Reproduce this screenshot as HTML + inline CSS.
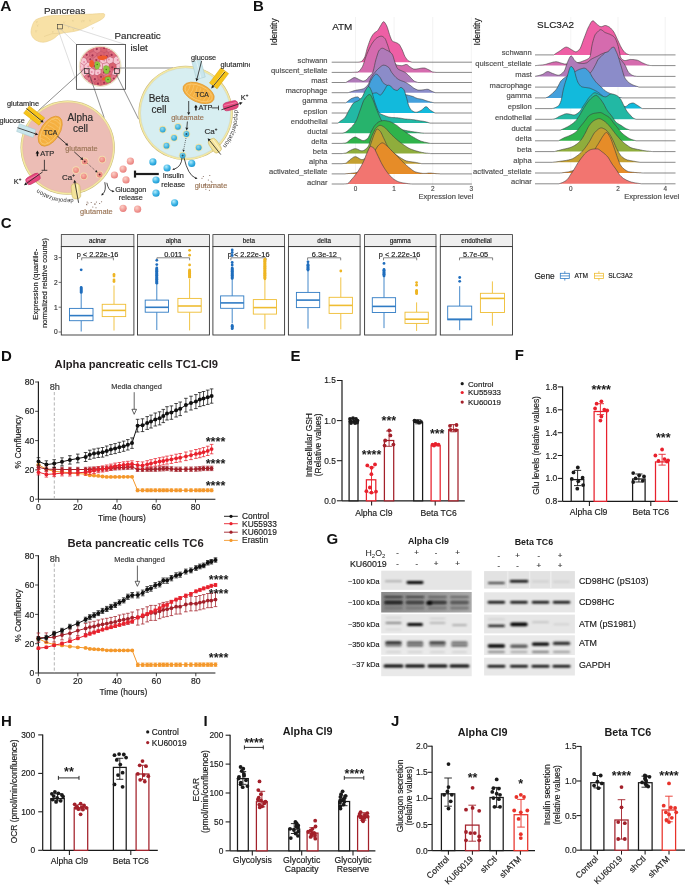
<!DOCTYPE html>
<html><head><meta charset="utf-8"><title>Figure</title>
<style>
html,body{margin:0;padding:0;background:#fff;}
body{width:685px;height:885px;overflow:hidden;}
svg{display:block;will-change:transform;font-family:"Liberation Sans", sans-serif;}
</style></head><body>
<svg width="685" height="885" viewBox="0 0 685 885" fill="#231f20">
<text x="252.9" y="10.8" font-size="15" font-weight="bold" fill="#111">B</text>
<line x1="355.5" y1="17" x2="355.5" y2="187" stroke="#ebebeb" stroke-width="0.6"/>
<line x1="394.1" y1="17" x2="394.1" y2="187" stroke="#ebebeb" stroke-width="0.6"/>
<line x1="432.7" y1="17" x2="432.7" y2="187" stroke="#ebebeb" stroke-width="0.6"/>
<line x1="471.3" y1="17" x2="471.3" y2="187" stroke="#ebebeb" stroke-width="0.6"/>
<path d="M358,62.2 L358,62.2 358.7,62.1 359.4,62 360.1,61.9 360.8,61.7 361.5,61.4 362.2,60.8 362.9,60.1 363.6,59.1 364.3,58.1 365,56.5 365.7,54.2 366.4,51.5 367.1,48.7 367.8,46.4 368.5,44.4 369.2,42.4 369.9,40.5 370.6,38.7 371.3,37.3 372,36.1 372.7,34.9 373.4,34 374.1,33.2 374.8,32.6 375.5,32.1 376.2,31.7 376.9,31.3 377.6,30.6 378.3,29.6 379,28.4 379.7,27.2 380.4,26.1 381.1,24.9 381.8,23.6 382.5,22.5 383.2,21.8 383.9,21.8 384.6,22.3 385.3,23.3 386,24.5 386.7,25.8 387.4,27.6 388.1,29.8 388.8,32.2 389.5,34.5 390.2,36.4 390.9,38.3 391.6,40 392.3,41.1 393,41.5 393.7,41.8 394.4,42 395.1,42.2 395.8,42.5 396.5,42.8 397.2,43.1 397.9,43.5 398.6,43.9 399.3,44.6 400,45.6 400.7,46.9 401.4,48.2 402.1,49.6 402.8,51.3 403.5,53.1 404.2,54.9 404.9,56.4 405.6,57.5 406.3,58.5 407,59.5 407.7,60.2 408.4,60.8 409.1,61.2 409.8,61.5 410.5,61.7 411.2,61.9 411.9,62.1 412.2,62.2 L412.2,62.2 Z" fill="#ee5fa5" stroke="none" stroke-width="1"/>
<polyline points="331.7,62.2 358,62.2 358.7,62.1 359.4,62 360.1,61.9 360.8,61.7 361.5,61.4 362.2,60.8 362.9,60.1 363.6,59.1 364.3,58.1 365,56.5 365.7,54.2 366.4,51.5 367.1,48.7 367.8,46.4 368.5,44.4 369.2,42.4 369.9,40.5 370.6,38.7 371.3,37.3 372,36.1 372.7,34.9 373.4,34 374.1,33.2 374.8,32.6 375.5,32.1 376.2,31.7 376.9,31.3 377.6,30.6 378.3,29.6 379,28.4 379.7,27.2 380.4,26.1 381.1,24.9 381.8,23.6 382.5,22.5 383.2,21.8 383.9,21.8 384.6,22.3 385.3,23.3 386,24.5 386.7,25.8 387.4,27.6 388.1,29.8 388.8,32.2 389.5,34.5 390.2,36.4 390.9,38.3 391.6,40 392.3,41.1 393,41.5 393.7,41.8 394.4,42 395.1,42.2 395.8,42.5 396.5,42.8 397.2,43.1 397.9,43.5 398.6,43.9 399.3,44.6 400,45.6 400.7,46.9 401.4,48.2 402.1,49.6 402.8,51.3 403.5,53.1 404.2,54.9 404.9,56.4 405.6,57.5 406.3,58.5 407,59.5 407.7,60.2 408.4,60.8 409.1,61.2 409.8,61.5 410.5,61.7 411.2,61.9 411.9,62.1 412.2,62.2 471.9,62.2" fill="none" stroke="#3a3a3a" stroke-width="0.6" stroke-linejoin="round"/>
<path d="M352,72.4 L352,72.4 352.7,72.3 353.4,72.3 354.1,72.3 354.8,72.2 355.5,72.2 356.2,72.1 356.9,72.1 357.6,72 358.3,71.7 359,71.2 359.7,70.5 360.4,69.7 361.1,68.7 361.8,67.7 362.5,66.6 363.2,64.9 363.9,62.9 364.6,60.7 365.3,58.5 366,56.4 366.7,54.6 367.4,52.9 368.1,51.3 368.8,49.7 369.5,48.2 370.2,46.8 370.9,45.5 371.6,44.2 372.3,43.1 373,42.1 373.7,41.2 374.4,40.3 375.1,39.5 375.8,38.7 376.5,38.1 377.2,37.7 377.9,37.3 378.6,36.9 379.3,36.6 380,36.4 380.7,36.2 381.4,36.2 382.1,36.3 382.8,36.6 383.5,37.1 384.2,37.7 384.9,38.4 385.6,39.5 386.3,41.3 387,43.3 387.7,45.2 388.4,47.3 389.1,49.5 389.8,51.7 390.5,53.7 391.2,55.9 391.9,57.9 392.6,59.8 393.3,61.2 394,62.3 394.7,63.2 395.4,64 396.1,64.6 396.8,65 397.5,65.2 398.2,65.3 398.9,65.4 399.6,65.5 400.3,65.6 401,65.6 401.7,65.7 402.4,65.6 403.1,65.4 403.8,65.1 404.5,64.9 405.2,64.6 405.9,64.5 406.6,64.5 407.3,64.7 408,65.3 408.7,65.9 409.4,66.5 410.1,67 410.8,67.4 411.5,67.9 412.2,68.3 412.9,68.7 413.6,69 414.3,69.1 415,69.1 415.7,69.1 416.4,69 417.1,68.9 417.8,68.8 418.5,68.7 419.2,68.6 419.9,68.4 420.6,68.3 421.3,68.2 422,68.1 422.7,68 423.4,68 424.1,68 424.8,68.1 425.5,68.3 426.2,68.6 426.9,68.9 427.6,69.3 428.3,69.6 429,69.9 429.7,70.3 430.4,70.7 431.1,71.2 431.8,71.6 432.5,71.9 433.2,72 433.9,72.1 434.6,72.2 435.3,72.3 436,72.3 436,72.4 L436,72.4 Z" fill="#d56bae" stroke="none" stroke-width="1"/>
<polyline points="331.7,72.4 352,72.4 352.7,72.3 353.4,72.3 354.1,72.3 354.8,72.2 355.5,72.2 356.2,72.1 356.9,72.1 357.6,72 358.3,71.7 359,71.2 359.7,70.5 360.4,69.7 361.1,68.7 361.8,67.7 362.5,66.6 363.2,64.9 363.9,62.9 364.6,60.7 365.3,58.5 366,56.4 366.7,54.6 367.4,52.9 368.1,51.3 368.8,49.7 369.5,48.2 370.2,46.8 370.9,45.5 371.6,44.2 372.3,43.1 373,42.1 373.7,41.2 374.4,40.3 375.1,39.5 375.8,38.7 376.5,38.1 377.2,37.7 377.9,37.3 378.6,36.9 379.3,36.6 380,36.4 380.7,36.2 381.4,36.2 382.1,36.3 382.8,36.6 383.5,37.1 384.2,37.7 384.9,38.4 385.6,39.5 386.3,41.3 387,43.3 387.7,45.2 388.4,47.3 389.1,49.5 389.8,51.7 390.5,53.7 391.2,55.9 391.9,57.9 392.6,59.8 393.3,61.2 394,62.3 394.7,63.2 395.4,64 396.1,64.6 396.8,65 397.5,65.2 398.2,65.3 398.9,65.4 399.6,65.5 400.3,65.6 401,65.6 401.7,65.7 402.4,65.6 403.1,65.4 403.8,65.1 404.5,64.9 405.2,64.6 405.9,64.5 406.6,64.5 407.3,64.7 408,65.3 408.7,65.9 409.4,66.5 410.1,67 410.8,67.4 411.5,67.9 412.2,68.3 412.9,68.7 413.6,69 414.3,69.1 415,69.1 415.7,69.1 416.4,69 417.1,68.9 417.8,68.8 418.5,68.7 419.2,68.6 419.9,68.4 420.6,68.3 421.3,68.2 422,68.1 422.7,68 423.4,68 424.1,68 424.8,68.1 425.5,68.3 426.2,68.6 426.9,68.9 427.6,69.3 428.3,69.6 429,69.9 429.7,70.3 430.4,70.7 431.1,71.2 431.8,71.6 432.5,71.9 433.2,72 433.9,72.1 434.6,72.2 435.3,72.3 436,72.3 436,72.4 471.9,72.4" fill="none" stroke="#3a3a3a" stroke-width="0.6" stroke-linejoin="round"/>
<path d="M345.8,82.5 L345.8,82.5 346.5,82.1 347.2,81.7 347.9,81.2 348.6,80.8 349.3,80.4 350,80 350.7,79.6 351.4,79.1 352.1,78.6 352.8,78.2 353.5,77.8 354.2,77.6 354.9,77.6 355.6,77.8 356.3,78.1 357,78.4 357.7,78.8 358.4,79.2 359.1,79.5 359.8,79.9 360.5,80.2 361.2,80.5 361.9,80.8 362.6,81 363.3,81.1 364,81 364.7,80.7 365.4,80.4 366.1,79.9 366.8,79.3 367.5,78.6 368.2,77.7 368.9,76.8 369.6,76.1 370.3,75.5 371,74.9 371.7,74.1 372.4,73.2 373.1,71.5 373.8,68.8 374.5,65.6 375.2,62.4 375.9,59.6 376.6,57.3 377.3,55 378,52.9 378.7,51.1 379.4,50 380.1,49.4 380.8,48.8 381.5,48.4 382.2,48.2 382.9,48.3 383.6,48.5 384.3,48.9 385,49.3 385.7,49.7 386.4,50.1 387.1,50.4 387.8,50.7 388.5,51.1 389.2,51.5 389.9,52 390.6,52.5 391.3,53.2 392,54 392.7,55.2 393.4,57.2 394.1,59.7 394.8,61.9 395.5,63.9 396.2,65.9 396.9,67.5 397.6,68.6 398.3,69.2 399,69.6 399.7,70 400.4,70.3 401.1,70.6 401.8,70.9 402.5,71.2 403.2,71.5 403.9,71.8 404.6,72.2 405.3,72.6 406,73.1 406.7,73.7 407.4,74.3 408.1,74.9 408.8,75.6 409.5,76.3 410.2,77.1 410.9,77.9 411.6,78.6 412.3,79.3 413,80.1 413.7,80.7 414.4,81.2 415.1,81.6 415.8,81.8 416.5,82 417.2,82.2 417.9,82.5 418,82.5 L418,82.5 Z" fill="#b07ab9" stroke="none" stroke-width="1"/>
<polyline points="331.7,82.5 345.8,82.5 346.5,82.1 347.2,81.7 347.9,81.2 348.6,80.8 349.3,80.4 350,80 350.7,79.6 351.4,79.1 352.1,78.6 352.8,78.2 353.5,77.8 354.2,77.6 354.9,77.6 355.6,77.8 356.3,78.1 357,78.4 357.7,78.8 358.4,79.2 359.1,79.5 359.8,79.9 360.5,80.2 361.2,80.5 361.9,80.8 362.6,81 363.3,81.1 364,81 364.7,80.7 365.4,80.4 366.1,79.9 366.8,79.3 367.5,78.6 368.2,77.7 368.9,76.8 369.6,76.1 370.3,75.5 371,74.9 371.7,74.1 372.4,73.2 373.1,71.5 373.8,68.8 374.5,65.6 375.2,62.4 375.9,59.6 376.6,57.3 377.3,55 378,52.9 378.7,51.1 379.4,50 380.1,49.4 380.8,48.8 381.5,48.4 382.2,48.2 382.9,48.3 383.6,48.5 384.3,48.9 385,49.3 385.7,49.7 386.4,50.1 387.1,50.4 387.8,50.7 388.5,51.1 389.2,51.5 389.9,52 390.6,52.5 391.3,53.2 392,54 392.7,55.2 393.4,57.2 394.1,59.7 394.8,61.9 395.5,63.9 396.2,65.9 396.9,67.5 397.6,68.6 398.3,69.2 399,69.6 399.7,70 400.4,70.3 401.1,70.6 401.8,70.9 402.5,71.2 403.2,71.5 403.9,71.8 404.6,72.2 405.3,72.6 406,73.1 406.7,73.7 407.4,74.3 408.1,74.9 408.8,75.6 409.5,76.3 410.2,77.1 410.9,77.9 411.6,78.6 412.3,79.3 413,80.1 413.7,80.7 414.4,81.2 415.1,81.6 415.8,81.8 416.5,82 417.2,82.2 417.9,82.5 418,82.5 471.9,82.5" fill="none" stroke="#3a3a3a" stroke-width="0.6" stroke-linejoin="round"/>
<path d="M348.2,92.7 L348.2,92.7 348.9,92.4 349.6,92.2 350.3,92 351,91.7 351.7,91.5 352.4,91.3 353.1,91 353.8,90.8 354.5,90.6 355.2,90.5 355.9,90.3 356.6,90.1 357.3,90 358,89.9 358.7,89.8 359.4,89.7 360.1,89.6 360.8,89.4 361.5,89.3 362.2,89.1 362.9,88.9 363.6,88.7 364.3,88.3 365,87.8 365.7,87.2 366.4,86.5 367.1,85.8 367.8,84.9 368.5,83.9 369.2,82.4 369.9,80.6 370.6,78.9 371.3,77.4 372,76.3 372.7,75.2 373.4,74.3 374.1,73.4 374.8,72.6 375.5,71.7 376.2,70.9 376.9,70.1 377.6,69.4 378.3,68.7 379,68.1 379.7,67.5 380.4,66.9 381.1,66.3 381.8,65.8 382.5,65.4 383.2,65.2 383.9,65.2 384.6,65.3 385.3,65.4 386,65.7 386.7,66.1 387.4,66.5 388.1,67 388.8,67.5 389.5,68.3 390.2,69.7 390.9,71.1 391.6,72.3 392.3,73.2 393,74.1 393.7,75 394.4,75.8 395.1,76.6 395.8,77.3 396.5,77.9 397.2,78.5 397.9,79 398.6,79.5 399.3,79.9 400,80.2 400.7,80.5 401.4,80.8 402.1,81 402.8,81.3 403.5,81.5 404.2,81.8 404.9,82.1 405.6,82.5 406.3,82.8 407,83.2 407.7,83.7 408.4,84.1 409.1,84.6 409.8,85 410.5,85.5 411.2,86.1 411.9,86.7 412.6,87.2 413.3,87.8 414,88.3 414.7,88.6 415.4,89 416.1,89.3 416.8,89.6 417.5,89.9 418.2,90.1 418.9,90.1 419.6,90.1 420.3,90.1 421,90 421.7,90 422.4,89.9 423.1,89.8 423.8,89.8 424.5,89.6 425.2,89.5 425.9,89.4 426.6,89.3 427.3,89.3 428,89.3 428.7,89.5 429.4,89.9 430.1,90.3 430.8,90.8 431.5,91.1 432.2,91.4 432.9,91.7 433.6,92 434.3,92.3 435,92.6 435,92.7 L435,92.7 Z" fill="#8b8cc9" stroke="none" stroke-width="1"/>
<polyline points="331.7,92.7 348.2,92.7 348.9,92.4 349.6,92.2 350.3,92 351,91.7 351.7,91.5 352.4,91.3 353.1,91 353.8,90.8 354.5,90.6 355.2,90.5 355.9,90.3 356.6,90.1 357.3,90 358,89.9 358.7,89.8 359.4,89.7 360.1,89.6 360.8,89.4 361.5,89.3 362.2,89.1 362.9,88.9 363.6,88.7 364.3,88.3 365,87.8 365.7,87.2 366.4,86.5 367.1,85.8 367.8,84.9 368.5,83.9 369.2,82.4 369.9,80.6 370.6,78.9 371.3,77.4 372,76.3 372.7,75.2 373.4,74.3 374.1,73.4 374.8,72.6 375.5,71.7 376.2,70.9 376.9,70.1 377.6,69.4 378.3,68.7 379,68.1 379.7,67.5 380.4,66.9 381.1,66.3 381.8,65.8 382.5,65.4 383.2,65.2 383.9,65.2 384.6,65.3 385.3,65.4 386,65.7 386.7,66.1 387.4,66.5 388.1,67 388.8,67.5 389.5,68.3 390.2,69.7 390.9,71.1 391.6,72.3 392.3,73.2 393,74.1 393.7,75 394.4,75.8 395.1,76.6 395.8,77.3 396.5,77.9 397.2,78.5 397.9,79 398.6,79.5 399.3,79.9 400,80.2 400.7,80.5 401.4,80.8 402.1,81 402.8,81.3 403.5,81.5 404.2,81.8 404.9,82.1 405.6,82.5 406.3,82.8 407,83.2 407.7,83.7 408.4,84.1 409.1,84.6 409.8,85 410.5,85.5 411.2,86.1 411.9,86.7 412.6,87.2 413.3,87.8 414,88.3 414.7,88.6 415.4,89 416.1,89.3 416.8,89.6 417.5,89.9 418.2,90.1 418.9,90.1 419.6,90.1 420.3,90.1 421,90 421.7,90 422.4,89.9 423.1,89.8 423.8,89.8 424.5,89.6 425.2,89.5 425.9,89.4 426.6,89.3 427.3,89.3 428,89.3 428.7,89.5 429.4,89.9 430.1,90.3 430.8,90.8 431.5,91.1 432.2,91.4 432.9,91.7 433.6,92 434.3,92.3 435,92.6 435,92.7 471.9,92.7" fill="none" stroke="#3a3a3a" stroke-width="0.6" stroke-linejoin="round"/>
<path d="M345.8,102.8 L345.8,102.8 346.5,102.3 347.2,101.8 347.9,101.2 348.6,100.6 349.3,100.1 350,99.6 350.7,99.1 351.4,98.6 352.1,98.3 352.8,98 353.5,97.8 354.2,97.5 354.9,97.3 355.6,97.1 356.3,97 357,96.9 357.7,96.9 358.4,97.3 359.1,97.9 359.8,98.6 360.5,99.1 361.2,99.2 361.9,99 362.6,98.6 363.3,98.1 364,97.4 364.7,96.7 365.4,95.3 366.1,93.3 366.8,91.1 367.5,88.9 368.2,87 368.9,85.2 369.6,83.4 370.3,81.6 371,80.2 371.7,79 372.4,77.9 373.1,76.8 373.8,75.9 374.5,75 375.2,74.4 375.9,74.1 376.6,74.2 377.3,74.5 378,75.1 378.7,75.9 379.4,76.7 380.1,77.5 380.8,78.7 381.5,80.1 382.2,81.4 382.9,82.5 383.6,83.2 384.3,83.7 385,84.2 385.7,84.6 386.4,85 387.1,85.5 387.8,86 388.5,86.5 389.2,87 389.9,87.5 390.6,87.9 391.3,88.4 392,88.8 392.7,89.2 393.4,89.6 394.1,90 394.8,90.3 395.5,90.7 396.2,91 396.9,91.3 397.6,91.6 398.3,91.9 399,92.2 399.7,92.5 400.4,92.8 401.1,93 401.8,93.3 402.5,93.6 403.2,93.8 403.9,94 404.6,94.3 405.3,94.5 406,94.7 406.7,94.9 407.4,95 408.1,95.2 408.8,95.4 409.5,95.5 410.2,95.7 410.9,95.9 411.6,96.1 412.3,96.3 413,96.5 413.7,96.8 414.4,97.2 415.1,97.5 415.8,97.9 416.5,98.1 417.2,98.4 417.9,98.5 418.6,98.7 419.3,98.8 420,98.9 420.7,99 421.4,99.2 422.1,99.3 422.8,99.5 423.5,99.7 424.2,100 424.9,100.2 425.6,100.5 426.3,100.7 427,101 427.7,101.2 428.4,101.4 429.1,101.6 429.8,101.8 430.5,102 431.2,102.1 431.9,102.3 432.6,102.5 433.3,102.6 434,102.8 434,102.8 L434,102.8 Z" fill="#44a0dc" stroke="none" stroke-width="1"/>
<polyline points="331.7,102.8 345.8,102.8 346.5,102.3 347.2,101.8 347.9,101.2 348.6,100.6 349.3,100.1 350,99.6 350.7,99.1 351.4,98.6 352.1,98.3 352.8,98 353.5,97.8 354.2,97.5 354.9,97.3 355.6,97.1 356.3,97 357,96.9 357.7,96.9 358.4,97.3 359.1,97.9 359.8,98.6 360.5,99.1 361.2,99.2 361.9,99 362.6,98.6 363.3,98.1 364,97.4 364.7,96.7 365.4,95.3 366.1,93.3 366.8,91.1 367.5,88.9 368.2,87 368.9,85.2 369.6,83.4 370.3,81.6 371,80.2 371.7,79 372.4,77.9 373.1,76.8 373.8,75.9 374.5,75 375.2,74.4 375.9,74.1 376.6,74.2 377.3,74.5 378,75.1 378.7,75.9 379.4,76.7 380.1,77.5 380.8,78.7 381.5,80.1 382.2,81.4 382.9,82.5 383.6,83.2 384.3,83.7 385,84.2 385.7,84.6 386.4,85 387.1,85.5 387.8,86 388.5,86.5 389.2,87 389.9,87.5 390.6,87.9 391.3,88.4 392,88.8 392.7,89.2 393.4,89.6 394.1,90 394.8,90.3 395.5,90.7 396.2,91 396.9,91.3 397.6,91.6 398.3,91.9 399,92.2 399.7,92.5 400.4,92.8 401.1,93 401.8,93.3 402.5,93.6 403.2,93.8 403.9,94 404.6,94.3 405.3,94.5 406,94.7 406.7,94.9 407.4,95 408.1,95.2 408.8,95.4 409.5,95.5 410.2,95.7 410.9,95.9 411.6,96.1 412.3,96.3 413,96.5 413.7,96.8 414.4,97.2 415.1,97.5 415.8,97.9 416.5,98.1 417.2,98.4 417.9,98.5 418.6,98.7 419.3,98.8 420,98.9 420.7,99 421.4,99.2 422.1,99.3 422.8,99.5 423.5,99.7 424.2,100 424.9,100.2 425.6,100.5 426.3,100.7 427,101 427.7,101.2 428.4,101.4 429.1,101.6 429.8,101.8 430.5,102 431.2,102.1 431.9,102.3 432.6,102.5 433.3,102.6 434,102.8 434,102.8 471.9,102.8" fill="none" stroke="#3a3a3a" stroke-width="0.6" stroke-linejoin="round"/>
<path d="M355,113 L355,113 355.7,112.5 356.4,112.2 357.1,111.8 357.8,111.4 358.5,111 359.2,110.5 359.9,110 360.6,109.5 361.3,108.9 362,108.3 362.7,107.6 363.4,106.8 364.1,106.1 364.8,105.2 365.5,104.2 366.2,103.1 366.9,101.8 367.6,100.6 368.3,99.5 369,98.3 369.7,97.1 370.4,95.9 371.1,94.9 371.8,94 372.5,93.5 373.2,93.3 373.9,93.1 374.6,93 375.3,92.9 376,92.9 376.7,92.9 377.4,93.3 378.1,93.8 378.8,94.4 379.5,94.8 380.2,95 380.9,94.8 381.6,94.2 382.3,93.2 383,92.1 383.7,91.1 384.4,90.1 385.1,88.8 385.8,87.5 386.5,86.3 387.2,85.5 387.9,85.2 388.6,85.2 389.3,85.4 390,85.7 390.7,86.1 391.4,86.8 392.1,87.7 392.8,88.5 393.5,89.1 394.2,89.5 394.9,89.8 395.6,90.1 396.3,90.3 397,90.3 397.7,90.2 398.4,89.6 399.1,88.7 399.8,87.9 400.5,87.5 401.2,87.5 401.9,87.8 402.6,88.3 403.3,89 404,89.8 404.7,91.5 405.4,93.8 406.1,96.3 406.8,98.6 407.5,101.4 408.2,104.1 408.9,106.1 409.6,107.5 410.3,108.7 411,109.7 411.7,110.4 412.4,110.9 413.1,111.3 413.8,111.7 414.5,112 415.2,112.2 415.9,112.2 416.6,112.2 417.3,112.1 418,111.8 418.7,111.6 419.4,111.2 420.1,110.9 420.8,110.5 421.5,110.2 422.2,109.6 422.9,108.9 423.6,108.2 424.3,107.6 425,107.1 425.7,106.8 426.4,106.8 427.1,107.1 427.8,107.7 428.5,108.5 429.2,109.2 429.9,109.9 430.6,110.4 431.3,110.8 432,111.2 432.7,111.7 433.4,112.1 434.1,112.5 434.8,112.9 434.9,113 L434.9,113 Z" fill="#12badc" stroke="none" stroke-width="1"/>
<polyline points="331.7,113 355,113 355.7,112.5 356.4,112.2 357.1,111.8 357.8,111.4 358.5,111 359.2,110.5 359.9,110 360.6,109.5 361.3,108.9 362,108.3 362.7,107.6 363.4,106.8 364.1,106.1 364.8,105.2 365.5,104.2 366.2,103.1 366.9,101.8 367.6,100.6 368.3,99.5 369,98.3 369.7,97.1 370.4,95.9 371.1,94.9 371.8,94 372.5,93.5 373.2,93.3 373.9,93.1 374.6,93 375.3,92.9 376,92.9 376.7,92.9 377.4,93.3 378.1,93.8 378.8,94.4 379.5,94.8 380.2,95 380.9,94.8 381.6,94.2 382.3,93.2 383,92.1 383.7,91.1 384.4,90.1 385.1,88.8 385.8,87.5 386.5,86.3 387.2,85.5 387.9,85.2 388.6,85.2 389.3,85.4 390,85.7 390.7,86.1 391.4,86.8 392.1,87.7 392.8,88.5 393.5,89.1 394.2,89.5 394.9,89.8 395.6,90.1 396.3,90.3 397,90.3 397.7,90.2 398.4,89.6 399.1,88.7 399.8,87.9 400.5,87.5 401.2,87.5 401.9,87.8 402.6,88.3 403.3,89 404,89.8 404.7,91.5 405.4,93.8 406.1,96.3 406.8,98.6 407.5,101.4 408.2,104.1 408.9,106.1 409.6,107.5 410.3,108.7 411,109.7 411.7,110.4 412.4,110.9 413.1,111.3 413.8,111.7 414.5,112 415.2,112.2 415.9,112.2 416.6,112.2 417.3,112.1 418,111.8 418.7,111.6 419.4,111.2 420.1,110.9 420.8,110.5 421.5,110.2 422.2,109.6 422.9,108.9 423.6,108.2 424.3,107.6 425,107.1 425.7,106.8 426.4,106.8 427.1,107.1 427.8,107.7 428.5,108.5 429.2,109.2 429.9,109.9 430.6,110.4 431.3,110.8 432,111.2 432.7,111.7 433.4,112.1 434.1,112.5 434.8,112.9 434.9,113 471.9,113" fill="none" stroke="#3a3a3a" stroke-width="0.6" stroke-linejoin="round"/>
<path d="M338,123.1 L338,123.1 338.7,122.5 339.4,121.9 340.1,121.3 340.8,120.8 341.5,120.3 342.2,119.9 342.9,119.4 343.6,118.9 344.3,118.3 345,117.6 345.7,116.5 346.4,115.3 347.1,113.9 347.8,112.5 348.5,111.1 349.2,109.9 349.9,108.7 350.6,107.5 351.3,106.3 352,105.1 352.7,104.1 353.4,103.2 354.1,102.6 354.8,102.2 355.5,101.9 356.2,101.6 356.9,101.3 357.6,101 358.3,100.6 359,100.2 359.7,99.6 360.4,99 361.1,98.3 361.8,97.4 362.5,96.5 363.2,95.1 363.9,93.6 364.6,92 365.3,90.6 366,89.4 366.7,88.3 367.4,87.3 368.1,86.6 368.8,86.4 369.5,87 370.2,88.2 370.9,89.7 371.6,91.2 372.3,93.2 373,95.7 373.7,98.3 374.4,100.9 375.1,103 375.8,104.9 376.5,106.8 377.2,108.7 377.9,110.4 378.6,111.8 379.3,112.8 380,113.4 380.7,113.9 381.4,114.3 382.1,114.6 382.8,114.9 383.5,115.2 384.2,115.4 384.9,115.7 385.6,116 386.3,116.2 387,116.5 387.7,116.7 388.4,116.9 389.1,117.1 389.8,117.2 390.5,117.3 391.2,117.4 391.9,117.5 392.6,117.5 393.3,117.6 394,117.6 394.7,117.6 395.4,117.7 396.1,117.7 396.8,117.8 397.5,117.8 398.2,117.9 398.9,118 399.6,118.1 400.3,118.2 401,118.3 401.7,118.4 402.4,118.5 403.1,118.7 403.8,118.8 404.5,118.9 405.2,119 405.9,119.1 406.6,119.1 407.3,119.2 408,119.2 408.7,119.3 409.4,119.3 410.1,119.4 410.8,119.4 411.5,119.5 412.2,119.6 412.9,119.7 413.6,119.7 414.3,119.8 415,120 415.7,120.1 416.4,120.2 417.1,120.3 417.8,120.4 418.5,120.6 419.2,120.7 419.9,120.8 420.6,120.9 421.3,121 422,121.1 422.7,121.2 423.4,121.3 424.1,121.4 424.8,121.6 425.5,121.7 426.2,121.9 426.9,122.1 427.6,122.3 428.3,122.6 429,122.8 429.7,123 430,123.1 L430,123.1 Z" fill="#22b8a4" stroke="none" stroke-width="1"/>
<polyline points="331.7,123.1 338,123.1 338.7,122.5 339.4,121.9 340.1,121.3 340.8,120.8 341.5,120.3 342.2,119.9 342.9,119.4 343.6,118.9 344.3,118.3 345,117.6 345.7,116.5 346.4,115.3 347.1,113.9 347.8,112.5 348.5,111.1 349.2,109.9 349.9,108.7 350.6,107.5 351.3,106.3 352,105.1 352.7,104.1 353.4,103.2 354.1,102.6 354.8,102.2 355.5,101.9 356.2,101.6 356.9,101.3 357.6,101 358.3,100.6 359,100.2 359.7,99.6 360.4,99 361.1,98.3 361.8,97.4 362.5,96.5 363.2,95.1 363.9,93.6 364.6,92 365.3,90.6 366,89.4 366.7,88.3 367.4,87.3 368.1,86.6 368.8,86.4 369.5,87 370.2,88.2 370.9,89.7 371.6,91.2 372.3,93.2 373,95.7 373.7,98.3 374.4,100.9 375.1,103 375.8,104.9 376.5,106.8 377.2,108.7 377.9,110.4 378.6,111.8 379.3,112.8 380,113.4 380.7,113.9 381.4,114.3 382.1,114.6 382.8,114.9 383.5,115.2 384.2,115.4 384.9,115.7 385.6,116 386.3,116.2 387,116.5 387.7,116.7 388.4,116.9 389.1,117.1 389.8,117.2 390.5,117.3 391.2,117.4 391.9,117.5 392.6,117.5 393.3,117.6 394,117.6 394.7,117.6 395.4,117.7 396.1,117.7 396.8,117.8 397.5,117.8 398.2,117.9 398.9,118 399.6,118.1 400.3,118.2 401,118.3 401.7,118.4 402.4,118.5 403.1,118.7 403.8,118.8 404.5,118.9 405.2,119 405.9,119.1 406.6,119.1 407.3,119.2 408,119.2 408.7,119.3 409.4,119.3 410.1,119.4 410.8,119.4 411.5,119.5 412.2,119.6 412.9,119.7 413.6,119.7 414.3,119.8 415,120 415.7,120.1 416.4,120.2 417.1,120.3 417.8,120.4 418.5,120.6 419.2,120.7 419.9,120.8 420.6,120.9 421.3,121 422,121.1 422.7,121.2 423.4,121.3 424.1,121.4 424.8,121.6 425.5,121.7 426.2,121.9 426.9,122.1 427.6,122.3 428.3,122.6 429,122.8 429.7,123 430,123.1 471.9,123.1" fill="none" stroke="#3a3a3a" stroke-width="0.6" stroke-linejoin="round"/>
<path d="M342,133.2 L342,133.2 342.7,133.1 343.4,132.9 344.1,132.7 344.8,132.5 345.5,132.2 346.2,131.7 346.9,131.3 347.6,130.7 348.3,130.1 349,129.5 349.7,128.9 350.4,128.2 351.1,127.5 351.8,126.7 352.5,126 353.2,125.2 353.9,124.3 354.6,123.4 355.3,122.3 356,121.1 356.7,119.7 357.4,118 358.1,116 358.8,113.9 359.5,111.9 360.2,110 360.9,108.1 361.6,106 362.3,104 363,102.1 363.7,100.5 364.4,99.3 365.1,98.4 365.8,97.5 366.5,96.6 367.2,95.9 367.9,95.2 368.6,94.8 369.3,94.5 370,94.5 370.7,95.1 371.4,96.4 372.1,97.9 372.8,99.4 373.5,101 374.2,102.9 374.9,104.9 375.6,106.9 376.3,108.7 377,110.4 377.7,112.1 378.4,113.7 379.1,115.3 379.8,116.9 380.5,118.5 381.2,120 381.9,121.2 382.6,122.1 383.3,122.9 384,123.5 384.7,124.1 385.4,124.5 386.1,124.9 386.8,125.3 387.5,125.6 388.2,125.9 388.9,126.2 389.6,126.4 390.3,126.7 391,126.9 391.7,127.2 392.4,127.4 393.1,127.6 393.8,127.8 394.5,128 395.2,128.1 395.9,128.3 396.6,128.5 397.3,128.6 398,128.8 398.7,129 399.4,129.1 400.1,129.3 400.8,129.4 401.5,129.6 402.2,129.7 402.9,129.9 403.6,130 404.3,130.2 405,130.3 405.7,130.5 406.4,130.6 407.1,130.7 407.8,130.9 408.5,131 409.2,131.1 409.9,131.2 410.6,131.4 411.3,131.5 412,131.6 412.7,131.7 413.4,131.8 414.1,131.9 414.8,132 415.5,132.1 416.2,132.2 416.9,132.3 417.6,132.4 418.3,132.5 419,132.6 419.7,132.7 420.4,132.8 421.1,132.9 421.8,132.9 422.5,133 423.2,133.1 423.9,133.1 424.6,133.2 425,133.2 L425,133.2 Z" fill="#27b36c" stroke="none" stroke-width="1"/>
<polyline points="331.7,133.2 342,133.2 342.7,133.1 343.4,132.9 344.1,132.7 344.8,132.5 345.5,132.2 346.2,131.7 346.9,131.3 347.6,130.7 348.3,130.1 349,129.5 349.7,128.9 350.4,128.2 351.1,127.5 351.8,126.7 352.5,126 353.2,125.2 353.9,124.3 354.6,123.4 355.3,122.3 356,121.1 356.7,119.7 357.4,118 358.1,116 358.8,113.9 359.5,111.9 360.2,110 360.9,108.1 361.6,106 362.3,104 363,102.1 363.7,100.5 364.4,99.3 365.1,98.4 365.8,97.5 366.5,96.6 367.2,95.9 367.9,95.2 368.6,94.8 369.3,94.5 370,94.5 370.7,95.1 371.4,96.4 372.1,97.9 372.8,99.4 373.5,101 374.2,102.9 374.9,104.9 375.6,106.9 376.3,108.7 377,110.4 377.7,112.1 378.4,113.7 379.1,115.3 379.8,116.9 380.5,118.5 381.2,120 381.9,121.2 382.6,122.1 383.3,122.9 384,123.5 384.7,124.1 385.4,124.5 386.1,124.9 386.8,125.3 387.5,125.6 388.2,125.9 388.9,126.2 389.6,126.4 390.3,126.7 391,126.9 391.7,127.2 392.4,127.4 393.1,127.6 393.8,127.8 394.5,128 395.2,128.1 395.9,128.3 396.6,128.5 397.3,128.6 398,128.8 398.7,129 399.4,129.1 400.1,129.3 400.8,129.4 401.5,129.6 402.2,129.7 402.9,129.9 403.6,130 404.3,130.2 405,130.3 405.7,130.5 406.4,130.6 407.1,130.7 407.8,130.9 408.5,131 409.2,131.1 409.9,131.2 410.6,131.4 411.3,131.5 412,131.6 412.7,131.7 413.4,131.8 414.1,131.9 414.8,132 415.5,132.1 416.2,132.2 416.9,132.3 417.6,132.4 418.3,132.5 419,132.6 419.7,132.7 420.4,132.8 421.1,132.9 421.8,132.9 422.5,133 423.2,133.1 423.9,133.1 424.6,133.2 425,133.2 471.9,133.2" fill="none" stroke="#3a3a3a" stroke-width="0.6" stroke-linejoin="round"/>
<path d="M342,143.4 L342,143.4 342.7,143.3 343.4,143.2 344.1,143.2 344.8,143.1 345.5,143 346.2,142.8 346.9,142.4 347.6,141.9 348.3,141.3 349,140.7 349.7,140.1 350.4,139.6 351.1,139.1 351.8,138.6 352.5,138.1 353.2,137.7 353.9,137.3 354.6,137.1 355.3,137 356,137.1 356.7,137.5 357.4,137.9 358.1,138.4 358.8,138.8 359.5,139.1 360.2,139.5 360.9,139.8 361.6,140.2 362.3,140.4 363,140.6 363.7,140.6 364.4,140.4 365.1,140.2 365.8,139.8 366.5,139.3 367.2,138.8 367.9,138.2 368.6,137.1 369.3,135.6 370,134 370.7,132.6 371.4,131.3 372.1,130 372.8,128.7 373.5,127.4 374.2,126.3 374.9,125.4 375.6,124.6 376.3,123.9 377,123.2 377.7,122.6 378.4,122.1 379.1,121.7 379.8,121.5 380.5,121.2 381.2,121 381.9,120.8 382.6,120.7 383.3,120.6 384,120.6 384.7,120.6 385.4,120.7 386.1,120.8 386.8,120.9 387.5,121.1 388.2,121.2 388.9,121.4 389.6,121.6 390.3,121.8 391,122.1 391.7,122.4 392.4,122.8 393.1,123.1 393.8,123.6 394.5,124 395.2,124.4 395.9,124.9 396.6,125.3 397.3,125.8 398,126.4 398.7,126.9 399.4,127.5 400.1,128.1 400.8,128.6 401.5,129.1 402.2,129.7 402.9,130.2 403.6,130.7 404.3,131.2 405,131.7 405.7,132.3 406.4,132.7 407.1,133.2 407.8,133.7 408.5,134.2 409.2,134.6 409.9,135.1 410.6,135.6 411.3,136 412,136.4 412.7,136.8 413.4,137.2 414.1,137.6 414.8,138 415.5,138.4 416.2,138.8 416.9,139.2 417.6,139.6 418.3,139.9 419,140.3 419.7,140.6 420.4,140.9 421.1,141.2 421.8,141.4 422.5,141.6 423.2,141.8 423.9,142 424.6,142.2 425.3,142.3 426,142.5 426.7,142.6 427.4,142.7 428.1,142.9 428.8,143 429.5,143.2 430.2,143.3 430.5,143.4 L430.5,143.4 Z" fill="#2fb34b" stroke="none" stroke-width="1"/>
<polyline points="331.7,143.4 342,143.4 342.7,143.3 343.4,143.2 344.1,143.2 344.8,143.1 345.5,143 346.2,142.8 346.9,142.4 347.6,141.9 348.3,141.3 349,140.7 349.7,140.1 350.4,139.6 351.1,139.1 351.8,138.6 352.5,138.1 353.2,137.7 353.9,137.3 354.6,137.1 355.3,137 356,137.1 356.7,137.5 357.4,137.9 358.1,138.4 358.8,138.8 359.5,139.1 360.2,139.5 360.9,139.8 361.6,140.2 362.3,140.4 363,140.6 363.7,140.6 364.4,140.4 365.1,140.2 365.8,139.8 366.5,139.3 367.2,138.8 367.9,138.2 368.6,137.1 369.3,135.6 370,134 370.7,132.6 371.4,131.3 372.1,130 372.8,128.7 373.5,127.4 374.2,126.3 374.9,125.4 375.6,124.6 376.3,123.9 377,123.2 377.7,122.6 378.4,122.1 379.1,121.7 379.8,121.5 380.5,121.2 381.2,121 381.9,120.8 382.6,120.7 383.3,120.6 384,120.6 384.7,120.6 385.4,120.7 386.1,120.8 386.8,120.9 387.5,121.1 388.2,121.2 388.9,121.4 389.6,121.6 390.3,121.8 391,122.1 391.7,122.4 392.4,122.8 393.1,123.1 393.8,123.6 394.5,124 395.2,124.4 395.9,124.9 396.6,125.3 397.3,125.8 398,126.4 398.7,126.9 399.4,127.5 400.1,128.1 400.8,128.6 401.5,129.1 402.2,129.7 402.9,130.2 403.6,130.7 404.3,131.2 405,131.7 405.7,132.3 406.4,132.7 407.1,133.2 407.8,133.7 408.5,134.2 409.2,134.6 409.9,135.1 410.6,135.6 411.3,136 412,136.4 412.7,136.8 413.4,137.2 414.1,137.6 414.8,138 415.5,138.4 416.2,138.8 416.9,139.2 417.6,139.6 418.3,139.9 419,140.3 419.7,140.6 420.4,140.9 421.1,141.2 421.8,141.4 422.5,141.6 423.2,141.8 423.9,142 424.6,142.2 425.3,142.3 426,142.5 426.7,142.6 427.4,142.7 428.1,142.9 428.8,143 429.5,143.2 430.2,143.3 430.5,143.4 471.9,143.4" fill="none" stroke="#3a3a3a" stroke-width="0.6" stroke-linejoin="round"/>
<path d="M342,153.6 L342,153.6 342.7,153.5 343.4,153.4 344.1,153.3 344.8,153.2 345.5,153.1 346.2,152.9 346.9,152.6 347.6,152.1 348.3,151.6 349,151.1 349.7,150.7 350.4,150.4 351.1,150 351.8,149.7 352.5,149.4 353.2,149.1 353.9,148.9 354.6,148.7 355.3,148.7 356,148.7 356.7,148.9 357.4,149.2 358.1,149.5 358.8,149.8 359.5,150.2 360.2,150.5 360.9,150.7 361.6,150.8 362.3,150.8 363,150.7 363.7,150.4 364.4,150.1 365.1,149.6 365.8,149 366.5,148.4 367.2,147.8 367.9,147 368.6,145.7 369.3,143.9 370,141.7 370.7,139.4 371.4,137.3 372.1,135.6 372.8,134 373.5,132.5 374.2,131.1 374.9,129.7 375.6,128.6 376.3,127.7 377,127.1 377.7,126.5 378.4,126 379.1,125.6 379.8,125.4 380.5,125.4 381.2,125.5 381.9,125.8 382.6,126.2 383.3,126.6 384,127 384.7,127.5 385.4,128.1 386.1,128.8 386.8,129.5 387.5,130.3 388.2,131.1 388.9,131.9 389.6,132.6 390.3,133.4 391,134.1 391.7,134.8 392.4,135.5 393.1,136.2 393.8,136.9 394.5,137.5 395.2,138.2 395.9,138.8 396.6,139.4 397.3,140 398,140.6 398.7,141.2 399.4,141.7 400.1,142.3 400.8,142.8 401.5,143.3 402.2,143.8 402.9,144.3 403.6,144.8 404.3,145.3 405,145.8 405.7,146.2 406.4,146.7 407.1,147.1 407.8,147.6 408.5,148 409.2,148.3 409.9,148.7 410.6,149 411.3,149.3 412,149.5 412.7,149.8 413.4,150 414.1,150.3 414.8,150.5 415.5,150.7 416.2,150.9 416.9,151.1 417.6,151.3 418.3,151.5 419,151.7 419.7,151.9 420.4,152 421.1,152.2 421.8,152.4 422.5,152.5 423.2,152.6 423.9,152.8 424.6,152.9 425.3,153 426,153.1 426.7,153.2 427.4,153.2 428.1,153.3 428.8,153.4 429.5,153.4 430.2,153.5 430.5,153.6 L430.5,153.6 Z" fill="#8fad3c" stroke="none" stroke-width="1"/>
<polyline points="331.7,153.6 342,153.6 342.7,153.5 343.4,153.4 344.1,153.3 344.8,153.2 345.5,153.1 346.2,152.9 346.9,152.6 347.6,152.1 348.3,151.6 349,151.1 349.7,150.7 350.4,150.4 351.1,150 351.8,149.7 352.5,149.4 353.2,149.1 353.9,148.9 354.6,148.7 355.3,148.7 356,148.7 356.7,148.9 357.4,149.2 358.1,149.5 358.8,149.8 359.5,150.2 360.2,150.5 360.9,150.7 361.6,150.8 362.3,150.8 363,150.7 363.7,150.4 364.4,150.1 365.1,149.6 365.8,149 366.5,148.4 367.2,147.8 367.9,147 368.6,145.7 369.3,143.9 370,141.7 370.7,139.4 371.4,137.3 372.1,135.6 372.8,134 373.5,132.5 374.2,131.1 374.9,129.7 375.6,128.6 376.3,127.7 377,127.1 377.7,126.5 378.4,126 379.1,125.6 379.8,125.4 380.5,125.4 381.2,125.5 381.9,125.8 382.6,126.2 383.3,126.6 384,127 384.7,127.5 385.4,128.1 386.1,128.8 386.8,129.5 387.5,130.3 388.2,131.1 388.9,131.9 389.6,132.6 390.3,133.4 391,134.1 391.7,134.8 392.4,135.5 393.1,136.2 393.8,136.9 394.5,137.5 395.2,138.2 395.9,138.8 396.6,139.4 397.3,140 398,140.6 398.7,141.2 399.4,141.7 400.1,142.3 400.8,142.8 401.5,143.3 402.2,143.8 402.9,144.3 403.6,144.8 404.3,145.3 405,145.8 405.7,146.2 406.4,146.7 407.1,147.1 407.8,147.6 408.5,148 409.2,148.3 409.9,148.7 410.6,149 411.3,149.3 412,149.5 412.7,149.8 413.4,150 414.1,150.3 414.8,150.5 415.5,150.7 416.2,150.9 416.9,151.1 417.6,151.3 418.3,151.5 419,151.7 419.7,151.9 420.4,152 421.1,152.2 421.8,152.4 422.5,152.5 423.2,152.6 423.9,152.8 424.6,152.9 425.3,153 426,153.1 426.7,153.2 427.4,153.2 428.1,153.3 428.8,153.4 429.5,153.4 430.2,153.5 430.5,153.6 471.9,153.6" fill="none" stroke="#3a3a3a" stroke-width="0.6" stroke-linejoin="round"/>
<path d="M342,163.7 L342,163.7 342.7,163.6 343.4,163.5 344.1,163.5 344.8,163.4 345.5,163.3 346.2,163.1 346.9,162.6 347.6,162 348.3,161.3 349,160.6 349.7,159.9 350.4,159.4 351.1,158.9 351.8,158.4 352.5,157.9 353.2,157.4 353.9,157 354.6,156.8 355.3,156.7 356,156.8 356.7,157 357.4,157.4 358.1,157.8 358.8,158.3 359.5,158.7 360.2,159.1 360.9,159.4 361.6,159.6 362.3,159.6 363,159.5 363.7,159.2 364.4,158.9 365.1,158.5 365.8,158.1 366.5,157.5 367.2,156.2 367.9,154.3 368.6,151.8 369.3,149.2 370,146.6 370.7,144.3 371.4,142.2 372.1,140.1 372.8,138 373.5,136 374.2,134.3 374.9,132.7 375.6,131.1 376.3,129.8 377,129 377.7,129.1 378.4,129.5 379.1,130.1 379.8,130.8 380.5,131.6 381.2,132.8 381.9,134.2 382.6,135.8 383.3,137.4 384,138.8 384.7,140.3 385.4,141.8 386.1,143.4 386.8,144.8 387.5,146.1 388.2,147.2 388.9,148.1 389.6,148.9 390.3,149.7 391,150.4 391.7,151 392.4,151.6 393.1,152.2 393.8,152.8 394.5,153.4 395.2,154 395.9,154.6 396.6,155.1 397.3,155.6 398,156.1 398.7,156.6 399.4,157.1 400.1,157.5 400.8,158 401.5,158.4 402.2,158.8 402.9,159.2 403.6,159.6 404.3,160 405,160.3 405.7,160.6 406.4,160.9 407.1,161.1 407.8,161.2 408.5,161.4 409.2,161.5 409.9,161.6 410.6,161.7 411.3,161.8 412,161.9 412.7,162 413.4,162.1 414.1,162.2 414.8,162.3 415.5,162.4 416.2,162.6 416.9,162.7 417.6,162.8 418.3,163 419,163.1 419.7,163.3 420.4,163.4 421.1,163.6 421.8,163.7 421.8,163.7 L421.8,163.7 Z" fill="#c4a030" stroke="none" stroke-width="1"/>
<polyline points="331.7,163.7 342,163.7 342.7,163.6 343.4,163.5 344.1,163.5 344.8,163.4 345.5,163.3 346.2,163.1 346.9,162.6 347.6,162 348.3,161.3 349,160.6 349.7,159.9 350.4,159.4 351.1,158.9 351.8,158.4 352.5,157.9 353.2,157.4 353.9,157 354.6,156.8 355.3,156.7 356,156.8 356.7,157 357.4,157.4 358.1,157.8 358.8,158.3 359.5,158.7 360.2,159.1 360.9,159.4 361.6,159.6 362.3,159.6 363,159.5 363.7,159.2 364.4,158.9 365.1,158.5 365.8,158.1 366.5,157.5 367.2,156.2 367.9,154.3 368.6,151.8 369.3,149.2 370,146.6 370.7,144.3 371.4,142.2 372.1,140.1 372.8,138 373.5,136 374.2,134.3 374.9,132.7 375.6,131.1 376.3,129.8 377,129 377.7,129.1 378.4,129.5 379.1,130.1 379.8,130.8 380.5,131.6 381.2,132.8 381.9,134.2 382.6,135.8 383.3,137.4 384,138.8 384.7,140.3 385.4,141.8 386.1,143.4 386.8,144.8 387.5,146.1 388.2,147.2 388.9,148.1 389.6,148.9 390.3,149.7 391,150.4 391.7,151 392.4,151.6 393.1,152.2 393.8,152.8 394.5,153.4 395.2,154 395.9,154.6 396.6,155.1 397.3,155.6 398,156.1 398.7,156.6 399.4,157.1 400.1,157.5 400.8,158 401.5,158.4 402.2,158.8 402.9,159.2 403.6,159.6 404.3,160 405,160.3 405.7,160.6 406.4,160.9 407.1,161.1 407.8,161.2 408.5,161.4 409.2,161.5 409.9,161.6 410.6,161.7 411.3,161.8 412,161.9 412.7,162 413.4,162.1 414.1,162.2 414.8,162.3 415.5,162.4 416.2,162.6 416.9,162.7 417.6,162.8 418.3,163 419,163.1 419.7,163.3 420.4,163.4 421.1,163.6 421.8,163.7 421.8,163.7 471.9,163.7" fill="none" stroke="#3a3a3a" stroke-width="0.6" stroke-linejoin="round"/>
<path d="M345,173.9 L345,173.9 345.7,173.8 346.4,173.7 347.1,173.7 347.8,173.6 348.5,173.5 349.2,173.5 349.9,173.4 350.6,173.4 351.3,173.3 352,173.2 352.7,173.2 353.4,173.1 354.1,173 354.8,172.9 355.5,172.8 356.2,172.6 356.9,172.5 357.6,172.3 358.3,172.1 359,171.9 359.7,171.7 360.4,171.5 361.1,171.2 361.8,170.9 362.5,170.6 363.2,170.2 363.9,169.8 364.6,169.3 365.3,168.7 366,168 366.7,167.3 367.4,166.6 368.1,165.7 368.8,164.7 369.5,163.4 370.2,161.9 370.9,160.3 371.6,158.7 372.3,157.2 373,155.6 373.7,153.9 374.4,152.2 375.1,150.6 375.8,149.2 376.5,148 377.2,147 377.9,146 378.6,145.2 379.3,144.6 380,144 380.7,143.5 381.4,143.1 382.1,142.9 382.8,142.9 383.5,143.2 384.2,143.6 384.9,144.2 385.6,144.8 386.3,145.4 387,146 387.7,146.6 388.4,147.3 389.1,148 389.8,148.7 390.5,149.4 391.2,150.2 391.9,150.9 392.6,151.6 393.3,152.3 394,153 394.7,153.7 395.4,154.4 396.1,155.1 396.8,155.8 397.5,156.5 398.2,157.2 398.9,158 399.6,158.7 400.3,159.4 401,160.1 401.7,160.8 402.4,161.5 403.1,162.2 403.8,162.9 404.5,163.5 405.2,164.2 405.9,164.8 406.6,165.5 407.3,166.1 408,166.7 408.7,167.3 409.4,167.8 410.1,168.3 410.8,168.9 411.5,169.4 412.2,170 412.9,170.5 413.6,170.9 414.3,171.4 415,171.7 415.7,172 416.4,172.2 417.1,172.4 417.8,172.5 418.5,172.7 419.2,172.8 419.9,173 420.6,173.1 421.3,173.2 422,173.3 422.7,173.4 423.4,173.4 424.1,173.4 424.8,173.4 425.5,173.4 426.2,173.4 426.9,173.3 427.6,173.2 428.3,173.1 429,173.1 429.7,173.1 430.4,173.1 431.1,173.1 431.8,173.2 432.5,173.3 433.2,173.3 433.9,173.4 434.6,173.5 435.3,173.6 436,173.6 436.7,173.7 437.4,173.7 438.1,173.7 438.8,173.8 439.5,173.8 440,173.9 L440,173.9 Z" fill="#e68c28" stroke="none" stroke-width="1"/>
<polyline points="331.7,173.9 345,173.9 345.7,173.8 346.4,173.7 347.1,173.7 347.8,173.6 348.5,173.5 349.2,173.5 349.9,173.4 350.6,173.4 351.3,173.3 352,173.2 352.7,173.2 353.4,173.1 354.1,173 354.8,172.9 355.5,172.8 356.2,172.6 356.9,172.5 357.6,172.3 358.3,172.1 359,171.9 359.7,171.7 360.4,171.5 361.1,171.2 361.8,170.9 362.5,170.6 363.2,170.2 363.9,169.8 364.6,169.3 365.3,168.7 366,168 366.7,167.3 367.4,166.6 368.1,165.7 368.8,164.7 369.5,163.4 370.2,161.9 370.9,160.3 371.6,158.7 372.3,157.2 373,155.6 373.7,153.9 374.4,152.2 375.1,150.6 375.8,149.2 376.5,148 377.2,147 377.9,146 378.6,145.2 379.3,144.6 380,144 380.7,143.5 381.4,143.1 382.1,142.9 382.8,142.9 383.5,143.2 384.2,143.6 384.9,144.2 385.6,144.8 386.3,145.4 387,146 387.7,146.6 388.4,147.3 389.1,148 389.8,148.7 390.5,149.4 391.2,150.2 391.9,150.9 392.6,151.6 393.3,152.3 394,153 394.7,153.7 395.4,154.4 396.1,155.1 396.8,155.8 397.5,156.5 398.2,157.2 398.9,158 399.6,158.7 400.3,159.4 401,160.1 401.7,160.8 402.4,161.5 403.1,162.2 403.8,162.9 404.5,163.5 405.2,164.2 405.9,164.8 406.6,165.5 407.3,166.1 408,166.7 408.7,167.3 409.4,167.8 410.1,168.3 410.8,168.9 411.5,169.4 412.2,170 412.9,170.5 413.6,170.9 414.3,171.4 415,171.7 415.7,172 416.4,172.2 417.1,172.4 417.8,172.5 418.5,172.7 419.2,172.8 419.9,173 420.6,173.1 421.3,173.2 422,173.3 422.7,173.4 423.4,173.4 424.1,173.4 424.8,173.4 425.5,173.4 426.2,173.4 426.9,173.3 427.6,173.2 428.3,173.1 429,173.1 429.7,173.1 430.4,173.1 431.1,173.1 431.8,173.2 432.5,173.3 433.2,173.3 433.9,173.4 434.6,173.5 435.3,173.6 436,173.6 436.7,173.7 437.4,173.7 438.1,173.7 438.8,173.8 439.5,173.8 440,173.9 471.9,173.9" fill="none" stroke="#3a3a3a" stroke-width="0.6" stroke-linejoin="round"/>
<path d="M344,184 L344,184 344.7,183.9 345.4,183.9 346.1,183.8 346.8,183.8 347.5,183.7 348.2,183.3 348.9,182.7 349.6,181.9 350.3,181 351,180.1 351.7,179.3 352.4,178.5 353.1,177.7 353.8,176.9 354.5,176 355.2,175.1 355.9,174.2 356.6,173.3 357.3,172.3 358,171.3 358.7,170.2 359.4,169.1 360.1,167.9 360.8,166.7 361.5,165.5 362.2,164.2 362.9,162.8 363.6,161.4 364.3,159.7 365,157.9 365.7,156.1 366.4,154.3 367.1,152.8 367.8,151.2 368.5,149.6 369.2,148.1 369.9,147 370.6,146.5 371.3,146.6 372,146.9 372.7,147.3 373.4,147.8 374.1,148.4 374.8,149.4 375.5,150.7 376.2,152.2 376.9,153.7 377.6,155.2 378.3,156.6 379,158 379.7,159.5 380.4,161 381.1,162.4 381.8,163.8 382.5,165 383.2,166.2 383.9,167.4 384.6,168.5 385.3,169.6 386,170.6 386.7,171.6 387.4,172.5 388.1,173.4 388.8,174.2 389.5,175 390.2,175.8 390.9,176.6 391.6,177.3 392.3,178 393,178.6 393.7,179.1 394.4,179.6 395.1,180 395.8,180.4 396.5,180.8 397.2,181.2 397.9,181.5 398.6,181.8 399.3,182 400,182.2 400.7,182.4 401.4,182.6 402.1,182.7 402.8,182.9 403.5,183 404.2,183.1 404.9,183.2 405.6,183.3 406.3,183.4 407,183.5 407.7,183.6 408.4,183.7 409.1,183.8 409.8,183.8 410.5,183.9 411.2,183.9 411.9,184 412,184 L412,184 Z" fill="#f27570" stroke="none" stroke-width="1"/>
<polyline points="331.7,184 344,184 344.7,183.9 345.4,183.9 346.1,183.8 346.8,183.8 347.5,183.7 348.2,183.3 348.9,182.7 349.6,181.9 350.3,181 351,180.1 351.7,179.3 352.4,178.5 353.1,177.7 353.8,176.9 354.5,176 355.2,175.1 355.9,174.2 356.6,173.3 357.3,172.3 358,171.3 358.7,170.2 359.4,169.1 360.1,167.9 360.8,166.7 361.5,165.5 362.2,164.2 362.9,162.8 363.6,161.4 364.3,159.7 365,157.9 365.7,156.1 366.4,154.3 367.1,152.8 367.8,151.2 368.5,149.6 369.2,148.1 369.9,147 370.6,146.5 371.3,146.6 372,146.9 372.7,147.3 373.4,147.8 374.1,148.4 374.8,149.4 375.5,150.7 376.2,152.2 376.9,153.7 377.6,155.2 378.3,156.6 379,158 379.7,159.5 380.4,161 381.1,162.4 381.8,163.8 382.5,165 383.2,166.2 383.9,167.4 384.6,168.5 385.3,169.6 386,170.6 386.7,171.6 387.4,172.5 388.1,173.4 388.8,174.2 389.5,175 390.2,175.8 390.9,176.6 391.6,177.3 392.3,178 393,178.6 393.7,179.1 394.4,179.6 395.1,180 395.8,180.4 396.5,180.8 397.2,181.2 397.9,181.5 398.6,181.8 399.3,182 400,182.2 400.7,182.4 401.4,182.6 402.1,182.7 402.8,182.9 403.5,183 404.2,183.1 404.9,183.2 405.6,183.3 406.3,183.4 407,183.5 407.7,183.6 408.4,183.7 409.1,183.8 409.8,183.8 410.5,183.9 411.2,183.9 411.9,184 412,184 471.9,184" fill="none" stroke="#3a3a3a" stroke-width="0.6" stroke-linejoin="round"/>
<text x="332.2" y="30.3" font-size="9.9" fill="#1a1a1a" stroke="#1a1a1a" stroke-width="0.16">ATM</text>
<text x="0" y="0" font-size="8.4" text-anchor="middle" fill="#1a1a1a" stroke="#1a1a1a" stroke-width="0.16" transform="translate(277.1 31.9) rotate(-90)">Identity</text>
<text x="327.6" y="62.7" font-size="7.6" text-anchor="end" fill="#4d4d4d" stroke="#4d4d4d" stroke-width="0.16">schwann</text>
<text x="327.6" y="72.9" font-size="7.6" text-anchor="end" fill="#4d4d4d" stroke="#4d4d4d" stroke-width="0.16">quiscent_stellate</text>
<text x="327.6" y="83" font-size="7.6" text-anchor="end" fill="#4d4d4d" stroke="#4d4d4d" stroke-width="0.16">mast</text>
<text x="327.6" y="93.2" font-size="7.6" text-anchor="end" fill="#4d4d4d" stroke="#4d4d4d" stroke-width="0.16">macrophage</text>
<text x="327.6" y="103.3" font-size="7.6" text-anchor="end" fill="#4d4d4d" stroke="#4d4d4d" stroke-width="0.16">gamma</text>
<text x="327.6" y="113.5" font-size="7.6" text-anchor="end" fill="#4d4d4d" stroke="#4d4d4d" stroke-width="0.16">epsilon</text>
<text x="327.6" y="123.6" font-size="7.6" text-anchor="end" fill="#4d4d4d" stroke="#4d4d4d" stroke-width="0.16">endothelial</text>
<text x="327.6" y="133.8" font-size="7.6" text-anchor="end" fill="#4d4d4d" stroke="#4d4d4d" stroke-width="0.16">ductal</text>
<text x="327.6" y="143.9" font-size="7.6" text-anchor="end" fill="#4d4d4d" stroke="#4d4d4d" stroke-width="0.16">delta</text>
<text x="327.6" y="154.1" font-size="7.6" text-anchor="end" fill="#4d4d4d" stroke="#4d4d4d" stroke-width="0.16">beta</text>
<text x="327.6" y="164.2" font-size="7.6" text-anchor="end" fill="#4d4d4d" stroke="#4d4d4d" stroke-width="0.16">alpha</text>
<text x="327.6" y="174.4" font-size="7.6" text-anchor="end" fill="#4d4d4d" stroke="#4d4d4d" stroke-width="0.16">activated_stellate</text>
<text x="327.6" y="184.5" font-size="7.6" text-anchor="end" fill="#4d4d4d" stroke="#4d4d4d" stroke-width="0.16">acinar</text>
<text x="355.5" y="190.9" font-size="6.4" text-anchor="middle" fill="#4d4d4d" stroke="#4d4d4d" stroke-width="0.16">0</text>
<text x="394.1" y="190.9" font-size="6.4" text-anchor="middle" fill="#4d4d4d" stroke="#4d4d4d" stroke-width="0.16">1</text>
<text x="432.7" y="190.9" font-size="6.4" text-anchor="middle" fill="#4d4d4d" stroke="#4d4d4d" stroke-width="0.16">2</text>
<text x="471.3" y="190.9" font-size="6.4" text-anchor="middle" fill="#4d4d4d" stroke="#4d4d4d" stroke-width="0.16">3</text>
<text x="446" y="198.6" font-size="6.3" text-anchor="middle" fill="#4d4d4d" stroke="#4d4d4d" stroke-width="0.16" textLength="55" lengthAdjust="spacingAndGlyphs">Expression level</text>
<line x1="570.8" y1="17" x2="570.8" y2="187" stroke="#ebebeb" stroke-width="0.6"/>
<line x1="618" y1="17" x2="618" y2="187" stroke="#ebebeb" stroke-width="0.6"/>
<line x1="665.2" y1="17" x2="665.2" y2="187" stroke="#ebebeb" stroke-width="0.6"/>
<path d="M553.7,54.9 L553.7,54.9 554.4,54.5 555.1,54 555.8,53.5 556.5,53.1 557.2,52.6 557.9,52.2 558.6,51.8 559.3,51.3 560,50.9 560.7,50.4 561.4,49.8 562.1,49.3 562.8,48.8 563.5,48.3 564.2,47.8 564.9,47.5 565.6,47.2 566.3,47.1 567,47.2 567.7,47.4 568.4,47.7 569.1,48.2 569.8,48.6 570.5,49.1 571.2,49.5 571.9,49.9 572.6,50.3 573.3,50.8 574,51.2 574.7,51.5 575.4,51.8 576.1,51.8 576.8,51.6 577.5,51.2 578.2,50.6 578.9,50 579.6,49.3 580.3,48.2 581,46.6 581.7,44.8 582.4,42.8 583.1,40.8 583.8,38.9 584.5,37.1 585.2,35.3 585.9,33.4 586.6,31.5 587.3,29.7 588,28.1 588.7,26.7 589.4,25.4 590.1,24 590.8,22.7 591.5,21.7 592.2,21 592.9,20.8 593.6,21 594.3,21.6 595,22.3 595.7,23.1 596.4,23.8 597.1,24.4 597.8,24.9 598.5,25.4 599.2,26 599.9,26.4 600.6,26.6 601.3,26.7 602,26.6 602.7,26.3 603.4,26 604.1,25.7 604.8,25.5 605.5,25.5 606.2,25.6 606.9,25.9 607.6,26.2 608.3,26.5 609,26.9 609.7,27.3 610.4,27.9 611.1,28.6 611.8,29.4 612.5,30.2 613.2,31.1 613.9,32.1 614.6,33.4 615.3,34.8 616,36.3 616.7,37.9 617.4,39.4 618.1,40.9 618.8,42.4 619.5,43.9 620.2,45.4 620.9,46.8 621.6,48.1 622.3,49.2 623,50.2 623.7,51.1 624.4,51.9 625.1,52.7 625.8,53.2 626.5,53.7 627.2,54 627.9,54.3 628.6,54.5 629.3,54.7 629.7,54.9 L629.7,54.9 Z" fill="#ee5fa5" stroke="none" stroke-width="1"/>
<polyline points="535,54.9 553.7,54.9 554.4,54.5 555.1,54 555.8,53.5 556.5,53.1 557.2,52.6 557.9,52.2 558.6,51.8 559.3,51.3 560,50.9 560.7,50.4 561.4,49.8 562.1,49.3 562.8,48.8 563.5,48.3 564.2,47.8 564.9,47.5 565.6,47.2 566.3,47.1 567,47.2 567.7,47.4 568.4,47.7 569.1,48.2 569.8,48.6 570.5,49.1 571.2,49.5 571.9,49.9 572.6,50.3 573.3,50.8 574,51.2 574.7,51.5 575.4,51.8 576.1,51.8 576.8,51.6 577.5,51.2 578.2,50.6 578.9,50 579.6,49.3 580.3,48.2 581,46.6 581.7,44.8 582.4,42.8 583.1,40.8 583.8,38.9 584.5,37.1 585.2,35.3 585.9,33.4 586.6,31.5 587.3,29.7 588,28.1 588.7,26.7 589.4,25.4 590.1,24 590.8,22.7 591.5,21.7 592.2,21 592.9,20.8 593.6,21 594.3,21.6 595,22.3 595.7,23.1 596.4,23.8 597.1,24.4 597.8,24.9 598.5,25.4 599.2,26 599.9,26.4 600.6,26.6 601.3,26.7 602,26.6 602.7,26.3 603.4,26 604.1,25.7 604.8,25.5 605.5,25.5 606.2,25.6 606.9,25.9 607.6,26.2 608.3,26.5 609,26.9 609.7,27.3 610.4,27.9 611.1,28.6 611.8,29.4 612.5,30.2 613.2,31.1 613.9,32.1 614.6,33.4 615.3,34.8 616,36.3 616.7,37.9 617.4,39.4 618.1,40.9 618.8,42.4 619.5,43.9 620.2,45.4 620.9,46.8 621.6,48.1 622.3,49.2 623,50.2 623.7,51.1 624.4,51.9 625.1,52.7 625.8,53.2 626.5,53.7 627.2,54 627.9,54.3 628.6,54.5 629.3,54.7 629.7,54.9 675.5,54.9" fill="none" stroke="#3a3a3a" stroke-width="0.6" stroke-linejoin="round"/>
<path d="M535,65.6 L535,65.6 535.7,65.6 536.4,65.5 537.1,65.4 537.8,65.4 538.5,65.3 539.2,65.2 539.9,65.2 540.6,65.1 541.3,65 542,65 542.7,64.9 543.4,64.8 544.1,64.7 544.8,64.5 545.5,64.4 546.2,64.2 546.9,64 547.6,63.7 548.3,63.5 549,63.3 549.7,63.1 550.4,62.9 551.1,62.7 551.8,62.5 552.5,62.3 553.2,62.1 553.9,62 554.6,61.9 555.3,61.8 556,61.7 556.7,61.8 557.4,61.9 558.1,62.1 558.8,62.3 559.5,62.6 560.2,62.8 560.9,63 561.6,63.2 562.3,63.4 563,63.6 563.7,63.8 564.4,64 565.1,64 565.8,64 566.5,64 567.2,64 567.9,64 568.6,63.9 569.3,63.9 570,63.8 570.7,63.8 571.4,63.7 572.1,63.6 572.8,63.6 573.5,63.5 574.2,63.4 574.9,63.3 575.6,63.1 576.3,63 577,62.9 577.7,62.7 578.4,62.5 579.1,62.4 579.8,62.2 580.5,62 581.2,61.7 581.9,61.5 582.6,61.2 583.3,60.9 584,60.6 584.7,60.4 585.4,60.1 586.1,59.8 586.8,59.5 587.5,59.1 588.2,58.7 588.9,58.1 589.6,57.4 590.3,55.9 591,51.8 591.7,46.9 592.4,43.4 593.1,40.8 593.8,38.3 594.5,36.2 595.2,34.6 595.9,33.5 596.6,32.9 597.3,32.3 598,31.5 598.7,30.8 599.4,30.2 600.1,29.7 600.8,29.7 601.5,29.9 602.2,30.3 602.9,30.8 603.6,31.4 604.3,32 605,32.4 605.7,32.8 606.4,33 607.1,33.3 607.8,33.5 608.5,33.8 609.2,34 609.9,34.3 610.6,34.7 611.3,35 612,35.4 612.7,35.8 613.4,36.3 614.1,36.9 614.8,37.6 615.5,38.8 616.2,40.3 616.9,42.2 617.6,44.2 618.3,46.5 619,49.9 619.7,53.6 620.4,56.8 621.1,58.3 621.8,59 622.5,59.6 623.2,60 623.9,60.3 624.6,60.5 625.3,60.5 626,60.5 626.7,60.3 627.4,60.1 628.1,59.9 628.8,59.8 629.5,59.6 630.2,59.5 630.9,59.4 631.6,59.5 632.3,59.5 633,59.5 633.7,59.6 634.4,59.7 635.1,59.8 635.8,59.9 636.5,60 637.2,60.2 637.9,60.4 638.6,60.7 639.3,61.1 640,61.5 640.7,61.9 641.4,62.3 642.1,62.7 642.8,63 643.5,63.3 644.2,63.6 644.9,64 645.6,64.2 646.3,64.5 647,64.8 647.7,65 648.4,65.1 649.1,65.3 649.8,65.4 650.5,65.5 651.2,65.5 651.9,65.6 652,65.6 L652,65.6 Z" fill="#d56bae" stroke="none" stroke-width="1"/>
<polyline points="535,65.6 535,65.6 535.7,65.6 536.4,65.5 537.1,65.4 537.8,65.4 538.5,65.3 539.2,65.2 539.9,65.2 540.6,65.1 541.3,65 542,65 542.7,64.9 543.4,64.8 544.1,64.7 544.8,64.5 545.5,64.4 546.2,64.2 546.9,64 547.6,63.7 548.3,63.5 549,63.3 549.7,63.1 550.4,62.9 551.1,62.7 551.8,62.5 552.5,62.3 553.2,62.1 553.9,62 554.6,61.9 555.3,61.8 556,61.7 556.7,61.8 557.4,61.9 558.1,62.1 558.8,62.3 559.5,62.6 560.2,62.8 560.9,63 561.6,63.2 562.3,63.4 563,63.6 563.7,63.8 564.4,64 565.1,64 565.8,64 566.5,64 567.2,64 567.9,64 568.6,63.9 569.3,63.9 570,63.8 570.7,63.8 571.4,63.7 572.1,63.6 572.8,63.6 573.5,63.5 574.2,63.4 574.9,63.3 575.6,63.1 576.3,63 577,62.9 577.7,62.7 578.4,62.5 579.1,62.4 579.8,62.2 580.5,62 581.2,61.7 581.9,61.5 582.6,61.2 583.3,60.9 584,60.6 584.7,60.4 585.4,60.1 586.1,59.8 586.8,59.5 587.5,59.1 588.2,58.7 588.9,58.1 589.6,57.4 590.3,55.9 591,51.8 591.7,46.9 592.4,43.4 593.1,40.8 593.8,38.3 594.5,36.2 595.2,34.6 595.9,33.5 596.6,32.9 597.3,32.3 598,31.5 598.7,30.8 599.4,30.2 600.1,29.7 600.8,29.7 601.5,29.9 602.2,30.3 602.9,30.8 603.6,31.4 604.3,32 605,32.4 605.7,32.8 606.4,33 607.1,33.3 607.8,33.5 608.5,33.8 609.2,34 609.9,34.3 610.6,34.7 611.3,35 612,35.4 612.7,35.8 613.4,36.3 614.1,36.9 614.8,37.6 615.5,38.8 616.2,40.3 616.9,42.2 617.6,44.2 618.3,46.5 619,49.9 619.7,53.6 620.4,56.8 621.1,58.3 621.8,59 622.5,59.6 623.2,60 623.9,60.3 624.6,60.5 625.3,60.5 626,60.5 626.7,60.3 627.4,60.1 628.1,59.9 628.8,59.8 629.5,59.6 630.2,59.5 630.9,59.4 631.6,59.5 632.3,59.5 633,59.5 633.7,59.6 634.4,59.7 635.1,59.8 635.8,59.9 636.5,60 637.2,60.2 637.9,60.4 638.6,60.7 639.3,61.1 640,61.5 640.7,61.9 641.4,62.3 642.1,62.7 642.8,63 643.5,63.3 644.2,63.6 644.9,64 645.6,64.2 646.3,64.5 647,64.8 647.7,65 648.4,65.1 649.1,65.3 649.8,65.4 650.5,65.5 651.2,65.5 651.9,65.6 652,65.6 675.5,65.6" fill="none" stroke="#3a3a3a" stroke-width="0.6" stroke-linejoin="round"/>
<path d="M535,76.4 L535,76.4 535.7,76.2 536.4,76 537.1,75.9 537.8,75.7 538.5,75.6 539.2,75.4 539.9,75.2 540.6,75 541.3,74.8 542,74.6 542.7,74.3 543.4,73.9 544.1,73.4 544.8,72.9 545.5,72.4 546.2,72 546.9,71.7 547.6,71.6 548.3,71.6 549,71.8 549.7,72.1 550.4,72.4 551.1,72.8 551.8,73.1 552.5,73.4 553.2,73.6 553.9,73.9 554.6,74.2 555.3,74.5 556,74.7 556.7,74.9 557.4,75.1 558.1,75.2 558.8,75.2 559.5,75 560.2,74.7 560.9,74.3 561.6,73.7 562.3,73.1 563,72.4 563.7,71.7 564.4,70.8 565.1,69.3 565.8,67.2 566.5,65 567.2,62.9 567.9,61.3 568.6,59.7 569.3,58.2 570,56.9 570.7,56.1 571.4,55.9 572.1,56.5 572.8,57.5 573.5,58.8 574.2,59.9 574.9,60.7 575.6,61.3 576.3,61.9 577,62.4 577.7,62.7 578.4,62.9 579.1,63.1 579.8,63.2 580.5,63.3 581.2,63.4 581.9,63.4 582.6,63.5 583.3,63.5 584,63.4 584.7,63.3 585.4,63.1 586.1,63 586.8,62.7 587.5,62.3 588.2,61.8 588.9,61.2 589.6,60.6 590.3,60 591,59.4 591.7,59 592.4,58.6 593.1,58.3 593.8,57.9 594.5,57.6 595.2,57.3 595.9,56.9 596.6,56.6 597.3,56.3 598,55.9 598.7,55.6 599.4,55.2 600.1,54.7 600.8,54.3 601.5,54 602.2,53.7 602.9,53.4 603.6,53.2 604.3,53 605,52.8 605.7,52.7 606.4,52.5 607.1,52.4 607.8,52.4 608.5,52.4 609.2,52.5 609.9,52.6 610.6,52.9 611.3,53.1 612,53.4 612.7,53.7 613.4,54.1 614.1,54.4 614.8,54.9 615.5,55.5 616.2,56.2 616.9,56.8 617.6,57.3 618.3,57.8 619,58.3 619.7,58.8 620.4,59.4 621.1,60.1 621.8,60.8 622.5,61.7 623.2,62.6 623.9,63.5 624.6,64.6 625.3,65.7 626,67.1 626.7,68.8 627.4,70.3 628.1,71.6 628.8,72.5 629.5,73.2 630.2,73.9 630.9,74.4 631.6,74.9 632.3,75.3 633,75.6 633.7,75.8 634.4,76 635.1,76.1 635.8,76.2 636.5,76.3 636.7,76.4 L636.7,76.4 Z" fill="#b07ab9" stroke="none" stroke-width="1"/>
<polyline points="535,76.4 535,76.4 535.7,76.2 536.4,76 537.1,75.9 537.8,75.7 538.5,75.6 539.2,75.4 539.9,75.2 540.6,75 541.3,74.8 542,74.6 542.7,74.3 543.4,73.9 544.1,73.4 544.8,72.9 545.5,72.4 546.2,72 546.9,71.7 547.6,71.6 548.3,71.6 549,71.8 549.7,72.1 550.4,72.4 551.1,72.8 551.8,73.1 552.5,73.4 553.2,73.6 553.9,73.9 554.6,74.2 555.3,74.5 556,74.7 556.7,74.9 557.4,75.1 558.1,75.2 558.8,75.2 559.5,75 560.2,74.7 560.9,74.3 561.6,73.7 562.3,73.1 563,72.4 563.7,71.7 564.4,70.8 565.1,69.3 565.8,67.2 566.5,65 567.2,62.9 567.9,61.3 568.6,59.7 569.3,58.2 570,56.9 570.7,56.1 571.4,55.9 572.1,56.5 572.8,57.5 573.5,58.8 574.2,59.9 574.9,60.7 575.6,61.3 576.3,61.9 577,62.4 577.7,62.7 578.4,62.9 579.1,63.1 579.8,63.2 580.5,63.3 581.2,63.4 581.9,63.4 582.6,63.5 583.3,63.5 584,63.4 584.7,63.3 585.4,63.1 586.1,63 586.8,62.7 587.5,62.3 588.2,61.8 588.9,61.2 589.6,60.6 590.3,60 591,59.4 591.7,59 592.4,58.6 593.1,58.3 593.8,57.9 594.5,57.6 595.2,57.3 595.9,56.9 596.6,56.6 597.3,56.3 598,55.9 598.7,55.6 599.4,55.2 600.1,54.7 600.8,54.3 601.5,54 602.2,53.7 602.9,53.4 603.6,53.2 604.3,53 605,52.8 605.7,52.7 606.4,52.5 607.1,52.4 607.8,52.4 608.5,52.4 609.2,52.5 609.9,52.6 610.6,52.9 611.3,53.1 612,53.4 612.7,53.7 613.4,54.1 614.1,54.4 614.8,54.9 615.5,55.5 616.2,56.2 616.9,56.8 617.6,57.3 618.3,57.8 619,58.3 619.7,58.8 620.4,59.4 621.1,60.1 621.8,60.8 622.5,61.7 623.2,62.6 623.9,63.5 624.6,64.6 625.3,65.7 626,67.1 626.7,68.8 627.4,70.3 628.1,71.6 628.8,72.5 629.5,73.2 630.2,73.9 630.9,74.4 631.6,74.9 632.3,75.3 633,75.6 633.7,75.8 634.4,76 635.1,76.1 635.8,76.2 636.5,76.3 636.7,76.4 675.5,76.4" fill="none" stroke="#3a3a3a" stroke-width="0.6" stroke-linejoin="round"/>
<path d="M560,87.1 L560,87.1 560.7,86.9 561.4,86.7 562.1,86.4 562.8,86.2 563.5,86 564.2,85.8 564.9,85.6 565.6,85.4 566.3,85.1 567,84.9 567.7,84.7 568.4,84.4 569.1,84.2 569.8,84 570.5,83.7 571.2,83.4 571.9,83.2 572.6,82.9 573.3,82.6 574,82.3 574.7,81.9 575.4,81.6 576.1,81.2 576.8,80.9 577.5,80.5 578.2,80.1 578.9,79.7 579.6,79.3 580.3,78.9 581,78.5 581.7,78 582.4,77.5 583.1,77 583.8,76.5 584.5,76.1 585.2,75.6 585.9,75.2 586.6,74.8 587.3,74.5 588,74.2 588.7,73.9 589.4,73.5 590.1,73 590.8,72.4 591.5,71.5 592.2,70.5 592.9,69.4 593.6,68.2 594.3,66.9 595,65.6 595.7,64.3 596.4,62.9 597.1,61.3 597.8,59.9 598.5,58.9 599.2,58.1 599.9,57.5 600.6,56.9 601.3,56.3 602,55.6 602.7,54.9 603.4,54.1 604.1,53.5 604.8,52.9 605.5,52.5 606.2,52.3 606.9,52.1 607.6,51.8 608.3,51.4 609,50.8 609.7,49.9 610.4,49.1 611.1,48.3 611.8,47.7 612.5,47.4 613.2,47.2 613.9,47.1 614.6,47.9 615.3,49.5 616,51.1 616.7,52.6 617.4,54.3 618.1,56.2 618.8,58.3 619.5,60.7 620.2,63.2 620.9,65.6 621.6,67.9 622.3,70.3 623,72.7 623.7,75 624.4,76.9 625.1,78.3 625.8,79.3 626.5,80.2 627.2,81 627.9,81.7 628.6,82.3 629.3,82.9 630,83.4 630.7,83.8 631.4,84.2 632.1,84.6 632.8,84.9 633.5,85.2 634.2,85.4 634.9,85.7 635.6,85.9 636.3,86.2 637,86.4 637.7,86.6 638.4,86.9 639,87.1 L639,87.1 Z" fill="#8b8cc9" stroke="none" stroke-width="1"/>
<polyline points="535,87.1 560,87.1 560.7,86.9 561.4,86.7 562.1,86.4 562.8,86.2 563.5,86 564.2,85.8 564.9,85.6 565.6,85.4 566.3,85.1 567,84.9 567.7,84.7 568.4,84.4 569.1,84.2 569.8,84 570.5,83.7 571.2,83.4 571.9,83.2 572.6,82.9 573.3,82.6 574,82.3 574.7,81.9 575.4,81.6 576.1,81.2 576.8,80.9 577.5,80.5 578.2,80.1 578.9,79.7 579.6,79.3 580.3,78.9 581,78.5 581.7,78 582.4,77.5 583.1,77 583.8,76.5 584.5,76.1 585.2,75.6 585.9,75.2 586.6,74.8 587.3,74.5 588,74.2 588.7,73.9 589.4,73.5 590.1,73 590.8,72.4 591.5,71.5 592.2,70.5 592.9,69.4 593.6,68.2 594.3,66.9 595,65.6 595.7,64.3 596.4,62.9 597.1,61.3 597.8,59.9 598.5,58.9 599.2,58.1 599.9,57.5 600.6,56.9 601.3,56.3 602,55.6 602.7,54.9 603.4,54.1 604.1,53.5 604.8,52.9 605.5,52.5 606.2,52.3 606.9,52.1 607.6,51.8 608.3,51.4 609,50.8 609.7,49.9 610.4,49.1 611.1,48.3 611.8,47.7 612.5,47.4 613.2,47.2 613.9,47.1 614.6,47.9 615.3,49.5 616,51.1 616.7,52.6 617.4,54.3 618.1,56.2 618.8,58.3 619.5,60.7 620.2,63.2 620.9,65.6 621.6,67.9 622.3,70.3 623,72.7 623.7,75 624.4,76.9 625.1,78.3 625.8,79.3 626.5,80.2 627.2,81 627.9,81.7 628.6,82.3 629.3,82.9 630,83.4 630.7,83.8 631.4,84.2 632.1,84.6 632.8,84.9 633.5,85.2 634.2,85.4 634.9,85.7 635.6,85.9 636.3,86.2 637,86.4 637.7,86.6 638.4,86.9 639,87.1 675.5,87.1" fill="none" stroke="#3a3a3a" stroke-width="0.6" stroke-linejoin="round"/>
<path d="M545.5,97.9 L545.5,97.9 546.2,97.6 546.9,97.4 547.6,97.1 548.3,96.7 549,96.2 549.7,95.6 550.4,95.1 551.1,94.5 551.8,93.9 552.5,93.3 553.2,92.6 553.9,92 554.6,91.3 555.3,90.5 556,89.7 556.7,88.7 557.4,87.6 558.1,86.2 558.8,84.8 559.5,83.4 560.2,82.1 560.9,81.1 561.6,80.3 562.3,79.6 563,79 563.7,78.4 564.4,77.9 565.1,77.4 565.8,76.9 566.5,76.4 567.2,76 567.9,75.6 568.6,75.2 569.3,74.8 570,74.4 570.7,74 571.4,73.6 572.1,73.2 572.8,72.9 573.5,72.5 574.2,72.1 574.9,71.7 575.6,71.3 576.3,70.9 577,70.5 577.7,70.1 578.4,69.8 579.1,69.5 579.8,69.2 580.5,69 581.2,68.8 581.9,68.6 582.6,68.4 583.3,68.2 584,68.2 584.7,68.2 585.4,68.4 586.1,68.8 586.8,69.4 587.5,70.1 588.2,70.8 588.9,71.6 589.6,72.4 590.3,73.5 591,74.7 591.7,76 592.4,77.2 593.1,78.2 593.8,79.2 594.5,80.2 595.2,81.2 595.9,82 596.6,82.8 597.3,83.5 598,84.2 598.7,84.8 599.4,85.4 600.1,86.1 600.8,86.7 601.5,87.3 602.2,88 602.9,88.7 603.6,89.4 604.3,90 605,90.6 605.7,91.2 606.4,91.6 607.1,92 607.8,92.4 608.5,92.7 609.2,93 609.9,93.4 610.6,93.7 611.3,94 612,94.3 612.7,94.7 613.4,95.1 614.1,95.4 614.8,95.8 615.5,96.1 616.2,96.4 616.9,96.7 617.6,97 618.3,97.2 619,97.4 619.7,97.5 620.4,97.6 621.1,97.7 621.8,97.8 622,97.9 L622,97.9 Z" fill="#44a0dc" stroke="none" stroke-width="1"/>
<polyline points="535,97.9 545.5,97.9 546.2,97.6 546.9,97.4 547.6,97.1 548.3,96.7 549,96.2 549.7,95.6 550.4,95.1 551.1,94.5 551.8,93.9 552.5,93.3 553.2,92.6 553.9,92 554.6,91.3 555.3,90.5 556,89.7 556.7,88.7 557.4,87.6 558.1,86.2 558.8,84.8 559.5,83.4 560.2,82.1 560.9,81.1 561.6,80.3 562.3,79.6 563,79 563.7,78.4 564.4,77.9 565.1,77.4 565.8,76.9 566.5,76.4 567.2,76 567.9,75.6 568.6,75.2 569.3,74.8 570,74.4 570.7,74 571.4,73.6 572.1,73.2 572.8,72.9 573.5,72.5 574.2,72.1 574.9,71.7 575.6,71.3 576.3,70.9 577,70.5 577.7,70.1 578.4,69.8 579.1,69.5 579.8,69.2 580.5,69 581.2,68.8 581.9,68.6 582.6,68.4 583.3,68.2 584,68.2 584.7,68.2 585.4,68.4 586.1,68.8 586.8,69.4 587.5,70.1 588.2,70.8 588.9,71.6 589.6,72.4 590.3,73.5 591,74.7 591.7,76 592.4,77.2 593.1,78.2 593.8,79.2 594.5,80.2 595.2,81.2 595.9,82 596.6,82.8 597.3,83.5 598,84.2 598.7,84.8 599.4,85.4 600.1,86.1 600.8,86.7 601.5,87.3 602.2,88 602.9,88.7 603.6,89.4 604.3,90 605,90.6 605.7,91.2 606.4,91.6 607.1,92 607.8,92.4 608.5,92.7 609.2,93 609.9,93.4 610.6,93.7 611.3,94 612,94.3 612.7,94.7 613.4,95.1 614.1,95.4 614.8,95.8 615.5,96.1 616.2,96.4 616.9,96.7 617.6,97 618.3,97.2 619,97.4 619.7,97.5 620.4,97.6 621.1,97.7 621.8,97.8 622,97.9 675.5,97.9" fill="none" stroke="#3a3a3a" stroke-width="0.6" stroke-linejoin="round"/>
<path d="M552,108.6 L552,108.6 552.7,108.4 553.4,108.3 554.1,108.1 554.8,107.8 555.5,107.5 556.2,107.2 556.9,106.8 557.6,106.4 558.3,105.9 559,105.2 559.7,104 560.4,102.5 561.1,100.6 561.8,97.6 562.5,93.7 563.2,90.1 563.9,87.3 564.6,84.7 565.3,82.4 566,80.2 566.7,78.1 567.4,75.9 568.1,73.4 568.8,70.9 569.5,68.7 570.2,67.1 570.9,66.4 571.6,66.6 572.3,67.1 573,68 573.7,69 574.4,70.5 575.1,73.2 575.8,76.1 576.5,78.4 577.2,80.5 577.9,82.3 578.6,83.5 579.3,84.5 580,85.4 580.7,86.1 581.4,86.6 582.1,86.9 582.8,87.1 583.5,87.2 584.2,87.4 584.9,87.4 585.6,87.5 586.3,87.6 587,87.7 587.7,87.8 588.4,87.9 589.1,88 589.8,88.2 590.5,88.4 591.2,88.7 591.9,89 592.6,89.3 593.3,89.6 594,90 594.7,90.3 595.4,90.7 596.1,91 596.8,91.4 597.5,91.9 598.2,92.3 598.9,92.8 599.6,93.3 600.3,93.8 601,94.5 601.7,95.2 602.4,95.9 603.1,96.7 603.8,97.5 604.5,98.2 605.2,98.8 605.9,99.4 606.6,99.9 607.3,100.5 608,101 608.7,101.5 609.4,102 610.1,102.5 610.8,102.9 611.5,103.3 612.2,103.7 612.9,104.1 613.6,104.4 614.3,104.8 615,105.1 615.7,105.5 616.4,105.8 617.1,106 617.8,106.3 618.5,106.4 619.2,106.6 619.9,106.6 620.6,106.6 621.3,106.6 622,106.6 622.7,106.6 623.4,106.6 624.1,106.6 624.8,106.5 625.5,106.5 626.2,106.4 626.9,105.9 627.6,105.2 628.3,104.6 629,104.1 629.7,103.8 630.4,103.5 631.1,103.3 631.8,103.1 632.5,103 633.2,103 633.9,103.2 634.6,103.5 635.3,104 636,104.4 636.7,104.9 637.4,105.3 638.1,105.8 638.8,106.2 639.5,106.7 640.2,107.2 640.9,107.7 641.6,108.2 642.2,108.6 L642.2,108.6 Z" fill="#12badc" stroke="none" stroke-width="1"/>
<polyline points="535,108.6 552,108.6 552.7,108.4 553.4,108.3 554.1,108.1 554.8,107.8 555.5,107.5 556.2,107.2 556.9,106.8 557.6,106.4 558.3,105.9 559,105.2 559.7,104 560.4,102.5 561.1,100.6 561.8,97.6 562.5,93.7 563.2,90.1 563.9,87.3 564.6,84.7 565.3,82.4 566,80.2 566.7,78.1 567.4,75.9 568.1,73.4 568.8,70.9 569.5,68.7 570.2,67.1 570.9,66.4 571.6,66.6 572.3,67.1 573,68 573.7,69 574.4,70.5 575.1,73.2 575.8,76.1 576.5,78.4 577.2,80.5 577.9,82.3 578.6,83.5 579.3,84.5 580,85.4 580.7,86.1 581.4,86.6 582.1,86.9 582.8,87.1 583.5,87.2 584.2,87.4 584.9,87.4 585.6,87.5 586.3,87.6 587,87.7 587.7,87.8 588.4,87.9 589.1,88 589.8,88.2 590.5,88.4 591.2,88.7 591.9,89 592.6,89.3 593.3,89.6 594,90 594.7,90.3 595.4,90.7 596.1,91 596.8,91.4 597.5,91.9 598.2,92.3 598.9,92.8 599.6,93.3 600.3,93.8 601,94.5 601.7,95.2 602.4,95.9 603.1,96.7 603.8,97.5 604.5,98.2 605.2,98.8 605.9,99.4 606.6,99.9 607.3,100.5 608,101 608.7,101.5 609.4,102 610.1,102.5 610.8,102.9 611.5,103.3 612.2,103.7 612.9,104.1 613.6,104.4 614.3,104.8 615,105.1 615.7,105.5 616.4,105.8 617.1,106 617.8,106.3 618.5,106.4 619.2,106.6 619.9,106.6 620.6,106.6 621.3,106.6 622,106.6 622.7,106.6 623.4,106.6 624.1,106.6 624.8,106.5 625.5,106.5 626.2,106.4 626.9,105.9 627.6,105.2 628.3,104.6 629,104.1 629.7,103.8 630.4,103.5 631.1,103.3 631.8,103.1 632.5,103 633.2,103 633.9,103.2 634.6,103.5 635.3,104 636,104.4 636.7,104.9 637.4,105.3 638.1,105.8 638.8,106.2 639.5,106.7 640.2,107.2 640.9,107.7 641.6,108.2 642.2,108.6 675.5,108.6" fill="none" stroke="#3a3a3a" stroke-width="0.6" stroke-linejoin="round"/>
<path d="M552,119.3 L552,119.3 552.7,119.2 553.4,119.1 554.1,119 554.8,118.8 555.5,118.5 556.2,118.2 556.9,117.8 557.6,117.4 558.3,116.9 559,116.6 559.7,116.2 560.4,115.9 561.1,115.6 561.8,115.3 562.5,115 563.2,114.7 563.9,114.4 564.6,114.1 565.3,113.9 566,113.8 566.7,113.7 567.4,113.8 568.1,113.8 568.8,114 569.5,114.1 570.2,114.3 570.9,114.5 571.6,114.6 572.3,114.8 573,114.9 573.7,114.9 574.4,114.9 575.1,114.7 575.8,114.4 576.5,114 577.2,113.6 577.9,113.1 578.6,112.6 579.3,111.9 580,111.1 580.7,110.2 581.4,109.1 582.1,108 582.8,106.9 583.5,105.8 584.2,104.7 584.9,103.7 585.6,102.7 586.3,101.6 587,100.5 587.7,99.4 588.4,98.4 589.1,97.5 589.8,96.7 590.5,95.9 591.2,95.2 591.9,94.5 592.6,93.9 593.3,93.3 594,92.9 594.7,92.8 595.4,92.8 596.1,93 596.8,93.3 597.5,93.6 598.2,94 598.9,94.3 599.6,94.6 600.3,94.9 601,95.3 601.7,95.7 602.4,96 603.1,96.3 603.8,96.6 604.5,96.7 605.2,96.8 605.9,96.8 606.6,96.5 607.3,96.1 608,95.6 608.7,95.1 609.4,94.6 610.1,94.2 610.8,94 611.5,93.9 612.2,94 612.9,94.1 613.6,94.3 614.3,94.5 615,94.7 615.7,95 616.4,95.3 617.1,95.7 617.8,96.2 618.5,96.8 619.2,97.5 619.9,98.2 620.6,99.1 621.3,100.4 622,101.8 622.7,103.2 623.4,104.7 624.1,106 624.8,107.4 625.5,108.8 626.2,110.1 626.9,111.2 627.6,112.1 628.3,112.9 629,113.7 629.7,114.4 630.4,115.2 631.1,116 631.8,116.8 632.5,117.5 633.2,118 633.9,118.4 634.6,118.7 635.3,119 636,119.3 L636,119.3 Z" fill="#22b8a4" stroke="none" stroke-width="1"/>
<polyline points="535,119.3 552,119.3 552.7,119.2 553.4,119.1 554.1,119 554.8,118.8 555.5,118.5 556.2,118.2 556.9,117.8 557.6,117.4 558.3,116.9 559,116.6 559.7,116.2 560.4,115.9 561.1,115.6 561.8,115.3 562.5,115 563.2,114.7 563.9,114.4 564.6,114.1 565.3,113.9 566,113.8 566.7,113.7 567.4,113.8 568.1,113.8 568.8,114 569.5,114.1 570.2,114.3 570.9,114.5 571.6,114.6 572.3,114.8 573,114.9 573.7,114.9 574.4,114.9 575.1,114.7 575.8,114.4 576.5,114 577.2,113.6 577.9,113.1 578.6,112.6 579.3,111.9 580,111.1 580.7,110.2 581.4,109.1 582.1,108 582.8,106.9 583.5,105.8 584.2,104.7 584.9,103.7 585.6,102.7 586.3,101.6 587,100.5 587.7,99.4 588.4,98.4 589.1,97.5 589.8,96.7 590.5,95.9 591.2,95.2 591.9,94.5 592.6,93.9 593.3,93.3 594,92.9 594.7,92.8 595.4,92.8 596.1,93 596.8,93.3 597.5,93.6 598.2,94 598.9,94.3 599.6,94.6 600.3,94.9 601,95.3 601.7,95.7 602.4,96 603.1,96.3 603.8,96.6 604.5,96.7 605.2,96.8 605.9,96.8 606.6,96.5 607.3,96.1 608,95.6 608.7,95.1 609.4,94.6 610.1,94.2 610.8,94 611.5,93.9 612.2,94 612.9,94.1 613.6,94.3 614.3,94.5 615,94.7 615.7,95 616.4,95.3 617.1,95.7 617.8,96.2 618.5,96.8 619.2,97.5 619.9,98.2 620.6,99.1 621.3,100.4 622,101.8 622.7,103.2 623.4,104.7 624.1,106 624.8,107.4 625.5,108.8 626.2,110.1 626.9,111.2 627.6,112.1 628.3,112.9 629,113.7 629.7,114.4 630.4,115.2 631.1,116 631.8,116.8 632.5,117.5 633.2,118 633.9,118.4 634.6,118.7 635.3,119 636,119.3 675.5,119.3" fill="none" stroke="#3a3a3a" stroke-width="0.6" stroke-linejoin="round"/>
<path d="M560.4,130.1 L560.4,130.1 561.1,129.8 561.8,129.5 562.5,129.2 563.2,128.9 563.9,128.6 564.6,128.3 565.3,127.9 566,127.6 566.7,127.2 567.4,126.9 568.1,126.5 568.8,126.1 569.5,125.7 570.2,125.2 570.9,124.8 571.6,124.3 572.3,123.8 573,123.3 573.7,122.7 574.4,122.1 575.1,121.5 575.8,120.7 576.5,119.9 577.2,118.9 577.9,117.9 578.6,116.9 579.3,115.8 580,114.7 580.7,113.4 581.4,112.2 582.1,110.9 582.8,109.7 583.5,108.6 584.2,107.4 584.9,106.3 585.6,105.1 586.3,104.1 587,103.1 587.7,102.2 588.4,101.3 589.1,100.4 589.8,99.6 590.5,98.9 591.2,98.3 591.9,97.7 592.6,97.1 593.3,96.6 594,96.1 594.7,95.7 595.4,95.4 596.1,95.3 596.8,95.4 597.5,95.9 598.2,96.6 598.9,97.4 599.6,98.2 600.3,99 601,99.9 601.7,100.9 602.4,101.9 603.1,103 603.8,104.1 604.5,105.4 605.2,106.8 605.9,108.2 606.6,109.4 607.3,110.5 608,111.5 608.7,112.4 609.4,113.2 610.1,114 610.8,114.9 611.5,115.8 612.2,116.8 612.9,117.8 613.6,118.9 614.3,120 615,121 615.7,121.8 616.4,122.4 617.1,123 617.8,123.5 618.5,123.9 619.2,124.3 619.9,124.7 620.6,125.1 621.3,125.5 622,126 622.7,126.5 623.4,127 624.1,127.4 624.8,127.9 625.5,128.3 626.2,128.7 626.9,129 627.6,129.2 628.3,129.5 629,129.7 629.7,130 630,130.1 L630,130.1 Z" fill="#27b36c" stroke="none" stroke-width="1"/>
<polyline points="535,130.1 560.4,130.1 561.1,129.8 561.8,129.5 562.5,129.2 563.2,128.9 563.9,128.6 564.6,128.3 565.3,127.9 566,127.6 566.7,127.2 567.4,126.9 568.1,126.5 568.8,126.1 569.5,125.7 570.2,125.2 570.9,124.8 571.6,124.3 572.3,123.8 573,123.3 573.7,122.7 574.4,122.1 575.1,121.5 575.8,120.7 576.5,119.9 577.2,118.9 577.9,117.9 578.6,116.9 579.3,115.8 580,114.7 580.7,113.4 581.4,112.2 582.1,110.9 582.8,109.7 583.5,108.6 584.2,107.4 584.9,106.3 585.6,105.1 586.3,104.1 587,103.1 587.7,102.2 588.4,101.3 589.1,100.4 589.8,99.6 590.5,98.9 591.2,98.3 591.9,97.7 592.6,97.1 593.3,96.6 594,96.1 594.7,95.7 595.4,95.4 596.1,95.3 596.8,95.4 597.5,95.9 598.2,96.6 598.9,97.4 599.6,98.2 600.3,99 601,99.9 601.7,100.9 602.4,101.9 603.1,103 603.8,104.1 604.5,105.4 605.2,106.8 605.9,108.2 606.6,109.4 607.3,110.5 608,111.5 608.7,112.4 609.4,113.2 610.1,114 610.8,114.9 611.5,115.8 612.2,116.8 612.9,117.8 613.6,118.9 614.3,120 615,121 615.7,121.8 616.4,122.4 617.1,123 617.8,123.5 618.5,123.9 619.2,124.3 619.9,124.7 620.6,125.1 621.3,125.5 622,126 622.7,126.5 623.4,127 624.1,127.4 624.8,127.9 625.5,128.3 626.2,128.7 626.9,129 627.6,129.2 628.3,129.5 629,129.7 629.7,130 630,130.1 675.5,130.1" fill="none" stroke="#3a3a3a" stroke-width="0.6" stroke-linejoin="round"/>
<path d="M558.4,140.8 L558.4,140.8 559.1,140.4 559.8,140.1 560.5,139.7 561.2,139.3 561.9,138.9 562.6,138.5 563.3,138.2 564,137.8 564.7,137.5 565.4,137.2 566.1,137 566.8,136.7 567.5,136.4 568.2,136.2 568.9,135.9 569.6,135.6 570.3,135.3 571,135 571.7,134.6 572.4,134.2 573.1,133.8 573.8,133.4 574.5,132.9 575.2,132.4 575.9,131.9 576.6,131.3 577.3,130.5 578,129.7 578.7,128.8 579.4,127.9 580.1,126.9 580.8,126 581.5,125.2 582.2,124.3 582.9,123.5 583.6,122.6 584.3,121.7 585,120.8 585.7,119.9 586.4,118.9 587.1,117.9 587.8,116.9 588.5,116.1 589.2,115.6 589.9,115.1 590.6,114.7 591.3,114.3 592,114 592.7,113.7 593.4,113.5 594.1,113.3 594.8,113.2 595.5,113.1 596.2,113 596.9,112.9 597.6,112.8 598.3,112.7 599,112.7 599.7,112.6 600.4,112.6 601.1,112.7 601.8,113 602.5,113.3 603.2,113.7 603.9,114.2 604.6,114.6 605.3,115 606,115.4 606.7,115.8 607.4,116.2 608.1,116.6 608.8,117.2 609.5,117.7 610.2,118.4 610.9,119.3 611.6,120.2 612.3,121.2 613,122.2 613.7,123.1 614.4,123.9 615.1,124.8 615.8,125.6 616.5,126.5 617.2,127.3 617.9,128.2 618.6,129.1 619.3,130 620,130.9 620.7,131.7 621.4,132.5 622.1,133.2 622.8,133.8 623.5,134.4 624.2,134.9 624.9,135.5 625.6,136 626.3,136.5 627,137 627.7,137.5 628.4,137.9 629.1,138.4 629.8,138.7 630.5,139 631.2,139.3 631.9,139.6 632.6,139.8 633.3,140 634,140.2 634.7,140.4 635.4,140.6 636,140.8 L636,140.8 Z" fill="#2fb34b" stroke="none" stroke-width="1"/>
<polyline points="535,140.8 558.4,140.8 559.1,140.4 559.8,140.1 560.5,139.7 561.2,139.3 561.9,138.9 562.6,138.5 563.3,138.2 564,137.8 564.7,137.5 565.4,137.2 566.1,137 566.8,136.7 567.5,136.4 568.2,136.2 568.9,135.9 569.6,135.6 570.3,135.3 571,135 571.7,134.6 572.4,134.2 573.1,133.8 573.8,133.4 574.5,132.9 575.2,132.4 575.9,131.9 576.6,131.3 577.3,130.5 578,129.7 578.7,128.8 579.4,127.9 580.1,126.9 580.8,126 581.5,125.2 582.2,124.3 582.9,123.5 583.6,122.6 584.3,121.7 585,120.8 585.7,119.9 586.4,118.9 587.1,117.9 587.8,116.9 588.5,116.1 589.2,115.6 589.9,115.1 590.6,114.7 591.3,114.3 592,114 592.7,113.7 593.4,113.5 594.1,113.3 594.8,113.2 595.5,113.1 596.2,113 596.9,112.9 597.6,112.8 598.3,112.7 599,112.7 599.7,112.6 600.4,112.6 601.1,112.7 601.8,113 602.5,113.3 603.2,113.7 603.9,114.2 604.6,114.6 605.3,115 606,115.4 606.7,115.8 607.4,116.2 608.1,116.6 608.8,117.2 609.5,117.7 610.2,118.4 610.9,119.3 611.6,120.2 612.3,121.2 613,122.2 613.7,123.1 614.4,123.9 615.1,124.8 615.8,125.6 616.5,126.5 617.2,127.3 617.9,128.2 618.6,129.1 619.3,130 620,130.9 620.7,131.7 621.4,132.5 622.1,133.2 622.8,133.8 623.5,134.4 624.2,134.9 624.9,135.5 625.6,136 626.3,136.5 627,137 627.7,137.5 628.4,137.9 629.1,138.4 629.8,138.7 630.5,139 631.2,139.3 631.9,139.6 632.6,139.8 633.3,140 634,140.2 634.7,140.4 635.4,140.6 636,140.8 675.5,140.8" fill="none" stroke="#3a3a3a" stroke-width="0.6" stroke-linejoin="round"/>
<path d="M554.3,151.6 L554.3,151.6 555,151.4 555.7,151.2 556.4,151 557.1,150.8 557.8,150.6 558.5,150.5 559.2,150.3 559.9,150.1 560.6,149.9 561.3,149.7 562,149.6 562.7,149.4 563.4,149.2 564.1,149.1 564.8,148.9 565.5,148.8 566.2,148.6 566.9,148.4 567.6,148.3 568.3,148.1 569,147.9 569.7,147.7 570.4,147.5 571.1,147.2 571.8,146.9 572.5,146.6 573.2,146.2 573.9,145.9 574.6,145.5 575.3,145 576,144.6 576.7,144.1 577.4,143.5 578.1,143 578.8,142.3 579.5,141.7 580.2,140.9 580.9,140.2 581.6,139.3 582.3,138.2 583,137.1 583.7,135.9 584.4,134.6 585.1,133.4 585.8,132 586.5,130.6 587.2,129.1 587.9,127.7 588.6,126.5 589.3,125.4 590,124.5 590.7,123.6 591.4,122.8 592.1,122 592.8,121.4 593.5,120.9 594.2,120.5 594.9,120.1 595.6,119.7 596.3,119.4 597,119.1 597.7,118.9 598.4,118.7 599.1,118.7 599.8,118.7 600.5,118.9 601.2,119.2 601.9,119.6 602.6,120 603.3,120.4 604,120.9 604.7,121.4 605.4,121.9 606.1,122.5 606.8,123.2 607.5,123.9 608.2,124.6 608.9,125.4 609.6,126.2 610.3,127.1 611,127.9 611.7,128.8 612.4,129.7 613.1,130.7 613.8,131.6 614.5,132.5 615.2,133.5 615.9,134.3 616.6,135.2 617.3,136 618,136.8 618.7,137.6 619.4,138.4 620.1,139.2 620.8,139.9 621.5,140.5 622.2,141.2 622.9,141.9 623.6,142.5 624.3,143.1 625,143.7 625.7,144.2 626.4,144.7 627.1,145.2 627.8,145.7 628.5,146.2 629.2,146.7 629.9,147.1 630.6,147.5 631.3,147.8 632,148.1 632.7,148.3 633.4,148.5 634.1,148.6 634.8,148.8 635.5,148.9 636.2,149.1 636.9,149.2 637.6,149.4 638.3,149.5 639,149.6 639.7,149.8 640.4,149.9 641.1,150.1 641.8,150.2 642.5,150.4 643.2,150.5 643.9,150.6 644.6,150.7 645.3,150.8 646,150.9 646.7,151 647.4,151.1 648.1,151.1 648.8,151.2 649.5,151.3 650.2,151.3 650.9,151.4 651.6,151.5 652.3,151.5 652.4,151.6 L652.4,151.6 Z" fill="#8fad3c" stroke="none" stroke-width="1"/>
<polyline points="535,151.6 554.3,151.6 555,151.4 555.7,151.2 556.4,151 557.1,150.8 557.8,150.6 558.5,150.5 559.2,150.3 559.9,150.1 560.6,149.9 561.3,149.7 562,149.6 562.7,149.4 563.4,149.2 564.1,149.1 564.8,148.9 565.5,148.8 566.2,148.6 566.9,148.4 567.6,148.3 568.3,148.1 569,147.9 569.7,147.7 570.4,147.5 571.1,147.2 571.8,146.9 572.5,146.6 573.2,146.2 573.9,145.9 574.6,145.5 575.3,145 576,144.6 576.7,144.1 577.4,143.5 578.1,143 578.8,142.3 579.5,141.7 580.2,140.9 580.9,140.2 581.6,139.3 582.3,138.2 583,137.1 583.7,135.9 584.4,134.6 585.1,133.4 585.8,132 586.5,130.6 587.2,129.1 587.9,127.7 588.6,126.5 589.3,125.4 590,124.5 590.7,123.6 591.4,122.8 592.1,122 592.8,121.4 593.5,120.9 594.2,120.5 594.9,120.1 595.6,119.7 596.3,119.4 597,119.1 597.7,118.9 598.4,118.7 599.1,118.7 599.8,118.7 600.5,118.9 601.2,119.2 601.9,119.6 602.6,120 603.3,120.4 604,120.9 604.7,121.4 605.4,121.9 606.1,122.5 606.8,123.2 607.5,123.9 608.2,124.6 608.9,125.4 609.6,126.2 610.3,127.1 611,127.9 611.7,128.8 612.4,129.7 613.1,130.7 613.8,131.6 614.5,132.5 615.2,133.5 615.9,134.3 616.6,135.2 617.3,136 618,136.8 618.7,137.6 619.4,138.4 620.1,139.2 620.8,139.9 621.5,140.5 622.2,141.2 622.9,141.9 623.6,142.5 624.3,143.1 625,143.7 625.7,144.2 626.4,144.7 627.1,145.2 627.8,145.7 628.5,146.2 629.2,146.7 629.9,147.1 630.6,147.5 631.3,147.8 632,148.1 632.7,148.3 633.4,148.5 634.1,148.6 634.8,148.8 635.5,148.9 636.2,149.1 636.9,149.2 637.6,149.4 638.3,149.5 639,149.6 639.7,149.8 640.4,149.9 641.1,150.1 641.8,150.2 642.5,150.4 643.2,150.5 643.9,150.6 644.6,150.7 645.3,150.8 646,150.9 646.7,151 647.4,151.1 648.1,151.1 648.8,151.2 649.5,151.3 650.2,151.3 650.9,151.4 651.6,151.5 652.3,151.5 652.4,151.6 675.5,151.6" fill="none" stroke="#3a3a3a" stroke-width="0.6" stroke-linejoin="round"/>
<path d="M552.3,162.3 L552.3,162.3 553,162.2 553.7,162.1 554.4,162 555.1,161.9 555.8,161.9 556.5,161.8 557.2,161.7 557.9,161.6 558.6,161.5 559.3,161.4 560,161.3 560.7,161.2 561.4,161.1 562.1,161 562.8,160.9 563.5,160.8 564.2,160.7 564.9,160.6 565.6,160.5 566.3,160.4 567,160.2 567.7,160.1 568.4,160 569.1,159.8 569.8,159.6 570.5,159.5 571.2,159.2 571.9,159 572.6,158.7 573.3,158.3 574,157.9 574.7,157.5 575.4,157 576.1,156.5 576.8,156 577.5,155.5 578.2,155 578.9,154.4 579.6,153.9 580.3,153.2 581,152.6 581.7,151.9 582.4,151.1 583.1,150.3 583.8,149.5 584.5,148.7 585.2,147.8 585.9,146.8 586.6,145.8 587.3,144.8 588,143.7 588.7,142.7 589.4,141.6 590.1,140.4 590.8,139.1 591.5,137.8 592.2,136.5 592.9,135.2 593.6,134.1 594.3,133 595,132.2 595.7,131.5 596.4,130.8 597.1,130.2 597.8,129.6 598.5,129 599.2,128.6 599.9,128.2 600.6,128 601.3,127.9 602,128 602.7,128.2 603.4,128.5 604.1,128.8 604.8,129.2 605.5,129.6 606.2,130.2 606.9,130.8 607.6,131.6 608.3,132.4 609,133.3 609.7,134.3 610.4,135.4 611.1,136.6 611.8,138 612.5,139.3 613.2,140.7 613.9,142.2 614.6,143.9 615.3,145.6 616,147.2 616.7,148.7 617.4,150 618.1,151.3 618.8,152.5 619.5,153.7 620.2,154.7 620.9,155.7 621.6,156.4 622.3,157 623,157.6 623.7,158.1 624.4,158.6 625.1,159 625.8,159.3 626.5,159.6 627.2,159.9 627.9,160.1 628.6,160.2 629.3,160.4 630,160.5 630.7,160.7 631.4,160.8 632.1,160.9 632.8,161.1 633.5,161.2 634.2,161.3 634.9,161.4 635.6,161.6 636.3,161.7 637,161.8 637.7,161.9 638.4,162 639.1,162.1 639.8,162.3 640,162.3 L640,162.3 Z" fill="#c4a030" stroke="none" stroke-width="1"/>
<polyline points="535,162.3 552.3,162.3 553,162.2 553.7,162.1 554.4,162 555.1,161.9 555.8,161.9 556.5,161.8 557.2,161.7 557.9,161.6 558.6,161.5 559.3,161.4 560,161.3 560.7,161.2 561.4,161.1 562.1,161 562.8,160.9 563.5,160.8 564.2,160.7 564.9,160.6 565.6,160.5 566.3,160.4 567,160.2 567.7,160.1 568.4,160 569.1,159.8 569.8,159.6 570.5,159.5 571.2,159.2 571.9,159 572.6,158.7 573.3,158.3 574,157.9 574.7,157.5 575.4,157 576.1,156.5 576.8,156 577.5,155.5 578.2,155 578.9,154.4 579.6,153.9 580.3,153.2 581,152.6 581.7,151.9 582.4,151.1 583.1,150.3 583.8,149.5 584.5,148.7 585.2,147.8 585.9,146.8 586.6,145.8 587.3,144.8 588,143.7 588.7,142.7 589.4,141.6 590.1,140.4 590.8,139.1 591.5,137.8 592.2,136.5 592.9,135.2 593.6,134.1 594.3,133 595,132.2 595.7,131.5 596.4,130.8 597.1,130.2 597.8,129.6 598.5,129 599.2,128.6 599.9,128.2 600.6,128 601.3,127.9 602,128 602.7,128.2 603.4,128.5 604.1,128.8 604.8,129.2 605.5,129.6 606.2,130.2 606.9,130.8 607.6,131.6 608.3,132.4 609,133.3 609.7,134.3 610.4,135.4 611.1,136.6 611.8,138 612.5,139.3 613.2,140.7 613.9,142.2 614.6,143.9 615.3,145.6 616,147.2 616.7,148.7 617.4,150 618.1,151.3 618.8,152.5 619.5,153.7 620.2,154.7 620.9,155.7 621.6,156.4 622.3,157 623,157.6 623.7,158.1 624.4,158.6 625.1,159 625.8,159.3 626.5,159.6 627.2,159.9 627.9,160.1 628.6,160.2 629.3,160.4 630,160.5 630.7,160.7 631.4,160.8 632.1,160.9 632.8,161.1 633.5,161.2 634.2,161.3 634.9,161.4 635.6,161.6 636.3,161.7 637,161.8 637.7,161.9 638.4,162 639.1,162.1 639.8,162.3 640,162.3 675.5,162.3" fill="none" stroke="#3a3a3a" stroke-width="0.6" stroke-linejoin="round"/>
<path d="M560,173 L560,173 560.7,172.9 561.4,172.9 562.1,172.8 562.8,172.7 563.5,172.6 564.2,172.5 564.9,172.4 565.6,172.3 566.3,172.2 567,172.1 567.7,172 568.4,171.9 569.1,171.7 569.8,171.5 570.5,171.3 571.2,171.1 571.9,170.9 572.6,170.7 573.3,170.5 574,170.3 574.7,170.1 575.4,169.8 576.1,169.6 576.8,169.4 577.5,169.1 578.2,168.9 578.9,168.6 579.6,168.3 580.3,168 581,167.7 581.7,167.3 582.4,166.9 583.1,166.5 583.8,166 584.5,165.5 585.2,164.9 585.9,164.1 586.6,163.3 587.3,162.3 588,161.2 588.7,160.1 589.4,159 590.1,157.9 590.8,156.7 591.5,155.5 592.2,154.2 592.9,152.9 593.6,151.5 594.3,150.3 595,149 595.7,147.9 596.4,146.7 597.1,145.6 597.8,144.5 598.5,143.4 599.2,142.3 599.9,141.1 600.6,139.9 601.3,138.7 602,137.5 602.7,136.4 603.4,135.5 604.1,134.5 604.8,133.5 605.5,132.8 606.2,132.4 606.9,132.5 607.6,133.1 608.3,134.1 609,135.3 609.7,136.5 610.4,137.8 611.1,139.4 611.8,141.2 612.5,143.2 613.2,145.1 613.9,147.1 614.6,149.1 615.3,151.2 616,153.3 616.7,155.4 617.4,157.4 618.1,159.3 618.8,161.2 619.5,163 620.2,164.5 620.9,165.6 621.6,166.6 622.3,167.4 623,168.1 623.7,168.7 624.4,169.3 625.1,169.8 625.8,170.3 626.5,170.7 627.2,171.1 627.9,171.4 628.6,171.7 629.3,171.8 630,171.9 630.7,172 631.4,172.1 632.1,172.2 632.8,172.3 633.5,172.3 634.2,172.4 634.9,172.5 635.6,172.5 636.3,172.6 637,172.6 637.7,172.7 638.4,172.7 639.1,172.8 639.8,172.8 640.5,172.8 641.2,172.9 641.9,172.9 642.6,173 643.3,173 643.7,173 L643.7,173 Z" fill="#e68c28" stroke="none" stroke-width="1"/>
<polyline points="535,173 560,173 560.7,172.9 561.4,172.9 562.1,172.8 562.8,172.7 563.5,172.6 564.2,172.5 564.9,172.4 565.6,172.3 566.3,172.2 567,172.1 567.7,172 568.4,171.9 569.1,171.7 569.8,171.5 570.5,171.3 571.2,171.1 571.9,170.9 572.6,170.7 573.3,170.5 574,170.3 574.7,170.1 575.4,169.8 576.1,169.6 576.8,169.4 577.5,169.1 578.2,168.9 578.9,168.6 579.6,168.3 580.3,168 581,167.7 581.7,167.3 582.4,166.9 583.1,166.5 583.8,166 584.5,165.5 585.2,164.9 585.9,164.1 586.6,163.3 587.3,162.3 588,161.2 588.7,160.1 589.4,159 590.1,157.9 590.8,156.7 591.5,155.5 592.2,154.2 592.9,152.9 593.6,151.5 594.3,150.3 595,149 595.7,147.9 596.4,146.7 597.1,145.6 597.8,144.5 598.5,143.4 599.2,142.3 599.9,141.1 600.6,139.9 601.3,138.7 602,137.5 602.7,136.4 603.4,135.5 604.1,134.5 604.8,133.5 605.5,132.8 606.2,132.4 606.9,132.5 607.6,133.1 608.3,134.1 609,135.3 609.7,136.5 610.4,137.8 611.1,139.4 611.8,141.2 612.5,143.2 613.2,145.1 613.9,147.1 614.6,149.1 615.3,151.2 616,153.3 616.7,155.4 617.4,157.4 618.1,159.3 618.8,161.2 619.5,163 620.2,164.5 620.9,165.6 621.6,166.6 622.3,167.4 623,168.1 623.7,168.7 624.4,169.3 625.1,169.8 625.8,170.3 626.5,170.7 627.2,171.1 627.9,171.4 628.6,171.7 629.3,171.8 630,171.9 630.7,172 631.4,172.1 632.1,172.2 632.8,172.3 633.5,172.3 634.2,172.4 634.9,172.5 635.6,172.5 636.3,172.6 637,172.6 637.7,172.7 638.4,172.7 639.1,172.8 639.8,172.8 640.5,172.8 641.2,172.9 641.9,172.9 642.6,173 643.3,173 643.7,173 675.5,173" fill="none" stroke="#3a3a3a" stroke-width="0.6" stroke-linejoin="round"/>
<path d="M559,183.8 L559,183.8 559.7,183.5 560.4,183.3 561.1,183 561.8,182.8 562.5,182.5 563.2,182.2 563.9,181.8 564.6,181.4 565.3,181 566,180.5 566.7,179.9 567.4,179.3 568.1,178.5 568.8,177.5 569.5,176.4 570.2,175.2 570.9,174.2 571.6,173.1 572.3,172.1 573,171 573.7,169.9 574.4,168.8 575.1,167.6 575.8,166.4 576.5,165.2 577.2,164 577.9,162.9 578.6,161.9 579.3,160.9 580,159.9 580.7,158.9 581.4,158 582.1,157.1 582.8,156.3 583.5,155.4 584.2,154.5 584.9,153.7 585.6,153 586.3,152.3 587,151.8 587.7,151.3 588.4,150.8 589.1,150.4 589.8,150 590.5,149.7 591.2,149.5 591.9,149.3 592.6,149.2 593.3,149.1 594,149 594.7,149 595.4,148.9 596.1,148.9 596.8,148.9 597.5,148.9 598.2,149.1 598.9,149.4 599.6,149.9 600.3,150.4 601,151 601.7,151.6 602.4,152.1 603.1,152.6 603.8,153.1 604.5,153.7 605.2,154.3 605.9,155 606.6,155.7 607.3,156.4 608,157.2 608.7,158.2 609.4,159.4 610.1,160.6 610.8,161.8 611.5,163 612.2,164.1 612.9,165.1 613.6,166 614.3,167 615,167.9 615.7,168.9 616.4,169.9 617.1,171 617.8,172.1 618.5,173.2 619.2,174.3 619.9,175.2 620.6,175.9 621.3,176.6 622,177.2 622.7,177.8 623.4,178.4 624.1,178.8 624.8,179.2 625.5,179.6 626.2,180 626.9,180.3 627.6,180.6 628.3,180.9 629,181.2 629.7,181.5 630.4,181.7 631.1,182 631.8,182.2 632.5,182.3 633.2,182.5 633.9,182.6 634.6,182.8 635.3,182.9 636,183 636.7,183.1 637.4,183.2 638.1,183.3 638.8,183.4 639.5,183.5 640.2,183.6 640.9,183.7 641.6,183.8 L641.6,183.8 Z" fill="#f27570" stroke="none" stroke-width="1"/>
<polyline points="535,183.8 559,183.8 559.7,183.5 560.4,183.3 561.1,183 561.8,182.8 562.5,182.5 563.2,182.2 563.9,181.8 564.6,181.4 565.3,181 566,180.5 566.7,179.9 567.4,179.3 568.1,178.5 568.8,177.5 569.5,176.4 570.2,175.2 570.9,174.2 571.6,173.1 572.3,172.1 573,171 573.7,169.9 574.4,168.8 575.1,167.6 575.8,166.4 576.5,165.2 577.2,164 577.9,162.9 578.6,161.9 579.3,160.9 580,159.9 580.7,158.9 581.4,158 582.1,157.1 582.8,156.3 583.5,155.4 584.2,154.5 584.9,153.7 585.6,153 586.3,152.3 587,151.8 587.7,151.3 588.4,150.8 589.1,150.4 589.8,150 590.5,149.7 591.2,149.5 591.9,149.3 592.6,149.2 593.3,149.1 594,149 594.7,149 595.4,148.9 596.1,148.9 596.8,148.9 597.5,148.9 598.2,149.1 598.9,149.4 599.6,149.9 600.3,150.4 601,151 601.7,151.6 602.4,152.1 603.1,152.6 603.8,153.1 604.5,153.7 605.2,154.3 605.9,155 606.6,155.7 607.3,156.4 608,157.2 608.7,158.2 609.4,159.4 610.1,160.6 610.8,161.8 611.5,163 612.2,164.1 612.9,165.1 613.6,166 614.3,167 615,167.9 615.7,168.9 616.4,169.9 617.1,171 617.8,172.1 618.5,173.2 619.2,174.3 619.9,175.2 620.6,175.9 621.3,176.6 622,177.2 622.7,177.8 623.4,178.4 624.1,178.8 624.8,179.2 625.5,179.6 626.2,180 626.9,180.3 627.6,180.6 628.3,180.9 629,181.2 629.7,181.5 630.4,181.7 631.1,182 631.8,182.2 632.5,182.3 633.2,182.5 633.9,182.6 634.6,182.8 635.3,182.9 636,183 636.7,183.1 637.4,183.2 638.1,183.3 638.8,183.4 639.5,183.5 640.2,183.6 640.9,183.7 641.6,183.8 675.5,183.8" fill="none" stroke="#3a3a3a" stroke-width="0.6" stroke-linejoin="round"/>
<text x="537.1" y="27.6" font-size="9.9" fill="#1a1a1a" stroke="#1a1a1a" stroke-width="0.16" textLength="36.9" lengthAdjust="spacingAndGlyphs">SLC3A2</text>
<text x="0" y="0" font-size="8.4" text-anchor="middle" fill="#1a1a1a" stroke="#1a1a1a" stroke-width="0.16" transform="translate(480.2 31.9) rotate(-90)">Identity</text>
<text x="531.8" y="55.4" font-size="7.6" text-anchor="end" fill="#4d4d4d" stroke="#4d4d4d" stroke-width="0.16">schwann</text>
<text x="531.8" y="66.1" font-size="7.6" text-anchor="end" fill="#4d4d4d" stroke="#4d4d4d" stroke-width="0.16">quiscent_stellate</text>
<text x="531.8" y="76.9" font-size="7.6" text-anchor="end" fill="#4d4d4d" stroke="#4d4d4d" stroke-width="0.16">mast</text>
<text x="531.8" y="87.6" font-size="7.6" text-anchor="end" fill="#4d4d4d" stroke="#4d4d4d" stroke-width="0.16">macrophage</text>
<text x="531.8" y="98.4" font-size="7.6" text-anchor="end" fill="#4d4d4d" stroke="#4d4d4d" stroke-width="0.16">gamma</text>
<text x="531.8" y="109.1" font-size="7.6" text-anchor="end" fill="#4d4d4d" stroke="#4d4d4d" stroke-width="0.16">epsilon</text>
<text x="531.8" y="119.8" font-size="7.6" text-anchor="end" fill="#4d4d4d" stroke="#4d4d4d" stroke-width="0.16">endothelial</text>
<text x="531.8" y="130.6" font-size="7.6" text-anchor="end" fill="#4d4d4d" stroke="#4d4d4d" stroke-width="0.16">ductal</text>
<text x="531.8" y="141.3" font-size="7.6" text-anchor="end" fill="#4d4d4d" stroke="#4d4d4d" stroke-width="0.16">delta</text>
<text x="531.8" y="152.1" font-size="7.6" text-anchor="end" fill="#4d4d4d" stroke="#4d4d4d" stroke-width="0.16">beta</text>
<text x="531.8" y="162.8" font-size="7.6" text-anchor="end" fill="#4d4d4d" stroke="#4d4d4d" stroke-width="0.16">alpha</text>
<text x="531.8" y="173.5" font-size="7.6" text-anchor="end" fill="#4d4d4d" stroke="#4d4d4d" stroke-width="0.16">activated_stellate</text>
<text x="531.8" y="184.3" font-size="7.6" text-anchor="end" fill="#4d4d4d" stroke="#4d4d4d" stroke-width="0.16">acinar</text>
<text x="570.8" y="190.9" font-size="6.4" text-anchor="middle" fill="#4d4d4d" stroke="#4d4d4d" stroke-width="0.16">0</text>
<text x="618" y="190.9" font-size="6.4" text-anchor="middle" fill="#4d4d4d" stroke="#4d4d4d" stroke-width="0.16">2</text>
<text x="665.2" y="190.9" font-size="6.4" text-anchor="middle" fill="#4d4d4d" stroke="#4d4d4d" stroke-width="0.16">4</text>
<text x="651.8" y="198.6" font-size="6.3" text-anchor="middle" fill="#4d4d4d" stroke="#4d4d4d" stroke-width="0.16" textLength="55" lengthAdjust="spacingAndGlyphs">Expression level</text>
<defs><radialGradient id="gpink" cx="0.4" cy="0.35" r="0.7"><stop offset="0" stop-color="#f8b4a8"/><stop offset="1" stop-color="#ea7a74"/></radialGradient><radialGradient id="gblue" cx="0.4" cy="0.35" r="0.7"><stop offset="0" stop-color="#8fdcf2"/><stop offset="1" stop-color="#1a9bd0"/></radialGradient><radialGradient id="gpinkb" cx="0.38" cy="0.32" r="0.75"><stop offset="0" stop-color="#fbd0c8"/><stop offset="0.6" stop-color="#f19a94"/><stop offset="1" stop-color="#e57878"/></radialGradient><radialGradient id="gblueb" cx="0.38" cy="0.32" r="0.75"><stop offset="0" stop-color="#b4ecfb"/><stop offset="0.55" stop-color="#3fb6e6"/><stop offset="1" stop-color="#1590cc"/></radialGradient><clipPath id="clipA"><rect x="0" y="0" width="250" height="218"/></clipPath></defs>
<g clip-path="url(#clipA)">
<text x="0.2" y="10.8" font-size="15.5" font-weight="bold" fill="#111">A</text>
<path d="M31.4,28.9 C31.9,26.6 33,22.8 34.6,20.9 C36.2,19 38.4,18.6 41.1,17.7 C43.8,16.8 46.7,16.1 50.7,15.7 C54.7,15.3 60,15.5 65.1,15.3 C70.2,15.1 76.7,14.7 81.2,14.5 C85.8,14.3 89.2,14.2 92.4,14.1 C95.6,13.9 98.5,13.6 100.5,13.6 C102.5,13.6 104,13.4 104.5,14.1 C105,14.8 104.6,16.6 103.7,17.7 C102.8,18.8 100.8,19.8 98.9,20.9 C97,22 94.6,23 92.4,24.1 C90.2,25.2 88.4,26.2 86,27.3 C83.6,28.4 80.7,29.7 78,30.5 C75.3,31.3 72.4,31.7 70,32.1 C67.6,32.5 65.4,32.5 63.5,32.9 C61.6,33.3 60.3,33.6 58.7,34.5 C57.1,35.4 55.8,37.4 53.9,38.5 C52,39.6 49.6,40.8 47.5,41.4 C45.4,42 43.2,42.5 41.1,42.1 C39,41.8 36.2,40.6 34.6,39.3 C33,38 31.9,36.2 31.4,34.5 C30.9,32.8 30.9,31.2 31.4,28.9 Z" fill="#f8e1a6" stroke="#e9cf8c" stroke-width="0.6"/>
<path d="M73.4,29.4 l1,-1 m-1,1 l-1,-0.7 m1,0.7 l0,1.2" fill="none" stroke="#dcc58a" stroke-width="0.4"/>
<path d="M37.7,25.5 l1,-1 m-1,1 l-1,-0.7 m1,0.7 l0,1.2" fill="none" stroke="#dcc58a" stroke-width="0.4"/>
<path d="M92.6,28.1 l1,-1 m-1,1 l-1,-0.7 m1,0.7 l0,1.2" fill="none" stroke="#dcc58a" stroke-width="0.4"/>
<path d="M90.1,20.6 l1,-1 m-1,1 l-1,-0.7 m1,0.7 l0,1.2" fill="none" stroke="#dcc58a" stroke-width="0.4"/>
<path d="M64.1,22.5 l1,-1 m-1,1 l-1,-0.7 m1,0.7 l0,1.2" fill="none" stroke="#dcc58a" stroke-width="0.4"/>
<path d="M68.6,27 l1,-1 m-1,1 l-1,-0.7 m1,0.7 l0,1.2" fill="none" stroke="#dcc58a" stroke-width="0.4"/>
<path d="M36.8,22 l1,-1 m-1,1 l-1,-0.7 m1,0.7 l0,1.2" fill="none" stroke="#dcc58a" stroke-width="0.4"/>
<path d="M52.8,31.8 l1,-1 m-1,1 l-1,-0.7 m1,0.7 l0,1.2" fill="none" stroke="#dcc58a" stroke-width="0.4"/>
<path d="M81.9,21.2 l1,-1 m-1,1 l-1,-0.7 m1,0.7 l0,1.2" fill="none" stroke="#dcc58a" stroke-width="0.4"/>
<path d="M83.8,20.9 l1,-1 m-1,1 l-1,-0.7 m1,0.7 l0,1.2" fill="none" stroke="#dcc58a" stroke-width="0.4"/>
<path d="M73,20.8 l1,-1 m-1,1 l-1,-0.7 m1,0.7 l0,1.2" fill="none" stroke="#dcc58a" stroke-width="0.4"/>
<path d="M36.1,31.2 l1,-1 m-1,1 l-1,-0.7 m1,0.7 l0,1.2" fill="none" stroke="#dcc58a" stroke-width="0.4"/>
<path d="M44,36.5 Q52,32.5 60,33.2" fill="none" stroke="#e2c98a" stroke-width="0.5"/>
<text x="44" y="14.1" font-size="9.8" fill="#2b2b2b" stroke="#2b2b2b" stroke-width="0.16">Pancreas</text>
<line x1="62.7" y1="24.4" x2="125.3" y2="44.5" stroke="#b5b5b5" stroke-width="0.45"/>
<line x1="60.5" y1="28.9" x2="76.5" y2="44.5" stroke="#b5b5b5" stroke-width="0.45"/>
<line x1="57.8" y1="28.9" x2="76.5" y2="82" stroke="#b5b5b5" stroke-width="0.45"/>
<rect x="57.3" y="24.3" width="5.3" height="4.6" fill="none" stroke="#333" stroke-width="0.6"/>
<rect x="76.6" y="44.5" width="48.9" height="44.8" fill="#fff" stroke="#3a3a3a" stroke-width="0.8"/>
<text x="137.6" y="39.1" font-size="9.8" text-anchor="middle" fill="#2b2b2b" stroke="#2b2b2b" stroke-width="0.16">Pancreatic</text>
<text x="139.1" y="51.1" font-size="9.8" text-anchor="middle" fill="#2b2b2b" stroke="#2b2b2b" stroke-width="0.16">islet</text>
<ellipse cx="100.2" cy="66.3" rx="21" ry="20.2" fill="#efe5c7" stroke="#dcd2b0" stroke-width="0.4"/>
<ellipse cx="100.2" cy="66.3" rx="19.8" ry="19.1" fill="#dd6a7c"/>
<clipPath id="islclip"><ellipse cx="100.2" cy="66.3" rx="19.8" ry="19.1"/></clipPath>
<g clip-path="url(#islclip)">
<path d="M103.4,41.1 L104.3,45.3 L100.7,48.1 L97.2,44.8 L97.9,41.5 L100.5,40.2 Z" fill="#e27a89" stroke="#b9506a" stroke-width="0.35"/>
<circle cx="101.5" cy="44.4" r="1.1" fill="#a13251"/>
<path d="M93.4,46.7 L93.6,51.3 L89.8,53 L86.6,51 L86.5,46.9 L90.7,45.3 Z" fill="#d9626f" stroke="#b9506a" stroke-width="0.35"/>
<circle cx="89.6" cy="49" r="1.1" fill="#a13251"/>
<path d="M93.4,46.7 L97.2,44.8 L100.7,48.1 L100.9,51.3 L97.1,53.6 L93.6,51.3 Z" fill="#e27a89" stroke="#b9506a" stroke-width="0.35"/>
<circle cx="96.8" cy="49.1" r="1.1" fill="#a13251"/>
<path d="M100.7,48.1 L100.9,51.3 L104.2,52.8 L107.1,51.8 L107.1,46.4 L104.3,45.3 Z" fill="#d9626f" stroke="#b9506a" stroke-width="0.35"/>
<circle cx="104.1" cy="48.1" r="1.1" fill="#a13251"/>
<path d="M110.2,44.7 L107.1,46.4 L107.1,51.8 L108.6,52.3 L113,50.6 L113.1,47.3 Z" fill="#e27a89" stroke="#b9506a" stroke-width="0.35"/>
<circle cx="109.6" cy="49" r="1.1" fill="#a13251"/>
<path d="M77.4,51.9 L78,56.7 L81.5,58.4 L83.4,57.5 L83.6,53 L80.2,51.2 Z" fill="#d9626f" stroke="#b9506a" stroke-width="0.35"/>
<circle cx="80.2" cy="54.9" r="1.1" fill="#a13251"/>
<path d="M86.6,51 L83.6,53 L83.4,57.5 L86.4,58.7 L89.6,56.3 L89.8,53 Z" fill="#e27a89" stroke="#b9506a" stroke-width="0.35"/>
<circle cx="86.7" cy="54.8" r="1.1" fill="#a13251"/>
<path d="M93.6,51.3 L97.1,53.6 L96.9,55.8 L93.1,58.4 L89.6,56.3 L89.8,53 Z" fill="#de6e7e" stroke="#b9506a" stroke-width="0.35"/>
<circle cx="92.5" cy="55.4" r="1.1" fill="#a13251"/>
<path d="M97.1,53.6 L100.9,51.3 L104.2,52.8 L104.2,57.1 L100,59.8 L96.9,55.8 Z" fill="#d9626f" stroke="#b9506a" stroke-width="0.35"/>
<circle cx="101" cy="55.8" r="1.1" fill="#a13251"/>
<path d="M110,56.8 L108.6,52.3 L107.1,51.8 L104.2,52.8 L104.2,57.1 L106.5,58.8 Z" fill="#d9626f" stroke="#b9506a" stroke-width="0.35"/>
<circle cx="106.8" cy="56.2" r="1.1" fill="#a13251"/>
<path d="M110,56.8 L108.6,52.3 L113,50.6 L116.4,53.4 L116,56.1 L113.5,58.5 Z" fill="#de6e7e" stroke="#b9506a" stroke-width="0.35"/>
<circle cx="111.6" cy="54.9" r="1.1" fill="#a13251"/>
<path d="M123,57 L123.2,53.2 L118.9,51.9 L116.4,53.4 L116,56.1 L119.3,58.2 Z" fill="#de6e7e" stroke="#b9506a" stroke-width="0.35"/>
<circle cx="120.6" cy="55.4" r="1.1" fill="#a13251"/>
<path d="M78,56.7 L81.5,58.4 L80.2,62.6 L76.5,63.9 L74.3,62.9 L74.3,58.6 Z" fill="#d9626f" stroke="#b9506a" stroke-width="0.35"/>
<circle cx="78" cy="59.4" r="1.1" fill="#a13251"/>
<path d="M87.6,62.3 L84.1,65.6 L80.2,62.6 L81.5,58.4 L83.4,57.5 L86.4,58.7 Z" fill="#f6c6d2" stroke="#b9506a" stroke-width="0.35"/>
<circle cx="84.1" cy="62" r="1" fill="#e58ba4"/>
<path d="M89.6,56.3 L86.4,58.7 L87.6,62.3 L91.6,63.6 L92.9,62.7 L93.1,58.4 Z" fill="#e27a89" stroke="#b9506a" stroke-width="0.35"/>
<circle cx="90.3" cy="59.3" r="1.1" fill="#a13251"/>
<path d="M93.1,58.4 L92.9,62.7 L97.2,63.3 L99.9,61.7 L100,59.8 L96.9,55.8 Z" fill="#e27a89" stroke="#b9506a" stroke-width="0.35"/>
<circle cx="96.3" cy="60" r="1.1" fill="#a13251"/>
<path d="M107,62.7 L102.5,63.8 L99.9,61.7 L100,59.8 L104.2,57.1 L106.5,58.8 Z" fill="#f6c6d2" stroke="#b9506a" stroke-width="0.35"/>
<circle cx="104.1" cy="60.6" r="1" fill="#e58ba4"/>
<path d="M110,56.8 L106.5,58.8 L107,62.7 L109.3,64.1 L113.1,62.5 L113.5,58.5 Z" fill="#f6c6d2" stroke="#b9506a" stroke-width="0.35"/>
<circle cx="108.9" cy="59.6" r="1" fill="#e58ba4"/>
<path d="M120.1,62.7 L119.3,58.2 L116,56.1 L113.5,58.5 L113.1,62.5 L116.1,64.7 Z" fill="#f6c6d2" stroke="#b9506a" stroke-width="0.35"/>
<circle cx="117.7" cy="60" r="1" fill="#e58ba4"/>
<path d="M122.1,63.2 L124.8,62 L124.9,58.9 L123,57 L119.3,58.2 L120.1,62.7 Z" fill="#de6e7e" stroke="#b9506a" stroke-width="0.35"/>
<circle cx="122" cy="59.6" r="1.1" fill="#a13251"/>
<path d="M84.1,67.9 L84.1,65.6 L80.2,62.6 L76.5,63.9 L77.2,67.8 L81.2,70.5 Z" fill="#f6c6d2" stroke="#b9506a" stroke-width="0.35"/>
<circle cx="80.2" cy="66.8" r="1" fill="#e58ba4"/>
<path d="M91.6,63.6 L91.5,67.9 L88.4,69.9 L84.1,67.9 L84.1,65.6 L87.6,62.3 Z" fill="#f6c6d2" stroke="#b9506a" stroke-width="0.35"/>
<circle cx="88.3" cy="66.6" r="1" fill="#e58ba4"/>
<path d="M92.9,62.7 L97.2,63.3 L97.4,68.9 L95.1,70 L91.5,67.9 L91.6,63.6 Z" fill="#de6e7e" stroke="#b9506a" stroke-width="0.35"/>
<circle cx="94.6" cy="66.2" r="1.1" fill="#a13251"/>
<path d="M99.9,61.7 L97.2,63.3 L97.4,68.9 L101.1,69.8 L102.5,68.8 L102.5,63.8 Z" fill="#f6c6d2" stroke="#b9506a" stroke-width="0.35"/>
<circle cx="100" cy="65.8" r="1" fill="#e58ba4"/>
<path d="M109.3,64.1 L108.8,67.6 L106.4,69.7 L102.5,68.8 L102.5,63.8 L107,62.7 Z" fill="#f6c6d2" stroke="#b9506a" stroke-width="0.35"/>
<circle cx="105.8" cy="66.3" r="1" fill="#e58ba4"/>
<path d="M116.5,68.6 L113.1,70.5 L108.8,67.6 L109.3,64.1 L113.1,62.5 L116.1,64.7 Z" fill="#d9626f" stroke="#b9506a" stroke-width="0.35"/>
<circle cx="112.3" cy="67.3" r="1.1" fill="#a13251"/>
<path d="M122.8,69.1 L122.1,63.2 L120.1,62.7 L116.1,64.7 L116.5,68.6 L119.6,70.8 Z" fill="#f6c6d2" stroke="#b9506a" stroke-width="0.35"/>
<circle cx="120.6" cy="66.5" r="1" fill="#e58ba4"/>
<path d="M78,75.1 L80.8,73.9 L81.2,70.5 L77.2,67.8 L73.5,70.8 L74.5,74.2 Z" fill="#e27a89" stroke="#b9506a" stroke-width="0.35"/>
<circle cx="76.8" cy="71.3" r="1.1" fill="#a13251"/>
<path d="M84.2,76.4 L80.8,73.9 L81.2,70.5 L84.1,67.9 L88.4,69.9 L88.6,73.2 Z" fill="#f6c6d2" stroke="#b9506a" stroke-width="0.35"/>
<circle cx="85.3" cy="72.2" r="1" fill="#e58ba4"/>
<path d="M88.6,73.2 L88.4,69.9 L91.5,67.9 L95.1,70 L94.6,74.7 L92.3,75.7 Z" fill="#f6c6d2" stroke="#b9506a" stroke-width="0.35"/>
<circle cx="91.7" cy="72.1" r="1" fill="#e58ba4"/>
<path d="M101.1,69.8 L97.4,68.9 L95.1,70 L94.6,74.7 L97.1,75.8 L101,73.5 Z" fill="#f6c6d2" stroke="#b9506a" stroke-width="0.35"/>
<circle cx="98" cy="72.8" r="1" fill="#e58ba4"/>
<path d="M104.1,76.1 L101,73.5 L101.1,69.8 L102.5,68.8 L106.4,69.7 L107.4,73.5 Z" fill="#e27a89" stroke="#b9506a" stroke-width="0.35"/>
<circle cx="103.9" cy="72.4" r="1.1" fill="#a13251"/>
<path d="M111.3,75 L107.4,73.5 L106.4,69.7 L108.8,67.6 L113.1,70.5 L111.8,74.7 Z" fill="#de6e7e" stroke="#b9506a" stroke-width="0.35"/>
<circle cx="109.5" cy="71.5" r="1.1" fill="#a13251"/>
<path d="M111.8,74.7 L113.1,70.5 L116.5,68.6 L119.6,70.8 L119.5,73.1 L115.8,75.7 Z" fill="#f6c6d2" stroke="#b9506a" stroke-width="0.35"/>
<circle cx="115.5" cy="72.9" r="1" fill="#e58ba4"/>
<path d="M78,75.1 L80.8,73.9 L84.2,76.4 L84.6,78.4 L82,81.5 L77.6,79.6 Z" fill="#f6c6d2" stroke="#b9506a" stroke-width="0.35"/>
<circle cx="80.8" cy="78.5" r="1" fill="#e58ba4"/>
<path d="M84.6,78.4 L84.2,76.4 L88.6,73.2 L92.3,75.7 L91,80 L88.8,80.8 Z" fill="#e27a89" stroke="#b9506a" stroke-width="0.35"/>
<circle cx="88.6" cy="76.4" r="1.1" fill="#a13251"/>
<path d="M92.3,75.7 L94.6,74.7 L97.1,75.8 L98.5,79.8 L94.5,82.3 L91,80 Z" fill="#de6e7e" stroke="#b9506a" stroke-width="0.35"/>
<circle cx="94.9" cy="79.2" r="1.1" fill="#a13251"/>
<path d="M104.1,76.1 L101,73.5 L97.1,75.8 L98.5,79.8 L100.8,80.7 L104,78.8 Z" fill="#d9626f" stroke="#b9506a" stroke-width="0.35"/>
<circle cx="101" cy="76.8" r="1.1" fill="#a13251"/>
<path d="M111.3,75 L107.4,73.5 L104.1,76.1 L104,78.8 L107.4,80.6 L110.5,79.2 Z" fill="#e27a89" stroke="#b9506a" stroke-width="0.35"/>
<circle cx="108" cy="77.1" r="1.1" fill="#a13251"/>
<path d="M111.3,75 L110.5,79.2 L113.9,81.9 L117,80.4 L115.8,75.7 L111.8,74.7 Z" fill="#e27a89" stroke="#b9506a" stroke-width="0.35"/>
<circle cx="113.8" cy="78.5" r="1.1" fill="#a13251"/>
<path d="M115.8,75.7 L119.5,73.1 L122.3,76.7 L122,79.2 L119.5,80.8 L117,80.4 Z" fill="#d9626f" stroke="#b9506a" stroke-width="0.35"/>
<circle cx="118.6" cy="76.6" r="1.1" fill="#a13251"/>
<path d="M81.9,85.1 L82,81.5 L84.6,78.4 L88.8,80.8 L87.6,85.9 L84.4,86.4 Z" fill="#f6c6d2" stroke="#b9506a" stroke-width="0.35"/>
<circle cx="84.8" cy="82.4" r="1" fill="#e58ba4"/>
<path d="M87.6,85.9 L90.2,88.2 L94.7,84.8 L94.5,82.3 L91,80 L88.8,80.8 Z" fill="#de6e7e" stroke="#b9506a" stroke-width="0.35"/>
<circle cx="91" cy="84.3" r="1.1" fill="#a13251"/>
<path d="M94.5,82.3 L98.5,79.8 L100.8,80.7 L101.4,85.2 L97.6,86.8 L94.7,84.8 Z" fill="#d9626f" stroke="#b9506a" stroke-width="0.35"/>
<circle cx="98" cy="83.7" r="1.1" fill="#a13251"/>
<path d="M104,78.8 L100.8,80.7 L101.4,85.2 L103.8,86.7 L107.2,85 L107.4,80.6 Z" fill="#d9626f" stroke="#b9506a" stroke-width="0.35"/>
<circle cx="104.1" cy="82.8" r="1.1" fill="#a13251"/>
<path d="M110.5,79.2 L107.4,80.6 L107.2,85 L110,86.5 L113.4,85.3 L113.9,81.9 Z" fill="#de6e7e" stroke="#b9506a" stroke-width="0.35"/>
<circle cx="110.5" cy="82.7" r="1.1" fill="#a13251"/>
<path d="M90.2,88.2 L94.7,84.8 L97.6,86.8 L97.1,91.4 L93.4,92.5 L90.8,90.9 Z" fill="#e27a89" stroke="#b9506a" stroke-width="0.35"/>
<circle cx="94.2" cy="88" r="1.1" fill="#a13251"/>
<path d="M97.6,86.8 L97.1,91.4 L99.8,92.8 L103.9,91.4 L103.8,86.7 L101.4,85.2 Z" fill="#d9626f" stroke="#b9506a" stroke-width="0.35"/>
<circle cx="100.1" cy="89.2" r="1.1" fill="#a13251"/>
<path d="M110,86.5 L109.7,90.9 L105.2,92.3 L103.9,91.4 L103.8,86.7 L107.2,85 Z" fill="#d9626f" stroke="#b9506a" stroke-width="0.35"/>
<circle cx="107" cy="88.3" r="1.1" fill="#a13251"/>
</g>
<path d="M90.8,60.2 q2.5,-0.8 3.2,2.5 q0.5,4 -2.2,4.6 q-2.8,0.2 -2.6,-3 q0.2,-3 1.6,-4.1 z" fill="#f05a2c" stroke="none" stroke-width="1"/>
<path d="M97.6,56.5 q5,-1.8 9.5,-0.2 q0.8,1.8 -1.2,3 q-4,1.8 -7.6,-0.3 q-1.4,-1.2 -0.7,-2.5 z" fill="#f05a2c" stroke="none" stroke-width="1"/>
<path d="M101.8,78.8 q4,-3.6 8.6,-3.8 q0.8,1.5 -0.8,2.8 q-3.6,3 -7,2.6 z" fill="#f05a2c" stroke="none" stroke-width="1"/>
<path d="M95.4,61.8 q3.4,-1.2 4.6,1.5 q0.6,3.4 -1.5,5.6 q-2.6,1.4 -3.6,-1.2 q-0.7,-3.4 0.5,-5.9 z" fill="#8dc63f" stroke="#6aa12a" stroke-width="0.3"/>
<path d="M103.8,66.2 q3.8,-1.6 5.6,1.2 q0.8,3.6 -1.2,6 q-2.8,1.3 -4.2,-1.2 q-1.3,-3.2 -0.2,-6 z" fill="#8dc63f" stroke="#6aa12a" stroke-width="0.3"/>
<path d="M105.6,77.4 q3.6,-1.6 5.2,0.8 q0.6,3 -1.6,4.3 q-2.8,0.8 -3.8,-1.6 q-0.6,-2 0.2,-3.5 z" fill="#8dc63f" stroke="#6aa12a" stroke-width="0.3"/>
<circle cx="97.2" cy="64.5" r="0.8" fill="#4d7a1e"/>
<circle cx="106.3" cy="69.5" r="0.8" fill="#4d7a1e"/>
<circle cx="108" cy="79.5" r="0.8" fill="#4d7a1e"/>
<rect x="84.4" y="68.4" width="4.7" height="5" fill="none" stroke="#2a2a2a" stroke-width="0.7"/>
<rect x="114.6" y="68.4" width="4.7" height="5" fill="none" stroke="#2a2a2a" stroke-width="0.7"/>
<line x1="84.5" y1="68.8" x2="38.5" y2="110.5" stroke="#333" stroke-width="0.55"/>
<line x1="89" y1="73.4" x2="104.2" y2="117.6" stroke="#333" stroke-width="0.55"/>
<line x1="119.3" y1="68" x2="173" y2="68" stroke="#8c8c8c" stroke-width="1.1"/>
<line x1="115.8" y1="73.4" x2="138.6" y2="119.2" stroke="#333" stroke-width="0.55"/>
<circle cx="67.7" cy="147.6" r="47.2" fill="#c9b77e"/>
<circle cx="67.7" cy="147.6" r="46.7" fill="#f4eaa2"/>
<circle cx="67.7" cy="147.6" r="45.1" fill="#ecbdb5" stroke="#d8b58a" stroke-width="0.3"/>
<g transform="translate(34.2 115.6) rotate(38)">
<rect x="-9.8" y="-4.6" width="19.5" height="9.2" fill="#f7c419" stroke="#d9a40a" stroke-width="0.5"/>
<line x1="-9.8" y1="0" x2="9.8" y2="0" stroke="#ffffff" stroke-width="0.8" opacity="0.55"/>
</g>
<g transform="translate(26.3 130.6) rotate(20)">
<rect x="-8.8" y="-4.1" width="17.5" height="8.2" fill="#c9e6ec" stroke="#a9c9d0" stroke-width="0.5"/>
<line x1="-8.8" y1="0" x2="8.8" y2="0" stroke="#ffffff" stroke-width="0.8" opacity="0.55"/>
</g>
<g transform="translate(50.2 131.2) rotate(-57)">
<ellipse cx="0" cy="0" rx="16.8" ry="9.4" fill="#f5b041" stroke="#d9912a" stroke-width="0.6"/>
<ellipse cx="0" cy="0" rx="14.8" ry="7.4" fill="none" stroke="#f9cd7a" stroke-width="0.7"/>
<path d="M-11.2,-5.2 q1.5,5.2 0,10.3" fill="none" stroke="#f9c56a" stroke-width="0.7"/>
<path d="M-7.5,-5.2 q1.5,5.2 0,10.3" fill="none" stroke="#f9c56a" stroke-width="0.7"/>
<path d="M-3.7,-5.2 q1.5,5.2 0,10.3" fill="none" stroke="#f9c56a" stroke-width="0.7"/>
<path d="M0,-5.2 q1.5,5.2 0,10.3" fill="none" stroke="#f9c56a" stroke-width="0.7"/>
<path d="M3.7,-5.2 q1.5,5.2 0,10.3" fill="none" stroke="#f9c56a" stroke-width="0.7"/>
<path d="M7.5,-5.2 q1.5,5.2 0,10.3" fill="none" stroke="#f9c56a" stroke-width="0.7"/>
<path d="M11.2,-5.2 q1.5,5.2 0,10.3" fill="none" stroke="#f9c56a" stroke-width="0.7"/>
</g>
<text x="7" y="105.7" font-size="7.4" fill="#2b2b2b" stroke="#2b2b2b" stroke-width="0.16">glutamine</text>
<text x="-0.4" y="122.8" font-size="7.3" fill="#2b2b2b" stroke="#2b2b2b" stroke-width="0.16">glucose</text>
<line x1="26.3" y1="108.4" x2="41.3" y2="120.7" stroke="#1e1e1e" stroke-width="0.8"/>
<path d="M43.6,122.6 L40.3,121.9 L42.2,119.5 Z" fill="#1e1e1e" stroke="none" stroke-width="1"/>
<line x1="17.5" y1="127.7" x2="35.4" y2="133.8" stroke="#1e1e1e" stroke-width="0.8"/>
<path d="M38.2,134.8 L34.9,135.2 L35.8,132.4 Z" fill="#1e1e1e" stroke="none" stroke-width="1"/>
<text x="43.7" y="134.8" font-size="6.8" fill="#2b2b2b" stroke="#2b2b2b" stroke-width="0.16">TCA</text>
<line x1="57.3" y1="136" x2="66.1" y2="143.8" stroke="#1e1e1e" stroke-width="0.8"/>
<path d="M68.3,145.8 L65.1,144.9 L67.1,142.7 Z" fill="#1e1e1e" stroke="none" stroke-width="1"/>
<text x="65.2" y="151" font-size="7.4" fill="#9a7556" stroke="#9a7556" stroke-width="0.16">glutamate</text>
<text x="80.4" y="120.7" font-size="10.0" text-anchor="middle" fill="#2b2b2b" stroke="#2b2b2b" stroke-width="0.16">Alpha</text>
<text x="80.4" y="131.5" font-size="10.0" text-anchor="middle" fill="#2b2b2b" stroke="#2b2b2b" stroke-width="0.16">cell</text>
<path d="M37.4,150.6 L39.2,153.4 L38.1,153.4 L38.1,156.3 L36.7,156.3 L36.7,153.4 L35.6,153.4 Z" fill="#111" stroke="none" stroke-width="1"/>
<text x="40.3" y="156.3" font-size="7.4" fill="#2b2b2b" stroke="#2b2b2b" stroke-width="0.16">ATP</text>
<line x1="44.4" y1="159.8" x2="44.4" y2="170.3" stroke="#1e1e1e" stroke-width="0.8"/>
<line x1="41.6" y1="170.3" x2="47.3" y2="170.3" stroke="#1e1e1e" stroke-width="0.8"/>
<g transform="translate(33 178.9) rotate(-28)">
<rect x="-7.5" y="-3.8" width="15" height="7.6" rx="3.4" fill="#e5457d" stroke="#b8285a" stroke-width="0.5"/>
<line x1="-6.3" y1="-1.5" x2="6.3" y2="-1.5" stroke="#f58cb0" stroke-width="1.0" opacity="0.8"/>
</g>
<line x1="42.7" y1="171.9" x2="26.4" y2="183.5" stroke="#1e1e1e" stroke-width="0.8"/>
<path d="M24,185.2 L25.6,182.2 L27.3,184.7 Z" fill="#1e1e1e" stroke="none" stroke-width="1"/>
<text x="13.8" y="184.2" font-size="7.4" fill="#2b2b2b" stroke="#2b2b2b" stroke-width="0.16">K<tspan font-size="4.5" dy="-3">+</tspan></text>
<g transform="translate(76 191.2) rotate(84)">
<rect x="-7.8" y="-4.4" width="15.5" height="8.8" rx="4" fill="#f3e39a" stroke="#c7b35a" stroke-width="0.5"/>
<line x1="-6.5" y1="-1.8" x2="6.5" y2="-1.8" stroke="#fff6cf" stroke-width="1.0" opacity="0.8"/>
</g>
<line x1="78.6" y1="202.8" x2="74.9" y2="182.8" stroke="#1e1e1e" stroke-width="0.8"/>
<path d="M74.4,179.8 L76.4,182.5 L73.5,183 Z" fill="#1e1e1e" stroke="none" stroke-width="1"/>
<text x="61.9" y="179.8" font-size="8.0" fill="#2b2b2b" stroke="#2b2b2b" stroke-width="0.16">Ca<tspan font-size="4.5" dy="-3">+</tspan></text>
<path id="depA" d="M73.5,198.8 A51,51 0 0 1 31,182.8" fill="none"/>
<text font-size="6.0" fill="#333"><textPath href="#depA">depolarization</textPath></text>
<circle cx="84.7" cy="161.4" r="3.8" fill="#f3dcae"/>
<circle cx="84.7" cy="161.4" r="2.9" fill="url(#gpink)"/>
<circle cx="84.7" cy="161.4" r="1" fill="#6b2a2a"/>
<circle cx="102.2" cy="159.6" r="3.8" fill="#f3dcae"/>
<circle cx="102.2" cy="159.6" r="2.9" fill="url(#gpink)"/>
<circle cx="76" cy="170.1" r="3.8" fill="#f3dcae"/>
<circle cx="76" cy="170.1" r="2.9" fill="url(#gpink)"/>
<circle cx="83.8" cy="176.3" r="3.8" fill="#f3dcae"/>
<circle cx="83.8" cy="176.3" r="2.9" fill="url(#gpink)"/>
<circle cx="99.6" cy="174.5" r="3.8" fill="#f3dcae"/>
<circle cx="99.6" cy="174.5" r="2.9" fill="url(#gpink)"/>
<circle cx="99.6" cy="174.5" r="1" fill="#6b2a2a"/>
<line x1="74.2" y1="151.8" x2="81.2" y2="158.2" stroke="#1e1e1e" stroke-width="0.8"/>
<path d="M83.4,160.2 L80.2,159.3 L82.2,157.1 Z" fill="#1e1e1e" stroke="none" stroke-width="1"/>
<line x1="87.3" y1="163.3" x2="95.8" y2="171" stroke="#1e1e1e" stroke-width="0.6" stroke-dasharray="1,1"/>
<path d="M97.6,172.6 L95,171.9 L96.6,170.1 Z" fill="#1e1e1e" stroke="none" stroke-width="1"/>
<circle cx="185.6" cy="113" r="47.2" fill="#c9b77e"/>
<circle cx="185.6" cy="113" r="46.7" fill="#f4eaa2"/>
<circle cx="185.6" cy="113" r="45.1" fill="#d7eef1" stroke="#c8c09a" stroke-width="0.3"/>
<g transform="translate(198.6 69.5) rotate(75)">
<rect x="-9" y="-4.5" width="18" height="9" fill="#c9e6ec" stroke="#a9c9d0" stroke-width="0.5"/>
<line x1="-9" y1="0" x2="9" y2="0" stroke="#ffffff" stroke-width="0.8" opacity="0.55"/>
</g>
<g transform="translate(219 78.3) rotate(-53)">
<rect x="-9.5" y="-4.8" width="19" height="9.6" fill="#f7c419" stroke="#d9a40a" stroke-width="0.5"/>
<line x1="-9.5" y1="0" x2="9.5" y2="0" stroke="#ffffff" stroke-width="0.8" opacity="0.55"/>
</g>
<g transform="translate(198.6 92.9) rotate(24)">
<ellipse cx="0" cy="0" rx="16.6" ry="9.2" fill="#f5b041" stroke="#d9912a" stroke-width="0.6"/>
<ellipse cx="0" cy="0" rx="14.6" ry="7.2" fill="none" stroke="#f9cd7a" stroke-width="0.7"/>
<path d="M-11.1,-5.1 q1.5,5.1 0,10.1" fill="none" stroke="#f9c56a" stroke-width="0.7"/>
<path d="M-7.4,-5.1 q1.5,5.1 0,10.1" fill="none" stroke="#f9c56a" stroke-width="0.7"/>
<path d="M-3.7,-5.1 q1.5,5.1 0,10.1" fill="none" stroke="#f9c56a" stroke-width="0.7"/>
<path d="M0,-5.1 q1.5,5.1 0,10.1" fill="none" stroke="#f9c56a" stroke-width="0.7"/>
<path d="M3.7,-5.1 q1.5,5.1 0,10.1" fill="none" stroke="#f9c56a" stroke-width="0.7"/>
<path d="M7.4,-5.1 q1.5,5.1 0,10.1" fill="none" stroke="#f9c56a" stroke-width="0.7"/>
<path d="M11.1,-5.1 q1.5,5.1 0,10.1" fill="none" stroke="#f9c56a" stroke-width="0.7"/>
</g>
<text x="191" y="60" font-size="7.3" fill="#2b2b2b" stroke="#2b2b2b" stroke-width="0.16">glucose</text>
<text x="220.5" y="67.2" font-size="7.4" fill="#2b2b2b" stroke="#2b2b2b" stroke-width="0.16">glutamine</text>
<line x1="201.6" y1="60.9" x2="197.1" y2="78.5" stroke="#1e1e1e" stroke-width="0.8"/>
<path d="M196.3,81.4 L195.6,78.1 L198.5,78.9 Z" fill="#1e1e1e" stroke="none" stroke-width="1"/>
<line x1="224.9" y1="71.9" x2="213.2" y2="86.1" stroke="#1e1e1e" stroke-width="0.8"/>
<path d="M211.3,88.4 L212.1,85.1 L214.4,87 Z" fill="#1e1e1e" stroke="none" stroke-width="1"/>
<text x="202.1" y="97" font-size="6.8" text-anchor="middle" fill="#2b2b2b" stroke="#2b2b2b" stroke-width="0.16">TCA</text>
<text x="159" y="102" font-size="10.0" text-anchor="middle" fill="#2b2b2b" stroke="#2b2b2b" stroke-width="0.16">Beta</text>
<text x="159" y="113.3" font-size="10.0" text-anchor="middle" fill="#2b2b2b" stroke="#2b2b2b" stroke-width="0.16">cell</text>
<line x1="188.7" y1="101" x2="188.7" y2="112.2" stroke="#1e1e1e" stroke-width="0.8"/>
<path d="M188.7,115.2 L187.2,112.2 L190.2,112.2 Z" fill="#1e1e1e" stroke="none" stroke-width="1"/>
<text x="171.2" y="120.3" font-size="7.45" fill="#9a7556" stroke="#9a7556" stroke-width="0.16">glutamate</text>
<path d="M195.9,104.7 L197.7,107.5 L196.6,107.5 L196.6,110.4 L195.2,110.4 L195.2,107.5 L194.1,107.5 Z" fill="#111" stroke="none" stroke-width="1"/>
<text x="198.6" y="110.4" font-size="7.4" fill="#2b2b2b" stroke="#2b2b2b" stroke-width="0.16">ATP</text>
<line x1="211.8" y1="107.9" x2="218.5" y2="107.9" stroke="#1e1e1e" stroke-width="0.8"/>
<line x1="218.5" y1="105.6" x2="218.5" y2="110.2" stroke="#1e1e1e" stroke-width="0.8"/>
<g transform="translate(230.7 105.7) rotate(-14)">
<rect x="-7.5" y="-4.2" width="15" height="8.4" rx="3.8" fill="#e5457d" stroke="#b8285a" stroke-width="0.5"/>
<line x1="-6.3" y1="-1.7" x2="6.3" y2="-1.7" stroke="#f58cb0" stroke-width="1.0" opacity="0.8"/>
</g>
<line x1="221.4" y1="109.8" x2="239.8" y2="103.6" stroke="#1e1e1e" stroke-width="0.8"/>
<path d="M242.6,102.6 L240.2,105 L239.3,102.1 Z" fill="#1e1e1e" stroke="none" stroke-width="1"/>
<text x="240.7" y="99.9" font-size="7.4" fill="#2b2b2b" stroke="#2b2b2b" stroke-width="0.16">K<tspan font-size="4.5" dy="-3">+</tspan></text>
<g transform="translate(214.9 145.7) rotate(55)">
<rect x="-7.8" y="-4.4" width="15.5" height="8.8" rx="4" fill="#f3e39a" stroke="#c7b35a" stroke-width="0.5"/>
<line x1="-6.5" y1="-1.8" x2="6.5" y2="-1.8" stroke="#fff6cf" stroke-width="1.0" opacity="0.8"/>
</g>
<line x1="220.8" y1="154.6" x2="209.6" y2="140.5" stroke="#1e1e1e" stroke-width="0.8"/>
<path d="M207.7,138.2 L210.7,139.6 L208.4,141.5 Z" fill="#1e1e1e" stroke="none" stroke-width="1"/>
<text x="204.4" y="134.4" font-size="8.0" fill="#2b2b2b" stroke="#2b2b2b" stroke-width="0.16">Ca<tspan font-size="4.5" dy="-3">+</tspan></text>
<path id="depB" d="M234.2,110 A48.5,48.5 0 0 1 222.5,146" fill="none"/>
<text font-size="6.2" fill="#333"><textPath href="#depB">depolarization</textPath></text>
<circle cx="162.7" cy="129.6" r="3.8" fill="#efe2a6"/>
<circle cx="162.7" cy="129.6" r="2.9" fill="url(#gblue)"/>
<circle cx="177.9" cy="126.8" r="3.8" fill="#efe2a6"/>
<circle cx="177.9" cy="126.8" r="2.9" fill="url(#gblue)"/>
<circle cx="174.1" cy="137.8" r="3.8" fill="#efe2a6"/>
<circle cx="174.1" cy="137.8" r="2.9" fill="url(#gblue)"/>
<circle cx="186.4" cy="134" r="3.8" fill="#efe2a6"/>
<circle cx="186.4" cy="134" r="2.9" fill="url(#gblue)"/>
<circle cx="186.4" cy="134" r="1" fill="#1d4f6a"/>
<circle cx="166.5" cy="145.7" r="3.8" fill="#efe2a6"/>
<circle cx="166.5" cy="145.7" r="2.9" fill="url(#gblue)"/>
<circle cx="198.7" cy="147.6" r="3.8" fill="#efe2a6"/>
<circle cx="198.7" cy="147.6" r="2.9" fill="url(#gblue)"/>
<circle cx="182.6" cy="155.6" r="3.8" fill="#efe2a6"/>
<circle cx="182.6" cy="155.6" r="2.9" fill="url(#gblue)"/>
<circle cx="182.6" cy="155.6" r="1" fill="#1d4f6a"/>
<line x1="187.4" y1="121.5" x2="186.9" y2="127.6" stroke="#1e1e1e" stroke-width="0.8"/>
<path d="M186.6,130.6 L185.4,127.5 L188.4,127.7 Z" fill="#1e1e1e" stroke="none" stroke-width="1"/>
<line x1="186" y1="138" x2="183.7" y2="149.6" stroke="#1e1e1e" stroke-width="0.6" stroke-dasharray="1,1"/>
<path d="M183.2,152 L182.5,149.4 L184.8,149.9 Z" fill="#1e1e1e" stroke="none" stroke-width="1"/>
<circle cx="130.4" cy="161.2" r="3.6" fill="url(#gpinkb)"/>
<circle cx="123.1" cy="169.1" r="3.6" fill="url(#gpinkb)"/>
<circle cx="114.4" cy="175" r="3.6" fill="url(#gpinkb)"/>
<circle cx="126" cy="179.9" r="3.6" fill="url(#gpinkb)"/>
<circle cx="123.1" cy="208.3" r="3.6" fill="url(#gpinkb)"/>
<circle cx="137.6" cy="209.2" r="3.6" fill="url(#gpinkb)"/>
<circle cx="152.9" cy="161.9" r="3.6" fill="url(#gblueb)"/>
<circle cx="167.1" cy="168" r="3.6" fill="url(#gblueb)"/>
<circle cx="191.7" cy="163.4" r="3.6" fill="url(#gblueb)"/>
<circle cx="156" cy="180" r="3.6" fill="url(#gblueb)"/>
<circle cx="156" cy="193.2" r="3.6" fill="url(#gblueb)"/>
<circle cx="174.6" cy="202.8" r="3.6" fill="url(#gblueb)"/>
<line x1="135.2" y1="174" x2="158.8" y2="174" stroke="#1e1e1e" stroke-width="2.2"/>
<line x1="135" y1="170.6" x2="135" y2="177.6" stroke="#1e1e1e" stroke-width="2.2"/>
<text x="130.8" y="191.5" font-size="7.3" text-anchor="middle" fill="#2b2b2b" stroke="#2b2b2b" stroke-width="0.16">Glucagon</text>
<text x="130.8" y="200.2" font-size="7.3" text-anchor="middle" fill="#2b2b2b" stroke="#2b2b2b" stroke-width="0.16">release</text>
<text x="173.2" y="177.7" font-size="7.3" text-anchor="middle" fill="#2b2b2b" stroke="#2b2b2b" stroke-width="0.16">Insulin</text>
<text x="173.2" y="187.1" font-size="7.3" text-anchor="middle" fill="#2b2b2b" stroke="#2b2b2b" stroke-width="0.16">release</text>
<text x="211" y="187.7" font-size="7.45" text-anchor="middle" fill="#9a7556" stroke="#9a7556" stroke-width="0.16">glutamate</text>
<text x="96.4" y="213.6" font-size="7.45" text-anchor="middle" fill="#9a7556" stroke="#9a7556" stroke-width="0.16">glutamate</text>
<path d="M104.8,182.2 Q106.5,190.5 102.9,193.9" fill="none" stroke="#1e1e1e" stroke-width="0.8"/>
<path d="M101.2,195.6 L102.1,193.1 L103.8,194.8 Z" fill="#1e1e1e" stroke="none" stroke-width="1"/>
<path d="M106.8,182.8 Q108.5,190.5 112.2,191.1" fill="none" stroke="#1e1e1e" stroke-width="0.8"/>
<path d="M114.6,191.5 L112,192.3 L112.4,189.9 Z" fill="#1e1e1e" stroke="none" stroke-width="1"/>
<path d="M182,157.8 Q181.5,166.5 174.5,169" fill="none" stroke="#1e1e1e" stroke-width="0.8"/>
<path d="M172.2,169.8 L174.1,167.9 L174.9,170.1 Z" fill="#1e1e1e" stroke="none" stroke-width="1"/>
<path d="M184,157.8 Q188,175 195.3,177.9" fill="none" stroke="#1e1e1e" stroke-width="0.8"/>
<path d="M197.5,178.8 L194.8,179 L195.7,176.8 Z" fill="#1e1e1e" stroke="none" stroke-width="1"/>
<circle cx="91.2" cy="202.5" r="0.5" fill="#6e5040"/>
<circle cx="96.4" cy="202" r="0.5" fill="#6e5040"/>
<circle cx="94.6" cy="203.9" r="0.5" fill="#6e5040"/>
<circle cx="86.9" cy="204.8" r="0.5" fill="#6e5040"/>
<circle cx="86.6" cy="204.3" r="0.5" fill="#6e5040"/>
<circle cx="87.1" cy="202.1" r="0.5" fill="#6e5040"/>
<circle cx="92.8" cy="206.9" r="0.5" fill="#6e5040"/>
<circle cx="88" cy="203" r="0.5" fill="#6e5040"/>
<circle cx="96" cy="207.7" r="0.5" fill="#6e5040"/>
<circle cx="95.2" cy="204.1" r="0.5" fill="#6e5040"/>
<circle cx="101.6" cy="201.8" r="0.5" fill="#6e5040"/>
<circle cx="99.7" cy="203.4" r="0.5" fill="#6e5040"/>
<circle cx="203.3" cy="176.6" r="0.5" fill="#6e5040"/>
<circle cx="205.9" cy="189.2" r="0.5" fill="#6e5040"/>
<circle cx="203.9" cy="185" r="0.5" fill="#6e5040"/>
<circle cx="211.2" cy="181.2" r="0.5" fill="#6e5040"/>
<circle cx="209.8" cy="175.6" r="0.5" fill="#6e5040"/>
<circle cx="202" cy="178.2" r="0.5" fill="#6e5040"/>
<circle cx="211.9" cy="182.2" r="0.5" fill="#6e5040"/>
<circle cx="206" cy="185" r="0.5" fill="#6e5040"/>
<circle cx="208.3" cy="179.9" r="0.5" fill="#6e5040"/>
<circle cx="213.7" cy="187.1" r="0.5" fill="#6e5040"/>
<circle cx="204.9" cy="184.8" r="0.5" fill="#6e5040"/>
<circle cx="209.4" cy="190.3" r="0.5" fill="#6e5040"/>
</g>
<text x="0.8" y="228" font-size="15" font-weight="bold" fill="#111">C</text>
<text x="0" y="0" font-size="7.55" text-anchor="middle" fill="#222" stroke="#222" stroke-width="0.16" transform="translate(38.3 284.2) rotate(-90)">Expression (quantile-</text>
<text x="0" y="0" font-size="7.55" text-anchor="middle" fill="#222" stroke="#222" stroke-width="0.16" transform="translate(47.3 283) rotate(-90)">normalized relative counts)</text>
<text x="57.6" y="334.3" font-size="6.6" text-anchor="end" fill="#333" stroke="#333" stroke-width="0.16">0</text>
<line x1="58.6" y1="332" x2="61.3" y2="332" stroke="#333" stroke-width="0.7"/>
<text x="57.6" y="309.5" font-size="6.6" text-anchor="end" fill="#333" stroke="#333" stroke-width="0.16">1</text>
<line x1="58.6" y1="307.2" x2="61.3" y2="307.2" stroke="#333" stroke-width="0.7"/>
<text x="57.6" y="284.7" font-size="6.6" text-anchor="end" fill="#333" stroke="#333" stroke-width="0.16">2</text>
<line x1="58.6" y1="282.4" x2="61.3" y2="282.4" stroke="#333" stroke-width="0.7"/>
<text x="57.6" y="259.9" font-size="6.6" text-anchor="end" fill="#333" stroke="#333" stroke-width="0.16">3</text>
<line x1="58.6" y1="257.6" x2="61.3" y2="257.6" stroke="#333" stroke-width="0.7"/>
<rect x="61.3" y="234.6" width="72.6" height="12" fill="#efefef" stroke="#333" stroke-width="0.8"/>
<text x="97.6" y="242.8" font-size="6.3" text-anchor="middle" fill="#1a1a1a" stroke="#1a1a1a" stroke-width="0.16">acinar</text>
<rect x="61.3" y="246.6" width="72.6" height="88.4" fill="#fff" stroke="#333" stroke-width="0.9"/>
<polyline points="81.7,260.3 81.7,257.8 113.4,257.8 113.4,260.3" fill="none" stroke="#333" stroke-width="0.6"/>
<text x="97.5" y="257" font-size="7.4" text-anchor="middle" fill="#1a1a1a" stroke="#1a1a1a" stroke-width="0.16">p &lt; 2.22e-16</text>
<line x1="81.2" y1="294" x2="81.2" y2="308.4" stroke="#2f7bc4" stroke-width="0.9"/>
<line x1="81.2" y1="320.7" x2="81.2" y2="331.5" stroke="#2f7bc4" stroke-width="0.9"/>
<rect x="69.5" y="308.4" width="23.5" height="12.3" fill="#fff" stroke="#2f7bc4" stroke-width="0.9"/>
<line x1="69.5" y1="315.6" x2="93" y2="315.6" stroke="#2f7bc4" stroke-width="1.6"/>
<circle cx="81.2" cy="269.8" r="1.4" fill="#1f6dbd"/>
<circle cx="81.2" cy="287.5" r="1.4" fill="#1f6dbd"/>
<circle cx="81.2" cy="288.5" r="1.4" fill="#1f6dbd"/>
<circle cx="81.2" cy="289.5" r="1.4" fill="#1f6dbd"/>
<circle cx="81.2" cy="290.5" r="1.4" fill="#1f6dbd"/>
<circle cx="81.2" cy="291.5" r="1.4" fill="#1f6dbd"/>
<circle cx="81.2" cy="292.5" r="1.4" fill="#1f6dbd"/>
<line x1="114" y1="285.5" x2="114" y2="304.3" stroke="#efbd32" stroke-width="0.9"/>
<line x1="114" y1="316.6" x2="114" y2="330.5" stroke="#efbd32" stroke-width="0.9"/>
<rect x="102.2" y="304.3" width="23.5" height="12.3" fill="#fff" stroke="#efbd32" stroke-width="0.9"/>
<line x1="102.2" y1="310.4" x2="125.7" y2="310.4" stroke="#efbd32" stroke-width="1.6"/>
<circle cx="114" cy="274.5" r="1.4" fill="#eeb523"/>
<circle cx="114" cy="276" r="1.4" fill="#eeb523"/>
<circle cx="114" cy="280" r="1.4" fill="#eeb523"/>
<circle cx="114" cy="281.5" r="1.4" fill="#eeb523"/>
<rect x="137.5" y="234.6" width="71.9" height="12" fill="#efefef" stroke="#333" stroke-width="0.8"/>
<text x="173.4" y="242.8" font-size="6.3" text-anchor="middle" fill="#1a1a1a" stroke="#1a1a1a" stroke-width="0.16">alpha</text>
<rect x="137.5" y="246.6" width="71.9" height="88.4" fill="#fff" stroke="#333" stroke-width="0.9"/>
<polyline points="156.9,260.3 156.9,257.8 189.6,257.8 189.6,260.3" fill="none" stroke="#333" stroke-width="0.6"/>
<text x="173.2" y="257" font-size="7.4" text-anchor="middle" fill="#1a1a1a" stroke="#1a1a1a" stroke-width="0.16">0.011</text>
<line x1="156.8" y1="283.7" x2="156.8" y2="300.1" stroke="#2f7bc4" stroke-width="0.9"/>
<line x1="156.8" y1="312.2" x2="156.8" y2="330" stroke="#2f7bc4" stroke-width="0.9"/>
<rect x="145.2" y="300.1" width="23.3" height="12.1" fill="#fff" stroke="#2f7bc4" stroke-width="0.9"/>
<line x1="145.2" y1="307.3" x2="168.5" y2="307.3" stroke="#2f7bc4" stroke-width="1.6"/>
<circle cx="156.8" cy="260.3" r="1.4" fill="#1f6dbd"/>
<circle cx="156.8" cy="264.6" r="1.4" fill="#1f6dbd"/>
<circle cx="156.8" cy="268" r="1.4" fill="#1f6dbd"/>
<circle cx="156.8" cy="268.8" r="1.4" fill="#1f6dbd"/>
<circle cx="156.8" cy="269.6" r="1.4" fill="#1f6dbd"/>
<circle cx="156.8" cy="270.4" r="1.4" fill="#1f6dbd"/>
<circle cx="156.8" cy="271.2" r="1.4" fill="#1f6dbd"/>
<circle cx="156.8" cy="272" r="1.4" fill="#1f6dbd"/>
<circle cx="156.8" cy="272.8" r="1.4" fill="#1f6dbd"/>
<circle cx="156.8" cy="273.6" r="1.4" fill="#1f6dbd"/>
<circle cx="156.8" cy="274.4" r="1.4" fill="#1f6dbd"/>
<circle cx="156.8" cy="275.2" r="1.4" fill="#1f6dbd"/>
<circle cx="156.8" cy="276" r="1.4" fill="#1f6dbd"/>
<circle cx="156.8" cy="276.8" r="1.4" fill="#1f6dbd"/>
<circle cx="156.8" cy="277.6" r="1.4" fill="#1f6dbd"/>
<circle cx="156.8" cy="278.4" r="1.4" fill="#1f6dbd"/>
<circle cx="156.8" cy="279.2" r="1.4" fill="#1f6dbd"/>
<circle cx="156.8" cy="280" r="1.4" fill="#1f6dbd"/>
<circle cx="156.8" cy="280.8" r="1.4" fill="#1f6dbd"/>
<circle cx="156.8" cy="281.6" r="1.4" fill="#1f6dbd"/>
<circle cx="156.8" cy="282.4" r="1.4" fill="#1f6dbd"/>
<circle cx="156.8" cy="283.2" r="1.4" fill="#1f6dbd"/>
<line x1="189.6" y1="279" x2="189.6" y2="298.4" stroke="#efbd32" stroke-width="0.9"/>
<line x1="189.6" y1="312.2" x2="189.6" y2="330.4" stroke="#efbd32" stroke-width="0.9"/>
<rect x="177.9" y="298.4" width="23.3" height="13.8" fill="#fff" stroke="#efbd32" stroke-width="0.9"/>
<line x1="177.9" y1="306" x2="201.2" y2="306" stroke="#efbd32" stroke-width="1.6"/>
<circle cx="189.6" cy="250.3" r="1.4" fill="#eeb523"/>
<circle cx="189.6" cy="255.2" r="1.4" fill="#eeb523"/>
<circle cx="189.6" cy="264.9" r="1.4" fill="#eeb523"/>
<circle cx="189.6" cy="270" r="1.4" fill="#eeb523"/>
<circle cx="189.6" cy="270.8" r="1.4" fill="#eeb523"/>
<circle cx="189.6" cy="271.6" r="1.4" fill="#eeb523"/>
<circle cx="189.6" cy="272.4" r="1.4" fill="#eeb523"/>
<circle cx="189.6" cy="273.2" r="1.4" fill="#eeb523"/>
<circle cx="189.6" cy="274" r="1.4" fill="#eeb523"/>
<circle cx="189.6" cy="274.8" r="1.4" fill="#eeb523"/>
<circle cx="189.6" cy="275.6" r="1.4" fill="#eeb523"/>
<circle cx="189.6" cy="276.4" r="1.4" fill="#eeb523"/>
<circle cx="189.6" cy="277.2" r="1.4" fill="#eeb523"/>
<rect x="212.9" y="234.6" width="71.7" height="12" fill="#efefef" stroke="#333" stroke-width="0.8"/>
<text x="248.8" y="242.8" font-size="6.3" text-anchor="middle" fill="#1a1a1a" stroke="#1a1a1a" stroke-width="0.16">beta</text>
<rect x="212.9" y="246.6" width="71.7" height="88.4" fill="#fff" stroke="#333" stroke-width="0.9"/>
<polyline points="230.9,260.3 230.9,257.8 266,257.8 266,260.3" fill="none" stroke="#333" stroke-width="0.6"/>
<text x="248.7" y="257" font-size="7.4" text-anchor="middle" fill="#1a1a1a" stroke="#1a1a1a" stroke-width="0.16">p &lt; 2.22e-16</text>
<line x1="232.2" y1="279" x2="232.2" y2="295.9" stroke="#2f7bc4" stroke-width="0.9"/>
<line x1="232.2" y1="308.3" x2="232.2" y2="323.4" stroke="#2f7bc4" stroke-width="0.9"/>
<rect x="220.6" y="295.9" width="23.2" height="12.4" fill="#fff" stroke="#2f7bc4" stroke-width="0.9"/>
<line x1="220.6" y1="302.9" x2="243.8" y2="302.9" stroke="#2f7bc4" stroke-width="1.6"/>
<circle cx="232.2" cy="249.9" r="1.4" fill="#1f6dbd"/>
<circle cx="232.2" cy="252.5" r="1.4" fill="#1f6dbd"/>
<circle cx="232.2" cy="255.5" r="1.4" fill="#1f6dbd"/>
<circle cx="232.2" cy="262.5" r="1.4" fill="#1f6dbd"/>
<circle cx="232.2" cy="265" r="1.4" fill="#1f6dbd"/>
<circle cx="232.2" cy="268" r="1.4" fill="#1f6dbd"/>
<circle cx="232.2" cy="268.8" r="1.4" fill="#1f6dbd"/>
<circle cx="232.2" cy="269.6" r="1.4" fill="#1f6dbd"/>
<circle cx="232.2" cy="270.4" r="1.4" fill="#1f6dbd"/>
<circle cx="232.2" cy="271.2" r="1.4" fill="#1f6dbd"/>
<circle cx="232.2" cy="272" r="1.4" fill="#1f6dbd"/>
<circle cx="232.2" cy="272.8" r="1.4" fill="#1f6dbd"/>
<circle cx="232.2" cy="273.6" r="1.4" fill="#1f6dbd"/>
<circle cx="232.2" cy="274.4" r="1.4" fill="#1f6dbd"/>
<circle cx="232.2" cy="275.2" r="1.4" fill="#1f6dbd"/>
<circle cx="232.2" cy="276" r="1.4" fill="#1f6dbd"/>
<circle cx="232.2" cy="276.8" r="1.4" fill="#1f6dbd"/>
<circle cx="232.2" cy="277.6" r="1.4" fill="#1f6dbd"/>
<circle cx="232.2" cy="278.4" r="1.4" fill="#1f6dbd"/>
<circle cx="232.2" cy="325.5" r="1.4" fill="#1f6dbd"/>
<circle cx="232.2" cy="326.3" r="1.4" fill="#1f6dbd"/>
<circle cx="232.2" cy="327.1" r="1.4" fill="#1f6dbd"/>
<circle cx="232.2" cy="327.9" r="1.4" fill="#1f6dbd"/>
<circle cx="232.2" cy="328.7" r="1.4" fill="#1f6dbd"/>
<line x1="264.9" y1="279" x2="264.9" y2="299.6" stroke="#efbd32" stroke-width="0.9"/>
<line x1="264.9" y1="314.1" x2="264.9" y2="329.3" stroke="#efbd32" stroke-width="0.9"/>
<rect x="253.3" y="299.6" width="23.2" height="14.5" fill="#fff" stroke="#efbd32" stroke-width="0.9"/>
<line x1="253.3" y1="307.6" x2="276.5" y2="307.6" stroke="#efbd32" stroke-width="1.6"/>
<circle cx="264.9" cy="259.2" r="1.4" fill="#eeb523"/>
<circle cx="264.9" cy="259.9" r="1.4" fill="#eeb523"/>
<circle cx="264.9" cy="260.6" r="1.4" fill="#eeb523"/>
<circle cx="264.9" cy="261.3" r="1.4" fill="#eeb523"/>
<circle cx="264.9" cy="262" r="1.4" fill="#eeb523"/>
<circle cx="264.9" cy="262.7" r="1.4" fill="#eeb523"/>
<circle cx="264.9" cy="263.4" r="1.4" fill="#eeb523"/>
<circle cx="264.9" cy="264.1" r="1.4" fill="#eeb523"/>
<circle cx="264.9" cy="264.8" r="1.4" fill="#eeb523"/>
<circle cx="264.9" cy="265.5" r="1.4" fill="#eeb523"/>
<circle cx="264.9" cy="266.2" r="1.4" fill="#eeb523"/>
<circle cx="264.9" cy="266.9" r="1.4" fill="#eeb523"/>
<circle cx="264.9" cy="267.6" r="1.4" fill="#eeb523"/>
<circle cx="264.9" cy="268.3" r="1.4" fill="#eeb523"/>
<circle cx="264.9" cy="269" r="1.4" fill="#eeb523"/>
<circle cx="264.9" cy="269.7" r="1.4" fill="#eeb523"/>
<circle cx="264.9" cy="270.4" r="1.4" fill="#eeb523"/>
<circle cx="264.9" cy="271.1" r="1.4" fill="#eeb523"/>
<circle cx="264.9" cy="271.8" r="1.4" fill="#eeb523"/>
<circle cx="264.9" cy="272.5" r="1.4" fill="#eeb523"/>
<circle cx="264.9" cy="273.2" r="1.4" fill="#eeb523"/>
<circle cx="264.9" cy="273.9" r="1.4" fill="#eeb523"/>
<circle cx="264.9" cy="274.6" r="1.4" fill="#eeb523"/>
<circle cx="264.9" cy="275.3" r="1.4" fill="#eeb523"/>
<circle cx="264.9" cy="276" r="1.4" fill="#eeb523"/>
<circle cx="264.9" cy="276.7" r="1.4" fill="#eeb523"/>
<circle cx="264.9" cy="277.4" r="1.4" fill="#eeb523"/>
<circle cx="264.9" cy="278.1" r="1.4" fill="#eeb523"/>
<circle cx="264.9" cy="278.8" r="1.4" fill="#eeb523"/>
<rect x="288.4" y="234.6" width="71.7" height="12" fill="#efefef" stroke="#333" stroke-width="0.8"/>
<text x="324.2" y="242.8" font-size="6.3" text-anchor="middle" fill="#1a1a1a" stroke="#1a1a1a" stroke-width="0.16">delta</text>
<rect x="288.4" y="246.6" width="71.7" height="88.4" fill="#fff" stroke="#333" stroke-width="0.9"/>
<polyline points="307.6,260.3 307.6,257.8 340.7,257.8 340.7,260.3" fill="none" stroke="#333" stroke-width="0.6"/>
<text x="324.4" y="257" font-size="7.4" text-anchor="middle" fill="#1a1a1a" stroke="#1a1a1a" stroke-width="0.16">6.3e-12</text>
<line x1="308" y1="270.9" x2="308" y2="292.4" stroke="#2f7bc4" stroke-width="0.9"/>
<line x1="308" y1="307.6" x2="308" y2="328.6" stroke="#2f7bc4" stroke-width="0.9"/>
<rect x="296.4" y="292.4" width="23.3" height="15.2" fill="#fff" stroke="#2f7bc4" stroke-width="0.9"/>
<line x1="296.4" y1="300.1" x2="319.7" y2="300.1" stroke="#2f7bc4" stroke-width="1.6"/>
<circle cx="308" cy="261.8" r="1.4" fill="#1f6dbd"/>
<circle cx="308" cy="264.5" r="1.4" fill="#1f6dbd"/>
<circle cx="308" cy="265.3" r="1.4" fill="#1f6dbd"/>
<circle cx="308" cy="266.1" r="1.4" fill="#1f6dbd"/>
<circle cx="308" cy="266.9" r="1.4" fill="#1f6dbd"/>
<circle cx="308" cy="267.7" r="1.4" fill="#1f6dbd"/>
<circle cx="308" cy="268.5" r="1.4" fill="#1f6dbd"/>
<circle cx="308" cy="269.3" r="1.4" fill="#1f6dbd"/>
<circle cx="308" cy="270.1" r="1.4" fill="#1f6dbd"/>
<line x1="340.8" y1="277.4" x2="340.8" y2="297.3" stroke="#efbd32" stroke-width="0.9"/>
<line x1="340.8" y1="313.4" x2="340.8" y2="329.3" stroke="#efbd32" stroke-width="0.9"/>
<rect x="329.1" y="297.3" width="23.3" height="16.1" fill="#fff" stroke="#efbd32" stroke-width="0.9"/>
<line x1="329.1" y1="305.4" x2="352.4" y2="305.4" stroke="#efbd32" stroke-width="1.6"/>
<circle cx="340.8" cy="271" r="1.4" fill="#eeb523"/>
<rect x="364.6" y="234.6" width="71.4" height="12" fill="#efefef" stroke="#333" stroke-width="0.8"/>
<text x="400.3" y="242.8" font-size="6.3" text-anchor="middle" fill="#1a1a1a" stroke="#1a1a1a" stroke-width="0.16">gamma</text>
<rect x="364.6" y="246.6" width="71.4" height="88.4" fill="#fff" stroke="#333" stroke-width="0.9"/>
<polyline points="383.5,260.3 383.5,257.8 416.7,257.8 416.7,260.3" fill="none" stroke="#333" stroke-width="0.6"/>
<text x="399.6" y="257" font-size="7.4" text-anchor="middle" fill="#1a1a1a" stroke="#1a1a1a" stroke-width="0.16">p &lt; 2.22e-16</text>
<line x1="384" y1="276.7" x2="384" y2="297.7" stroke="#2f7bc4" stroke-width="0.9"/>
<line x1="384" y1="312.5" x2="384" y2="328.1" stroke="#2f7bc4" stroke-width="0.9"/>
<rect x="372.3" y="297.7" width="23.3" height="14.8" fill="#fff" stroke="#2f7bc4" stroke-width="0.9"/>
<line x1="372.3" y1="306.4" x2="395.6" y2="306.4" stroke="#2f7bc4" stroke-width="1.6"/>
<circle cx="384" cy="263.4" r="1.4" fill="#1f6dbd"/>
<circle cx="384" cy="269.5" r="1.4" fill="#1f6dbd"/>
<circle cx="384" cy="270.3" r="1.4" fill="#1f6dbd"/>
<circle cx="384" cy="271.1" r="1.4" fill="#1f6dbd"/>
<circle cx="384" cy="271.9" r="1.4" fill="#1f6dbd"/>
<circle cx="384" cy="272.7" r="1.4" fill="#1f6dbd"/>
<circle cx="384" cy="273.5" r="1.4" fill="#1f6dbd"/>
<circle cx="384" cy="274.3" r="1.4" fill="#1f6dbd"/>
<circle cx="384" cy="275.1" r="1.4" fill="#1f6dbd"/>
<circle cx="384" cy="275.9" r="1.4" fill="#1f6dbd"/>
<line x1="416.6" y1="302.4" x2="416.6" y2="312.2" stroke="#efbd32" stroke-width="0.9"/>
<line x1="416.6" y1="323.4" x2="416.6" y2="330.9" stroke="#efbd32" stroke-width="0.9"/>
<rect x="405" y="312.2" width="23.3" height="11.2" fill="#fff" stroke="#efbd32" stroke-width="0.9"/>
<line x1="405" y1="319.2" x2="428.3" y2="319.2" stroke="#efbd32" stroke-width="1.6"/>
<circle cx="416.6" cy="282.6" r="1.4" fill="#eeb523"/>
<circle cx="416.6" cy="285.2" r="1.4" fill="#eeb523"/>
<circle cx="416.6" cy="290.5" r="1.4" fill="#eeb523"/>
<circle cx="416.6" cy="291.3" r="1.4" fill="#eeb523"/>
<circle cx="416.6" cy="292.1" r="1.4" fill="#eeb523"/>
<circle cx="416.6" cy="292.9" r="1.4" fill="#eeb523"/>
<circle cx="416.6" cy="293.7" r="1.4" fill="#eeb523"/>
<rect x="440.3" y="234.6" width="72.2" height="12" fill="#efefef" stroke="#333" stroke-width="0.8"/>
<text x="476.4" y="242.8" font-size="6.3" text-anchor="middle" fill="#1a1a1a" stroke="#1a1a1a" stroke-width="0.16">endothelial</text>
<rect x="440.3" y="246.6" width="72.2" height="88.4" fill="#fff" stroke="#333" stroke-width="0.9"/>
<polyline points="459.5,260.3 459.5,257.8 492.6,257.8 492.6,260.3" fill="none" stroke="#333" stroke-width="0.6"/>
<text x="475.6" y="257" font-size="7.4" text-anchor="middle" fill="#1a1a1a" stroke="#1a1a1a" stroke-width="0.16">5.7e-05</text>
<line x1="459.7" y1="286.2" x2="459.7" y2="306.1" stroke="#2f7bc4" stroke-width="0.9"/>
<line x1="459.7" y1="319.9" x2="459.7" y2="330.2" stroke="#2f7bc4" stroke-width="0.9"/>
<rect x="447.7" y="306.1" width="24" height="13.8" fill="#fff" stroke="#2f7bc4" stroke-width="0.9"/>
<line x1="447.7" y1="319.2" x2="471.7" y2="319.2" stroke="#2f7bc4" stroke-width="1.6"/>
<circle cx="459.7" cy="277.5" r="1.4" fill="#1f6dbd"/>
<circle cx="459.7" cy="281.3" r="1.4" fill="#1f6dbd"/>
<line x1="492.4" y1="281.4" x2="492.4" y2="293.3" stroke="#efbd32" stroke-width="0.9"/>
<line x1="492.4" y1="312.5" x2="492.4" y2="325.7" stroke="#efbd32" stroke-width="0.9"/>
<rect x="480.4" y="293.3" width="24.1" height="19.2" fill="#fff" stroke="#efbd32" stroke-width="0.9"/>
<line x1="480.4" y1="298.4" x2="504.5" y2="298.4" stroke="#efbd32" stroke-width="1.6"/>
<text x="534.4" y="278.8" font-size="8.3" fill="#1a1a1a" stroke="#1a1a1a" stroke-width="0.16">Gene</text>
<line x1="564.8" y1="271.2" x2="564.8" y2="280.6" stroke="#2f7bc4" stroke-width="0.8"/>
<rect x="560.3" y="273.3" width="9" height="5.2" fill="#fff" stroke="#2f7bc4" stroke-width="0.8"/>
<line x1="560.3" y1="275.9" x2="569.3" y2="275.9" stroke="#2f7bc4" stroke-width="0.8"/>
<text x="574.5" y="278.3" font-size="6.6" fill="#1a1a1a" stroke="#1a1a1a" stroke-width="0.16">ATM</text>
<line x1="598.9" y1="271.2" x2="598.9" y2="280.6" stroke="#efbd32" stroke-width="0.8"/>
<rect x="594.4" y="273.3" width="9" height="5.2" fill="#fff" stroke="#efbd32" stroke-width="0.8"/>
<line x1="594.4" y1="275.9" x2="603.4" y2="275.9" stroke="#efbd32" stroke-width="0.8"/>
<text x="608.2" y="278.3" font-size="6.6" fill="#1a1a1a" stroke="#1a1a1a" stroke-width="0.16">SLC3A2</text>
<text x="1" y="360.6" font-size="15" font-weight="bold" fill="#111">D</text>
<text x="54.6" y="368.2" font-size="10.9" font-weight="bold" textLength="163.5" lengthAdjust="spacingAndGlyphs">Alpha pancreatic cells TC1-Cl9</text>
<line x1="38.4" y1="381.6" x2="38.4" y2="499.2" stroke="#1a1a1a" stroke-width="1.15"/>
<line x1="38.4" y1="499.2" x2="215.4" y2="499.2" stroke="#1a1a1a" stroke-width="1.15"/>
<line x1="35.1" y1="499.2" x2="38.4" y2="499.2" stroke="#1a1a1a" stroke-width="0.8"/>
<text x="34.2" y="502.3" font-size="8.6" text-anchor="end" fill="#1a1a1a" stroke="#1a1a1a" stroke-width="0.16">0</text>
<line x1="35.1" y1="469.9" x2="38.4" y2="469.9" stroke="#1a1a1a" stroke-width="0.8"/>
<text x="34.2" y="473" font-size="8.6" text-anchor="end" fill="#1a1a1a" stroke="#1a1a1a" stroke-width="0.16">20</text>
<line x1="35.1" y1="440.6" x2="38.4" y2="440.6" stroke="#1a1a1a" stroke-width="0.8"/>
<text x="34.2" y="443.7" font-size="8.6" text-anchor="end" fill="#1a1a1a" stroke="#1a1a1a" stroke-width="0.16">40</text>
<line x1="35.1" y1="411.3" x2="38.4" y2="411.3" stroke="#1a1a1a" stroke-width="0.8"/>
<text x="34.2" y="414.4" font-size="8.6" text-anchor="end" fill="#1a1a1a" stroke="#1a1a1a" stroke-width="0.16">60</text>
<line x1="35.1" y1="382" x2="38.4" y2="382" stroke="#1a1a1a" stroke-width="0.8"/>
<text x="34.2" y="385.1" font-size="8.6" text-anchor="end" fill="#1a1a1a" stroke="#1a1a1a" stroke-width="0.16">80</text>
<line x1="38.5" y1="499.2" x2="38.5" y2="502.5" stroke="#1a1a1a" stroke-width="0.8"/>
<text x="38.5" y="510.4" font-size="8.6" text-anchor="middle" fill="#1a1a1a" stroke="#1a1a1a" stroke-width="0.16">0</text>
<line x1="77.8" y1="499.2" x2="77.8" y2="502.5" stroke="#1a1a1a" stroke-width="0.8"/>
<text x="77.8" y="510.4" font-size="8.6" text-anchor="middle" fill="#1a1a1a" stroke="#1a1a1a" stroke-width="0.16">20</text>
<line x1="117" y1="499.2" x2="117" y2="502.5" stroke="#1a1a1a" stroke-width="0.8"/>
<text x="117" y="510.4" font-size="8.6" text-anchor="middle" fill="#1a1a1a" stroke="#1a1a1a" stroke-width="0.16">40</text>
<line x1="156.2" y1="499.2" x2="156.2" y2="502.5" stroke="#1a1a1a" stroke-width="0.8"/>
<text x="156.2" y="510.4" font-size="8.6" text-anchor="middle" fill="#1a1a1a" stroke="#1a1a1a" stroke-width="0.16">60</text>
<line x1="195.5" y1="499.2" x2="195.5" y2="502.5" stroke="#1a1a1a" stroke-width="0.8"/>
<text x="195.5" y="510.4" font-size="8.6" text-anchor="middle" fill="#1a1a1a" stroke="#1a1a1a" stroke-width="0.16">80</text>
<line x1="54.3" y1="392" x2="54.3" y2="499.2" stroke="#b5b5b5" stroke-width="1.0" stroke-dasharray="3.2,2"/>
<text x="0" y="0" font-size="8.6" text-anchor="middle" fill="#1a1a1a" stroke="#1a1a1a" stroke-width="0.16" transform="translate(21.2 441.9) rotate(-90)">% Confluency</text>
<text x="122" y="521" font-size="8.5" text-anchor="middle" fill="#1a1a1a" stroke="#1a1a1a" stroke-width="0.16">Time (hours)</text>
<text x="54.8" y="390.1" font-size="9.2" text-anchor="middle" fill="#333" stroke="#333" stroke-width="0.16">8h</text>
<text x="136.6" y="389.2" font-size="7.4" text-anchor="middle" fill="#333" stroke="#333" stroke-width="0.16">Media changed</text>
<line x1="134.2" y1="392.2" x2="134.2" y2="410.5" stroke="#222" stroke-width="0.7"/>
<path d="M131.9,409.3 L136.5,409.3 L134.2,414.3 Z" fill="#fff" stroke="#222" stroke-width="0.7"/>
<polyline points="38.5,464.8 46.4,469.2 54.2,471.4 62,472 69.9,472.8 77.8,473.6 85.6,474.1 89.8,475.3 94,475.6 98.3,475.9 102.5,476.5 106.7,476.9 110.9,476.9 115.1,476.9 119.4,476.9 123.6,476.8 127.8,476.8 132,476.8 137.6,490.3 142.5,490.3 147.2,490.3 151,490.3 155.3,490.3 159.6,490.3 163.3,490.3 167,490.3 171.4,490.3 176.1,490.3 180.2,490.3 185.9,490.3 191,490.3 195.9,490.3 199.8,490.3 203.5,490.3 207.7,490.3 211.6,490.3" fill="none" stroke="#f4982b" stroke-width="1.0"/>
<line x1="38.5" y1="464" x2="38.5" y2="465.5" stroke="#f4982b" stroke-width="0.75"/>
<line x1="36.7" y1="464" x2="40.3" y2="464" stroke="#f4982b" stroke-width="0.75"/>
<line x1="36.7" y1="465.5" x2="40.3" y2="465.5" stroke="#f4982b" stroke-width="0.75"/>
<line x1="46.4" y1="468.4" x2="46.4" y2="469.9" stroke="#f4982b" stroke-width="0.75"/>
<line x1="44.6" y1="468.4" x2="48.1" y2="468.4" stroke="#f4982b" stroke-width="0.75"/>
<line x1="44.6" y1="469.9" x2="48.1" y2="469.9" stroke="#f4982b" stroke-width="0.75"/>
<line x1="54.2" y1="470.7" x2="54.2" y2="472.1" stroke="#f4982b" stroke-width="0.75"/>
<line x1="52.4" y1="470.7" x2="56" y2="470.7" stroke="#f4982b" stroke-width="0.75"/>
<line x1="52.4" y1="472.1" x2="56" y2="472.1" stroke="#f4982b" stroke-width="0.75"/>
<line x1="62" y1="471.3" x2="62" y2="472.6" stroke="#f4982b" stroke-width="0.75"/>
<line x1="60.2" y1="471.3" x2="63.8" y2="471.3" stroke="#f4982b" stroke-width="0.75"/>
<line x1="60.2" y1="472.6" x2="63.8" y2="472.6" stroke="#f4982b" stroke-width="0.75"/>
<line x1="69.9" y1="472.1" x2="69.9" y2="473.5" stroke="#f4982b" stroke-width="0.75"/>
<line x1="68.1" y1="472.1" x2="71.7" y2="472.1" stroke="#f4982b" stroke-width="0.75"/>
<line x1="68.1" y1="473.5" x2="71.7" y2="473.5" stroke="#f4982b" stroke-width="0.75"/>
<line x1="77.8" y1="472.9" x2="77.8" y2="474.2" stroke="#f4982b" stroke-width="0.75"/>
<line x1="76" y1="472.9" x2="79.5" y2="472.9" stroke="#f4982b" stroke-width="0.75"/>
<line x1="76" y1="474.2" x2="79.5" y2="474.2" stroke="#f4982b" stroke-width="0.75"/>
<line x1="85.6" y1="473.5" x2="85.6" y2="474.8" stroke="#f4982b" stroke-width="0.75"/>
<line x1="83.8" y1="473.5" x2="87.4" y2="473.5" stroke="#f4982b" stroke-width="0.75"/>
<line x1="83.8" y1="474.8" x2="87.4" y2="474.8" stroke="#f4982b" stroke-width="0.75"/>
<line x1="89.8" y1="474.6" x2="89.8" y2="475.9" stroke="#f4982b" stroke-width="0.75"/>
<line x1="88" y1="474.6" x2="91.6" y2="474.6" stroke="#f4982b" stroke-width="0.75"/>
<line x1="88" y1="475.9" x2="91.6" y2="475.9" stroke="#f4982b" stroke-width="0.75"/>
<line x1="94" y1="474.9" x2="94" y2="476.2" stroke="#f4982b" stroke-width="0.75"/>
<line x1="92.2" y1="474.9" x2="95.8" y2="474.9" stroke="#f4982b" stroke-width="0.75"/>
<line x1="92.2" y1="476.2" x2="95.8" y2="476.2" stroke="#f4982b" stroke-width="0.75"/>
<line x1="98.3" y1="475.3" x2="98.3" y2="476.5" stroke="#f4982b" stroke-width="0.75"/>
<line x1="96.5" y1="475.3" x2="100.1" y2="475.3" stroke="#f4982b" stroke-width="0.75"/>
<line x1="96.5" y1="476.5" x2="100.1" y2="476.5" stroke="#f4982b" stroke-width="0.75"/>
<line x1="102.5" y1="475.9" x2="102.5" y2="477.2" stroke="#f4982b" stroke-width="0.75"/>
<line x1="100.7" y1="475.9" x2="104.3" y2="475.9" stroke="#f4982b" stroke-width="0.75"/>
<line x1="100.7" y1="477.2" x2="104.3" y2="477.2" stroke="#f4982b" stroke-width="0.75"/>
<line x1="106.7" y1="476.3" x2="106.7" y2="477.5" stroke="#f4982b" stroke-width="0.75"/>
<line x1="104.9" y1="476.3" x2="108.5" y2="476.3" stroke="#f4982b" stroke-width="0.75"/>
<line x1="104.9" y1="477.5" x2="108.5" y2="477.5" stroke="#f4982b" stroke-width="0.75"/>
<line x1="110.9" y1="476.3" x2="110.9" y2="477.5" stroke="#f4982b" stroke-width="0.75"/>
<line x1="109.1" y1="476.3" x2="112.7" y2="476.3" stroke="#f4982b" stroke-width="0.75"/>
<line x1="109.1" y1="477.5" x2="112.7" y2="477.5" stroke="#f4982b" stroke-width="0.75"/>
<line x1="115.1" y1="476.3" x2="115.1" y2="477.5" stroke="#f4982b" stroke-width="0.75"/>
<line x1="113.3" y1="476.3" x2="116.9" y2="476.3" stroke="#f4982b" stroke-width="0.75"/>
<line x1="113.3" y1="477.5" x2="116.9" y2="477.5" stroke="#f4982b" stroke-width="0.75"/>
<line x1="119.4" y1="476.3" x2="119.4" y2="477.5" stroke="#f4982b" stroke-width="0.75"/>
<line x1="117.6" y1="476.3" x2="121.2" y2="476.3" stroke="#f4982b" stroke-width="0.75"/>
<line x1="117.6" y1="477.5" x2="121.2" y2="477.5" stroke="#f4982b" stroke-width="0.75"/>
<line x1="123.6" y1="476.2" x2="123.6" y2="477.4" stroke="#f4982b" stroke-width="0.75"/>
<line x1="121.8" y1="476.2" x2="125.4" y2="476.2" stroke="#f4982b" stroke-width="0.75"/>
<line x1="121.8" y1="477.4" x2="125.4" y2="477.4" stroke="#f4982b" stroke-width="0.75"/>
<line x1="127.8" y1="476.2" x2="127.8" y2="477.4" stroke="#f4982b" stroke-width="0.75"/>
<line x1="126" y1="476.2" x2="129.6" y2="476.2" stroke="#f4982b" stroke-width="0.75"/>
<line x1="126" y1="477.4" x2="129.6" y2="477.4" stroke="#f4982b" stroke-width="0.75"/>
<line x1="132" y1="476.2" x2="132" y2="477.4" stroke="#f4982b" stroke-width="0.75"/>
<line x1="130.2" y1="476.2" x2="133.8" y2="476.2" stroke="#f4982b" stroke-width="0.75"/>
<line x1="130.2" y1="477.4" x2="133.8" y2="477.4" stroke="#f4982b" stroke-width="0.75"/>
<line x1="137.6" y1="488.8" x2="137.6" y2="491.7" stroke="#f4982b" stroke-width="0.75"/>
<line x1="135.8" y1="488.8" x2="139.4" y2="488.8" stroke="#f4982b" stroke-width="0.75"/>
<line x1="135.8" y1="491.7" x2="139.4" y2="491.7" stroke="#f4982b" stroke-width="0.75"/>
<line x1="142.5" y1="488.8" x2="142.5" y2="491.7" stroke="#f4982b" stroke-width="0.75"/>
<line x1="140.7" y1="488.8" x2="144.3" y2="488.8" stroke="#f4982b" stroke-width="0.75"/>
<line x1="140.7" y1="491.7" x2="144.3" y2="491.7" stroke="#f4982b" stroke-width="0.75"/>
<line x1="147.2" y1="488.8" x2="147.2" y2="491.7" stroke="#f4982b" stroke-width="0.75"/>
<line x1="145.4" y1="488.8" x2="149" y2="488.8" stroke="#f4982b" stroke-width="0.75"/>
<line x1="145.4" y1="491.7" x2="149" y2="491.7" stroke="#f4982b" stroke-width="0.75"/>
<line x1="151" y1="488.8" x2="151" y2="491.7" stroke="#f4982b" stroke-width="0.75"/>
<line x1="149.2" y1="488.8" x2="152.8" y2="488.8" stroke="#f4982b" stroke-width="0.75"/>
<line x1="149.2" y1="491.7" x2="152.8" y2="491.7" stroke="#f4982b" stroke-width="0.75"/>
<line x1="155.3" y1="488.8" x2="155.3" y2="491.7" stroke="#f4982b" stroke-width="0.75"/>
<line x1="153.5" y1="488.8" x2="157.1" y2="488.8" stroke="#f4982b" stroke-width="0.75"/>
<line x1="153.5" y1="491.7" x2="157.1" y2="491.7" stroke="#f4982b" stroke-width="0.75"/>
<line x1="159.6" y1="488.8" x2="159.6" y2="491.7" stroke="#f4982b" stroke-width="0.75"/>
<line x1="157.8" y1="488.8" x2="161.4" y2="488.8" stroke="#f4982b" stroke-width="0.75"/>
<line x1="157.8" y1="491.7" x2="161.4" y2="491.7" stroke="#f4982b" stroke-width="0.75"/>
<line x1="163.3" y1="488.8" x2="163.3" y2="491.7" stroke="#f4982b" stroke-width="0.75"/>
<line x1="161.5" y1="488.8" x2="165.1" y2="488.8" stroke="#f4982b" stroke-width="0.75"/>
<line x1="161.5" y1="491.7" x2="165.1" y2="491.7" stroke="#f4982b" stroke-width="0.75"/>
<line x1="167" y1="488.8" x2="167" y2="491.7" stroke="#f4982b" stroke-width="0.75"/>
<line x1="165.2" y1="488.8" x2="168.8" y2="488.8" stroke="#f4982b" stroke-width="0.75"/>
<line x1="165.2" y1="491.7" x2="168.8" y2="491.7" stroke="#f4982b" stroke-width="0.75"/>
<line x1="171.4" y1="488.8" x2="171.4" y2="491.7" stroke="#f4982b" stroke-width="0.75"/>
<line x1="169.6" y1="488.8" x2="173.2" y2="488.8" stroke="#f4982b" stroke-width="0.75"/>
<line x1="169.6" y1="491.7" x2="173.2" y2="491.7" stroke="#f4982b" stroke-width="0.75"/>
<line x1="176.1" y1="488.8" x2="176.1" y2="491.7" stroke="#f4982b" stroke-width="0.75"/>
<line x1="174.3" y1="488.8" x2="177.9" y2="488.8" stroke="#f4982b" stroke-width="0.75"/>
<line x1="174.3" y1="491.7" x2="177.9" y2="491.7" stroke="#f4982b" stroke-width="0.75"/>
<line x1="180.2" y1="488.8" x2="180.2" y2="491.7" stroke="#f4982b" stroke-width="0.75"/>
<line x1="178.4" y1="488.8" x2="182" y2="488.8" stroke="#f4982b" stroke-width="0.75"/>
<line x1="178.4" y1="491.7" x2="182" y2="491.7" stroke="#f4982b" stroke-width="0.75"/>
<line x1="185.9" y1="488.8" x2="185.9" y2="491.7" stroke="#f4982b" stroke-width="0.75"/>
<line x1="184.1" y1="488.8" x2="187.7" y2="488.8" stroke="#f4982b" stroke-width="0.75"/>
<line x1="184.1" y1="491.7" x2="187.7" y2="491.7" stroke="#f4982b" stroke-width="0.75"/>
<line x1="191" y1="488.8" x2="191" y2="491.7" stroke="#f4982b" stroke-width="0.75"/>
<line x1="189.2" y1="488.8" x2="192.8" y2="488.8" stroke="#f4982b" stroke-width="0.75"/>
<line x1="189.2" y1="491.7" x2="192.8" y2="491.7" stroke="#f4982b" stroke-width="0.75"/>
<line x1="195.9" y1="488.8" x2="195.9" y2="491.7" stroke="#f4982b" stroke-width="0.75"/>
<line x1="194.1" y1="488.8" x2="197.7" y2="488.8" stroke="#f4982b" stroke-width="0.75"/>
<line x1="194.1" y1="491.7" x2="197.7" y2="491.7" stroke="#f4982b" stroke-width="0.75"/>
<line x1="199.8" y1="488.8" x2="199.8" y2="491.7" stroke="#f4982b" stroke-width="0.75"/>
<line x1="198" y1="488.8" x2="201.6" y2="488.8" stroke="#f4982b" stroke-width="0.75"/>
<line x1="198" y1="491.7" x2="201.6" y2="491.7" stroke="#f4982b" stroke-width="0.75"/>
<line x1="203.5" y1="488.8" x2="203.5" y2="491.7" stroke="#f4982b" stroke-width="0.75"/>
<line x1="201.7" y1="488.8" x2="205.3" y2="488.8" stroke="#f4982b" stroke-width="0.75"/>
<line x1="201.7" y1="491.7" x2="205.3" y2="491.7" stroke="#f4982b" stroke-width="0.75"/>
<line x1="207.7" y1="488.8" x2="207.7" y2="491.7" stroke="#f4982b" stroke-width="0.75"/>
<line x1="205.9" y1="488.8" x2="209.5" y2="488.8" stroke="#f4982b" stroke-width="0.75"/>
<line x1="205.9" y1="491.7" x2="209.5" y2="491.7" stroke="#f4982b" stroke-width="0.75"/>
<line x1="211.6" y1="488.8" x2="211.6" y2="491.7" stroke="#f4982b" stroke-width="0.75"/>
<line x1="209.8" y1="488.8" x2="213.4" y2="488.8" stroke="#f4982b" stroke-width="0.75"/>
<line x1="209.8" y1="491.7" x2="213.4" y2="491.7" stroke="#f4982b" stroke-width="0.75"/>
<circle cx="38.5" cy="464.8" r="1.9" fill="#f4982b"/>
<circle cx="46.4" cy="469.2" r="1.9" fill="#f4982b"/>
<circle cx="54.2" cy="471.4" r="1.9" fill="#f4982b"/>
<circle cx="62" cy="472" r="1.9" fill="#f4982b"/>
<circle cx="69.9" cy="472.8" r="1.9" fill="#f4982b"/>
<circle cx="77.8" cy="473.6" r="1.9" fill="#f4982b"/>
<circle cx="85.6" cy="474.1" r="1.9" fill="#f4982b"/>
<circle cx="89.8" cy="475.3" r="1.9" fill="#f4982b"/>
<circle cx="94" cy="475.6" r="1.9" fill="#f4982b"/>
<circle cx="98.3" cy="475.9" r="1.9" fill="#f4982b"/>
<circle cx="102.5" cy="476.5" r="1.9" fill="#f4982b"/>
<circle cx="106.7" cy="476.9" r="1.9" fill="#f4982b"/>
<circle cx="110.9" cy="476.9" r="1.9" fill="#f4982b"/>
<circle cx="115.1" cy="476.9" r="1.9" fill="#f4982b"/>
<circle cx="119.4" cy="476.9" r="1.9" fill="#f4982b"/>
<circle cx="123.6" cy="476.8" r="1.9" fill="#f4982b"/>
<circle cx="127.8" cy="476.8" r="1.9" fill="#f4982b"/>
<circle cx="132" cy="476.8" r="1.9" fill="#f4982b"/>
<circle cx="137.6" cy="490.3" r="1.9" fill="#f4982b"/>
<circle cx="142.5" cy="490.3" r="1.9" fill="#f4982b"/>
<circle cx="147.2" cy="490.3" r="1.9" fill="#f4982b"/>
<circle cx="151" cy="490.3" r="1.9" fill="#f4982b"/>
<circle cx="155.3" cy="490.3" r="1.9" fill="#f4982b"/>
<circle cx="159.6" cy="490.3" r="1.9" fill="#f4982b"/>
<circle cx="163.3" cy="490.3" r="1.9" fill="#f4982b"/>
<circle cx="167" cy="490.3" r="1.9" fill="#f4982b"/>
<circle cx="171.4" cy="490.3" r="1.9" fill="#f4982b"/>
<circle cx="176.1" cy="490.3" r="1.9" fill="#f4982b"/>
<circle cx="180.2" cy="490.3" r="1.9" fill="#f4982b"/>
<circle cx="185.9" cy="490.3" r="1.9" fill="#f4982b"/>
<circle cx="191" cy="490.3" r="1.9" fill="#f4982b"/>
<circle cx="195.9" cy="490.3" r="1.9" fill="#f4982b"/>
<circle cx="199.8" cy="490.3" r="1.9" fill="#f4982b"/>
<circle cx="203.5" cy="490.3" r="1.9" fill="#f4982b"/>
<circle cx="207.7" cy="490.3" r="1.9" fill="#f4982b"/>
<circle cx="211.6" cy="490.3" r="1.9" fill="#f4982b"/>
<polyline points="38.5,467.3 46.4,469.2 54.2,469.3 62,469.5 69.9,469.5 77.8,469.5 85.6,469.5 89.8,469.3 94,469.1 98.3,469 102.5,468.8 106.7,468.6 110.9,468.2 115.1,467.8 119.4,467.6 123.6,467.4 127.8,467.2 132,467 137.6,469.3 142.5,469.3 147.2,469.2 151,469.2 155.3,469.2 159.6,468.9 163.3,468.7 167,468.4 171.4,468.9 176.1,469.3 180.2,469.3 185.9,469.2 191,469.2 195.9,469.1 199.8,468.8 203.5,468.4 207.7,468.4 211.6,468.4" fill="none" stroke="#a3202a" stroke-width="1.0"/>
<line x1="38.5" y1="465.1" x2="38.5" y2="469.5" stroke="#a3202a" stroke-width="0.75"/>
<line x1="36.7" y1="465.1" x2="40.3" y2="465.1" stroke="#a3202a" stroke-width="0.75"/>
<line x1="36.7" y1="469.5" x2="40.3" y2="469.5" stroke="#a3202a" stroke-width="0.75"/>
<line x1="46.4" y1="467" x2="46.4" y2="471.4" stroke="#a3202a" stroke-width="0.75"/>
<line x1="44.6" y1="467" x2="48.1" y2="467" stroke="#a3202a" stroke-width="0.75"/>
<line x1="44.6" y1="471.4" x2="48.1" y2="471.4" stroke="#a3202a" stroke-width="0.75"/>
<line x1="54.2" y1="467.1" x2="54.2" y2="471.5" stroke="#a3202a" stroke-width="0.75"/>
<line x1="52.4" y1="467.1" x2="56" y2="467.1" stroke="#a3202a" stroke-width="0.75"/>
<line x1="52.4" y1="471.5" x2="56" y2="471.5" stroke="#a3202a" stroke-width="0.75"/>
<line x1="62" y1="467.3" x2="62" y2="471.7" stroke="#a3202a" stroke-width="0.75"/>
<line x1="60.2" y1="467.3" x2="63.8" y2="467.3" stroke="#a3202a" stroke-width="0.75"/>
<line x1="60.2" y1="471.7" x2="63.8" y2="471.7" stroke="#a3202a" stroke-width="0.75"/>
<line x1="69.9" y1="467.3" x2="69.9" y2="471.7" stroke="#a3202a" stroke-width="0.75"/>
<line x1="68.1" y1="467.3" x2="71.7" y2="467.3" stroke="#a3202a" stroke-width="0.75"/>
<line x1="68.1" y1="471.7" x2="71.7" y2="471.7" stroke="#a3202a" stroke-width="0.75"/>
<line x1="77.8" y1="467.3" x2="77.8" y2="471.7" stroke="#a3202a" stroke-width="0.75"/>
<line x1="76" y1="467.3" x2="79.5" y2="467.3" stroke="#a3202a" stroke-width="0.75"/>
<line x1="76" y1="471.7" x2="79.5" y2="471.7" stroke="#a3202a" stroke-width="0.75"/>
<line x1="85.6" y1="467.3" x2="85.6" y2="471.7" stroke="#a3202a" stroke-width="0.75"/>
<line x1="83.8" y1="467.3" x2="87.4" y2="467.3" stroke="#a3202a" stroke-width="0.75"/>
<line x1="83.8" y1="471.7" x2="87.4" y2="471.7" stroke="#a3202a" stroke-width="0.75"/>
<line x1="89.8" y1="467.1" x2="89.8" y2="471.5" stroke="#a3202a" stroke-width="0.75"/>
<line x1="88" y1="467.1" x2="91.6" y2="467.1" stroke="#a3202a" stroke-width="0.75"/>
<line x1="88" y1="471.5" x2="91.6" y2="471.5" stroke="#a3202a" stroke-width="0.75"/>
<line x1="94" y1="466.9" x2="94" y2="471.3" stroke="#a3202a" stroke-width="0.75"/>
<line x1="92.2" y1="466.9" x2="95.8" y2="466.9" stroke="#a3202a" stroke-width="0.75"/>
<line x1="92.2" y1="471.3" x2="95.8" y2="471.3" stroke="#a3202a" stroke-width="0.75"/>
<line x1="98.3" y1="466.8" x2="98.3" y2="471.2" stroke="#a3202a" stroke-width="0.75"/>
<line x1="96.5" y1="466.8" x2="100.1" y2="466.8" stroke="#a3202a" stroke-width="0.75"/>
<line x1="96.5" y1="471.2" x2="100.1" y2="471.2" stroke="#a3202a" stroke-width="0.75"/>
<line x1="102.5" y1="466.6" x2="102.5" y2="471" stroke="#a3202a" stroke-width="0.75"/>
<line x1="100.7" y1="466.6" x2="104.3" y2="466.6" stroke="#a3202a" stroke-width="0.75"/>
<line x1="100.7" y1="471" x2="104.3" y2="471" stroke="#a3202a" stroke-width="0.75"/>
<line x1="106.7" y1="466.4" x2="106.7" y2="470.8" stroke="#a3202a" stroke-width="0.75"/>
<line x1="104.9" y1="466.4" x2="108.5" y2="466.4" stroke="#a3202a" stroke-width="0.75"/>
<line x1="104.9" y1="470.8" x2="108.5" y2="470.8" stroke="#a3202a" stroke-width="0.75"/>
<line x1="110.9" y1="466" x2="110.9" y2="470.4" stroke="#a3202a" stroke-width="0.75"/>
<line x1="109.1" y1="466" x2="112.7" y2="466" stroke="#a3202a" stroke-width="0.75"/>
<line x1="109.1" y1="470.4" x2="112.7" y2="470.4" stroke="#a3202a" stroke-width="0.75"/>
<line x1="115.1" y1="465.6" x2="115.1" y2="470" stroke="#a3202a" stroke-width="0.75"/>
<line x1="113.3" y1="465.6" x2="116.9" y2="465.6" stroke="#a3202a" stroke-width="0.75"/>
<line x1="113.3" y1="470" x2="116.9" y2="470" stroke="#a3202a" stroke-width="0.75"/>
<line x1="119.4" y1="465.4" x2="119.4" y2="469.8" stroke="#a3202a" stroke-width="0.75"/>
<line x1="117.6" y1="465.4" x2="121.2" y2="465.4" stroke="#a3202a" stroke-width="0.75"/>
<line x1="117.6" y1="469.8" x2="121.2" y2="469.8" stroke="#a3202a" stroke-width="0.75"/>
<line x1="123.6" y1="465.2" x2="123.6" y2="469.6" stroke="#a3202a" stroke-width="0.75"/>
<line x1="121.8" y1="465.2" x2="125.4" y2="465.2" stroke="#a3202a" stroke-width="0.75"/>
<line x1="121.8" y1="469.6" x2="125.4" y2="469.6" stroke="#a3202a" stroke-width="0.75"/>
<line x1="127.8" y1="465" x2="127.8" y2="469.4" stroke="#a3202a" stroke-width="0.75"/>
<line x1="126" y1="465" x2="129.6" y2="465" stroke="#a3202a" stroke-width="0.75"/>
<line x1="126" y1="469.4" x2="129.6" y2="469.4" stroke="#a3202a" stroke-width="0.75"/>
<line x1="132" y1="464.8" x2="132" y2="469.2" stroke="#a3202a" stroke-width="0.75"/>
<line x1="130.2" y1="464.8" x2="133.8" y2="464.8" stroke="#a3202a" stroke-width="0.75"/>
<line x1="130.2" y1="469.2" x2="133.8" y2="469.2" stroke="#a3202a" stroke-width="0.75"/>
<line x1="137.6" y1="467.1" x2="137.6" y2="471.5" stroke="#a3202a" stroke-width="0.75"/>
<line x1="135.8" y1="467.1" x2="139.4" y2="467.1" stroke="#a3202a" stroke-width="0.75"/>
<line x1="135.8" y1="471.5" x2="139.4" y2="471.5" stroke="#a3202a" stroke-width="0.75"/>
<line x1="142.5" y1="467.1" x2="142.5" y2="471.5" stroke="#a3202a" stroke-width="0.75"/>
<line x1="140.7" y1="467.1" x2="144.3" y2="467.1" stroke="#a3202a" stroke-width="0.75"/>
<line x1="140.7" y1="471.5" x2="144.3" y2="471.5" stroke="#a3202a" stroke-width="0.75"/>
<line x1="147.2" y1="467" x2="147.2" y2="471.4" stroke="#a3202a" stroke-width="0.75"/>
<line x1="145.4" y1="467" x2="149" y2="467" stroke="#a3202a" stroke-width="0.75"/>
<line x1="145.4" y1="471.4" x2="149" y2="471.4" stroke="#a3202a" stroke-width="0.75"/>
<line x1="151" y1="467" x2="151" y2="471.4" stroke="#a3202a" stroke-width="0.75"/>
<line x1="149.2" y1="467" x2="152.8" y2="467" stroke="#a3202a" stroke-width="0.75"/>
<line x1="149.2" y1="471.4" x2="152.8" y2="471.4" stroke="#a3202a" stroke-width="0.75"/>
<line x1="155.3" y1="467" x2="155.3" y2="471.4" stroke="#a3202a" stroke-width="0.75"/>
<line x1="153.5" y1="467" x2="157.1" y2="467" stroke="#a3202a" stroke-width="0.75"/>
<line x1="153.5" y1="471.4" x2="157.1" y2="471.4" stroke="#a3202a" stroke-width="0.75"/>
<line x1="159.6" y1="466.7" x2="159.6" y2="471.1" stroke="#a3202a" stroke-width="0.75"/>
<line x1="157.8" y1="466.7" x2="161.4" y2="466.7" stroke="#a3202a" stroke-width="0.75"/>
<line x1="157.8" y1="471.1" x2="161.4" y2="471.1" stroke="#a3202a" stroke-width="0.75"/>
<line x1="163.3" y1="466.5" x2="163.3" y2="470.9" stroke="#a3202a" stroke-width="0.75"/>
<line x1="161.5" y1="466.5" x2="165.1" y2="466.5" stroke="#a3202a" stroke-width="0.75"/>
<line x1="161.5" y1="470.9" x2="165.1" y2="470.9" stroke="#a3202a" stroke-width="0.75"/>
<line x1="167" y1="466.2" x2="167" y2="470.6" stroke="#a3202a" stroke-width="0.75"/>
<line x1="165.2" y1="466.2" x2="168.8" y2="466.2" stroke="#a3202a" stroke-width="0.75"/>
<line x1="165.2" y1="470.6" x2="168.8" y2="470.6" stroke="#a3202a" stroke-width="0.75"/>
<line x1="171.4" y1="466.7" x2="171.4" y2="471.1" stroke="#a3202a" stroke-width="0.75"/>
<line x1="169.6" y1="466.7" x2="173.2" y2="466.7" stroke="#a3202a" stroke-width="0.75"/>
<line x1="169.6" y1="471.1" x2="173.2" y2="471.1" stroke="#a3202a" stroke-width="0.75"/>
<line x1="176.1" y1="467.1" x2="176.1" y2="471.5" stroke="#a3202a" stroke-width="0.75"/>
<line x1="174.3" y1="467.1" x2="177.9" y2="467.1" stroke="#a3202a" stroke-width="0.75"/>
<line x1="174.3" y1="471.5" x2="177.9" y2="471.5" stroke="#a3202a" stroke-width="0.75"/>
<line x1="180.2" y1="467.1" x2="180.2" y2="471.5" stroke="#a3202a" stroke-width="0.75"/>
<line x1="178.4" y1="467.1" x2="182" y2="467.1" stroke="#a3202a" stroke-width="0.75"/>
<line x1="178.4" y1="471.5" x2="182" y2="471.5" stroke="#a3202a" stroke-width="0.75"/>
<line x1="185.9" y1="467" x2="185.9" y2="471.4" stroke="#a3202a" stroke-width="0.75"/>
<line x1="184.1" y1="467" x2="187.7" y2="467" stroke="#a3202a" stroke-width="0.75"/>
<line x1="184.1" y1="471.4" x2="187.7" y2="471.4" stroke="#a3202a" stroke-width="0.75"/>
<line x1="191" y1="467" x2="191" y2="471.4" stroke="#a3202a" stroke-width="0.75"/>
<line x1="189.2" y1="467" x2="192.8" y2="467" stroke="#a3202a" stroke-width="0.75"/>
<line x1="189.2" y1="471.4" x2="192.8" y2="471.4" stroke="#a3202a" stroke-width="0.75"/>
<line x1="195.9" y1="466.9" x2="195.9" y2="471.3" stroke="#a3202a" stroke-width="0.75"/>
<line x1="194.1" y1="466.9" x2="197.7" y2="466.9" stroke="#a3202a" stroke-width="0.75"/>
<line x1="194.1" y1="471.3" x2="197.7" y2="471.3" stroke="#a3202a" stroke-width="0.75"/>
<line x1="199.8" y1="466.6" x2="199.8" y2="471" stroke="#a3202a" stroke-width="0.75"/>
<line x1="198" y1="466.6" x2="201.6" y2="466.6" stroke="#a3202a" stroke-width="0.75"/>
<line x1="198" y1="471" x2="201.6" y2="471" stroke="#a3202a" stroke-width="0.75"/>
<line x1="203.5" y1="466.2" x2="203.5" y2="470.6" stroke="#a3202a" stroke-width="0.75"/>
<line x1="201.7" y1="466.2" x2="205.3" y2="466.2" stroke="#a3202a" stroke-width="0.75"/>
<line x1="201.7" y1="470.6" x2="205.3" y2="470.6" stroke="#a3202a" stroke-width="0.75"/>
<line x1="207.7" y1="466.2" x2="207.7" y2="470.6" stroke="#a3202a" stroke-width="0.75"/>
<line x1="205.9" y1="466.2" x2="209.5" y2="466.2" stroke="#a3202a" stroke-width="0.75"/>
<line x1="205.9" y1="470.6" x2="209.5" y2="470.6" stroke="#a3202a" stroke-width="0.75"/>
<line x1="211.6" y1="466.2" x2="211.6" y2="470.6" stroke="#a3202a" stroke-width="0.75"/>
<line x1="209.8" y1="466.2" x2="213.4" y2="466.2" stroke="#a3202a" stroke-width="0.75"/>
<line x1="209.8" y1="470.6" x2="213.4" y2="470.6" stroke="#a3202a" stroke-width="0.75"/>
<circle cx="38.5" cy="467.3" r="1.9" fill="#a3202a"/>
<circle cx="46.4" cy="469.2" r="1.9" fill="#a3202a"/>
<circle cx="54.2" cy="469.3" r="1.9" fill="#a3202a"/>
<circle cx="62" cy="469.5" r="1.9" fill="#a3202a"/>
<circle cx="69.9" cy="469.5" r="1.9" fill="#a3202a"/>
<circle cx="77.8" cy="469.5" r="1.9" fill="#a3202a"/>
<circle cx="85.6" cy="469.5" r="1.9" fill="#a3202a"/>
<circle cx="89.8" cy="469.3" r="1.9" fill="#a3202a"/>
<circle cx="94" cy="469.1" r="1.9" fill="#a3202a"/>
<circle cx="98.3" cy="469" r="1.9" fill="#a3202a"/>
<circle cx="102.5" cy="468.8" r="1.9" fill="#a3202a"/>
<circle cx="106.7" cy="468.6" r="1.9" fill="#a3202a"/>
<circle cx="110.9" cy="468.2" r="1.9" fill="#a3202a"/>
<circle cx="115.1" cy="467.8" r="1.9" fill="#a3202a"/>
<circle cx="119.4" cy="467.6" r="1.9" fill="#a3202a"/>
<circle cx="123.6" cy="467.4" r="1.9" fill="#a3202a"/>
<circle cx="127.8" cy="467.2" r="1.9" fill="#a3202a"/>
<circle cx="132" cy="467" r="1.9" fill="#a3202a"/>
<circle cx="137.6" cy="469.3" r="1.9" fill="#a3202a"/>
<circle cx="142.5" cy="469.3" r="1.9" fill="#a3202a"/>
<circle cx="147.2" cy="469.2" r="1.9" fill="#a3202a"/>
<circle cx="151" cy="469.2" r="1.9" fill="#a3202a"/>
<circle cx="155.3" cy="469.2" r="1.9" fill="#a3202a"/>
<circle cx="159.6" cy="468.9" r="1.9" fill="#a3202a"/>
<circle cx="163.3" cy="468.7" r="1.9" fill="#a3202a"/>
<circle cx="167" cy="468.4" r="1.9" fill="#a3202a"/>
<circle cx="171.4" cy="468.9" r="1.9" fill="#a3202a"/>
<circle cx="176.1" cy="469.3" r="1.9" fill="#a3202a"/>
<circle cx="180.2" cy="469.3" r="1.9" fill="#a3202a"/>
<circle cx="185.9" cy="469.2" r="1.9" fill="#a3202a"/>
<circle cx="191" cy="469.2" r="1.9" fill="#a3202a"/>
<circle cx="195.9" cy="469.1" r="1.9" fill="#a3202a"/>
<circle cx="199.8" cy="468.8" r="1.9" fill="#a3202a"/>
<circle cx="203.5" cy="468.4" r="1.9" fill="#a3202a"/>
<circle cx="207.7" cy="468.4" r="1.9" fill="#a3202a"/>
<circle cx="211.6" cy="468.4" r="1.9" fill="#a3202a"/>
<polyline points="38.5,472.2 46.4,474.4 54.2,473.9 62,473.1 69.9,473.1 77.8,472.8 85.6,472.2 89.8,471.4 94,470.5 98.3,469.7 102.5,468.9 106.7,468.1 110.9,467.2 115.1,466.2 119.4,465.6 123.6,465 127.8,464.4 132,464 137.6,465.1 142.5,465.5 147.2,464.3 151,463.5 155.3,462.4 159.6,461.5 163.3,461 167,460.1 171.4,459.4 176.1,458.3 180.2,457.7 185.9,456.3 191,455.2 195.9,453.9 199.8,453.2 203.5,452.2 207.7,450.9 211.6,449.1" fill="none" stroke="#e8212d" stroke-width="1.0"/>
<line x1="38.5" y1="469.6" x2="38.5" y2="474.9" stroke="#e8212d" stroke-width="0.75"/>
<line x1="36.7" y1="469.6" x2="40.3" y2="469.6" stroke="#e8212d" stroke-width="0.75"/>
<line x1="36.7" y1="474.9" x2="40.3" y2="474.9" stroke="#e8212d" stroke-width="0.75"/>
<line x1="46.4" y1="471.8" x2="46.4" y2="477.1" stroke="#e8212d" stroke-width="0.75"/>
<line x1="44.6" y1="471.8" x2="48.1" y2="471.8" stroke="#e8212d" stroke-width="0.75"/>
<line x1="44.6" y1="477.1" x2="48.1" y2="477.1" stroke="#e8212d" stroke-width="0.75"/>
<line x1="54.2" y1="471.1" x2="54.2" y2="476.6" stroke="#e8212d" stroke-width="0.75"/>
<line x1="52.4" y1="471.1" x2="56" y2="471.1" stroke="#e8212d" stroke-width="0.75"/>
<line x1="52.4" y1="476.6" x2="56" y2="476.6" stroke="#e8212d" stroke-width="0.75"/>
<line x1="62" y1="470.3" x2="62" y2="475.9" stroke="#e8212d" stroke-width="0.75"/>
<line x1="60.2" y1="470.3" x2="63.8" y2="470.3" stroke="#e8212d" stroke-width="0.75"/>
<line x1="60.2" y1="475.9" x2="63.8" y2="475.9" stroke="#e8212d" stroke-width="0.75"/>
<line x1="69.9" y1="470.3" x2="69.9" y2="476" stroke="#e8212d" stroke-width="0.75"/>
<line x1="68.1" y1="470.3" x2="71.7" y2="470.3" stroke="#e8212d" stroke-width="0.75"/>
<line x1="68.1" y1="476" x2="71.7" y2="476" stroke="#e8212d" stroke-width="0.75"/>
<line x1="77.8" y1="469.9" x2="77.8" y2="475.7" stroke="#e8212d" stroke-width="0.75"/>
<line x1="76" y1="469.9" x2="79.5" y2="469.9" stroke="#e8212d" stroke-width="0.75"/>
<line x1="76" y1="475.7" x2="79.5" y2="475.7" stroke="#e8212d" stroke-width="0.75"/>
<line x1="85.6" y1="469.3" x2="85.6" y2="475.2" stroke="#e8212d" stroke-width="0.75"/>
<line x1="83.8" y1="469.3" x2="87.4" y2="469.3" stroke="#e8212d" stroke-width="0.75"/>
<line x1="83.8" y1="475.2" x2="87.4" y2="475.2" stroke="#e8212d" stroke-width="0.75"/>
<line x1="89.8" y1="468.4" x2="89.8" y2="474.3" stroke="#e8212d" stroke-width="0.75"/>
<line x1="88" y1="468.4" x2="91.6" y2="468.4" stroke="#e8212d" stroke-width="0.75"/>
<line x1="88" y1="474.3" x2="91.6" y2="474.3" stroke="#e8212d" stroke-width="0.75"/>
<line x1="94" y1="467.5" x2="94" y2="473.5" stroke="#e8212d" stroke-width="0.75"/>
<line x1="92.2" y1="467.5" x2="95.8" y2="467.5" stroke="#e8212d" stroke-width="0.75"/>
<line x1="92.2" y1="473.5" x2="95.8" y2="473.5" stroke="#e8212d" stroke-width="0.75"/>
<line x1="98.3" y1="466.7" x2="98.3" y2="472.7" stroke="#e8212d" stroke-width="0.75"/>
<line x1="96.5" y1="466.7" x2="100.1" y2="466.7" stroke="#e8212d" stroke-width="0.75"/>
<line x1="96.5" y1="472.7" x2="100.1" y2="472.7" stroke="#e8212d" stroke-width="0.75"/>
<line x1="102.5" y1="465.9" x2="102.5" y2="472" stroke="#e8212d" stroke-width="0.75"/>
<line x1="100.7" y1="465.9" x2="104.3" y2="465.9" stroke="#e8212d" stroke-width="0.75"/>
<line x1="100.7" y1="472" x2="104.3" y2="472" stroke="#e8212d" stroke-width="0.75"/>
<line x1="106.7" y1="465" x2="106.7" y2="471.2" stroke="#e8212d" stroke-width="0.75"/>
<line x1="104.9" y1="465" x2="108.5" y2="465" stroke="#e8212d" stroke-width="0.75"/>
<line x1="104.9" y1="471.2" x2="108.5" y2="471.2" stroke="#e8212d" stroke-width="0.75"/>
<line x1="110.9" y1="464.1" x2="110.9" y2="470.2" stroke="#e8212d" stroke-width="0.75"/>
<line x1="109.1" y1="464.1" x2="112.7" y2="464.1" stroke="#e8212d" stroke-width="0.75"/>
<line x1="109.1" y1="470.2" x2="112.7" y2="470.2" stroke="#e8212d" stroke-width="0.75"/>
<line x1="115.1" y1="463.1" x2="115.1" y2="469.3" stroke="#e8212d" stroke-width="0.75"/>
<line x1="113.3" y1="463.1" x2="116.9" y2="463.1" stroke="#e8212d" stroke-width="0.75"/>
<line x1="113.3" y1="469.3" x2="116.9" y2="469.3" stroke="#e8212d" stroke-width="0.75"/>
<line x1="119.4" y1="462.5" x2="119.4" y2="468.7" stroke="#e8212d" stroke-width="0.75"/>
<line x1="117.6" y1="462.5" x2="121.2" y2="462.5" stroke="#e8212d" stroke-width="0.75"/>
<line x1="117.6" y1="468.7" x2="121.2" y2="468.7" stroke="#e8212d" stroke-width="0.75"/>
<line x1="123.6" y1="461.8" x2="123.6" y2="468.1" stroke="#e8212d" stroke-width="0.75"/>
<line x1="121.8" y1="461.8" x2="125.4" y2="461.8" stroke="#e8212d" stroke-width="0.75"/>
<line x1="121.8" y1="468.1" x2="125.4" y2="468.1" stroke="#e8212d" stroke-width="0.75"/>
<line x1="127.8" y1="461.3" x2="127.8" y2="467.6" stroke="#e8212d" stroke-width="0.75"/>
<line x1="126" y1="461.3" x2="129.6" y2="461.3" stroke="#e8212d" stroke-width="0.75"/>
<line x1="126" y1="467.6" x2="129.6" y2="467.6" stroke="#e8212d" stroke-width="0.75"/>
<line x1="132" y1="460.8" x2="132" y2="467.2" stroke="#e8212d" stroke-width="0.75"/>
<line x1="130.2" y1="460.8" x2="133.8" y2="460.8" stroke="#e8212d" stroke-width="0.75"/>
<line x1="130.2" y1="467.2" x2="133.8" y2="467.2" stroke="#e8212d" stroke-width="0.75"/>
<line x1="137.6" y1="461.5" x2="137.6" y2="468.6" stroke="#e8212d" stroke-width="0.75"/>
<line x1="135.8" y1="461.5" x2="139.4" y2="461.5" stroke="#e8212d" stroke-width="0.75"/>
<line x1="135.8" y1="468.6" x2="139.4" y2="468.6" stroke="#e8212d" stroke-width="0.75"/>
<line x1="142.5" y1="461.9" x2="142.5" y2="469.1" stroke="#e8212d" stroke-width="0.75"/>
<line x1="140.7" y1="461.9" x2="144.3" y2="461.9" stroke="#e8212d" stroke-width="0.75"/>
<line x1="140.7" y1="469.1" x2="144.3" y2="469.1" stroke="#e8212d" stroke-width="0.75"/>
<line x1="147.2" y1="460.7" x2="147.2" y2="468" stroke="#e8212d" stroke-width="0.75"/>
<line x1="145.4" y1="460.7" x2="149" y2="460.7" stroke="#e8212d" stroke-width="0.75"/>
<line x1="145.4" y1="468" x2="149" y2="468" stroke="#e8212d" stroke-width="0.75"/>
<line x1="151" y1="459.7" x2="151" y2="467.2" stroke="#e8212d" stroke-width="0.75"/>
<line x1="149.2" y1="459.7" x2="152.8" y2="459.7" stroke="#e8212d" stroke-width="0.75"/>
<line x1="149.2" y1="467.2" x2="152.8" y2="467.2" stroke="#e8212d" stroke-width="0.75"/>
<line x1="155.3" y1="458.6" x2="155.3" y2="466.2" stroke="#e8212d" stroke-width="0.75"/>
<line x1="153.5" y1="458.6" x2="157.1" y2="458.6" stroke="#e8212d" stroke-width="0.75"/>
<line x1="153.5" y1="466.2" x2="157.1" y2="466.2" stroke="#e8212d" stroke-width="0.75"/>
<line x1="159.6" y1="457.7" x2="159.6" y2="465.4" stroke="#e8212d" stroke-width="0.75"/>
<line x1="157.8" y1="457.7" x2="161.4" y2="457.7" stroke="#e8212d" stroke-width="0.75"/>
<line x1="157.8" y1="465.4" x2="161.4" y2="465.4" stroke="#e8212d" stroke-width="0.75"/>
<line x1="163.3" y1="457" x2="163.3" y2="464.9" stroke="#e8212d" stroke-width="0.75"/>
<line x1="161.5" y1="457" x2="165.1" y2="457" stroke="#e8212d" stroke-width="0.75"/>
<line x1="161.5" y1="464.9" x2="165.1" y2="464.9" stroke="#e8212d" stroke-width="0.75"/>
<line x1="167" y1="456.1" x2="167" y2="464.1" stroke="#e8212d" stroke-width="0.75"/>
<line x1="165.2" y1="456.1" x2="168.8" y2="456.1" stroke="#e8212d" stroke-width="0.75"/>
<line x1="165.2" y1="464.1" x2="168.8" y2="464.1" stroke="#e8212d" stroke-width="0.75"/>
<line x1="171.4" y1="455.3" x2="171.4" y2="463.4" stroke="#e8212d" stroke-width="0.75"/>
<line x1="169.6" y1="455.3" x2="173.2" y2="455.3" stroke="#e8212d" stroke-width="0.75"/>
<line x1="169.6" y1="463.4" x2="173.2" y2="463.4" stroke="#e8212d" stroke-width="0.75"/>
<line x1="176.1" y1="454.2" x2="176.1" y2="462.5" stroke="#e8212d" stroke-width="0.75"/>
<line x1="174.3" y1="454.2" x2="177.9" y2="454.2" stroke="#e8212d" stroke-width="0.75"/>
<line x1="174.3" y1="462.5" x2="177.9" y2="462.5" stroke="#e8212d" stroke-width="0.75"/>
<line x1="180.2" y1="453.5" x2="180.2" y2="461.9" stroke="#e8212d" stroke-width="0.75"/>
<line x1="178.4" y1="453.5" x2="182" y2="453.5" stroke="#e8212d" stroke-width="0.75"/>
<line x1="178.4" y1="461.9" x2="182" y2="461.9" stroke="#e8212d" stroke-width="0.75"/>
<line x1="185.9" y1="452" x2="185.9" y2="460.6" stroke="#e8212d" stroke-width="0.75"/>
<line x1="184.1" y1="452" x2="187.7" y2="452" stroke="#e8212d" stroke-width="0.75"/>
<line x1="184.1" y1="460.6" x2="187.7" y2="460.6" stroke="#e8212d" stroke-width="0.75"/>
<line x1="191" y1="450.9" x2="191" y2="459.6" stroke="#e8212d" stroke-width="0.75"/>
<line x1="189.2" y1="450.9" x2="192.8" y2="450.9" stroke="#e8212d" stroke-width="0.75"/>
<line x1="189.2" y1="459.6" x2="192.8" y2="459.6" stroke="#e8212d" stroke-width="0.75"/>
<line x1="195.9" y1="449.5" x2="195.9" y2="458.4" stroke="#e8212d" stroke-width="0.75"/>
<line x1="194.1" y1="449.5" x2="197.7" y2="449.5" stroke="#e8212d" stroke-width="0.75"/>
<line x1="194.1" y1="458.4" x2="197.7" y2="458.4" stroke="#e8212d" stroke-width="0.75"/>
<line x1="199.8" y1="448.7" x2="199.8" y2="457.7" stroke="#e8212d" stroke-width="0.75"/>
<line x1="198" y1="448.7" x2="201.6" y2="448.7" stroke="#e8212d" stroke-width="0.75"/>
<line x1="198" y1="457.7" x2="201.6" y2="457.7" stroke="#e8212d" stroke-width="0.75"/>
<line x1="203.5" y1="447.6" x2="203.5" y2="456.7" stroke="#e8212d" stroke-width="0.75"/>
<line x1="201.7" y1="447.6" x2="205.3" y2="447.6" stroke="#e8212d" stroke-width="0.75"/>
<line x1="201.7" y1="456.7" x2="205.3" y2="456.7" stroke="#e8212d" stroke-width="0.75"/>
<line x1="207.7" y1="446.2" x2="207.7" y2="455.5" stroke="#e8212d" stroke-width="0.75"/>
<line x1="205.9" y1="446.2" x2="209.5" y2="446.2" stroke="#e8212d" stroke-width="0.75"/>
<line x1="205.9" y1="455.5" x2="209.5" y2="455.5" stroke="#e8212d" stroke-width="0.75"/>
<line x1="211.6" y1="444.4" x2="211.6" y2="453.8" stroke="#e8212d" stroke-width="0.75"/>
<line x1="209.8" y1="444.4" x2="213.4" y2="444.4" stroke="#e8212d" stroke-width="0.75"/>
<line x1="209.8" y1="453.8" x2="213.4" y2="453.8" stroke="#e8212d" stroke-width="0.75"/>
<circle cx="38.5" cy="472.2" r="1.9" fill="#e8212d"/>
<circle cx="46.4" cy="474.4" r="1.9" fill="#e8212d"/>
<circle cx="54.2" cy="473.9" r="1.9" fill="#e8212d"/>
<circle cx="62" cy="473.1" r="1.9" fill="#e8212d"/>
<circle cx="69.9" cy="473.1" r="1.9" fill="#e8212d"/>
<circle cx="77.8" cy="472.8" r="1.9" fill="#e8212d"/>
<circle cx="85.6" cy="472.2" r="1.9" fill="#e8212d"/>
<circle cx="89.8" cy="471.4" r="1.9" fill="#e8212d"/>
<circle cx="94" cy="470.5" r="1.9" fill="#e8212d"/>
<circle cx="98.3" cy="469.7" r="1.9" fill="#e8212d"/>
<circle cx="102.5" cy="468.9" r="1.9" fill="#e8212d"/>
<circle cx="106.7" cy="468.1" r="1.9" fill="#e8212d"/>
<circle cx="110.9" cy="467.2" r="1.9" fill="#e8212d"/>
<circle cx="115.1" cy="466.2" r="1.9" fill="#e8212d"/>
<circle cx="119.4" cy="465.6" r="1.9" fill="#e8212d"/>
<circle cx="123.6" cy="465" r="1.9" fill="#e8212d"/>
<circle cx="127.8" cy="464.4" r="1.9" fill="#e8212d"/>
<circle cx="132" cy="464" r="1.9" fill="#e8212d"/>
<circle cx="137.6" cy="465.1" r="1.9" fill="#e8212d"/>
<circle cx="142.5" cy="465.5" r="1.9" fill="#e8212d"/>
<circle cx="147.2" cy="464.3" r="1.9" fill="#e8212d"/>
<circle cx="151" cy="463.5" r="1.9" fill="#e8212d"/>
<circle cx="155.3" cy="462.4" r="1.9" fill="#e8212d"/>
<circle cx="159.6" cy="461.5" r="1.9" fill="#e8212d"/>
<circle cx="163.3" cy="461" r="1.9" fill="#e8212d"/>
<circle cx="167" cy="460.1" r="1.9" fill="#e8212d"/>
<circle cx="171.4" cy="459.4" r="1.9" fill="#e8212d"/>
<circle cx="176.1" cy="458.3" r="1.9" fill="#e8212d"/>
<circle cx="180.2" cy="457.7" r="1.9" fill="#e8212d"/>
<circle cx="185.9" cy="456.3" r="1.9" fill="#e8212d"/>
<circle cx="191" cy="455.2" r="1.9" fill="#e8212d"/>
<circle cx="195.9" cy="453.9" r="1.9" fill="#e8212d"/>
<circle cx="199.8" cy="453.2" r="1.9" fill="#e8212d"/>
<circle cx="203.5" cy="452.2" r="1.9" fill="#e8212d"/>
<circle cx="207.7" cy="450.9" r="1.9" fill="#e8212d"/>
<circle cx="211.6" cy="449.1" r="1.9" fill="#e8212d"/>
<polyline points="38.5,461.4 46.4,464.6 54.2,463.6 62,461.8 69.9,459.9 77.8,458.5 85.6,457 89.8,454.8 94,453.6 98.3,452.9 102.5,452.3 106.7,450.9 110.9,449.5 115.1,448.6 119.4,447.3 123.6,446.2 127.8,444.8 132,443.1 137.6,425.7 142.5,425.2 147.2,423 151,421.6 155.3,419.5 159.6,418.3 163.3,416 167,413.4 171.4,412.6 176.1,410.3 180.2,408.8 185.9,405.1 191,403.1 195.9,401.6 199.8,399.6 203.5,398.6 207.7,397.2 211.6,396.1" fill="none" stroke="#111111" stroke-width="1.0"/>
<line x1="38.5" y1="457.7" x2="38.5" y2="465.1" stroke="#111111" stroke-width="0.75"/>
<line x1="36.7" y1="457.7" x2="40.3" y2="457.7" stroke="#111111" stroke-width="0.75"/>
<line x1="36.7" y1="465.1" x2="40.3" y2="465.1" stroke="#111111" stroke-width="0.75"/>
<line x1="46.4" y1="460.8" x2="46.4" y2="468.4" stroke="#111111" stroke-width="0.75"/>
<line x1="44.6" y1="460.8" x2="48.1" y2="460.8" stroke="#111111" stroke-width="0.75"/>
<line x1="44.6" y1="468.4" x2="48.1" y2="468.4" stroke="#111111" stroke-width="0.75"/>
<line x1="54.2" y1="459.7" x2="54.2" y2="467.5" stroke="#111111" stroke-width="0.75"/>
<line x1="52.4" y1="459.7" x2="56" y2="459.7" stroke="#111111" stroke-width="0.75"/>
<line x1="52.4" y1="467.5" x2="56" y2="467.5" stroke="#111111" stroke-width="0.75"/>
<line x1="62" y1="457.8" x2="62" y2="465.9" stroke="#111111" stroke-width="0.75"/>
<line x1="60.2" y1="457.8" x2="63.8" y2="457.8" stroke="#111111" stroke-width="0.75"/>
<line x1="60.2" y1="465.9" x2="63.8" y2="465.9" stroke="#111111" stroke-width="0.75"/>
<line x1="69.9" y1="455.7" x2="69.9" y2="464.1" stroke="#111111" stroke-width="0.75"/>
<line x1="68.1" y1="455.7" x2="71.7" y2="455.7" stroke="#111111" stroke-width="0.75"/>
<line x1="68.1" y1="464.1" x2="71.7" y2="464.1" stroke="#111111" stroke-width="0.75"/>
<line x1="77.8" y1="454.1" x2="77.8" y2="462.8" stroke="#111111" stroke-width="0.75"/>
<line x1="76" y1="454.1" x2="79.5" y2="454.1" stroke="#111111" stroke-width="0.75"/>
<line x1="76" y1="462.8" x2="79.5" y2="462.8" stroke="#111111" stroke-width="0.75"/>
<line x1="85.6" y1="452.5" x2="85.6" y2="461.5" stroke="#111111" stroke-width="0.75"/>
<line x1="83.8" y1="452.5" x2="87.4" y2="452.5" stroke="#111111" stroke-width="0.75"/>
<line x1="83.8" y1="461.5" x2="87.4" y2="461.5" stroke="#111111" stroke-width="0.75"/>
<line x1="89.8" y1="450.2" x2="89.8" y2="459.3" stroke="#111111" stroke-width="0.75"/>
<line x1="88" y1="450.2" x2="91.6" y2="450.2" stroke="#111111" stroke-width="0.75"/>
<line x1="88" y1="459.3" x2="91.6" y2="459.3" stroke="#111111" stroke-width="0.75"/>
<line x1="94" y1="449" x2="94" y2="458.2" stroke="#111111" stroke-width="0.75"/>
<line x1="92.2" y1="449" x2="95.8" y2="449" stroke="#111111" stroke-width="0.75"/>
<line x1="92.2" y1="458.2" x2="95.8" y2="458.2" stroke="#111111" stroke-width="0.75"/>
<line x1="98.3" y1="448.2" x2="98.3" y2="457.5" stroke="#111111" stroke-width="0.75"/>
<line x1="96.5" y1="448.2" x2="100.1" y2="448.2" stroke="#111111" stroke-width="0.75"/>
<line x1="96.5" y1="457.5" x2="100.1" y2="457.5" stroke="#111111" stroke-width="0.75"/>
<line x1="102.5" y1="447.5" x2="102.5" y2="457.1" stroke="#111111" stroke-width="0.75"/>
<line x1="100.7" y1="447.5" x2="104.3" y2="447.5" stroke="#111111" stroke-width="0.75"/>
<line x1="100.7" y1="457.1" x2="104.3" y2="457.1" stroke="#111111" stroke-width="0.75"/>
<line x1="106.7" y1="446" x2="106.7" y2="455.7" stroke="#111111" stroke-width="0.75"/>
<line x1="104.9" y1="446" x2="108.5" y2="446" stroke="#111111" stroke-width="0.75"/>
<line x1="104.9" y1="455.7" x2="108.5" y2="455.7" stroke="#111111" stroke-width="0.75"/>
<line x1="110.9" y1="444.6" x2="110.9" y2="454.4" stroke="#111111" stroke-width="0.75"/>
<line x1="109.1" y1="444.6" x2="112.7" y2="444.6" stroke="#111111" stroke-width="0.75"/>
<line x1="109.1" y1="454.4" x2="112.7" y2="454.4" stroke="#111111" stroke-width="0.75"/>
<line x1="115.1" y1="443.6" x2="115.1" y2="453.6" stroke="#111111" stroke-width="0.75"/>
<line x1="113.3" y1="443.6" x2="116.9" y2="443.6" stroke="#111111" stroke-width="0.75"/>
<line x1="113.3" y1="453.6" x2="116.9" y2="453.6" stroke="#111111" stroke-width="0.75"/>
<line x1="119.4" y1="442.3" x2="119.4" y2="452.4" stroke="#111111" stroke-width="0.75"/>
<line x1="117.6" y1="442.3" x2="121.2" y2="442.3" stroke="#111111" stroke-width="0.75"/>
<line x1="117.6" y1="452.4" x2="121.2" y2="452.4" stroke="#111111" stroke-width="0.75"/>
<line x1="123.6" y1="441.1" x2="123.6" y2="451.3" stroke="#111111" stroke-width="0.75"/>
<line x1="121.8" y1="441.1" x2="125.4" y2="441.1" stroke="#111111" stroke-width="0.75"/>
<line x1="121.8" y1="451.3" x2="125.4" y2="451.3" stroke="#111111" stroke-width="0.75"/>
<line x1="127.8" y1="439.6" x2="127.8" y2="450" stroke="#111111" stroke-width="0.75"/>
<line x1="126" y1="439.6" x2="129.6" y2="439.6" stroke="#111111" stroke-width="0.75"/>
<line x1="126" y1="450" x2="129.6" y2="450" stroke="#111111" stroke-width="0.75"/>
<line x1="132" y1="437.9" x2="132" y2="448.4" stroke="#111111" stroke-width="0.75"/>
<line x1="130.2" y1="437.9" x2="133.8" y2="437.9" stroke="#111111" stroke-width="0.75"/>
<line x1="130.2" y1="448.4" x2="133.8" y2="448.4" stroke="#111111" stroke-width="0.75"/>
<line x1="137.6" y1="419.3" x2="137.6" y2="432" stroke="#111111" stroke-width="0.75"/>
<line x1="135.8" y1="419.3" x2="139.4" y2="419.3" stroke="#111111" stroke-width="0.75"/>
<line x1="135.8" y1="432" x2="139.4" y2="432" stroke="#111111" stroke-width="0.75"/>
<line x1="142.5" y1="418.8" x2="142.5" y2="431.6" stroke="#111111" stroke-width="0.75"/>
<line x1="140.7" y1="418.8" x2="144.3" y2="418.8" stroke="#111111" stroke-width="0.75"/>
<line x1="140.7" y1="431.6" x2="144.3" y2="431.6" stroke="#111111" stroke-width="0.75"/>
<line x1="147.2" y1="416.6" x2="147.2" y2="429.4" stroke="#111111" stroke-width="0.75"/>
<line x1="145.4" y1="416.6" x2="149" y2="416.6" stroke="#111111" stroke-width="0.75"/>
<line x1="145.4" y1="429.4" x2="149" y2="429.4" stroke="#111111" stroke-width="0.75"/>
<line x1="151" y1="415.1" x2="151" y2="428" stroke="#111111" stroke-width="0.75"/>
<line x1="149.2" y1="415.1" x2="152.8" y2="415.1" stroke="#111111" stroke-width="0.75"/>
<line x1="149.2" y1="428" x2="152.8" y2="428" stroke="#111111" stroke-width="0.75"/>
<line x1="155.3" y1="413" x2="155.3" y2="426" stroke="#111111" stroke-width="0.75"/>
<line x1="153.5" y1="413" x2="157.1" y2="413" stroke="#111111" stroke-width="0.75"/>
<line x1="153.5" y1="426" x2="157.1" y2="426" stroke="#111111" stroke-width="0.75"/>
<line x1="159.6" y1="411.8" x2="159.6" y2="424.9" stroke="#111111" stroke-width="0.75"/>
<line x1="157.8" y1="411.8" x2="161.4" y2="411.8" stroke="#111111" stroke-width="0.75"/>
<line x1="157.8" y1="424.9" x2="161.4" y2="424.9" stroke="#111111" stroke-width="0.75"/>
<line x1="163.3" y1="409.4" x2="163.3" y2="422.6" stroke="#111111" stroke-width="0.75"/>
<line x1="161.5" y1="409.4" x2="165.1" y2="409.4" stroke="#111111" stroke-width="0.75"/>
<line x1="161.5" y1="422.6" x2="165.1" y2="422.6" stroke="#111111" stroke-width="0.75"/>
<line x1="167" y1="406.7" x2="167" y2="420" stroke="#111111" stroke-width="0.75"/>
<line x1="165.2" y1="406.7" x2="168.8" y2="406.7" stroke="#111111" stroke-width="0.75"/>
<line x1="165.2" y1="420" x2="168.8" y2="420" stroke="#111111" stroke-width="0.75"/>
<line x1="171.4" y1="405.9" x2="171.4" y2="419.3" stroke="#111111" stroke-width="0.75"/>
<line x1="169.6" y1="405.9" x2="173.2" y2="405.9" stroke="#111111" stroke-width="0.75"/>
<line x1="169.6" y1="419.3" x2="173.2" y2="419.3" stroke="#111111" stroke-width="0.75"/>
<line x1="176.1" y1="403.5" x2="176.1" y2="417" stroke="#111111" stroke-width="0.75"/>
<line x1="174.3" y1="403.5" x2="177.9" y2="403.5" stroke="#111111" stroke-width="0.75"/>
<line x1="174.3" y1="417" x2="177.9" y2="417" stroke="#111111" stroke-width="0.75"/>
<line x1="180.2" y1="402" x2="180.2" y2="415.6" stroke="#111111" stroke-width="0.75"/>
<line x1="178.4" y1="402" x2="182" y2="402" stroke="#111111" stroke-width="0.75"/>
<line x1="178.4" y1="415.6" x2="182" y2="415.6" stroke="#111111" stroke-width="0.75"/>
<line x1="185.9" y1="398.3" x2="185.9" y2="412" stroke="#111111" stroke-width="0.75"/>
<line x1="184.1" y1="398.3" x2="187.7" y2="398.3" stroke="#111111" stroke-width="0.75"/>
<line x1="184.1" y1="412" x2="187.7" y2="412" stroke="#111111" stroke-width="0.75"/>
<line x1="191" y1="396.2" x2="191" y2="410" stroke="#111111" stroke-width="0.75"/>
<line x1="189.2" y1="396.2" x2="192.8" y2="396.2" stroke="#111111" stroke-width="0.75"/>
<line x1="189.2" y1="410" x2="192.8" y2="410" stroke="#111111" stroke-width="0.75"/>
<line x1="195.9" y1="394.6" x2="195.9" y2="408.6" stroke="#111111" stroke-width="0.75"/>
<line x1="194.1" y1="394.6" x2="197.7" y2="394.6" stroke="#111111" stroke-width="0.75"/>
<line x1="194.1" y1="408.6" x2="197.7" y2="408.6" stroke="#111111" stroke-width="0.75"/>
<line x1="199.8" y1="392.5" x2="199.8" y2="406.6" stroke="#111111" stroke-width="0.75"/>
<line x1="198" y1="392.5" x2="201.6" y2="392.5" stroke="#111111" stroke-width="0.75"/>
<line x1="198" y1="406.6" x2="201.6" y2="406.6" stroke="#111111" stroke-width="0.75"/>
<line x1="203.5" y1="391.5" x2="203.5" y2="405.6" stroke="#111111" stroke-width="0.75"/>
<line x1="201.7" y1="391.5" x2="205.3" y2="391.5" stroke="#111111" stroke-width="0.75"/>
<line x1="201.7" y1="405.6" x2="205.3" y2="405.6" stroke="#111111" stroke-width="0.75"/>
<line x1="207.7" y1="390.1" x2="207.7" y2="404.4" stroke="#111111" stroke-width="0.75"/>
<line x1="205.9" y1="390.1" x2="209.5" y2="390.1" stroke="#111111" stroke-width="0.75"/>
<line x1="205.9" y1="404.4" x2="209.5" y2="404.4" stroke="#111111" stroke-width="0.75"/>
<line x1="211.6" y1="388.9" x2="211.6" y2="403.2" stroke="#111111" stroke-width="0.75"/>
<line x1="209.8" y1="388.9" x2="213.4" y2="388.9" stroke="#111111" stroke-width="0.75"/>
<line x1="209.8" y1="403.2" x2="213.4" y2="403.2" stroke="#111111" stroke-width="0.75"/>
<circle cx="38.5" cy="461.4" r="2" fill="#111111"/>
<circle cx="46.4" cy="464.6" r="2" fill="#111111"/>
<circle cx="54.2" cy="463.6" r="2" fill="#111111"/>
<circle cx="62" cy="461.8" r="2" fill="#111111"/>
<circle cx="69.9" cy="459.9" r="2" fill="#111111"/>
<circle cx="77.8" cy="458.5" r="2" fill="#111111"/>
<circle cx="85.6" cy="457" r="2" fill="#111111"/>
<circle cx="89.8" cy="454.8" r="2" fill="#111111"/>
<circle cx="94" cy="453.6" r="2" fill="#111111"/>
<circle cx="98.3" cy="452.9" r="2" fill="#111111"/>
<circle cx="102.5" cy="452.3" r="2" fill="#111111"/>
<circle cx="106.7" cy="450.9" r="2" fill="#111111"/>
<circle cx="110.9" cy="449.5" r="2" fill="#111111"/>
<circle cx="115.1" cy="448.6" r="2" fill="#111111"/>
<circle cx="119.4" cy="447.3" r="2" fill="#111111"/>
<circle cx="123.6" cy="446.2" r="2" fill="#111111"/>
<circle cx="127.8" cy="444.8" r="2" fill="#111111"/>
<circle cx="132" cy="443.1" r="2" fill="#111111"/>
<circle cx="137.6" cy="425.7" r="2" fill="#111111"/>
<circle cx="142.5" cy="425.2" r="2" fill="#111111"/>
<circle cx="147.2" cy="423" r="2" fill="#111111"/>
<circle cx="151" cy="421.6" r="2" fill="#111111"/>
<circle cx="155.3" cy="419.5" r="2" fill="#111111"/>
<circle cx="159.6" cy="418.3" r="2" fill="#111111"/>
<circle cx="163.3" cy="416" r="2" fill="#111111"/>
<circle cx="167" cy="413.4" r="2" fill="#111111"/>
<circle cx="171.4" cy="412.6" r="2" fill="#111111"/>
<circle cx="176.1" cy="410.3" r="2" fill="#111111"/>
<circle cx="180.2" cy="408.8" r="2" fill="#111111"/>
<circle cx="185.9" cy="405.1" r="2" fill="#111111"/>
<circle cx="191" cy="403.1" r="2" fill="#111111"/>
<circle cx="195.9" cy="401.6" r="2" fill="#111111"/>
<circle cx="199.8" cy="399.6" r="2" fill="#111111"/>
<circle cx="203.5" cy="398.6" r="2" fill="#111111"/>
<circle cx="207.7" cy="397.2" r="2" fill="#111111"/>
<circle cx="211.6" cy="396.1" r="2" fill="#111111"/>
<text x="215.5" y="445.7" font-size="12.7" text-anchor="middle" font-weight="bold" fill="#1a1a1a">****</text>
<text x="215.5" y="468.2" font-size="12.7" text-anchor="middle" font-weight="bold" fill="#1a1a1a">****</text>
<text x="215.5" y="489.5" font-size="12.7" text-anchor="middle" font-weight="bold" fill="#1a1a1a">****</text>
<text x="67.4" y="547.2" font-size="10.9" font-weight="bold" textLength="136.3" lengthAdjust="spacingAndGlyphs">Beta pancreatic cells TC6</text>
<line x1="38.4" y1="555.3" x2="38.4" y2="673" stroke="#1a1a1a" stroke-width="1.15"/>
<line x1="38.4" y1="673" x2="215.4" y2="673" stroke="#1a1a1a" stroke-width="1.15"/>
<line x1="35.1" y1="673" x2="38.4" y2="673" stroke="#1a1a1a" stroke-width="0.8"/>
<text x="34.2" y="676.1" font-size="8.6" text-anchor="end" fill="#1a1a1a" stroke="#1a1a1a" stroke-width="0.16">0</text>
<line x1="35.1" y1="643.7" x2="38.4" y2="643.7" stroke="#1a1a1a" stroke-width="0.8"/>
<text x="34.2" y="646.8" font-size="8.6" text-anchor="end" fill="#1a1a1a" stroke="#1a1a1a" stroke-width="0.16">20</text>
<line x1="35.1" y1="614.4" x2="38.4" y2="614.4" stroke="#1a1a1a" stroke-width="0.8"/>
<text x="34.2" y="617.5" font-size="8.6" text-anchor="end" fill="#1a1a1a" stroke="#1a1a1a" stroke-width="0.16">40</text>
<line x1="35.1" y1="585" x2="38.4" y2="585" stroke="#1a1a1a" stroke-width="0.8"/>
<text x="34.2" y="588.1" font-size="8.6" text-anchor="end" fill="#1a1a1a" stroke="#1a1a1a" stroke-width="0.16">60</text>
<line x1="35.1" y1="555.7" x2="38.4" y2="555.7" stroke="#1a1a1a" stroke-width="0.8"/>
<text x="34.2" y="558.8" font-size="8.6" text-anchor="end" fill="#1a1a1a" stroke="#1a1a1a" stroke-width="0.16">80</text>
<line x1="38.4" y1="673" x2="38.4" y2="676.3" stroke="#1a1a1a" stroke-width="0.8"/>
<text x="38.4" y="684.2" font-size="8.6" text-anchor="middle" fill="#1a1a1a" stroke="#1a1a1a" stroke-width="0.16">0</text>
<line x1="77.8" y1="673" x2="77.8" y2="676.3" stroke="#1a1a1a" stroke-width="0.8"/>
<text x="77.8" y="684.2" font-size="8.6" text-anchor="middle" fill="#1a1a1a" stroke="#1a1a1a" stroke-width="0.16">20</text>
<line x1="117.1" y1="673" x2="117.1" y2="676.3" stroke="#1a1a1a" stroke-width="0.8"/>
<text x="117.1" y="684.2" font-size="8.6" text-anchor="middle" fill="#1a1a1a" stroke="#1a1a1a" stroke-width="0.16">40</text>
<line x1="156.4" y1="673" x2="156.4" y2="676.3" stroke="#1a1a1a" stroke-width="0.8"/>
<text x="156.4" y="684.2" font-size="8.6" text-anchor="middle" fill="#1a1a1a" stroke="#1a1a1a" stroke-width="0.16">60</text>
<line x1="195.8" y1="673" x2="195.8" y2="676.3" stroke="#1a1a1a" stroke-width="0.8"/>
<text x="195.8" y="684.2" font-size="8.6" text-anchor="middle" fill="#1a1a1a" stroke="#1a1a1a" stroke-width="0.16">80</text>
<line x1="54.3" y1="563.5" x2="54.3" y2="673" stroke="#b5b5b5" stroke-width="1.0" stroke-dasharray="3.2,2"/>
<text x="0" y="0" font-size="8.6" text-anchor="middle" fill="#1a1a1a" stroke="#1a1a1a" stroke-width="0.16" transform="translate(21.2 615.5) rotate(-90)">% Confluency</text>
<text x="123.4" y="695.3" font-size="8.5" text-anchor="middle" fill="#1a1a1a" stroke="#1a1a1a" stroke-width="0.16">Time (hours)</text>
<text x="54.8" y="562.3" font-size="9.2" text-anchor="middle" fill="#333" stroke="#333" stroke-width="0.16">8h</text>
<text x="139.5" y="562.4" font-size="7.4" text-anchor="middle" fill="#333" stroke="#333" stroke-width="0.16">Media changed</text>
<line x1="137.4" y1="565.6" x2="137.4" y2="582.5" stroke="#222" stroke-width="0.7"/>
<path d="M135.1,581.3 L139.7,581.3 L137.4,586.3 Z" fill="#fff" stroke="#222" stroke-width="0.7"/>
<polyline points="38.4,638.7 46.3,642.4 54.1,644.6 62,645.4 69.9,646.5 77.8,647.3 85.6,647.9 89.9,648.9 94.1,649.2 98.3,649.4 102.5,649.7 106.8,650.3 111,650.4 115.2,650.4 119.5,650.4 123.7,650.4 127.9,650.4 132.2,650.4 137.8,664.8 142.7,664.8 147.2,664.8 150.9,664.8 155.3,664.8 159.6,664.7 163.3,664.7 167.1,664.7 171.4,664.7 176.1,664.7 180.1,664.7 185.8,664.7 190.9,664.7 196,664.7 199.9,664.7 203.7,664.7 207.8,664.7 211.3,664.7 215.5,664.6" fill="none" stroke="#f4982b" stroke-width="1.0"/>
<line x1="38.4" y1="638" x2="38.4" y2="639.4" stroke="#f4982b" stroke-width="0.75"/>
<line x1="36.6" y1="638" x2="40.2" y2="638" stroke="#f4982b" stroke-width="0.75"/>
<line x1="36.6" y1="639.4" x2="40.2" y2="639.4" stroke="#f4982b" stroke-width="0.75"/>
<line x1="46.3" y1="641.6" x2="46.3" y2="643.1" stroke="#f4982b" stroke-width="0.75"/>
<line x1="44.5" y1="641.6" x2="48.1" y2="641.6" stroke="#f4982b" stroke-width="0.75"/>
<line x1="44.5" y1="643.1" x2="48.1" y2="643.1" stroke="#f4982b" stroke-width="0.75"/>
<line x1="54.1" y1="643.9" x2="54.1" y2="645.3" stroke="#f4982b" stroke-width="0.75"/>
<line x1="52.3" y1="643.9" x2="55.9" y2="643.9" stroke="#f4982b" stroke-width="0.75"/>
<line x1="52.3" y1="645.3" x2="55.9" y2="645.3" stroke="#f4982b" stroke-width="0.75"/>
<line x1="62" y1="644.7" x2="62" y2="646.1" stroke="#f4982b" stroke-width="0.75"/>
<line x1="60.2" y1="644.7" x2="63.8" y2="644.7" stroke="#f4982b" stroke-width="0.75"/>
<line x1="60.2" y1="646.1" x2="63.8" y2="646.1" stroke="#f4982b" stroke-width="0.75"/>
<line x1="69.9" y1="645.8" x2="69.9" y2="647.1" stroke="#f4982b" stroke-width="0.75"/>
<line x1="68.1" y1="645.8" x2="71.7" y2="645.8" stroke="#f4982b" stroke-width="0.75"/>
<line x1="68.1" y1="647.1" x2="71.7" y2="647.1" stroke="#f4982b" stroke-width="0.75"/>
<line x1="77.8" y1="646.7" x2="77.8" y2="648" stroke="#f4982b" stroke-width="0.75"/>
<line x1="76" y1="646.7" x2="79.5" y2="646.7" stroke="#f4982b" stroke-width="0.75"/>
<line x1="76" y1="648" x2="79.5" y2="648" stroke="#f4982b" stroke-width="0.75"/>
<line x1="85.6" y1="647.3" x2="85.6" y2="648.6" stroke="#f4982b" stroke-width="0.75"/>
<line x1="83.8" y1="647.3" x2="87.4" y2="647.3" stroke="#f4982b" stroke-width="0.75"/>
<line x1="83.8" y1="648.6" x2="87.4" y2="648.6" stroke="#f4982b" stroke-width="0.75"/>
<line x1="89.9" y1="648.2" x2="89.9" y2="649.5" stroke="#f4982b" stroke-width="0.75"/>
<line x1="88.1" y1="648.2" x2="91.7" y2="648.2" stroke="#f4982b" stroke-width="0.75"/>
<line x1="88.1" y1="649.5" x2="91.7" y2="649.5" stroke="#f4982b" stroke-width="0.75"/>
<line x1="94.1" y1="648.5" x2="94.1" y2="649.8" stroke="#f4982b" stroke-width="0.75"/>
<line x1="92.3" y1="648.5" x2="95.9" y2="648.5" stroke="#f4982b" stroke-width="0.75"/>
<line x1="92.3" y1="649.8" x2="95.9" y2="649.8" stroke="#f4982b" stroke-width="0.75"/>
<line x1="98.3" y1="648.8" x2="98.3" y2="650.1" stroke="#f4982b" stroke-width="0.75"/>
<line x1="96.5" y1="648.8" x2="100.1" y2="648.8" stroke="#f4982b" stroke-width="0.75"/>
<line x1="96.5" y1="650.1" x2="100.1" y2="650.1" stroke="#f4982b" stroke-width="0.75"/>
<line x1="102.5" y1="649.1" x2="102.5" y2="650.4" stroke="#f4982b" stroke-width="0.75"/>
<line x1="100.7" y1="649.1" x2="104.3" y2="649.1" stroke="#f4982b" stroke-width="0.75"/>
<line x1="100.7" y1="650.4" x2="104.3" y2="650.4" stroke="#f4982b" stroke-width="0.75"/>
<line x1="106.8" y1="649.6" x2="106.8" y2="650.9" stroke="#f4982b" stroke-width="0.75"/>
<line x1="105" y1="649.6" x2="108.6" y2="649.6" stroke="#f4982b" stroke-width="0.75"/>
<line x1="105" y1="650.9" x2="108.6" y2="650.9" stroke="#f4982b" stroke-width="0.75"/>
<line x1="111" y1="649.8" x2="111" y2="651" stroke="#f4982b" stroke-width="0.75"/>
<line x1="109.2" y1="649.8" x2="112.8" y2="649.8" stroke="#f4982b" stroke-width="0.75"/>
<line x1="109.2" y1="651" x2="112.8" y2="651" stroke="#f4982b" stroke-width="0.75"/>
<line x1="115.2" y1="649.8" x2="115.2" y2="651" stroke="#f4982b" stroke-width="0.75"/>
<line x1="113.4" y1="649.8" x2="117" y2="649.8" stroke="#f4982b" stroke-width="0.75"/>
<line x1="113.4" y1="651" x2="117" y2="651" stroke="#f4982b" stroke-width="0.75"/>
<line x1="119.5" y1="649.8" x2="119.5" y2="651" stroke="#f4982b" stroke-width="0.75"/>
<line x1="117.7" y1="649.8" x2="121.3" y2="649.8" stroke="#f4982b" stroke-width="0.75"/>
<line x1="117.7" y1="651" x2="121.3" y2="651" stroke="#f4982b" stroke-width="0.75"/>
<line x1="123.7" y1="649.8" x2="123.7" y2="651" stroke="#f4982b" stroke-width="0.75"/>
<line x1="121.9" y1="649.8" x2="125.5" y2="649.8" stroke="#f4982b" stroke-width="0.75"/>
<line x1="121.9" y1="651" x2="125.5" y2="651" stroke="#f4982b" stroke-width="0.75"/>
<line x1="127.9" y1="649.8" x2="127.9" y2="651" stroke="#f4982b" stroke-width="0.75"/>
<line x1="126.1" y1="649.8" x2="129.7" y2="649.8" stroke="#f4982b" stroke-width="0.75"/>
<line x1="126.1" y1="651" x2="129.7" y2="651" stroke="#f4982b" stroke-width="0.75"/>
<line x1="132.2" y1="649.8" x2="132.2" y2="651" stroke="#f4982b" stroke-width="0.75"/>
<line x1="130.4" y1="649.8" x2="134" y2="649.8" stroke="#f4982b" stroke-width="0.75"/>
<line x1="130.4" y1="651" x2="134" y2="651" stroke="#f4982b" stroke-width="0.75"/>
<line x1="137.8" y1="663" x2="137.8" y2="666.5" stroke="#f4982b" stroke-width="0.75"/>
<line x1="136" y1="663" x2="139.6" y2="663" stroke="#f4982b" stroke-width="0.75"/>
<line x1="136" y1="666.5" x2="139.6" y2="666.5" stroke="#f4982b" stroke-width="0.75"/>
<line x1="142.7" y1="663" x2="142.7" y2="666.5" stroke="#f4982b" stroke-width="0.75"/>
<line x1="140.9" y1="663" x2="144.5" y2="663" stroke="#f4982b" stroke-width="0.75"/>
<line x1="140.9" y1="666.5" x2="144.5" y2="666.5" stroke="#f4982b" stroke-width="0.75"/>
<line x1="147.2" y1="663" x2="147.2" y2="666.5" stroke="#f4982b" stroke-width="0.75"/>
<line x1="145.4" y1="663" x2="149" y2="663" stroke="#f4982b" stroke-width="0.75"/>
<line x1="145.4" y1="666.5" x2="149" y2="666.5" stroke="#f4982b" stroke-width="0.75"/>
<line x1="150.9" y1="663" x2="150.9" y2="666.5" stroke="#f4982b" stroke-width="0.75"/>
<line x1="149.1" y1="663" x2="152.7" y2="663" stroke="#f4982b" stroke-width="0.75"/>
<line x1="149.1" y1="666.5" x2="152.7" y2="666.5" stroke="#f4982b" stroke-width="0.75"/>
<line x1="155.3" y1="663" x2="155.3" y2="666.5" stroke="#f4982b" stroke-width="0.75"/>
<line x1="153.5" y1="663" x2="157.1" y2="663" stroke="#f4982b" stroke-width="0.75"/>
<line x1="153.5" y1="666.5" x2="157.1" y2="666.5" stroke="#f4982b" stroke-width="0.75"/>
<line x1="159.6" y1="663" x2="159.6" y2="666.5" stroke="#f4982b" stroke-width="0.75"/>
<line x1="157.8" y1="663" x2="161.4" y2="663" stroke="#f4982b" stroke-width="0.75"/>
<line x1="157.8" y1="666.5" x2="161.4" y2="666.5" stroke="#f4982b" stroke-width="0.75"/>
<line x1="163.3" y1="663" x2="163.3" y2="666.5" stroke="#f4982b" stroke-width="0.75"/>
<line x1="161.5" y1="663" x2="165.1" y2="663" stroke="#f4982b" stroke-width="0.75"/>
<line x1="161.5" y1="666.5" x2="165.1" y2="666.5" stroke="#f4982b" stroke-width="0.75"/>
<line x1="167.1" y1="663" x2="167.1" y2="666.5" stroke="#f4982b" stroke-width="0.75"/>
<line x1="165.3" y1="663" x2="168.9" y2="663" stroke="#f4982b" stroke-width="0.75"/>
<line x1="165.3" y1="666.5" x2="168.9" y2="666.5" stroke="#f4982b" stroke-width="0.75"/>
<line x1="171.4" y1="663" x2="171.4" y2="666.5" stroke="#f4982b" stroke-width="0.75"/>
<line x1="169.6" y1="663" x2="173.2" y2="663" stroke="#f4982b" stroke-width="0.75"/>
<line x1="169.6" y1="666.5" x2="173.2" y2="666.5" stroke="#f4982b" stroke-width="0.75"/>
<line x1="176.1" y1="663" x2="176.1" y2="666.5" stroke="#f4982b" stroke-width="0.75"/>
<line x1="174.3" y1="663" x2="177.9" y2="663" stroke="#f4982b" stroke-width="0.75"/>
<line x1="174.3" y1="666.5" x2="177.9" y2="666.5" stroke="#f4982b" stroke-width="0.75"/>
<line x1="180.1" y1="663" x2="180.1" y2="666.5" stroke="#f4982b" stroke-width="0.75"/>
<line x1="178.3" y1="663" x2="181.9" y2="663" stroke="#f4982b" stroke-width="0.75"/>
<line x1="178.3" y1="666.5" x2="181.9" y2="666.5" stroke="#f4982b" stroke-width="0.75"/>
<line x1="185.8" y1="662.9" x2="185.8" y2="666.5" stroke="#f4982b" stroke-width="0.75"/>
<line x1="184" y1="662.9" x2="187.6" y2="662.9" stroke="#f4982b" stroke-width="0.75"/>
<line x1="184" y1="666.5" x2="187.6" y2="666.5" stroke="#f4982b" stroke-width="0.75"/>
<line x1="190.9" y1="662.9" x2="190.9" y2="666.4" stroke="#f4982b" stroke-width="0.75"/>
<line x1="189.1" y1="662.9" x2="192.7" y2="662.9" stroke="#f4982b" stroke-width="0.75"/>
<line x1="189.1" y1="666.4" x2="192.7" y2="666.4" stroke="#f4982b" stroke-width="0.75"/>
<line x1="196" y1="662.9" x2="196" y2="666.4" stroke="#f4982b" stroke-width="0.75"/>
<line x1="194.2" y1="662.9" x2="197.8" y2="662.9" stroke="#f4982b" stroke-width="0.75"/>
<line x1="194.2" y1="666.4" x2="197.8" y2="666.4" stroke="#f4982b" stroke-width="0.75"/>
<line x1="199.9" y1="662.9" x2="199.9" y2="666.4" stroke="#f4982b" stroke-width="0.75"/>
<line x1="198.1" y1="662.9" x2="201.7" y2="662.9" stroke="#f4982b" stroke-width="0.75"/>
<line x1="198.1" y1="666.4" x2="201.7" y2="666.4" stroke="#f4982b" stroke-width="0.75"/>
<line x1="203.7" y1="662.9" x2="203.7" y2="666.4" stroke="#f4982b" stroke-width="0.75"/>
<line x1="201.9" y1="662.9" x2="205.5" y2="662.9" stroke="#f4982b" stroke-width="0.75"/>
<line x1="201.9" y1="666.4" x2="205.5" y2="666.4" stroke="#f4982b" stroke-width="0.75"/>
<line x1="207.8" y1="662.9" x2="207.8" y2="666.4" stroke="#f4982b" stroke-width="0.75"/>
<line x1="206" y1="662.9" x2="209.6" y2="662.9" stroke="#f4982b" stroke-width="0.75"/>
<line x1="206" y1="666.4" x2="209.6" y2="666.4" stroke="#f4982b" stroke-width="0.75"/>
<line x1="211.3" y1="662.9" x2="211.3" y2="666.4" stroke="#f4982b" stroke-width="0.75"/>
<line x1="209.5" y1="662.9" x2="213.1" y2="662.9" stroke="#f4982b" stroke-width="0.75"/>
<line x1="209.5" y1="666.4" x2="213.1" y2="666.4" stroke="#f4982b" stroke-width="0.75"/>
<line x1="215.5" y1="662.9" x2="215.5" y2="666.4" stroke="#f4982b" stroke-width="0.75"/>
<line x1="213.7" y1="662.9" x2="217.3" y2="662.9" stroke="#f4982b" stroke-width="0.75"/>
<line x1="213.7" y1="666.4" x2="217.3" y2="666.4" stroke="#f4982b" stroke-width="0.75"/>
<circle cx="38.4" cy="638.7" r="1.9" fill="#f4982b"/>
<circle cx="46.3" cy="642.4" r="1.9" fill="#f4982b"/>
<circle cx="54.1" cy="644.6" r="1.9" fill="#f4982b"/>
<circle cx="62" cy="645.4" r="1.9" fill="#f4982b"/>
<circle cx="69.9" cy="646.5" r="1.9" fill="#f4982b"/>
<circle cx="77.8" cy="647.3" r="1.9" fill="#f4982b"/>
<circle cx="85.6" cy="647.9" r="1.9" fill="#f4982b"/>
<circle cx="89.9" cy="648.9" r="1.9" fill="#f4982b"/>
<circle cx="94.1" cy="649.2" r="1.9" fill="#f4982b"/>
<circle cx="98.3" cy="649.4" r="1.9" fill="#f4982b"/>
<circle cx="102.5" cy="649.7" r="1.9" fill="#f4982b"/>
<circle cx="106.8" cy="650.3" r="1.9" fill="#f4982b"/>
<circle cx="111" cy="650.4" r="1.9" fill="#f4982b"/>
<circle cx="115.2" cy="650.4" r="1.9" fill="#f4982b"/>
<circle cx="119.5" cy="650.4" r="1.9" fill="#f4982b"/>
<circle cx="123.7" cy="650.4" r="1.9" fill="#f4982b"/>
<circle cx="127.9" cy="650.4" r="1.9" fill="#f4982b"/>
<circle cx="132.2" cy="650.4" r="1.9" fill="#f4982b"/>
<circle cx="137.8" cy="664.8" r="1.9" fill="#f4982b"/>
<circle cx="142.7" cy="664.8" r="1.9" fill="#f4982b"/>
<circle cx="147.2" cy="664.8" r="1.9" fill="#f4982b"/>
<circle cx="150.9" cy="664.8" r="1.9" fill="#f4982b"/>
<circle cx="155.3" cy="664.8" r="1.9" fill="#f4982b"/>
<circle cx="159.6" cy="664.7" r="1.9" fill="#f4982b"/>
<circle cx="163.3" cy="664.7" r="1.9" fill="#f4982b"/>
<circle cx="167.1" cy="664.7" r="1.9" fill="#f4982b"/>
<circle cx="171.4" cy="664.7" r="1.9" fill="#f4982b"/>
<circle cx="176.1" cy="664.7" r="1.9" fill="#f4982b"/>
<circle cx="180.1" cy="664.7" r="1.9" fill="#f4982b"/>
<circle cx="185.8" cy="664.7" r="1.9" fill="#f4982b"/>
<circle cx="190.9" cy="664.7" r="1.9" fill="#f4982b"/>
<circle cx="196" cy="664.7" r="1.9" fill="#f4982b"/>
<circle cx="199.9" cy="664.7" r="1.9" fill="#f4982b"/>
<circle cx="203.7" cy="664.7" r="1.9" fill="#f4982b"/>
<circle cx="207.8" cy="664.7" r="1.9" fill="#f4982b"/>
<circle cx="211.3" cy="664.7" r="1.9" fill="#f4982b"/>
<circle cx="215.5" cy="664.6" r="1.9" fill="#f4982b"/>
<polyline points="38.4,637.7 46.3,637.7 54.1,637.2 62,635 69.9,633.3 77.8,630.6 85.6,628.4 89.9,627.1 94.1,626.4 98.3,625.2 102.5,624.3 106.8,623.6 111,622.7 115.2,621.9 119.5,620.4 123.7,619.6 127.9,618.9 132.2,617.6 137.8,617.4 142.7,616.4 147.2,614.4 150.9,612.9 155.3,612.9 159.6,611.3 163.3,609.8 167.1,609.2 171.4,608.2 176.1,606.7 180.1,606.7 185.8,604.5 190.9,603.7 196,603.7 199.9,602.6 203.7,601.8 207.8,600.6 211.3,600.6 215.5,599.6" fill="none" stroke="#a3202a" stroke-width="1.0"/>
<line x1="38.4" y1="633" x2="38.4" y2="642.4" stroke="#a3202a" stroke-width="0.75"/>
<line x1="36.6" y1="633" x2="40.2" y2="633" stroke="#a3202a" stroke-width="0.75"/>
<line x1="36.6" y1="642.4" x2="40.2" y2="642.4" stroke="#a3202a" stroke-width="0.75"/>
<line x1="46.3" y1="632.9" x2="46.3" y2="642.4" stroke="#a3202a" stroke-width="0.75"/>
<line x1="44.5" y1="632.9" x2="48.1" y2="632.9" stroke="#a3202a" stroke-width="0.75"/>
<line x1="44.5" y1="642.4" x2="48.1" y2="642.4" stroke="#a3202a" stroke-width="0.75"/>
<line x1="54.1" y1="632.4" x2="54.1" y2="642" stroke="#a3202a" stroke-width="0.75"/>
<line x1="52.3" y1="632.4" x2="55.9" y2="632.4" stroke="#a3202a" stroke-width="0.75"/>
<line x1="52.3" y1="642" x2="55.9" y2="642" stroke="#a3202a" stroke-width="0.75"/>
<line x1="62" y1="630.2" x2="62" y2="639.9" stroke="#a3202a" stroke-width="0.75"/>
<line x1="60.2" y1="630.2" x2="63.8" y2="630.2" stroke="#a3202a" stroke-width="0.75"/>
<line x1="60.2" y1="639.9" x2="63.8" y2="639.9" stroke="#a3202a" stroke-width="0.75"/>
<line x1="69.9" y1="628.3" x2="69.9" y2="638.2" stroke="#a3202a" stroke-width="0.75"/>
<line x1="68.1" y1="628.3" x2="71.7" y2="628.3" stroke="#a3202a" stroke-width="0.75"/>
<line x1="68.1" y1="638.2" x2="71.7" y2="638.2" stroke="#a3202a" stroke-width="0.75"/>
<line x1="77.8" y1="625.6" x2="77.8" y2="635.6" stroke="#a3202a" stroke-width="0.75"/>
<line x1="76" y1="625.6" x2="79.5" y2="625.6" stroke="#a3202a" stroke-width="0.75"/>
<line x1="76" y1="635.6" x2="79.5" y2="635.6" stroke="#a3202a" stroke-width="0.75"/>
<line x1="85.6" y1="623.4" x2="85.6" y2="633.5" stroke="#a3202a" stroke-width="0.75"/>
<line x1="83.8" y1="623.4" x2="87.4" y2="623.4" stroke="#a3202a" stroke-width="0.75"/>
<line x1="83.8" y1="633.5" x2="87.4" y2="633.5" stroke="#a3202a" stroke-width="0.75"/>
<line x1="89.9" y1="622" x2="89.9" y2="632.2" stroke="#a3202a" stroke-width="0.75"/>
<line x1="88.1" y1="622" x2="91.7" y2="622" stroke="#a3202a" stroke-width="0.75"/>
<line x1="88.1" y1="632.2" x2="91.7" y2="632.2" stroke="#a3202a" stroke-width="0.75"/>
<line x1="94.1" y1="621.3" x2="94.1" y2="631.6" stroke="#a3202a" stroke-width="0.75"/>
<line x1="92.3" y1="621.3" x2="95.9" y2="621.3" stroke="#a3202a" stroke-width="0.75"/>
<line x1="92.3" y1="631.6" x2="95.9" y2="631.6" stroke="#a3202a" stroke-width="0.75"/>
<line x1="98.3" y1="620" x2="98.3" y2="630.4" stroke="#a3202a" stroke-width="0.75"/>
<line x1="96.5" y1="620" x2="100.1" y2="620" stroke="#a3202a" stroke-width="0.75"/>
<line x1="96.5" y1="630.4" x2="100.1" y2="630.4" stroke="#a3202a" stroke-width="0.75"/>
<line x1="102.5" y1="619" x2="102.5" y2="629.5" stroke="#a3202a" stroke-width="0.75"/>
<line x1="100.7" y1="619" x2="104.3" y2="619" stroke="#a3202a" stroke-width="0.75"/>
<line x1="100.7" y1="629.5" x2="104.3" y2="629.5" stroke="#a3202a" stroke-width="0.75"/>
<line x1="106.8" y1="618.3" x2="106.8" y2="628.9" stroke="#a3202a" stroke-width="0.75"/>
<line x1="105" y1="618.3" x2="108.6" y2="618.3" stroke="#a3202a" stroke-width="0.75"/>
<line x1="105" y1="628.9" x2="108.6" y2="628.9" stroke="#a3202a" stroke-width="0.75"/>
<line x1="111" y1="617.4" x2="111" y2="628.1" stroke="#a3202a" stroke-width="0.75"/>
<line x1="109.2" y1="617.4" x2="112.8" y2="617.4" stroke="#a3202a" stroke-width="0.75"/>
<line x1="109.2" y1="628.1" x2="112.8" y2="628.1" stroke="#a3202a" stroke-width="0.75"/>
<line x1="115.2" y1="616.5" x2="115.2" y2="627.3" stroke="#a3202a" stroke-width="0.75"/>
<line x1="113.4" y1="616.5" x2="117" y2="616.5" stroke="#a3202a" stroke-width="0.75"/>
<line x1="113.4" y1="627.3" x2="117" y2="627.3" stroke="#a3202a" stroke-width="0.75"/>
<line x1="119.5" y1="615" x2="119.5" y2="625.9" stroke="#a3202a" stroke-width="0.75"/>
<line x1="117.7" y1="615" x2="121.3" y2="615" stroke="#a3202a" stroke-width="0.75"/>
<line x1="117.7" y1="625.9" x2="121.3" y2="625.9" stroke="#a3202a" stroke-width="0.75"/>
<line x1="123.7" y1="614.1" x2="123.7" y2="625.1" stroke="#a3202a" stroke-width="0.75"/>
<line x1="121.9" y1="614.1" x2="125.5" y2="614.1" stroke="#a3202a" stroke-width="0.75"/>
<line x1="121.9" y1="625.1" x2="125.5" y2="625.1" stroke="#a3202a" stroke-width="0.75"/>
<line x1="127.9" y1="613.3" x2="127.9" y2="624.4" stroke="#a3202a" stroke-width="0.75"/>
<line x1="126.1" y1="613.3" x2="129.7" y2="613.3" stroke="#a3202a" stroke-width="0.75"/>
<line x1="126.1" y1="624.4" x2="129.7" y2="624.4" stroke="#a3202a" stroke-width="0.75"/>
<line x1="132.2" y1="612" x2="132.2" y2="623.2" stroke="#a3202a" stroke-width="0.75"/>
<line x1="130.4" y1="612" x2="134" y2="612" stroke="#a3202a" stroke-width="0.75"/>
<line x1="130.4" y1="623.2" x2="134" y2="623.2" stroke="#a3202a" stroke-width="0.75"/>
<line x1="137.8" y1="609.8" x2="137.8" y2="625.1" stroke="#a3202a" stroke-width="0.75"/>
<line x1="136" y1="609.8" x2="139.6" y2="609.8" stroke="#a3202a" stroke-width="0.75"/>
<line x1="136" y1="625.1" x2="139.6" y2="625.1" stroke="#a3202a" stroke-width="0.75"/>
<line x1="142.7" y1="608.8" x2="142.7" y2="624" stroke="#a3202a" stroke-width="0.75"/>
<line x1="140.9" y1="608.8" x2="144.5" y2="608.8" stroke="#a3202a" stroke-width="0.75"/>
<line x1="140.9" y1="624" x2="144.5" y2="624" stroke="#a3202a" stroke-width="0.75"/>
<line x1="147.2" y1="606.8" x2="147.2" y2="621.9" stroke="#a3202a" stroke-width="0.75"/>
<line x1="145.4" y1="606.8" x2="149" y2="606.8" stroke="#a3202a" stroke-width="0.75"/>
<line x1="145.4" y1="621.9" x2="149" y2="621.9" stroke="#a3202a" stroke-width="0.75"/>
<line x1="150.9" y1="605.4" x2="150.9" y2="620.4" stroke="#a3202a" stroke-width="0.75"/>
<line x1="149.1" y1="605.4" x2="152.7" y2="605.4" stroke="#a3202a" stroke-width="0.75"/>
<line x1="149.1" y1="620.4" x2="152.7" y2="620.4" stroke="#a3202a" stroke-width="0.75"/>
<line x1="155.3" y1="605.4" x2="155.3" y2="620.4" stroke="#a3202a" stroke-width="0.75"/>
<line x1="153.5" y1="605.4" x2="157.1" y2="605.4" stroke="#a3202a" stroke-width="0.75"/>
<line x1="153.5" y1="620.4" x2="157.1" y2="620.4" stroke="#a3202a" stroke-width="0.75"/>
<line x1="159.6" y1="603.8" x2="159.6" y2="618.7" stroke="#a3202a" stroke-width="0.75"/>
<line x1="157.8" y1="603.8" x2="161.4" y2="603.8" stroke="#a3202a" stroke-width="0.75"/>
<line x1="157.8" y1="618.7" x2="161.4" y2="618.7" stroke="#a3202a" stroke-width="0.75"/>
<line x1="163.3" y1="602.4" x2="163.3" y2="617.2" stroke="#a3202a" stroke-width="0.75"/>
<line x1="161.5" y1="602.4" x2="165.1" y2="602.4" stroke="#a3202a" stroke-width="0.75"/>
<line x1="161.5" y1="617.2" x2="165.1" y2="617.2" stroke="#a3202a" stroke-width="0.75"/>
<line x1="167.1" y1="601.8" x2="167.1" y2="616.6" stroke="#a3202a" stroke-width="0.75"/>
<line x1="165.3" y1="601.8" x2="168.9" y2="601.8" stroke="#a3202a" stroke-width="0.75"/>
<line x1="165.3" y1="616.6" x2="168.9" y2="616.6" stroke="#a3202a" stroke-width="0.75"/>
<line x1="171.4" y1="600.8" x2="171.4" y2="615.6" stroke="#a3202a" stroke-width="0.75"/>
<line x1="169.6" y1="600.8" x2="173.2" y2="600.8" stroke="#a3202a" stroke-width="0.75"/>
<line x1="169.6" y1="615.6" x2="173.2" y2="615.6" stroke="#a3202a" stroke-width="0.75"/>
<line x1="176.1" y1="599.4" x2="176.1" y2="614.1" stroke="#a3202a" stroke-width="0.75"/>
<line x1="174.3" y1="599.4" x2="177.9" y2="599.4" stroke="#a3202a" stroke-width="0.75"/>
<line x1="174.3" y1="614.1" x2="177.9" y2="614.1" stroke="#a3202a" stroke-width="0.75"/>
<line x1="180.1" y1="599.4" x2="180.1" y2="614" stroke="#a3202a" stroke-width="0.75"/>
<line x1="178.3" y1="599.4" x2="181.9" y2="599.4" stroke="#a3202a" stroke-width="0.75"/>
<line x1="178.3" y1="614" x2="181.9" y2="614" stroke="#a3202a" stroke-width="0.75"/>
<line x1="185.8" y1="597.3" x2="185.8" y2="611.8" stroke="#a3202a" stroke-width="0.75"/>
<line x1="184" y1="597.3" x2="187.6" y2="597.3" stroke="#a3202a" stroke-width="0.75"/>
<line x1="184" y1="611.8" x2="187.6" y2="611.8" stroke="#a3202a" stroke-width="0.75"/>
<line x1="190.9" y1="596.4" x2="190.9" y2="610.9" stroke="#a3202a" stroke-width="0.75"/>
<line x1="189.1" y1="596.4" x2="192.7" y2="596.4" stroke="#a3202a" stroke-width="0.75"/>
<line x1="189.1" y1="610.9" x2="192.7" y2="610.9" stroke="#a3202a" stroke-width="0.75"/>
<line x1="196" y1="596.5" x2="196" y2="610.8" stroke="#a3202a" stroke-width="0.75"/>
<line x1="194.2" y1="596.5" x2="197.8" y2="596.5" stroke="#a3202a" stroke-width="0.75"/>
<line x1="194.2" y1="610.8" x2="197.8" y2="610.8" stroke="#a3202a" stroke-width="0.75"/>
<line x1="199.9" y1="595.5" x2="199.9" y2="609.8" stroke="#a3202a" stroke-width="0.75"/>
<line x1="198.1" y1="595.5" x2="201.7" y2="595.5" stroke="#a3202a" stroke-width="0.75"/>
<line x1="198.1" y1="609.8" x2="201.7" y2="609.8" stroke="#a3202a" stroke-width="0.75"/>
<line x1="203.7" y1="594.6" x2="203.7" y2="608.9" stroke="#a3202a" stroke-width="0.75"/>
<line x1="201.9" y1="594.6" x2="205.5" y2="594.6" stroke="#a3202a" stroke-width="0.75"/>
<line x1="201.9" y1="608.9" x2="205.5" y2="608.9" stroke="#a3202a" stroke-width="0.75"/>
<line x1="207.8" y1="593.5" x2="207.8" y2="607.7" stroke="#a3202a" stroke-width="0.75"/>
<line x1="206" y1="593.5" x2="209.6" y2="593.5" stroke="#a3202a" stroke-width="0.75"/>
<line x1="206" y1="607.7" x2="209.6" y2="607.7" stroke="#a3202a" stroke-width="0.75"/>
<line x1="211.3" y1="593.5" x2="211.3" y2="607.6" stroke="#a3202a" stroke-width="0.75"/>
<line x1="209.5" y1="593.5" x2="213.1" y2="593.5" stroke="#a3202a" stroke-width="0.75"/>
<line x1="209.5" y1="607.6" x2="213.1" y2="607.6" stroke="#a3202a" stroke-width="0.75"/>
<line x1="215.5" y1="592.5" x2="215.5" y2="606.6" stroke="#a3202a" stroke-width="0.75"/>
<line x1="213.7" y1="592.5" x2="217.3" y2="592.5" stroke="#a3202a" stroke-width="0.75"/>
<line x1="213.7" y1="606.6" x2="217.3" y2="606.6" stroke="#a3202a" stroke-width="0.75"/>
<circle cx="38.4" cy="637.7" r="1.9" fill="#a3202a"/>
<circle cx="46.3" cy="637.7" r="1.9" fill="#a3202a"/>
<circle cx="54.1" cy="637.2" r="1.9" fill="#a3202a"/>
<circle cx="62" cy="635" r="1.9" fill="#a3202a"/>
<circle cx="69.9" cy="633.3" r="1.9" fill="#a3202a"/>
<circle cx="77.8" cy="630.6" r="1.9" fill="#a3202a"/>
<circle cx="85.6" cy="628.4" r="1.9" fill="#a3202a"/>
<circle cx="89.9" cy="627.1" r="1.9" fill="#a3202a"/>
<circle cx="94.1" cy="626.4" r="1.9" fill="#a3202a"/>
<circle cx="98.3" cy="625.2" r="1.9" fill="#a3202a"/>
<circle cx="102.5" cy="624.3" r="1.9" fill="#a3202a"/>
<circle cx="106.8" cy="623.6" r="1.9" fill="#a3202a"/>
<circle cx="111" cy="622.7" r="1.9" fill="#a3202a"/>
<circle cx="115.2" cy="621.9" r="1.9" fill="#a3202a"/>
<circle cx="119.5" cy="620.4" r="1.9" fill="#a3202a"/>
<circle cx="123.7" cy="619.6" r="1.9" fill="#a3202a"/>
<circle cx="127.9" cy="618.9" r="1.9" fill="#a3202a"/>
<circle cx="132.2" cy="617.6" r="1.9" fill="#a3202a"/>
<circle cx="137.8" cy="617.4" r="1.9" fill="#a3202a"/>
<circle cx="142.7" cy="616.4" r="1.9" fill="#a3202a"/>
<circle cx="147.2" cy="614.4" r="1.9" fill="#a3202a"/>
<circle cx="150.9" cy="612.9" r="1.9" fill="#a3202a"/>
<circle cx="155.3" cy="612.9" r="1.9" fill="#a3202a"/>
<circle cx="159.6" cy="611.3" r="1.9" fill="#a3202a"/>
<circle cx="163.3" cy="609.8" r="1.9" fill="#a3202a"/>
<circle cx="167.1" cy="609.2" r="1.9" fill="#a3202a"/>
<circle cx="171.4" cy="608.2" r="1.9" fill="#a3202a"/>
<circle cx="176.1" cy="606.7" r="1.9" fill="#a3202a"/>
<circle cx="180.1" cy="606.7" r="1.9" fill="#a3202a"/>
<circle cx="185.8" cy="604.5" r="1.9" fill="#a3202a"/>
<circle cx="190.9" cy="603.7" r="1.9" fill="#a3202a"/>
<circle cx="196" cy="603.7" r="1.9" fill="#a3202a"/>
<circle cx="199.9" cy="602.6" r="1.9" fill="#a3202a"/>
<circle cx="203.7" cy="601.8" r="1.9" fill="#a3202a"/>
<circle cx="207.8" cy="600.6" r="1.9" fill="#a3202a"/>
<circle cx="211.3" cy="600.6" r="1.9" fill="#a3202a"/>
<circle cx="215.5" cy="599.6" r="1.9" fill="#a3202a"/>
<polyline points="38.4,648.2 46.3,647.3 54.1,645.3 62,643.5 69.9,641.2 77.8,638.3 85.6,635.5 89.9,633.8 94.1,632.5 98.3,631.1 102.5,629.6 106.8,628.3 111,627.2 115.2,626.1 119.5,624.8 123.7,623.6 127.9,622.3 132.2,621.4 137.8,617.4 142.7,615.5 147.2,614.1 150.9,612.2 155.3,610.5 159.6,608.3 163.3,605.7 167.1,604.8 171.4,601.8 176.1,599.6 180.1,597.9 185.8,595.6 190.9,594 196,591.3 199.9,589.9 203.7,588.4 207.8,587.2 211.3,585.8 215.5,585" fill="none" stroke="#e8212d" stroke-width="1.0"/>
<line x1="38.4" y1="647.1" x2="38.4" y2="649.4" stroke="#e8212d" stroke-width="0.75"/>
<line x1="36.6" y1="647.1" x2="40.2" y2="647.1" stroke="#e8212d" stroke-width="0.75"/>
<line x1="36.6" y1="649.4" x2="40.2" y2="649.4" stroke="#e8212d" stroke-width="0.75"/>
<line x1="46.3" y1="646.1" x2="46.3" y2="648.5" stroke="#e8212d" stroke-width="0.75"/>
<line x1="44.5" y1="646.1" x2="48.1" y2="646.1" stroke="#e8212d" stroke-width="0.75"/>
<line x1="44.5" y1="648.5" x2="48.1" y2="648.5" stroke="#e8212d" stroke-width="0.75"/>
<line x1="54.1" y1="644.1" x2="54.1" y2="646.5" stroke="#e8212d" stroke-width="0.75"/>
<line x1="52.3" y1="644.1" x2="55.9" y2="644.1" stroke="#e8212d" stroke-width="0.75"/>
<line x1="52.3" y1="646.5" x2="55.9" y2="646.5" stroke="#e8212d" stroke-width="0.75"/>
<line x1="62" y1="642.3" x2="62" y2="644.8" stroke="#e8212d" stroke-width="0.75"/>
<line x1="60.2" y1="642.3" x2="63.8" y2="642.3" stroke="#e8212d" stroke-width="0.75"/>
<line x1="60.2" y1="644.8" x2="63.8" y2="644.8" stroke="#e8212d" stroke-width="0.75"/>
<line x1="69.9" y1="639.9" x2="69.9" y2="642.5" stroke="#e8212d" stroke-width="0.75"/>
<line x1="68.1" y1="639.9" x2="71.7" y2="639.9" stroke="#e8212d" stroke-width="0.75"/>
<line x1="68.1" y1="642.5" x2="71.7" y2="642.5" stroke="#e8212d" stroke-width="0.75"/>
<line x1="77.8" y1="637" x2="77.8" y2="639.6" stroke="#e8212d" stroke-width="0.75"/>
<line x1="76" y1="637" x2="79.5" y2="637" stroke="#e8212d" stroke-width="0.75"/>
<line x1="76" y1="639.6" x2="79.5" y2="639.6" stroke="#e8212d" stroke-width="0.75"/>
<line x1="85.6" y1="634.2" x2="85.6" y2="636.8" stroke="#e8212d" stroke-width="0.75"/>
<line x1="83.8" y1="634.2" x2="87.4" y2="634.2" stroke="#e8212d" stroke-width="0.75"/>
<line x1="83.8" y1="636.8" x2="87.4" y2="636.8" stroke="#e8212d" stroke-width="0.75"/>
<line x1="89.9" y1="632.4" x2="89.9" y2="635.1" stroke="#e8212d" stroke-width="0.75"/>
<line x1="88.1" y1="632.4" x2="91.7" y2="632.4" stroke="#e8212d" stroke-width="0.75"/>
<line x1="88.1" y1="635.1" x2="91.7" y2="635.1" stroke="#e8212d" stroke-width="0.75"/>
<line x1="94.1" y1="631.1" x2="94.1" y2="633.8" stroke="#e8212d" stroke-width="0.75"/>
<line x1="92.3" y1="631.1" x2="95.9" y2="631.1" stroke="#e8212d" stroke-width="0.75"/>
<line x1="92.3" y1="633.8" x2="95.9" y2="633.8" stroke="#e8212d" stroke-width="0.75"/>
<line x1="98.3" y1="629.8" x2="98.3" y2="632.5" stroke="#e8212d" stroke-width="0.75"/>
<line x1="96.5" y1="629.8" x2="100.1" y2="629.8" stroke="#e8212d" stroke-width="0.75"/>
<line x1="96.5" y1="632.5" x2="100.1" y2="632.5" stroke="#e8212d" stroke-width="0.75"/>
<line x1="102.5" y1="628.2" x2="102.5" y2="631" stroke="#e8212d" stroke-width="0.75"/>
<line x1="100.7" y1="628.2" x2="104.3" y2="628.2" stroke="#e8212d" stroke-width="0.75"/>
<line x1="100.7" y1="631" x2="104.3" y2="631" stroke="#e8212d" stroke-width="0.75"/>
<line x1="106.8" y1="626.9" x2="106.8" y2="629.7" stroke="#e8212d" stroke-width="0.75"/>
<line x1="105" y1="626.9" x2="108.6" y2="626.9" stroke="#e8212d" stroke-width="0.75"/>
<line x1="105" y1="629.7" x2="108.6" y2="629.7" stroke="#e8212d" stroke-width="0.75"/>
<line x1="111" y1="625.8" x2="111" y2="628.6" stroke="#e8212d" stroke-width="0.75"/>
<line x1="109.2" y1="625.8" x2="112.8" y2="625.8" stroke="#e8212d" stroke-width="0.75"/>
<line x1="109.2" y1="628.6" x2="112.8" y2="628.6" stroke="#e8212d" stroke-width="0.75"/>
<line x1="115.2" y1="624.7" x2="115.2" y2="627.5" stroke="#e8212d" stroke-width="0.75"/>
<line x1="113.4" y1="624.7" x2="117" y2="624.7" stroke="#e8212d" stroke-width="0.75"/>
<line x1="113.4" y1="627.5" x2="117" y2="627.5" stroke="#e8212d" stroke-width="0.75"/>
<line x1="119.5" y1="623.4" x2="119.5" y2="626.3" stroke="#e8212d" stroke-width="0.75"/>
<line x1="117.7" y1="623.4" x2="121.3" y2="623.4" stroke="#e8212d" stroke-width="0.75"/>
<line x1="117.7" y1="626.3" x2="121.3" y2="626.3" stroke="#e8212d" stroke-width="0.75"/>
<line x1="123.7" y1="622.1" x2="123.7" y2="625" stroke="#e8212d" stroke-width="0.75"/>
<line x1="121.9" y1="622.1" x2="125.5" y2="622.1" stroke="#e8212d" stroke-width="0.75"/>
<line x1="121.9" y1="625" x2="125.5" y2="625" stroke="#e8212d" stroke-width="0.75"/>
<line x1="127.9" y1="620.9" x2="127.9" y2="623.8" stroke="#e8212d" stroke-width="0.75"/>
<line x1="126.1" y1="620.9" x2="129.7" y2="620.9" stroke="#e8212d" stroke-width="0.75"/>
<line x1="126.1" y1="623.8" x2="129.7" y2="623.8" stroke="#e8212d" stroke-width="0.75"/>
<line x1="132.2" y1="619.9" x2="132.2" y2="622.8" stroke="#e8212d" stroke-width="0.75"/>
<line x1="130.4" y1="619.9" x2="134" y2="619.9" stroke="#e8212d" stroke-width="0.75"/>
<line x1="130.4" y1="622.8" x2="134" y2="622.8" stroke="#e8212d" stroke-width="0.75"/>
<line x1="137.8" y1="616" x2="137.8" y2="618.9" stroke="#e8212d" stroke-width="0.75"/>
<line x1="136" y1="616" x2="139.6" y2="616" stroke="#e8212d" stroke-width="0.75"/>
<line x1="136" y1="618.9" x2="139.6" y2="618.9" stroke="#e8212d" stroke-width="0.75"/>
<line x1="142.7" y1="614.1" x2="142.7" y2="617" stroke="#e8212d" stroke-width="0.75"/>
<line x1="140.9" y1="614.1" x2="144.5" y2="614.1" stroke="#e8212d" stroke-width="0.75"/>
<line x1="140.9" y1="617" x2="144.5" y2="617" stroke="#e8212d" stroke-width="0.75"/>
<line x1="147.2" y1="612.6" x2="147.2" y2="615.5" stroke="#e8212d" stroke-width="0.75"/>
<line x1="145.4" y1="612.6" x2="149" y2="612.6" stroke="#e8212d" stroke-width="0.75"/>
<line x1="145.4" y1="615.5" x2="149" y2="615.5" stroke="#e8212d" stroke-width="0.75"/>
<line x1="150.9" y1="610.7" x2="150.9" y2="613.6" stroke="#e8212d" stroke-width="0.75"/>
<line x1="149.1" y1="610.7" x2="152.7" y2="610.7" stroke="#e8212d" stroke-width="0.75"/>
<line x1="149.1" y1="613.6" x2="152.7" y2="613.6" stroke="#e8212d" stroke-width="0.75"/>
<line x1="155.3" y1="609.1" x2="155.3" y2="612" stroke="#e8212d" stroke-width="0.75"/>
<line x1="153.5" y1="609.1" x2="157.1" y2="609.1" stroke="#e8212d" stroke-width="0.75"/>
<line x1="153.5" y1="612" x2="157.1" y2="612" stroke="#e8212d" stroke-width="0.75"/>
<line x1="159.6" y1="606.9" x2="159.6" y2="609.8" stroke="#e8212d" stroke-width="0.75"/>
<line x1="157.8" y1="606.9" x2="161.4" y2="606.9" stroke="#e8212d" stroke-width="0.75"/>
<line x1="157.8" y1="609.8" x2="161.4" y2="609.8" stroke="#e8212d" stroke-width="0.75"/>
<line x1="163.3" y1="604.2" x2="163.3" y2="607.2" stroke="#e8212d" stroke-width="0.75"/>
<line x1="161.5" y1="604.2" x2="165.1" y2="604.2" stroke="#e8212d" stroke-width="0.75"/>
<line x1="161.5" y1="607.2" x2="165.1" y2="607.2" stroke="#e8212d" stroke-width="0.75"/>
<line x1="167.1" y1="603.4" x2="167.1" y2="606.3" stroke="#e8212d" stroke-width="0.75"/>
<line x1="165.3" y1="603.4" x2="168.9" y2="603.4" stroke="#e8212d" stroke-width="0.75"/>
<line x1="165.3" y1="606.3" x2="168.9" y2="606.3" stroke="#e8212d" stroke-width="0.75"/>
<line x1="171.4" y1="600.3" x2="171.4" y2="603.2" stroke="#e8212d" stroke-width="0.75"/>
<line x1="169.6" y1="600.3" x2="173.2" y2="600.3" stroke="#e8212d" stroke-width="0.75"/>
<line x1="169.6" y1="603.2" x2="173.2" y2="603.2" stroke="#e8212d" stroke-width="0.75"/>
<line x1="176.1" y1="598.1" x2="176.1" y2="601" stroke="#e8212d" stroke-width="0.75"/>
<line x1="174.3" y1="598.1" x2="177.9" y2="598.1" stroke="#e8212d" stroke-width="0.75"/>
<line x1="174.3" y1="601" x2="177.9" y2="601" stroke="#e8212d" stroke-width="0.75"/>
<line x1="180.1" y1="596.5" x2="180.1" y2="599.4" stroke="#e8212d" stroke-width="0.75"/>
<line x1="178.3" y1="596.5" x2="181.9" y2="596.5" stroke="#e8212d" stroke-width="0.75"/>
<line x1="178.3" y1="599.4" x2="181.9" y2="599.4" stroke="#e8212d" stroke-width="0.75"/>
<line x1="185.8" y1="594.1" x2="185.8" y2="597.1" stroke="#e8212d" stroke-width="0.75"/>
<line x1="184" y1="594.1" x2="187.6" y2="594.1" stroke="#e8212d" stroke-width="0.75"/>
<line x1="184" y1="597.1" x2="187.6" y2="597.1" stroke="#e8212d" stroke-width="0.75"/>
<line x1="190.9" y1="592.5" x2="190.9" y2="595.4" stroke="#e8212d" stroke-width="0.75"/>
<line x1="189.1" y1="592.5" x2="192.7" y2="592.5" stroke="#e8212d" stroke-width="0.75"/>
<line x1="189.1" y1="595.4" x2="192.7" y2="595.4" stroke="#e8212d" stroke-width="0.75"/>
<line x1="196" y1="589.9" x2="196" y2="592.8" stroke="#e8212d" stroke-width="0.75"/>
<line x1="194.2" y1="589.9" x2="197.8" y2="589.9" stroke="#e8212d" stroke-width="0.75"/>
<line x1="194.2" y1="592.8" x2="197.8" y2="592.8" stroke="#e8212d" stroke-width="0.75"/>
<line x1="199.9" y1="588.4" x2="199.9" y2="591.3" stroke="#e8212d" stroke-width="0.75"/>
<line x1="198.1" y1="588.4" x2="201.7" y2="588.4" stroke="#e8212d" stroke-width="0.75"/>
<line x1="198.1" y1="591.3" x2="201.7" y2="591.3" stroke="#e8212d" stroke-width="0.75"/>
<line x1="203.7" y1="586.9" x2="203.7" y2="589.9" stroke="#e8212d" stroke-width="0.75"/>
<line x1="201.9" y1="586.9" x2="205.5" y2="586.9" stroke="#e8212d" stroke-width="0.75"/>
<line x1="201.9" y1="589.9" x2="205.5" y2="589.9" stroke="#e8212d" stroke-width="0.75"/>
<line x1="207.8" y1="585.8" x2="207.8" y2="588.7" stroke="#e8212d" stroke-width="0.75"/>
<line x1="206" y1="585.8" x2="209.6" y2="585.8" stroke="#e8212d" stroke-width="0.75"/>
<line x1="206" y1="588.7" x2="209.6" y2="588.7" stroke="#e8212d" stroke-width="0.75"/>
<line x1="211.3" y1="584.3" x2="211.3" y2="587.2" stroke="#e8212d" stroke-width="0.75"/>
<line x1="209.5" y1="584.3" x2="213.1" y2="584.3" stroke="#e8212d" stroke-width="0.75"/>
<line x1="209.5" y1="587.2" x2="213.1" y2="587.2" stroke="#e8212d" stroke-width="0.75"/>
<line x1="215.5" y1="583.6" x2="215.5" y2="586.5" stroke="#e8212d" stroke-width="0.75"/>
<line x1="213.7" y1="583.6" x2="217.3" y2="583.6" stroke="#e8212d" stroke-width="0.75"/>
<line x1="213.7" y1="586.5" x2="217.3" y2="586.5" stroke="#e8212d" stroke-width="0.75"/>
<circle cx="38.4" cy="648.2" r="1.9" fill="#e8212d"/>
<circle cx="46.3" cy="647.3" r="1.9" fill="#e8212d"/>
<circle cx="54.1" cy="645.3" r="1.9" fill="#e8212d"/>
<circle cx="62" cy="643.5" r="1.9" fill="#e8212d"/>
<circle cx="69.9" cy="641.2" r="1.9" fill="#e8212d"/>
<circle cx="77.8" cy="638.3" r="1.9" fill="#e8212d"/>
<circle cx="85.6" cy="635.5" r="1.9" fill="#e8212d"/>
<circle cx="89.9" cy="633.8" r="1.9" fill="#e8212d"/>
<circle cx="94.1" cy="632.5" r="1.9" fill="#e8212d"/>
<circle cx="98.3" cy="631.1" r="1.9" fill="#e8212d"/>
<circle cx="102.5" cy="629.6" r="1.9" fill="#e8212d"/>
<circle cx="106.8" cy="628.3" r="1.9" fill="#e8212d"/>
<circle cx="111" cy="627.2" r="1.9" fill="#e8212d"/>
<circle cx="115.2" cy="626.1" r="1.9" fill="#e8212d"/>
<circle cx="119.5" cy="624.8" r="1.9" fill="#e8212d"/>
<circle cx="123.7" cy="623.6" r="1.9" fill="#e8212d"/>
<circle cx="127.9" cy="622.3" r="1.9" fill="#e8212d"/>
<circle cx="132.2" cy="621.4" r="1.9" fill="#e8212d"/>
<circle cx="137.8" cy="617.4" r="1.9" fill="#e8212d"/>
<circle cx="142.7" cy="615.5" r="1.9" fill="#e8212d"/>
<circle cx="147.2" cy="614.1" r="1.9" fill="#e8212d"/>
<circle cx="150.9" cy="612.2" r="1.9" fill="#e8212d"/>
<circle cx="155.3" cy="610.5" r="1.9" fill="#e8212d"/>
<circle cx="159.6" cy="608.3" r="1.9" fill="#e8212d"/>
<circle cx="163.3" cy="605.7" r="1.9" fill="#e8212d"/>
<circle cx="167.1" cy="604.8" r="1.9" fill="#e8212d"/>
<circle cx="171.4" cy="601.8" r="1.9" fill="#e8212d"/>
<circle cx="176.1" cy="599.6" r="1.9" fill="#e8212d"/>
<circle cx="180.1" cy="597.9" r="1.9" fill="#e8212d"/>
<circle cx="185.8" cy="595.6" r="1.9" fill="#e8212d"/>
<circle cx="190.9" cy="594" r="1.9" fill="#e8212d"/>
<circle cx="196" cy="591.3" r="1.9" fill="#e8212d"/>
<circle cx="199.9" cy="589.9" r="1.9" fill="#e8212d"/>
<circle cx="203.7" cy="588.4" r="1.9" fill="#e8212d"/>
<circle cx="207.8" cy="587.2" r="1.9" fill="#e8212d"/>
<circle cx="211.3" cy="585.8" r="1.9" fill="#e8212d"/>
<circle cx="215.5" cy="585" r="1.9" fill="#e8212d"/>
<polyline points="38.4,638.7 46.3,637.7 54.1,633.6 62,630.6 69.9,626.7 77.8,623.4 85.6,619.6 89.9,617.1 94.1,615.2 98.3,613.2 102.5,610.9 106.8,609 111,607 115.2,604.9 119.5,602.5 123.7,600.4 127.9,596.8 132.2,595.2 137.8,595 142.7,593 147.2,589.4 150.9,588.4 155.3,585.3 159.6,584.2 163.3,580.6 167.1,580.6 171.4,578.1 176.1,575.4 180.1,574.6 185.8,571.6 190.9,570.4 196,568 199.9,566.4 203.7,565.4 207.8,562.8 211.3,561.7 215.5,560" fill="none" stroke="#111111" stroke-width="1.0"/>
<line x1="38.4" y1="636.5" x2="38.4" y2="640.9" stroke="#111111" stroke-width="0.75"/>
<line x1="36.6" y1="636.5" x2="40.2" y2="636.5" stroke="#111111" stroke-width="0.75"/>
<line x1="36.6" y1="640.9" x2="40.2" y2="640.9" stroke="#111111" stroke-width="0.75"/>
<line x1="46.3" y1="635.4" x2="46.3" y2="639.9" stroke="#111111" stroke-width="0.75"/>
<line x1="44.5" y1="635.4" x2="48.1" y2="635.4" stroke="#111111" stroke-width="0.75"/>
<line x1="44.5" y1="639.9" x2="48.1" y2="639.9" stroke="#111111" stroke-width="0.75"/>
<line x1="54.1" y1="631.3" x2="54.1" y2="635.8" stroke="#111111" stroke-width="0.75"/>
<line x1="52.3" y1="631.3" x2="55.9" y2="631.3" stroke="#111111" stroke-width="0.75"/>
<line x1="52.3" y1="635.8" x2="55.9" y2="635.8" stroke="#111111" stroke-width="0.75"/>
<line x1="62" y1="628.3" x2="62" y2="632.9" stroke="#111111" stroke-width="0.75"/>
<line x1="60.2" y1="628.3" x2="63.8" y2="628.3" stroke="#111111" stroke-width="0.75"/>
<line x1="60.2" y1="632.9" x2="63.8" y2="632.9" stroke="#111111" stroke-width="0.75"/>
<line x1="69.9" y1="624.3" x2="69.9" y2="629" stroke="#111111" stroke-width="0.75"/>
<line x1="68.1" y1="624.3" x2="71.7" y2="624.3" stroke="#111111" stroke-width="0.75"/>
<line x1="68.1" y1="629" x2="71.7" y2="629" stroke="#111111" stroke-width="0.75"/>
<line x1="77.8" y1="621.1" x2="77.8" y2="625.8" stroke="#111111" stroke-width="0.75"/>
<line x1="76" y1="621.1" x2="79.5" y2="621.1" stroke="#111111" stroke-width="0.75"/>
<line x1="76" y1="625.8" x2="79.5" y2="625.8" stroke="#111111" stroke-width="0.75"/>
<line x1="85.6" y1="617.2" x2="85.6" y2="622.1" stroke="#111111" stroke-width="0.75"/>
<line x1="83.8" y1="617.2" x2="87.4" y2="617.2" stroke="#111111" stroke-width="0.75"/>
<line x1="83.8" y1="622.1" x2="87.4" y2="622.1" stroke="#111111" stroke-width="0.75"/>
<line x1="89.9" y1="614.7" x2="89.9" y2="619.6" stroke="#111111" stroke-width="0.75"/>
<line x1="88.1" y1="614.7" x2="91.7" y2="614.7" stroke="#111111" stroke-width="0.75"/>
<line x1="88.1" y1="619.6" x2="91.7" y2="619.6" stroke="#111111" stroke-width="0.75"/>
<line x1="94.1" y1="612.7" x2="94.1" y2="617.6" stroke="#111111" stroke-width="0.75"/>
<line x1="92.3" y1="612.7" x2="95.9" y2="612.7" stroke="#111111" stroke-width="0.75"/>
<line x1="92.3" y1="617.6" x2="95.9" y2="617.6" stroke="#111111" stroke-width="0.75"/>
<line x1="98.3" y1="610.7" x2="98.3" y2="615.6" stroke="#111111" stroke-width="0.75"/>
<line x1="96.5" y1="610.7" x2="100.1" y2="610.7" stroke="#111111" stroke-width="0.75"/>
<line x1="96.5" y1="615.6" x2="100.1" y2="615.6" stroke="#111111" stroke-width="0.75"/>
<line x1="102.5" y1="608.4" x2="102.5" y2="613.4" stroke="#111111" stroke-width="0.75"/>
<line x1="100.7" y1="608.4" x2="104.3" y2="608.4" stroke="#111111" stroke-width="0.75"/>
<line x1="100.7" y1="613.4" x2="104.3" y2="613.4" stroke="#111111" stroke-width="0.75"/>
<line x1="106.8" y1="606.4" x2="106.8" y2="611.5" stroke="#111111" stroke-width="0.75"/>
<line x1="105" y1="606.4" x2="108.6" y2="606.4" stroke="#111111" stroke-width="0.75"/>
<line x1="105" y1="611.5" x2="108.6" y2="611.5" stroke="#111111" stroke-width="0.75"/>
<line x1="111" y1="604.4" x2="111" y2="609.5" stroke="#111111" stroke-width="0.75"/>
<line x1="109.2" y1="604.4" x2="112.8" y2="604.4" stroke="#111111" stroke-width="0.75"/>
<line x1="109.2" y1="609.5" x2="112.8" y2="609.5" stroke="#111111" stroke-width="0.75"/>
<line x1="115.2" y1="602.4" x2="115.2" y2="607.5" stroke="#111111" stroke-width="0.75"/>
<line x1="113.4" y1="602.4" x2="117" y2="602.4" stroke="#111111" stroke-width="0.75"/>
<line x1="113.4" y1="607.5" x2="117" y2="607.5" stroke="#111111" stroke-width="0.75"/>
<line x1="119.5" y1="599.9" x2="119.5" y2="605" stroke="#111111" stroke-width="0.75"/>
<line x1="117.7" y1="599.9" x2="121.3" y2="599.9" stroke="#111111" stroke-width="0.75"/>
<line x1="117.7" y1="605" x2="121.3" y2="605" stroke="#111111" stroke-width="0.75"/>
<line x1="123.7" y1="597.8" x2="123.7" y2="602.9" stroke="#111111" stroke-width="0.75"/>
<line x1="121.9" y1="597.8" x2="125.5" y2="597.8" stroke="#111111" stroke-width="0.75"/>
<line x1="121.9" y1="602.9" x2="125.5" y2="602.9" stroke="#111111" stroke-width="0.75"/>
<line x1="127.9" y1="594.2" x2="127.9" y2="599.4" stroke="#111111" stroke-width="0.75"/>
<line x1="126.1" y1="594.2" x2="129.7" y2="594.2" stroke="#111111" stroke-width="0.75"/>
<line x1="126.1" y1="599.4" x2="129.7" y2="599.4" stroke="#111111" stroke-width="0.75"/>
<line x1="132.2" y1="592.5" x2="132.2" y2="597.8" stroke="#111111" stroke-width="0.75"/>
<line x1="130.4" y1="592.5" x2="134" y2="592.5" stroke="#111111" stroke-width="0.75"/>
<line x1="130.4" y1="597.8" x2="134" y2="597.8" stroke="#111111" stroke-width="0.75"/>
<line x1="137.8" y1="592.1" x2="137.8" y2="597.9" stroke="#111111" stroke-width="0.75"/>
<line x1="136" y1="592.1" x2="139.6" y2="592.1" stroke="#111111" stroke-width="0.75"/>
<line x1="136" y1="597.9" x2="139.6" y2="597.9" stroke="#111111" stroke-width="0.75"/>
<line x1="142.7" y1="590.1" x2="142.7" y2="595.8" stroke="#111111" stroke-width="0.75"/>
<line x1="140.9" y1="590.1" x2="144.5" y2="590.1" stroke="#111111" stroke-width="0.75"/>
<line x1="140.9" y1="595.8" x2="144.5" y2="595.8" stroke="#111111" stroke-width="0.75"/>
<line x1="147.2" y1="586.6" x2="147.2" y2="592.3" stroke="#111111" stroke-width="0.75"/>
<line x1="145.4" y1="586.6" x2="149" y2="586.6" stroke="#111111" stroke-width="0.75"/>
<line x1="145.4" y1="592.3" x2="149" y2="592.3" stroke="#111111" stroke-width="0.75"/>
<line x1="150.9" y1="585.6" x2="150.9" y2="591.2" stroke="#111111" stroke-width="0.75"/>
<line x1="149.1" y1="585.6" x2="152.7" y2="585.6" stroke="#111111" stroke-width="0.75"/>
<line x1="149.1" y1="591.2" x2="152.7" y2="591.2" stroke="#111111" stroke-width="0.75"/>
<line x1="155.3" y1="582.6" x2="155.3" y2="588.1" stroke="#111111" stroke-width="0.75"/>
<line x1="153.5" y1="582.6" x2="157.1" y2="582.6" stroke="#111111" stroke-width="0.75"/>
<line x1="153.5" y1="588.1" x2="157.1" y2="588.1" stroke="#111111" stroke-width="0.75"/>
<line x1="159.6" y1="581.4" x2="159.6" y2="586.9" stroke="#111111" stroke-width="0.75"/>
<line x1="157.8" y1="581.4" x2="161.4" y2="581.4" stroke="#111111" stroke-width="0.75"/>
<line x1="157.8" y1="586.9" x2="161.4" y2="586.9" stroke="#111111" stroke-width="0.75"/>
<line x1="163.3" y1="578" x2="163.3" y2="583.3" stroke="#111111" stroke-width="0.75"/>
<line x1="161.5" y1="578" x2="165.1" y2="578" stroke="#111111" stroke-width="0.75"/>
<line x1="161.5" y1="583.3" x2="165.1" y2="583.3" stroke="#111111" stroke-width="0.75"/>
<line x1="167.1" y1="578" x2="167.1" y2="583.3" stroke="#111111" stroke-width="0.75"/>
<line x1="165.3" y1="578" x2="168.9" y2="578" stroke="#111111" stroke-width="0.75"/>
<line x1="165.3" y1="583.3" x2="168.9" y2="583.3" stroke="#111111" stroke-width="0.75"/>
<line x1="171.4" y1="575.5" x2="171.4" y2="580.8" stroke="#111111" stroke-width="0.75"/>
<line x1="169.6" y1="575.5" x2="173.2" y2="575.5" stroke="#111111" stroke-width="0.75"/>
<line x1="169.6" y1="580.8" x2="173.2" y2="580.8" stroke="#111111" stroke-width="0.75"/>
<line x1="176.1" y1="572.8" x2="176.1" y2="577.9" stroke="#111111" stroke-width="0.75"/>
<line x1="174.3" y1="572.8" x2="177.9" y2="572.8" stroke="#111111" stroke-width="0.75"/>
<line x1="174.3" y1="577.9" x2="177.9" y2="577.9" stroke="#111111" stroke-width="0.75"/>
<line x1="180.1" y1="572.1" x2="180.1" y2="577.2" stroke="#111111" stroke-width="0.75"/>
<line x1="178.3" y1="572.1" x2="181.9" y2="572.1" stroke="#111111" stroke-width="0.75"/>
<line x1="178.3" y1="577.2" x2="181.9" y2="577.2" stroke="#111111" stroke-width="0.75"/>
<line x1="185.8" y1="569.1" x2="185.8" y2="574" stroke="#111111" stroke-width="0.75"/>
<line x1="184" y1="569.1" x2="187.6" y2="569.1" stroke="#111111" stroke-width="0.75"/>
<line x1="184" y1="574" x2="187.6" y2="574" stroke="#111111" stroke-width="0.75"/>
<line x1="190.9" y1="568" x2="190.9" y2="572.8" stroke="#111111" stroke-width="0.75"/>
<line x1="189.1" y1="568" x2="192.7" y2="568" stroke="#111111" stroke-width="0.75"/>
<line x1="189.1" y1="572.8" x2="192.7" y2="572.8" stroke="#111111" stroke-width="0.75"/>
<line x1="196" y1="565.7" x2="196" y2="570.4" stroke="#111111" stroke-width="0.75"/>
<line x1="194.2" y1="565.7" x2="197.8" y2="565.7" stroke="#111111" stroke-width="0.75"/>
<line x1="194.2" y1="570.4" x2="197.8" y2="570.4" stroke="#111111" stroke-width="0.75"/>
<line x1="199.9" y1="564.1" x2="199.9" y2="568.8" stroke="#111111" stroke-width="0.75"/>
<line x1="198.1" y1="564.1" x2="201.7" y2="564.1" stroke="#111111" stroke-width="0.75"/>
<line x1="198.1" y1="568.8" x2="201.7" y2="568.8" stroke="#111111" stroke-width="0.75"/>
<line x1="203.7" y1="563.1" x2="203.7" y2="567.7" stroke="#111111" stroke-width="0.75"/>
<line x1="201.9" y1="563.1" x2="205.5" y2="563.1" stroke="#111111" stroke-width="0.75"/>
<line x1="201.9" y1="567.7" x2="205.5" y2="567.7" stroke="#111111" stroke-width="0.75"/>
<line x1="207.8" y1="560.5" x2="207.8" y2="565" stroke="#111111" stroke-width="0.75"/>
<line x1="206" y1="560.5" x2="209.6" y2="560.5" stroke="#111111" stroke-width="0.75"/>
<line x1="206" y1="565" x2="209.6" y2="565" stroke="#111111" stroke-width="0.75"/>
<line x1="211.3" y1="559.5" x2="211.3" y2="564" stroke="#111111" stroke-width="0.75"/>
<line x1="209.5" y1="559.5" x2="213.1" y2="559.5" stroke="#111111" stroke-width="0.75"/>
<line x1="209.5" y1="564" x2="213.1" y2="564" stroke="#111111" stroke-width="0.75"/>
<line x1="215.5" y1="557.8" x2="215.5" y2="562.2" stroke="#111111" stroke-width="0.75"/>
<line x1="213.7" y1="557.8" x2="217.3" y2="557.8" stroke="#111111" stroke-width="0.75"/>
<line x1="213.7" y1="562.2" x2="217.3" y2="562.2" stroke="#111111" stroke-width="0.75"/>
<circle cx="38.4" cy="638.7" r="2" fill="#111111"/>
<circle cx="46.3" cy="637.7" r="2" fill="#111111"/>
<circle cx="54.1" cy="633.6" r="2" fill="#111111"/>
<circle cx="62" cy="630.6" r="2" fill="#111111"/>
<circle cx="69.9" cy="626.7" r="2" fill="#111111"/>
<circle cx="77.8" cy="623.4" r="2" fill="#111111"/>
<circle cx="85.6" cy="619.6" r="2" fill="#111111"/>
<circle cx="89.9" cy="617.1" r="2" fill="#111111"/>
<circle cx="94.1" cy="615.2" r="2" fill="#111111"/>
<circle cx="98.3" cy="613.2" r="2" fill="#111111"/>
<circle cx="102.5" cy="610.9" r="2" fill="#111111"/>
<circle cx="106.8" cy="609" r="2" fill="#111111"/>
<circle cx="111" cy="607" r="2" fill="#111111"/>
<circle cx="115.2" cy="604.9" r="2" fill="#111111"/>
<circle cx="119.5" cy="602.5" r="2" fill="#111111"/>
<circle cx="123.7" cy="600.4" r="2" fill="#111111"/>
<circle cx="127.9" cy="596.8" r="2" fill="#111111"/>
<circle cx="132.2" cy="595.2" r="2" fill="#111111"/>
<circle cx="137.8" cy="595" r="2" fill="#111111"/>
<circle cx="142.7" cy="593" r="2" fill="#111111"/>
<circle cx="147.2" cy="589.4" r="2" fill="#111111"/>
<circle cx="150.9" cy="588.4" r="2" fill="#111111"/>
<circle cx="155.3" cy="585.3" r="2" fill="#111111"/>
<circle cx="159.6" cy="584.2" r="2" fill="#111111"/>
<circle cx="163.3" cy="580.6" r="2" fill="#111111"/>
<circle cx="167.1" cy="580.6" r="2" fill="#111111"/>
<circle cx="171.4" cy="578.1" r="2" fill="#111111"/>
<circle cx="176.1" cy="575.4" r="2" fill="#111111"/>
<circle cx="180.1" cy="574.6" r="2" fill="#111111"/>
<circle cx="185.8" cy="571.6" r="2" fill="#111111"/>
<circle cx="190.9" cy="570.4" r="2" fill="#111111"/>
<circle cx="196" cy="568" r="2" fill="#111111"/>
<circle cx="199.9" cy="566.4" r="2" fill="#111111"/>
<circle cx="203.7" cy="565.4" r="2" fill="#111111"/>
<circle cx="207.8" cy="562.8" r="2" fill="#111111"/>
<circle cx="211.3" cy="561.7" r="2" fill="#111111"/>
<circle cx="215.5" cy="560" r="2" fill="#111111"/>
<text x="218.6" y="583.8" font-size="12.7" text-anchor="middle" font-weight="bold" fill="#1a1a1a">****</text>
<text x="218.6" y="598.4" font-size="12.7" text-anchor="middle" font-weight="bold" fill="#1a1a1a">****</text>
<text x="218.6" y="662.1" font-size="12.7" text-anchor="middle" font-weight="bold" fill="#1a1a1a">****</text>
<line x1="224" y1="516.3" x2="237.8" y2="516.3" stroke="#111111" stroke-width="0.9"/>
<circle cx="231" cy="516.3" r="1.6" fill="#111111"/>
<text x="242.1" y="519.3" font-size="8.35" fill="#1a1a1a" stroke="#1a1a1a" stroke-width="0.16">Control</text>
<line x1="224" y1="523.7" x2="237.8" y2="523.7" stroke="#e8212d" stroke-width="0.9"/>
<circle cx="231" cy="523.7" r="1.6" fill="#e8212d"/>
<text x="242.1" y="526.7" font-size="8.35" fill="#1a1a1a" stroke="#1a1a1a" stroke-width="0.16">KU55933</text>
<line x1="224" y1="532.2" x2="237.8" y2="532.2" stroke="#a3202a" stroke-width="0.9"/>
<circle cx="231" cy="532.2" r="1.6" fill="#a3202a"/>
<text x="242.1" y="535.2" font-size="8.35" fill="#1a1a1a" stroke="#1a1a1a" stroke-width="0.16">KU60019</text>
<line x1="224" y1="540.4" x2="237.8" y2="540.4" stroke="#f4982b" stroke-width="0.9"/>
<circle cx="231" cy="540.4" r="1.6" fill="#f4982b"/>
<text x="242.1" y="543.4" font-size="8.35" fill="#1a1a1a" stroke="#1a1a1a" stroke-width="0.16">Erastin</text>
<text x="290.5" y="360.6" font-size="15" font-weight="bold" fill="#111">E</text>
<line x1="342" y1="380.1" x2="342" y2="500.8" stroke="#1a1a1a" stroke-width="1.2"/>
<line x1="336.9" y1="500.8" x2="342" y2="500.8" stroke="#1a1a1a" stroke-width="1.05"/>
<text x="335.8" y="503.7" font-size="8.3" text-anchor="end" fill="#1a1a1a" stroke="#1a1a1a" stroke-width="0.16">0.0</text>
<line x1="336.9" y1="460.7" x2="342" y2="460.7" stroke="#1a1a1a" stroke-width="1.05"/>
<text x="335.8" y="463.6" font-size="8.3" text-anchor="end" fill="#1a1a1a" stroke="#1a1a1a" stroke-width="0.16">0.5</text>
<line x1="336.9" y1="420.6" x2="342" y2="420.6" stroke="#1a1a1a" stroke-width="1.05"/>
<text x="335.8" y="423.5" font-size="8.3" text-anchor="end" fill="#1a1a1a" stroke="#1a1a1a" stroke-width="0.16">1.0</text>
<line x1="336.9" y1="380.5" x2="342" y2="380.5" stroke="#1a1a1a" stroke-width="1.05"/>
<text x="335.8" y="383.4" font-size="8.3" text-anchor="end" fill="#1a1a1a" stroke="#1a1a1a" stroke-width="0.16">1.5</text>
<line x1="342" y1="500.8" x2="464.8" y2="500.8" stroke="#1a1a1a" stroke-width="1.2"/>
<line x1="371.6" y1="500.8" x2="371.6" y2="505.6" stroke="#1a1a1a" stroke-width="1.05"/>
<line x1="435.2" y1="500.8" x2="435.2" y2="505.6" stroke="#1a1a1a" stroke-width="1.05"/>
<text x="373.8" y="516.2" font-size="8.6" text-anchor="middle" fill="#1a1a1a" stroke="#1a1a1a" stroke-width="0.16">Alpha Cl9</text>
<text x="438.6" y="516.2" font-size="8.6" text-anchor="middle" fill="#1a1a1a" stroke="#1a1a1a" stroke-width="0.16">Beta TC6</text>
<text x="0" y="0" font-size="8.45" text-anchor="middle" fill="#1a1a1a" stroke="#1a1a1a" stroke-width="0.16" transform="translate(311.6 445.2) rotate(-90)">Intracellular GSH</text>
<text x="0" y="0" font-size="8.45" text-anchor="middle" fill="#1a1a1a" stroke="#1a1a1a" stroke-width="0.16" transform="translate(320.9 444.8) rotate(-90)">(Relative values)</text>
<rect x="349.1" y="421.2" width="8.9" height="79.6" fill="#fff" stroke="#1a1a1a" stroke-width="1.25"/>
<rect x="366.4" y="479.8" width="9.4" height="21" fill="#fff" stroke="#e8212d" stroke-width="1.25"/>
<rect x="384.4" y="440.5" width="9.3" height="60.3" fill="#fff" stroke="#a3202a" stroke-width="1.25"/>
<rect x="413.7" y="422.4" width="8.9" height="78.4" fill="#fff" stroke="#1a1a1a" stroke-width="1.25"/>
<rect x="431.1" y="445.7" width="9.1" height="55.1" fill="#fff" stroke="#e8212d" stroke-width="1.25"/>
<rect x="448.7" y="429.6" width="9.3" height="71.2" fill="#fff" stroke="#a3202a" stroke-width="1.25"/>
<line x1="371.5" y1="467.1" x2="371.5" y2="492.8" stroke="#e8212d" stroke-width="0.9"/>
<line x1="368.5" y1="467.1" x2="374.5" y2="467.1" stroke="#e8212d" stroke-width="0.9"/>
<line x1="368.5" y1="492.8" x2="374.5" y2="492.8" stroke="#e8212d" stroke-width="0.9"/>
<line x1="389.1" y1="431" x2="389.1" y2="446.3" stroke="#a3202a" stroke-width="0.9"/>
<line x1="386.1" y1="431" x2="392.1" y2="431" stroke="#a3202a" stroke-width="0.9"/>
<line x1="386.1" y1="446.3" x2="392.1" y2="446.3" stroke="#a3202a" stroke-width="0.9"/>
<line x1="453.4" y1="424.6" x2="453.4" y2="431.8" stroke="#a3202a" stroke-width="0.9"/>
<line x1="450.4" y1="424.6" x2="456.4" y2="424.6" stroke="#a3202a" stroke-width="0.9"/>
<line x1="450.4" y1="431.8" x2="456.4" y2="431.8" stroke="#a3202a" stroke-width="0.9"/>
<line x1="353.6" y1="418.2" x2="353.6" y2="423" stroke="#1a1a1a" stroke-width="0.9"/>
<line x1="350.6" y1="418.2" x2="356.6" y2="418.2" stroke="#1a1a1a" stroke-width="0.9"/>
<line x1="350.6" y1="423" x2="356.6" y2="423" stroke="#1a1a1a" stroke-width="0.9"/>
<line x1="418.2" y1="419.8" x2="418.2" y2="423.8" stroke="#1a1a1a" stroke-width="0.9"/>
<line x1="415.2" y1="419.8" x2="421.2" y2="419.8" stroke="#1a1a1a" stroke-width="0.9"/>
<line x1="415.2" y1="423.8" x2="421.2" y2="423.8" stroke="#1a1a1a" stroke-width="0.9"/>
<circle cx="350" cy="419" r="1.9" fill="#1a1a1a"/>
<circle cx="353" cy="418.2" r="1.9" fill="#1a1a1a"/>
<circle cx="356" cy="419" r="1.9" fill="#1a1a1a"/>
<circle cx="357.5" cy="420.6" r="1.9" fill="#1a1a1a"/>
<circle cx="350.5" cy="421.4" r="1.9" fill="#1a1a1a"/>
<circle cx="354" cy="421.4" r="1.9" fill="#1a1a1a"/>
<circle cx="357" cy="422.6" r="1.9" fill="#1a1a1a"/>
<circle cx="351" cy="423" r="1.9" fill="#1a1a1a"/>
<circle cx="355" cy="423" r="1.9" fill="#1a1a1a"/>
<circle cx="367.3" cy="465.4" r="1.9" fill="#e8212d"/>
<circle cx="375" cy="464.4" r="1.9" fill="#e8212d"/>
<circle cx="371.6" cy="467.7" r="1.9" fill="#e8212d"/>
<circle cx="371.4" cy="474.2" r="1.9" fill="#e8212d"/>
<circle cx="366.4" cy="491.2" r="1.9" fill="#e8212d"/>
<circle cx="371.4" cy="492.6" r="1.9" fill="#e8212d"/>
<circle cx="376" cy="491.6" r="1.9" fill="#e8212d"/>
<circle cx="369.9" cy="487.5" r="1.9" fill="#e8212d"/>
<circle cx="389.3" cy="430.3" r="1.9" fill="#a3202a"/>
<circle cx="390.4" cy="435.4" r="1.9" fill="#a3202a"/>
<circle cx="385.2" cy="440.5" r="1.9" fill="#a3202a"/>
<circle cx="384.6" cy="445.6" r="1.9" fill="#a3202a"/>
<circle cx="393.4" cy="444.6" r="1.9" fill="#a3202a"/>
<circle cx="414.5" cy="420.6" r="1.9" fill="#1a1a1a"/>
<circle cx="417.5" cy="421.4" r="1.9" fill="#1a1a1a"/>
<circle cx="421" cy="421.8" r="1.9" fill="#1a1a1a"/>
<circle cx="419" cy="422.6" r="1.9" fill="#1a1a1a"/>
<circle cx="432.5" cy="444.7" r="1.9" fill="#e8212d"/>
<circle cx="435.5" cy="443.9" r="1.9" fill="#e8212d"/>
<circle cx="438.5" cy="444.7" r="1.9" fill="#e8212d"/>
<circle cx="434" cy="445.5" r="1.9" fill="#e8212d"/>
<circle cx="450" cy="425.8" r="1.9" fill="#a3202a"/>
<circle cx="456.5" cy="425" r="1.9" fill="#a3202a"/>
<circle cx="450.5" cy="429.8" r="1.9" fill="#a3202a"/>
<circle cx="456" cy="430.2" r="1.9" fill="#a3202a"/>
<text x="371.6" y="459.4" font-size="12.5" text-anchor="middle" font-weight="bold" fill="#1a1a1a">****</text>
<text x="388.9" y="425.4" font-size="12.5" text-anchor="middle" font-weight="bold" fill="#1a1a1a">***</text>
<text x="437.2" y="438.3" font-size="12.5" text-anchor="middle" font-weight="bold" fill="#1a1a1a">***</text>
<circle cx="462.2" cy="383.7" r="1.6" fill="#1a1a1a"/>
<text x="467.9" y="386.6" font-size="7.95" fill="#1a1a1a" stroke="#1a1a1a" stroke-width="0.16">Control</text>
<circle cx="462.2" cy="392.5" r="1.6" fill="#e8212d"/>
<text x="467.9" y="395.4" font-size="7.95" fill="#1a1a1a" stroke="#1a1a1a" stroke-width="0.16">KU55933</text>
<circle cx="462.2" cy="402.1" r="1.6" fill="#a3202a"/>
<text x="467.9" y="405" font-size="7.95" fill="#1a1a1a" stroke="#1a1a1a" stroke-width="0.16">KU60019</text>
<text x="514.8" y="360.4" font-size="15" font-weight="bold" fill="#111">F</text>
<line x1="562.6" y1="386.5" x2="562.6" y2="501.3" stroke="#1a1a1a" stroke-width="1.2"/>
<line x1="557.8" y1="501.3" x2="562.6" y2="501.3" stroke="#1a1a1a" stroke-width="1.05"/>
<text x="557.3" y="504.3" font-size="8.5" text-anchor="end" fill="#1a1a1a" stroke="#1a1a1a" stroke-width="0.16">0.8</text>
<line x1="557.8" y1="478.4" x2="562.6" y2="478.4" stroke="#1a1a1a" stroke-width="1.05"/>
<text x="557.3" y="481.4" font-size="8.5" text-anchor="end" fill="#1a1a1a" stroke="#1a1a1a" stroke-width="0.16">1.0</text>
<line x1="557.8" y1="455.5" x2="562.6" y2="455.5" stroke="#1a1a1a" stroke-width="1.05"/>
<text x="557.3" y="458.6" font-size="8.5" text-anchor="end" fill="#1a1a1a" stroke="#1a1a1a" stroke-width="0.16">1.2</text>
<line x1="557.8" y1="432.7" x2="562.6" y2="432.7" stroke="#1a1a1a" stroke-width="1.05"/>
<text x="557.3" y="435.7" font-size="8.5" text-anchor="end" fill="#1a1a1a" stroke="#1a1a1a" stroke-width="0.16">1.4</text>
<line x1="557.8" y1="409.8" x2="562.6" y2="409.8" stroke="#1a1a1a" stroke-width="1.05"/>
<text x="557.3" y="412.8" font-size="8.5" text-anchor="end" fill="#1a1a1a" stroke="#1a1a1a" stroke-width="0.16">1.6</text>
<line x1="557.8" y1="386.9" x2="562.6" y2="386.9" stroke="#1a1a1a" stroke-width="1.05"/>
<text x="557.3" y="389.9" font-size="8.5" text-anchor="end" fill="#1a1a1a" stroke="#1a1a1a" stroke-width="0.16">1.8</text>
<line x1="562.6" y1="501.3" x2="677.8" y2="501.3" stroke="#1a1a1a" stroke-width="1.2"/>
<line x1="589.4" y1="501.3" x2="589.4" y2="506.1" stroke="#1a1a1a" stroke-width="1.05"/>
<line x1="650.8" y1="501.3" x2="650.8" y2="506.1" stroke="#1a1a1a" stroke-width="1.05"/>
<text x="588.6" y="515.3" font-size="8.7" text-anchor="middle" fill="#1a1a1a" stroke="#1a1a1a" stroke-width="0.16">Alpha Cl9</text>
<text x="650.8" y="515.3" font-size="8.7" text-anchor="middle" fill="#1a1a1a" stroke="#1a1a1a" stroke-width="0.16">Beta TC6</text>
<text x="0" y="0" font-size="8.42" text-anchor="middle" fill="#1a1a1a" stroke="#1a1a1a" stroke-width="0.16" transform="translate(539.4 445.4) rotate(-90)">Glu levels (relative values)</text>
<rect x="571.2" y="479.6" width="12.6" height="21.7" fill="#fff" stroke="#1a1a1a" stroke-width="1.25"/>
<rect x="594.1" y="411.5" width="12.5" height="89.8" fill="#fff" stroke="#e8212d" stroke-width="1.25"/>
<rect x="632.6" y="479" width="12.5" height="22.3" fill="#fff" stroke="#1a1a1a" stroke-width="1.25"/>
<rect x="655.5" y="461.9" width="13.1" height="39.4" fill="#fff" stroke="#e8212d" stroke-width="1.25"/>
<line x1="577.6" y1="470.4" x2="577.6" y2="485.6" stroke="#1a1a1a" stroke-width="0.9"/>
<line x1="574" y1="470.4" x2="581.2" y2="470.4" stroke="#1a1a1a" stroke-width="0.9"/>
<line x1="574" y1="485.6" x2="581.2" y2="485.6" stroke="#1a1a1a" stroke-width="0.9"/>
<line x1="600.4" y1="403.7" x2="600.4" y2="414.6" stroke="#e8212d" stroke-width="0.9"/>
<line x1="596.8" y1="403.7" x2="604" y2="403.7" stroke="#e8212d" stroke-width="0.9"/>
<line x1="596.8" y1="414.6" x2="604" y2="414.6" stroke="#e8212d" stroke-width="0.9"/>
<line x1="638.9" y1="474" x2="638.9" y2="482" stroke="#1a1a1a" stroke-width="0.9"/>
<line x1="635.3" y1="474" x2="642.5" y2="474" stroke="#1a1a1a" stroke-width="0.9"/>
<line x1="635.3" y1="482" x2="642.5" y2="482" stroke="#1a1a1a" stroke-width="0.9"/>
<line x1="662.1" y1="454.3" x2="662.1" y2="465.1" stroke="#e8212d" stroke-width="0.9"/>
<line x1="658.5" y1="454.3" x2="665.7" y2="454.3" stroke="#e8212d" stroke-width="0.9"/>
<line x1="658.5" y1="465.1" x2="665.7" y2="465.1" stroke="#e8212d" stroke-width="0.9"/>
<circle cx="577.8" cy="467.5" r="1.9" fill="#1a1a1a"/>
<circle cx="573.5" cy="472.4" r="1.9" fill="#1a1a1a"/>
<circle cx="582.6" cy="477.7" r="1.9" fill="#1a1a1a"/>
<circle cx="571.8" cy="478.9" r="1.9" fill="#1a1a1a"/>
<circle cx="578.3" cy="481.3" r="1.9" fill="#1a1a1a"/>
<circle cx="583.1" cy="485.1" r="1.9" fill="#1a1a1a"/>
<circle cx="577.3" cy="488.7" r="1.9" fill="#1a1a1a"/>
<circle cx="601.4" cy="401.3" r="1.9" fill="#e8212d"/>
<circle cx="596.6" cy="403.7" r="1.9" fill="#e8212d"/>
<circle cx="595.1" cy="408.5" r="1.9" fill="#e8212d"/>
<circle cx="604.3" cy="409.7" r="1.9" fill="#e8212d"/>
<circle cx="607.2" cy="410.5" r="1.9" fill="#e8212d"/>
<circle cx="601.4" cy="416.5" r="1.9" fill="#e8212d"/>
<circle cx="600.4" cy="420.6" r="1.9" fill="#e8212d"/>
<circle cx="633.2" cy="473.1" r="1.9" fill="#1a1a1a"/>
<circle cx="639.2" cy="475.3" r="1.9" fill="#1a1a1a"/>
<circle cx="644" cy="476.5" r="1.9" fill="#1a1a1a"/>
<circle cx="635.6" cy="478.4" r="1.9" fill="#1a1a1a"/>
<circle cx="642.8" cy="480.8" r="1.9" fill="#1a1a1a"/>
<circle cx="633.2" cy="482" r="1.9" fill="#1a1a1a"/>
<circle cx="662.1" cy="449.5" r="1.9" fill="#e8212d"/>
<circle cx="655.4" cy="455.5" r="1.9" fill="#e8212d"/>
<circle cx="664.5" cy="459.1" r="1.9" fill="#e8212d"/>
<circle cx="668.1" cy="460.3" r="1.9" fill="#e8212d"/>
<circle cx="658.5" cy="461" r="1.9" fill="#e8212d"/>
<circle cx="666.9" cy="461.5" r="1.9" fill="#e8212d"/>
<text x="601.2" y="394.3" font-size="12.5" text-anchor="middle" font-weight="bold" fill="#1a1a1a">****</text>
<text x="663.3" y="441.5" font-size="12.5" text-anchor="middle" font-weight="bold" fill="#1a1a1a">***</text>
<defs><filter id="bl" x="-20%" y="-200%" width="140%" height="500%"><feGaussianBlur stdDeviation="0.85"/></filter><linearGradient id="s2g" x1="0" x2="1" y1="0" y2="0"><stop offset="0" stop-color="#8a8a8a"/><stop offset="0.5" stop-color="#999"/><stop offset="1" stop-color="#ababab"/></linearGradient><filter id="bl2" x="-20%" y="-50%" width="140%" height="200%"><feGaussianBlur stdDeviation="1.4"/></filter></defs>
<text x="326.4" y="544.2" font-size="15" font-weight="bold" fill="#111">G</text>
<text x="428.4" y="544.4" font-size="8.9" text-anchor="middle" font-weight="bold" fill="#1a1a1a">Alpha Cl9</text>
<text x="533.9" y="544.6" font-size="8.9" text-anchor="middle" font-weight="bold" fill="#1a1a1a">Beta TC6</text>
<text x="385.4" y="556" font-size="8.8" text-anchor="end" fill="#1a1a1a">H<tspan font-size="6" dy="2">2</tspan><tspan dy="-2">O</tspan><tspan font-size="6" dy="2">2</tspan></text>
<text x="386.8" y="566.8" font-size="8.85" text-anchor="end" fill="#1a1a1a" stroke="#1a1a1a" stroke-width="0.16">KU60019</text>
<text x="397.4" y="555.2" font-size="7.5" text-anchor="middle" fill="#333" stroke="#333" stroke-width="0.16">-</text>
<text x="397.4" y="565.5" font-size="7.5" text-anchor="middle" fill="#333" stroke="#333" stroke-width="0.16">-</text>
<text x="416.7" y="555.2" font-size="8.0" text-anchor="middle" fill="#333" stroke="#333" stroke-width="0.16">+</text>
<text x="416.7" y="565.5" font-size="7.5" text-anchor="middle" fill="#333" stroke="#333" stroke-width="0.16">-</text>
<text x="436" y="555.2" font-size="7.5" text-anchor="middle" fill="#333" stroke="#333" stroke-width="0.16">-</text>
<text x="436" y="565.5" font-size="8.0" text-anchor="middle" fill="#333" stroke="#333" stroke-width="0.16">+</text>
<text x="457.5" y="555.2" font-size="8.0" text-anchor="middle" fill="#333" stroke="#333" stroke-width="0.16">+</text>
<text x="457.5" y="565.5" font-size="8.0" text-anchor="middle" fill="#333" stroke="#333" stroke-width="0.16">+</text>
<text x="498.8" y="558" font-size="7.5" text-anchor="middle" fill="#333" stroke="#333" stroke-width="0.16">-</text>
<text x="498.8" y="567.8" font-size="7.5" text-anchor="middle" fill="#333" stroke="#333" stroke-width="0.16">-</text>
<text x="517.5" y="558" font-size="8.0" text-anchor="middle" fill="#333" stroke="#333" stroke-width="0.16">+</text>
<text x="517.5" y="567.8" font-size="7.5" text-anchor="middle" fill="#333" stroke="#333" stroke-width="0.16">-</text>
<text x="538.8" y="558" font-size="7.5" text-anchor="middle" fill="#333" stroke="#333" stroke-width="0.16">-</text>
<text x="538.8" y="567.8" font-size="8.0" text-anchor="middle" fill="#333" stroke="#333" stroke-width="0.16">+</text>
<text x="560.2" y="558" font-size="8.0" text-anchor="middle" fill="#333" stroke="#333" stroke-width="0.16">+</text>
<text x="560.2" y="567.8" font-size="8.0" text-anchor="middle" fill="#333" stroke="#333" stroke-width="0.16">+</text>
<text x="379.5" y="583.9" font-size="7.3" text-anchor="end" fill="#1a1a1a" stroke="#1a1a1a" stroke-width="0.16">~100 kDa</text>
<text x="379.5" y="604.8" font-size="7.3" text-anchor="end" fill="#1a1a1a" stroke="#1a1a1a" stroke-width="0.16">~100 kDa</text>
<text x="379.5" y="626.6" font-size="7.3" text-anchor="end" fill="#1a1a1a" stroke="#1a1a1a" stroke-width="0.16">~350 kDa</text>
<text x="379.5" y="646.5" font-size="7.3" text-anchor="end" fill="#1a1a1a" stroke="#1a1a1a" stroke-width="0.16">~350 kDa</text>
<text x="379.5" y="666.7" font-size="7.3" text-anchor="end" fill="#1a1a1a" stroke="#1a1a1a" stroke-width="0.16">~37 kDa</text>
<text x="578.9" y="584" font-size="8.9" fill="#1a1a1a" stroke="#1a1a1a" stroke-width="0.16">CD98HC (pS103)</text>
<text x="578.9" y="604.7" font-size="8.9" fill="#1a1a1a" stroke="#1a1a1a" stroke-width="0.16">CD98HC</text>
<text x="578.9" y="627.4" font-size="8.9" fill="#1a1a1a" stroke="#1a1a1a" stroke-width="0.16">ATM (pS1981)</text>
<text x="578.9" y="646.4" font-size="8.9" fill="#1a1a1a" stroke="#1a1a1a" stroke-width="0.16">ATM</text>
<text x="578.9" y="667.8" font-size="8.9" fill="#1a1a1a" stroke="#1a1a1a" stroke-width="0.16">GAPDH</text>
<rect x="381.2" y="570.7" width="90.5" height="19.1" fill="#e5e5e5" stroke="none" stroke-width="1"/>
<rect x="381.2" y="592" width="90.5" height="20.5" fill="url(#s2g)" stroke="none" stroke-width="1"/>
<rect x="381.2" y="614.2" width="90.5" height="19.2" fill="#e8e8e8" stroke="none" stroke-width="1"/>
<rect x="381.2" y="635.2" width="90.5" height="19.6" fill="#eaeaea" stroke="none" stroke-width="1"/>
<rect x="381.2" y="656.3" width="90.5" height="19.9" fill="#e9e9e9" stroke="none" stroke-width="1"/>
<rect x="385" y="580.6" width="17" height="1.5" rx="0.7" fill="#9f9f9f" opacity="1.0" filter="url(#bl)"/>
<rect x="406.5" y="581.1" width="17" height="2.8" rx="1.4" fill="#000000" opacity="1.0" filter="url(#bl)"/>
<rect x="384" y="596" width="19" height="2.1" rx="1" fill="#353535" opacity="1.0" filter="url(#bl)"/>
<rect x="384" y="600.5" width="19" height="3.9" rx="2" fill="#202020" opacity="1.0" filter="url(#bl)"/>
<rect x="384" y="606.6" width="19" height="2.9" rx="1.4" fill="#767676" opacity="1.0" filter="url(#bl)"/>
<rect x="405.5" y="596" width="19" height="2.1" rx="1" fill="#3b3b3b" opacity="1.0" filter="url(#bl)"/>
<rect x="405.5" y="600.5" width="19" height="3.9" rx="2" fill="#404040" opacity="1.0" filter="url(#bl)"/>
<rect x="405.5" y="606.6" width="19" height="2.9" rx="1.4" fill="#767676" opacity="1.0" filter="url(#bl)"/>
<rect x="428" y="596" width="19" height="2.1" rx="1" fill="#5a5a5a" opacity="1.0" filter="url(#bl)"/>
<rect x="428" y="600.5" width="19" height="3.9" rx="2" fill="#383838" opacity="1.0" filter="url(#bl)"/>
<rect x="428" y="606.6" width="19" height="2.9" rx="1.4" fill="#767676" opacity="1.0" filter="url(#bl)"/>
<rect x="450" y="596" width="19" height="2.1" rx="1" fill="#616161" opacity="1.0" filter="url(#bl)"/>
<rect x="450" y="600.5" width="19" height="3.9" rx="2" fill="#575757" opacity="1.0" filter="url(#bl)"/>
<rect x="450" y="606.6" width="19" height="2.9" rx="1.4" fill="#767676" opacity="1.0" filter="url(#bl)"/>
<rect x="426.2" y="601.3" width="6" height="3.4" rx="1.7" fill="#000000" opacity="1.0" filter="url(#bl)"/>
<rect x="385.5" y="617.2" width="16" height="1.1" rx="0.6" fill="#c4c4c4" opacity="1.0" filter="url(#bl)"/>
<rect x="385.5" y="622" width="16" height="1.8" rx="0.9" fill="#797979" opacity="1.0" filter="url(#bl)"/>
<rect x="407" y="622.9" width="16" height="3" rx="1.5" fill="#000000" opacity="1.0" filter="url(#bl)"/>
<rect x="429.5" y="622.1" width="16" height="1.6" rx="0.8" fill="#afafaf" opacity="1.0" filter="url(#bl)"/>
<rect x="429.5" y="617.9" width="16" height="1.1" rx="0.6" fill="#c2c2c2" opacity="1.0" filter="url(#bl)"/>
<rect x="452" y="624.3" width="15" height="1.6" rx="0.8" fill="#a5a5a5" opacity="1.0" filter="url(#bl)"/>
<rect x="385.5" y="629" width="16" height="0.9" rx="0.5" fill="#cdcdcd" opacity="1.0" filter="url(#bl)"/>
<rect x="385.2" y="644" width="16.5" height="2.8" rx="1.4" fill="#858585" opacity="1.0" filter="url(#bl)"/>
<rect x="385.2" y="641.3" width="16.5" height="3" rx="1.5" fill="#222222" opacity="1.0" filter="url(#bl)"/>
<rect x="386" y="651.4" width="15" height="1.1" rx="0.6" fill="#bbbbbb" opacity="1.0" filter="url(#bl)"/>
<rect x="406.8" y="644" width="16.5" height="2.8" rx="1.4" fill="#6f6f6f" opacity="1.0" filter="url(#bl)"/>
<rect x="406.8" y="641.3" width="16.5" height="3" rx="1.5" fill="#616161" opacity="1.0" filter="url(#bl)"/>
<rect x="407.5" y="651.4" width="15" height="1.1" rx="0.6" fill="#bbbbbb" opacity="1.0" filter="url(#bl)"/>
<rect x="429.2" y="644" width="16.5" height="2.8" rx="1.4" fill="#909090" opacity="1.0" filter="url(#bl)"/>
<rect x="429.2" y="641.3" width="16.5" height="3" rx="1.5" fill="#383838" opacity="1.0" filter="url(#bl)"/>
<rect x="430" y="651.4" width="15" height="1.1" rx="0.6" fill="#bbbbbb" opacity="1.0" filter="url(#bl)"/>
<rect x="451.2" y="644" width="16.5" height="2.8" rx="1.4" fill="#6f6f6f" opacity="1.0" filter="url(#bl)"/>
<rect x="451.2" y="641.3" width="16.5" height="3" rx="1.5" fill="#767676" opacity="1.0" filter="url(#bl)"/>
<rect x="452" y="651.4" width="15" height="1.1" rx="0.6" fill="#bbbbbb" opacity="1.0" filter="url(#bl)"/>
<rect x="383.5" y="664.4" width="20" height="3.1" rx="1.6" fill="#000000" opacity="1.0" filter="url(#bl)"/>
<rect x="405" y="664.4" width="20" height="3.1" rx="1.6" fill="#000000" opacity="1.0" filter="url(#bl)"/>
<rect x="427.5" y="664.4" width="20" height="3.1" rx="1.6" fill="#000000" opacity="1.0" filter="url(#bl)"/>
<rect x="449.5" y="664.4" width="20" height="3.1" rx="1.6" fill="#000000" opacity="1.0" filter="url(#bl)"/>
<rect x="484.1" y="571.1" width="90.8" height="17.5" fill="#e2e2e2" stroke="none" stroke-width="1"/>
<rect x="484.1" y="592.3" width="90.8" height="20.1" fill="#e6e6e6" stroke="none" stroke-width="1"/>
<rect x="484.1" y="614.6" width="90.8" height="18.8" fill="#e6e6e6" stroke="none" stroke-width="1"/>
<rect x="484.1" y="635.3" width="90.8" height="19.7" fill="#e9e9e9" stroke="none" stroke-width="1"/>
<rect x="484.1" y="657.7" width="90.8" height="17.8" fill="#e8e8e8" stroke="none" stroke-width="1"/>
<rect x="506.9" y="571.1" width="1.6" height="17.5" fill="#ececec" stroke="none" stroke-width="1"/>
<rect x="528.8" y="571.1" width="1.6" height="17.5" fill="#ececec" stroke="none" stroke-width="1"/>
<rect x="550" y="571.1" width="1.6" height="17.5" fill="#ececec" stroke="none" stroke-width="1"/>
<rect x="487.9" y="582" width="17" height="2" rx="1" fill="#3d3d3d" opacity="1.0" filter="url(#bl)"/>
<rect x="509.8" y="580" width="18.5" height="2.6" rx="1.3" fill="#000000" opacity="1.0" filter="url(#bl)"/>
<rect x="532" y="580.8" width="17" height="1.4" rx="0.7" fill="#c7c7c7" opacity="1.0" filter="url(#bl)"/>
<rect x="553" y="581.1" width="17" height="1.4" rx="0.7" fill="#cbcbcb" opacity="1.0" filter="url(#bl)"/>
<rect x="487.6" y="600.9" width="17.5" height="2.6" rx="1.3" fill="#000000" opacity="1.0" filter="url(#bl)"/>
<rect x="510.2" y="600.9" width="17.5" height="2.6" rx="1.3" fill="#000000" opacity="1.0" filter="url(#bl)"/>
<rect x="531.8" y="600.9" width="17.5" height="2.6" rx="1.3" fill="#000000" opacity="1.0" filter="url(#bl)"/>
<rect x="552.8" y="600.9" width="17.5" height="2.6" rx="1.3" fill="#000000" opacity="1.0" filter="url(#bl)"/>
<rect x="487.9" y="618.7" width="17" height="1.1" rx="0.6" fill="#c2c2c2" opacity="1.0" filter="url(#bl)"/>
<rect x="487.9" y="624.8" width="17" height="2.2" rx="1.1" fill="#191919" opacity="1.0" filter="url(#bl)"/>
<rect x="510.2" y="622.6" width="17.5" height="3.7" rx="1.8" fill="#000000" opacity="1.0" filter="url(#bl)"/>
<rect x="532" y="621.5" width="17" height="1.4" rx="0.7" fill="#bbbbbb" opacity="1.0" filter="url(#bl)"/>
<rect x="553.5" y="623.8" width="16" height="1.3" rx="0.6" fill="#c7c7c7" opacity="1.0" filter="url(#bl)"/>
<rect x="487.6" y="644.3" width="17.5" height="3.4" rx="1.7" fill="#000000" opacity="1.0" filter="url(#bl)"/>
<rect x="487.9" y="651.1" width="17" height="1.7" rx="0.9" fill="#767676" opacity="1.0" filter="url(#bl)"/>
<rect x="510.2" y="644.6" width="17.5" height="3.4" rx="1.7" fill="#5a5a5a" opacity="1.0" filter="url(#bl)"/>
<rect x="510.5" y="651.1" width="17" height="1.7" rx="0.9" fill="#9b9b9b" opacity="1.0" filter="url(#bl)"/>
<rect x="531.8" y="642.4" width="17.5" height="3.4" rx="1.7" fill="#000000" opacity="1.0" filter="url(#bl)"/>
<rect x="532" y="651.1" width="17" height="1.7" rx="0.9" fill="#666666" opacity="1.0" filter="url(#bl)"/>
<rect x="552.8" y="641.7" width="17.5" height="3.4" rx="1.7" fill="#2b2b2b" opacity="1.0" filter="url(#bl)"/>
<rect x="553" y="651.1" width="17" height="1.7" rx="0.9" fill="#8d8d8d" opacity="1.0" filter="url(#bl)"/>
<rect x="487.4" y="665.1" width="18" height="2.5" rx="1.3" fill="#000000" opacity="1.0" filter="url(#bl)"/>
<rect x="510" y="665.1" width="18" height="2.5" rx="1.3" fill="#000000" opacity="1.0" filter="url(#bl)"/>
<rect x="531.5" y="665.1" width="18" height="2.5" rx="1.3" fill="#000000" opacity="1.0" filter="url(#bl)"/>
<rect x="552.5" y="665.1" width="18" height="2.5" rx="1.3" fill="#000000" opacity="1.0" filter="url(#bl)"/>
<text x="0.9" y="726" font-size="15" font-weight="bold" fill="#111">H</text>
<line x1="42.7" y1="734.5" x2="42.7" y2="850.3" stroke="#1a1a1a" stroke-width="1.2"/>
<line x1="38.2" y1="850.3" x2="42.7" y2="850.3" stroke="#1a1a1a" stroke-width="1.05"/>
<text x="35.2" y="853.3" font-size="8.4" text-anchor="end" fill="#1a1a1a" stroke="#1a1a1a" stroke-width="0.16">0</text>
<line x1="38.2" y1="811.8" x2="42.7" y2="811.8" stroke="#1a1a1a" stroke-width="1.05"/>
<text x="35.2" y="814.8" font-size="8.4" text-anchor="end" fill="#1a1a1a" stroke="#1a1a1a" stroke-width="0.16">100</text>
<line x1="38.2" y1="773.4" x2="42.7" y2="773.4" stroke="#1a1a1a" stroke-width="1.05"/>
<text x="35.2" y="776.3" font-size="8.4" text-anchor="end" fill="#1a1a1a" stroke="#1a1a1a" stroke-width="0.16">200</text>
<line x1="38.2" y1="734.9" x2="42.7" y2="734.9" stroke="#1a1a1a" stroke-width="1.05"/>
<text x="35.2" y="737.9" font-size="8.4" text-anchor="end" fill="#1a1a1a" stroke="#1a1a1a" stroke-width="0.16">300</text>
<line x1="42.7" y1="850.3" x2="157.8" y2="850.3" stroke="#1a1a1a" stroke-width="1.2"/>
<line x1="69.4" y1="850.3" x2="69.4" y2="855" stroke="#1a1a1a" stroke-width="1.05"/>
<line x1="130.8" y1="850.3" x2="130.8" y2="855" stroke="#1a1a1a" stroke-width="1.05"/>
<text x="69.4" y="864" font-size="8.6" text-anchor="middle" fill="#1a1a1a" stroke="#1a1a1a" stroke-width="0.16">Alpha Cl9</text>
<text x="130.8" y="864" font-size="8.6" text-anchor="middle" fill="#1a1a1a" stroke="#1a1a1a" stroke-width="0.16">Beta TC6</text>
<text x="0" y="0" font-size="8.43" text-anchor="middle" fill="#1a1a1a" stroke="#1a1a1a" stroke-width="0.16" transform="translate(17 791.4) rotate(-90)">OCR (pmol/min/confluence)</text>
<rect x="50.8" y="798.6" width="13.5" height="51.7" fill="#fff" stroke="#1a1a1a" stroke-width="1.25"/>
<rect x="74.2" y="807.8" width="13.5" height="42.5" fill="#fff" stroke="#a3202a" stroke-width="1.25"/>
<rect x="113.4" y="767.4" width="12.8" height="82.9" fill="#fff" stroke="#1a1a1a" stroke-width="1.25"/>
<rect x="136.1" y="774" width="12.8" height="76.3" fill="#fff" stroke="#a3202a" stroke-width="1.25"/>
<line x1="57.5" y1="793.8" x2="57.5" y2="800.8" stroke="#1a1a1a" stroke-width="0.9"/>
<line x1="54" y1="793.8" x2="61" y2="793.8" stroke="#1a1a1a" stroke-width="0.9"/>
<line x1="54" y1="800.8" x2="61" y2="800.8" stroke="#1a1a1a" stroke-width="0.9"/>
<line x1="81" y1="804.5" x2="81" y2="810" stroke="#a3202a" stroke-width="0.9"/>
<line x1="77.5" y1="804.5" x2="84.5" y2="804.5" stroke="#a3202a" stroke-width="0.9"/>
<line x1="77.5" y1="810" x2="84.5" y2="810" stroke="#a3202a" stroke-width="0.9"/>
<line x1="119.8" y1="758.3" x2="119.8" y2="779.3" stroke="#1a1a1a" stroke-width="0.9"/>
<line x1="116.3" y1="758.3" x2="123.3" y2="758.3" stroke="#1a1a1a" stroke-width="0.9"/>
<line x1="116.3" y1="779.3" x2="123.3" y2="779.3" stroke="#1a1a1a" stroke-width="0.9"/>
<line x1="142.5" y1="765.3" x2="142.5" y2="779.7" stroke="#a3202a" stroke-width="0.9"/>
<line x1="139" y1="765.3" x2="146" y2="765.3" stroke="#a3202a" stroke-width="0.9"/>
<line x1="139" y1="779.7" x2="146" y2="779.7" stroke="#a3202a" stroke-width="0.9"/>
<circle cx="54.9" cy="791.9" r="1.9" fill="#1a1a1a"/>
<circle cx="51.9" cy="793.8" r="1.9" fill="#1a1a1a"/>
<circle cx="58.4" cy="793.3" r="1.9" fill="#1a1a1a"/>
<circle cx="61.9" cy="794.9" r="1.9" fill="#1a1a1a"/>
<circle cx="53.7" cy="796.1" r="1.9" fill="#1a1a1a"/>
<circle cx="63.1" cy="796.6" r="1.9" fill="#1a1a1a"/>
<circle cx="57.2" cy="798" r="1.9" fill="#1a1a1a"/>
<circle cx="52.6" cy="799.6" r="1.9" fill="#1a1a1a"/>
<circle cx="60.7" cy="800.8" r="1.9" fill="#1a1a1a"/>
<circle cx="56.1" cy="801.9" r="1.9" fill="#1a1a1a"/>
<circle cx="74.7" cy="804.3" r="1.9" fill="#a3202a"/>
<circle cx="80.6" cy="803.6" r="1.9" fill="#a3202a"/>
<circle cx="84.1" cy="805.4" r="1.9" fill="#a3202a"/>
<circle cx="77.1" cy="806.6" r="1.9" fill="#a3202a"/>
<circle cx="81.8" cy="807.3" r="1.9" fill="#a3202a"/>
<circle cx="86.4" cy="807.8" r="1.9" fill="#a3202a"/>
<circle cx="78.3" cy="809" r="1.9" fill="#a3202a"/>
<circle cx="82.9" cy="809.6" r="1.9" fill="#a3202a"/>
<circle cx="75.9" cy="807.8" r="1.9" fill="#a3202a"/>
<circle cx="80.6" cy="814.3" r="1.9" fill="#a3202a"/>
<circle cx="114.5" cy="755.2" r="1.9" fill="#1a1a1a"/>
<circle cx="119.1" cy="754.1" r="1.9" fill="#1a1a1a"/>
<circle cx="123.8" cy="754.5" r="1.9" fill="#1a1a1a"/>
<circle cx="126.1" cy="757.6" r="1.9" fill="#1a1a1a"/>
<circle cx="116.8" cy="759.9" r="1.9" fill="#1a1a1a"/>
<circle cx="120.3" cy="764.6" r="1.9" fill="#1a1a1a"/>
<circle cx="122.6" cy="772.7" r="1.9" fill="#1a1a1a"/>
<circle cx="118" cy="775.1" r="1.9" fill="#1a1a1a"/>
<circle cx="114.5" cy="784.4" r="1.9" fill="#1a1a1a"/>
<circle cx="122.6" cy="786.8" r="1.9" fill="#1a1a1a"/>
<circle cx="142.5" cy="761.1" r="1.9" fill="#a3202a"/>
<circle cx="139.7" cy="765.3" r="1.9" fill="#a3202a"/>
<circle cx="146" cy="766.2" r="1.9" fill="#a3202a"/>
<circle cx="137.8" cy="773.9" r="1.9" fill="#a3202a"/>
<circle cx="143.7" cy="775.1" r="1.9" fill="#a3202a"/>
<circle cx="148.3" cy="776.2" r="1.9" fill="#a3202a"/>
<circle cx="140.2" cy="779.8" r="1.9" fill="#a3202a"/>
<circle cx="144.8" cy="781.6" r="1.9" fill="#a3202a"/>
<text x="68.9" y="775.5" font-size="12.5" text-anchor="middle" font-weight="bold" fill="#1a1a1a">**</text>
<polyline points="58.4,775.9 58.4,779.9" fill="none" stroke="#1a1a1a" stroke-width="0.9"/>
<polyline points="79,775.9 79,779.9" fill="none" stroke="#1a1a1a" stroke-width="0.9"/>
<line x1="58.4" y1="777.9" x2="79" y2="777.9" stroke="#1a1a1a" stroke-width="0.9"/>
<circle cx="147.7" cy="731.9" r="1.6" fill="#1a1a1a"/>
<text x="151.8" y="734.9" font-size="8.4" fill="#1a1a1a" stroke="#1a1a1a" stroke-width="0.16">Control</text>
<circle cx="147.7" cy="742.6" r="1.6" fill="#a3202a"/>
<text x="151.8" y="745.6" font-size="8.4" fill="#1a1a1a" stroke="#1a1a1a" stroke-width="0.16">KU60019</text>
<text x="203.5" y="726" font-size="15" font-weight="bold" fill="#111">I</text>
<text x="307.7" y="735" font-size="10.8" text-anchor="middle" font-weight="bold" fill="#1a1a1a">Alpha Cl9</text>
<line x1="230.1" y1="734.8" x2="230.1" y2="850.8" stroke="#1a1a1a" stroke-width="1.2"/>
<line x1="225.6" y1="850.8" x2="230.1" y2="850.8" stroke="#1a1a1a" stroke-width="1.05"/>
<text x="223.4" y="853.8" font-size="8.4" text-anchor="end" fill="#1a1a1a" stroke="#1a1a1a" stroke-width="0.16">0</text>
<line x1="225.6" y1="821.9" x2="230.1" y2="821.9" stroke="#1a1a1a" stroke-width="1.05"/>
<text x="223.4" y="824.9" font-size="8.4" text-anchor="end" fill="#1a1a1a" stroke="#1a1a1a" stroke-width="0.16">50</text>
<line x1="225.6" y1="793" x2="230.1" y2="793" stroke="#1a1a1a" stroke-width="1.05"/>
<text x="223.4" y="796" font-size="8.4" text-anchor="end" fill="#1a1a1a" stroke="#1a1a1a" stroke-width="0.16">100</text>
<line x1="225.6" y1="764.1" x2="230.1" y2="764.1" stroke="#1a1a1a" stroke-width="1.05"/>
<text x="223.4" y="767.1" font-size="8.4" text-anchor="end" fill="#1a1a1a" stroke="#1a1a1a" stroke-width="0.16">150</text>
<line x1="225.6" y1="735.2" x2="230.1" y2="735.2" stroke="#1a1a1a" stroke-width="1.05"/>
<text x="223.4" y="738.2" font-size="8.4" text-anchor="end" fill="#1a1a1a" stroke="#1a1a1a" stroke-width="0.16">200</text>
<line x1="230.1" y1="850.8" x2="375.4" y2="850.8" stroke="#1a1a1a" stroke-width="1.2"/>
<line x1="252.3" y1="850.8" x2="252.3" y2="855.5" stroke="#1a1a1a" stroke-width="1.05"/>
<line x1="301.7" y1="850.8" x2="301.7" y2="855.5" stroke="#1a1a1a" stroke-width="1.05"/>
<line x1="353" y1="850.8" x2="353" y2="855.5" stroke="#1a1a1a" stroke-width="1.05"/>
<text x="252.3" y="863.4" font-size="8.7" text-anchor="middle" fill="#1a1a1a" stroke="#1a1a1a" stroke-width="0.16">Glycolysis</text>
<text x="301.7" y="863.4" font-size="8.7" text-anchor="middle" fill="#1a1a1a" stroke="#1a1a1a" stroke-width="0.16">Glycolytic</text>
<text x="301.7" y="872.3" font-size="8.7" text-anchor="middle" fill="#1a1a1a" stroke="#1a1a1a" stroke-width="0.16">Capacity</text>
<text x="353" y="863.4" font-size="8.7" text-anchor="middle" fill="#1a1a1a" stroke="#1a1a1a" stroke-width="0.16">Glycolytic</text>
<text x="353" y="872.3" font-size="8.7" text-anchor="middle" fill="#1a1a1a" stroke="#1a1a1a" stroke-width="0.16">Reserve</text>
<text x="0" y="0" font-size="8.43" text-anchor="middle" fill="#1a1a1a" stroke="#1a1a1a" stroke-width="0.16" transform="translate(199.2 789.7) rotate(-90)">ECAR</text>
<text x="0" y="0" font-size="8.43" text-anchor="middle" fill="#1a1a1a" stroke="#1a1a1a" stroke-width="0.16" transform="translate(208.1 791.5) rotate(-90)">(pmol/min/confluence)</text>
<rect x="237.5" y="778.6" width="10.8" height="72.2" fill="#fff" stroke="#1a1a1a" stroke-width="1.25"/>
<line x1="242.9" y1="771.6" x2="242.9" y2="784.3" stroke="#1a1a1a" stroke-width="0.9"/>
<line x1="239.6" y1="771.6" x2="246.2" y2="771.6" stroke="#1a1a1a" stroke-width="0.9"/>
<line x1="239.6" y1="784.3" x2="246.2" y2="784.3" stroke="#1a1a1a" stroke-width="0.9"/>
<circle cx="240.6" cy="767" r="1.9" fill="#1a1a1a"/>
<circle cx="243.3" cy="768.7" r="1.9" fill="#1a1a1a"/>
<circle cx="241.8" cy="771" r="1.9" fill="#1a1a1a"/>
<circle cx="243.9" cy="773.9" r="1.9" fill="#1a1a1a"/>
<circle cx="244.1" cy="775.7" r="1.9" fill="#1a1a1a"/>
<circle cx="239" cy="776.8" r="1.9" fill="#1a1a1a"/>
<circle cx="238.6" cy="778.5" r="1.9" fill="#1a1a1a"/>
<circle cx="246" cy="780.3" r="1.9" fill="#1a1a1a"/>
<circle cx="240.8" cy="782.6" r="1.9" fill="#1a1a1a"/>
<circle cx="240.6" cy="784.3" r="1.9" fill="#1a1a1a"/>
<circle cx="247.4" cy="786.1" r="1.9" fill="#1a1a1a"/>
<circle cx="242.7" cy="787.2" r="1.9" fill="#1a1a1a"/>
<rect x="256.4" y="801.7" width="10.8" height="49.1" fill="#fff" stroke="#a3202a" stroke-width="1.25"/>
<line x1="261.9" y1="791.3" x2="261.9" y2="806.9" stroke="#a3202a" stroke-width="0.9"/>
<line x1="258.6" y1="791.3" x2="265.2" y2="791.3" stroke="#a3202a" stroke-width="0.9"/>
<line x1="258.6" y1="806.9" x2="265.2" y2="806.9" stroke="#a3202a" stroke-width="0.9"/>
<circle cx="259.5" cy="781.4" r="1.9" fill="#a3202a"/>
<circle cx="258.3" cy="790.1" r="1.9" fill="#a3202a"/>
<circle cx="260.9" cy="794.2" r="1.9" fill="#a3202a"/>
<circle cx="258.7" cy="797.6" r="1.9" fill="#a3202a"/>
<circle cx="257.9" cy="799.4" r="1.9" fill="#a3202a"/>
<circle cx="261" cy="800.5" r="1.9" fill="#a3202a"/>
<circle cx="265.6" cy="801.7" r="1.9" fill="#a3202a"/>
<circle cx="264.6" cy="802.2" r="1.9" fill="#a3202a"/>
<circle cx="264.2" cy="803.4" r="1.9" fill="#a3202a"/>
<circle cx="259.3" cy="804.6" r="1.9" fill="#a3202a"/>
<circle cx="262.2" cy="806.3" r="1.9" fill="#a3202a"/>
<circle cx="259.8" cy="807.4" r="1.9" fill="#a3202a"/>
<rect x="288.8" y="829.1" width="10.9" height="21.7" fill="#fff" stroke="#1a1a1a" stroke-width="1.25"/>
<line x1="294.2" y1="823.6" x2="294.2" y2="833.5" stroke="#1a1a1a" stroke-width="0.9"/>
<line x1="290.9" y1="823.6" x2="297.6" y2="823.6" stroke="#1a1a1a" stroke-width="0.9"/>
<line x1="290.9" y1="833.5" x2="297.6" y2="833.5" stroke="#1a1a1a" stroke-width="0.9"/>
<circle cx="295.4" cy="821.9" r="1.9" fill="#1a1a1a"/>
<circle cx="296.4" cy="823.1" r="1.9" fill="#1a1a1a"/>
<circle cx="296.9" cy="824.2" r="1.9" fill="#1a1a1a"/>
<circle cx="298.2" cy="825.4" r="1.9" fill="#1a1a1a"/>
<circle cx="296.4" cy="826.5" r="1.9" fill="#1a1a1a"/>
<circle cx="298.1" cy="827.7" r="1.9" fill="#1a1a1a"/>
<circle cx="290" cy="828.8" r="1.9" fill="#1a1a1a"/>
<circle cx="293.9" cy="830" r="1.9" fill="#1a1a1a"/>
<circle cx="298.2" cy="831.7" r="1.9" fill="#1a1a1a"/>
<circle cx="295.6" cy="833.5" r="1.9" fill="#1a1a1a"/>
<circle cx="297.9" cy="835.8" r="1.9" fill="#1a1a1a"/>
<circle cx="290.8" cy="838.1" r="1.9" fill="#1a1a1a"/>
<rect x="307.1" y="833.1" width="10.9" height="17.7" fill="#fff" stroke="#a3202a" stroke-width="1.25"/>
<line x1="312.6" y1="827.7" x2="312.6" y2="836.9" stroke="#a3202a" stroke-width="0.9"/>
<line x1="309.3" y1="827.7" x2="315.9" y2="827.7" stroke="#a3202a" stroke-width="0.9"/>
<line x1="309.3" y1="836.9" x2="315.9" y2="836.9" stroke="#a3202a" stroke-width="0.9"/>
<circle cx="315.2" cy="820.7" r="1.9" fill="#a3202a"/>
<circle cx="315.5" cy="826.5" r="1.9" fill="#a3202a"/>
<circle cx="312.5" cy="828.8" r="1.9" fill="#a3202a"/>
<circle cx="310.5" cy="830.6" r="1.9" fill="#a3202a"/>
<circle cx="308.1" cy="831.7" r="1.9" fill="#a3202a"/>
<circle cx="314.1" cy="832.9" r="1.9" fill="#a3202a"/>
<circle cx="312.3" cy="833.5" r="1.9" fill="#a3202a"/>
<circle cx="314.9" cy="834" r="1.9" fill="#a3202a"/>
<circle cx="311.5" cy="834.6" r="1.9" fill="#a3202a"/>
<circle cx="315" cy="835.8" r="1.9" fill="#a3202a"/>
<circle cx="310.6" cy="836.9" r="1.9" fill="#a3202a"/>
<circle cx="315.3" cy="838.7" r="1.9" fill="#a3202a"/>
<rect x="338.7" y="801.5" width="10.9" height="49.3" fill="#fff" stroke="#1a1a1a" stroke-width="1.25"/>
<line x1="344.2" y1="795.9" x2="344.2" y2="805.7" stroke="#1a1a1a" stroke-width="0.9"/>
<line x1="340.9" y1="795.9" x2="347.5" y2="795.9" stroke="#1a1a1a" stroke-width="0.9"/>
<line x1="340.9" y1="805.7" x2="347.5" y2="805.7" stroke="#1a1a1a" stroke-width="0.9"/>
<circle cx="342.6" cy="791.3" r="1.9" fill="#1a1a1a"/>
<circle cx="341.1" cy="794.2" r="1.9" fill="#1a1a1a"/>
<circle cx="345.6" cy="795.9" r="1.9" fill="#1a1a1a"/>
<circle cx="340.4" cy="797" r="1.9" fill="#1a1a1a"/>
<circle cx="344.5" cy="798.2" r="1.9" fill="#1a1a1a"/>
<circle cx="343" cy="799.4" r="1.9" fill="#1a1a1a"/>
<circle cx="340.2" cy="800.5" r="1.9" fill="#1a1a1a"/>
<circle cx="344.3" cy="801.7" r="1.9" fill="#1a1a1a"/>
<circle cx="340" cy="802.8" r="1.9" fill="#1a1a1a"/>
<circle cx="343.6" cy="804.6" r="1.9" fill="#1a1a1a"/>
<circle cx="340.3" cy="806.3" r="1.9" fill="#1a1a1a"/>
<circle cx="340.5" cy="808.6" r="1.9" fill="#1a1a1a"/>
<rect x="357.6" y="816.3" width="10.9" height="34.5" fill="#fff" stroke="#a3202a" stroke-width="1.25"/>
<line x1="363.1" y1="812.7" x2="363.1" y2="820.2" stroke="#a3202a" stroke-width="0.9"/>
<line x1="359.8" y1="812.7" x2="366.4" y2="812.7" stroke="#a3202a" stroke-width="0.9"/>
<line x1="359.8" y1="820.2" x2="366.4" y2="820.2" stroke="#a3202a" stroke-width="0.9"/>
<circle cx="360.6" cy="812.1" r="1.9" fill="#a3202a"/>
<circle cx="367.3" cy="813.2" r="1.9" fill="#a3202a"/>
<circle cx="359.7" cy="813.8" r="1.9" fill="#a3202a"/>
<circle cx="364.9" cy="815" r="1.9" fill="#a3202a"/>
<circle cx="359.4" cy="815.5" r="1.9" fill="#a3202a"/>
<circle cx="360.8" cy="816.1" r="1.9" fill="#a3202a"/>
<circle cx="367.6" cy="816.7" r="1.9" fill="#a3202a"/>
<circle cx="360.5" cy="817.3" r="1.9" fill="#a3202a"/>
<circle cx="364.4" cy="817.9" r="1.9" fill="#a3202a"/>
<circle cx="362.7" cy="819" r="1.9" fill="#a3202a"/>
<circle cx="362.7" cy="820.2" r="1.9" fill="#a3202a"/>
<circle cx="363.1" cy="821.3" r="1.9" fill="#a3202a"/>
<text x="253.9" y="747.1" font-size="12.5" text-anchor="middle" font-weight="bold" fill="#1a1a1a">****</text>
<line x1="244.4" y1="747.4" x2="263.3" y2="747.4" stroke="#1a1a1a" stroke-width="0.9"/>
<line x1="244.4" y1="745.4" x2="244.4" y2="749.4" stroke="#1a1a1a" stroke-width="0.9"/>
<line x1="263.3" y1="745.4" x2="263.3" y2="749.4" stroke="#1a1a1a" stroke-width="0.9"/>
<text x="354.3" y="778.2" font-size="12.5" text-anchor="middle" font-weight="bold" fill="#1a1a1a">****</text>
<line x1="344.3" y1="777.9" x2="363.8" y2="777.9" stroke="#1a1a1a" stroke-width="0.9"/>
<line x1="344.3" y1="775.9" x2="344.3" y2="779.9" stroke="#1a1a1a" stroke-width="0.9"/>
<line x1="363.8" y1="775.9" x2="363.8" y2="779.9" stroke="#1a1a1a" stroke-width="0.9"/>
<text x="391.1" y="726" font-size="15" font-weight="bold" fill="#111">J</text>
<text x="482.7" y="735.5" font-size="10.8" text-anchor="middle" font-weight="bold" fill="#1a1a1a">Alpha Cl9</text>
<text x="627.8" y="735.5" font-size="10.8" text-anchor="middle" font-weight="bold" fill="#1a1a1a">Beta TC6</text>
<line x1="432.1" y1="745.8" x2="432.1" y2="850.6" stroke="#1a1a1a" stroke-width="1.2"/>
<line x1="427.6" y1="850.6" x2="432.1" y2="850.6" stroke="#1a1a1a" stroke-width="1.05"/>
<text x="427.7" y="853.6" font-size="8.4" text-anchor="end" fill="#1a1a1a" stroke="#1a1a1a" stroke-width="0.16">0.0</text>
<line x1="427.6" y1="824.5" x2="432.1" y2="824.5" stroke="#1a1a1a" stroke-width="1.05"/>
<text x="427.7" y="827.5" font-size="8.4" text-anchor="end" fill="#1a1a1a" stroke="#1a1a1a" stroke-width="0.16">0.5</text>
<line x1="427.6" y1="798.4" x2="432.1" y2="798.4" stroke="#1a1a1a" stroke-width="1.05"/>
<text x="427.7" y="801.4" font-size="8.4" text-anchor="end" fill="#1a1a1a" stroke="#1a1a1a" stroke-width="0.16">1.0</text>
<line x1="427.6" y1="772.3" x2="432.1" y2="772.3" stroke="#1a1a1a" stroke-width="1.05"/>
<text x="427.7" y="775.3" font-size="8.4" text-anchor="end" fill="#1a1a1a" stroke="#1a1a1a" stroke-width="0.16">1.5</text>
<line x1="427.6" y1="746.2" x2="432.1" y2="746.2" stroke="#1a1a1a" stroke-width="1.05"/>
<text x="427.7" y="749.2" font-size="8.4" text-anchor="end" fill="#1a1a1a" stroke="#1a1a1a" stroke-width="0.16">2.0</text>
<line x1="432.1" y1="850.6" x2="535" y2="850.6" stroke="#1a1a1a" stroke-width="1.2"/>
<text x="0" y="0" font-size="8.43" text-anchor="middle" fill="#1a1a1a" stroke="#1a1a1a" stroke-width="0.16" transform="translate(403 795.9) rotate(-90)">Glucagon secretion</text>
<text x="0" y="0" font-size="8.43" text-anchor="middle" fill="#1a1a1a" stroke="#1a1a1a" stroke-width="0.16" transform="translate(412.3 795.9) rotate(-90)">(relative values)</text>
<line x1="448.4" y1="850.6" x2="448.4" y2="854.8" stroke="#1a1a1a" stroke-width="1.05"/>
<text x="0" y="0" font-size="8.6" text-anchor="end" fill="#1a1a1a" stroke="#1a1a1a" stroke-width="0.16" transform="translate(449.7 859.6) rotate(-45)">Control</text>
<line x1="472.4" y1="850.6" x2="472.4" y2="854.8" stroke="#1a1a1a" stroke-width="1.05"/>
<text x="0" y="0" font-size="8.6" text-anchor="end" fill="#1a1a1a" stroke="#1a1a1a" stroke-width="0.16" transform="translate(473.7 859.6) rotate(-45)">KU60019</text>
<line x1="496.4" y1="850.6" x2="496.4" y2="854.8" stroke="#1a1a1a" stroke-width="1.05"/>
<text x="0" y="0" font-size="8.6" text-anchor="end" fill="#1a1a1a" stroke="#1a1a1a" stroke-width="0.16" transform="translate(497.7 859.6) rotate(-45)">shCtl</text>
<line x1="520.4" y1="850.6" x2="520.4" y2="854.8" stroke="#1a1a1a" stroke-width="1.05"/>
<text x="0" y="0" font-size="8.6" text-anchor="end" fill="#1a1a1a" stroke="#1a1a1a" stroke-width="0.16" transform="translate(521.7 859.6) rotate(-45)">shATM</text>
<rect x="441.4" y="793.8" width="13.4" height="56.8" fill="#fff" stroke="#1a1a1a" stroke-width="1.25"/>
<line x1="448.1" y1="778" x2="448.1" y2="806.2" stroke="#1a1a1a" stroke-width="0.9"/>
<line x1="444.3" y1="778" x2="451.9" y2="778" stroke="#1a1a1a" stroke-width="0.9"/>
<line x1="444.3" y1="806.2" x2="451.9" y2="806.2" stroke="#1a1a1a" stroke-width="0.9"/>
<rect x="465.5" y="825.1" width="13.5" height="25.5" fill="#fff" stroke="#a3202a" stroke-width="1.25"/>
<line x1="472.2" y1="805.2" x2="472.2" y2="841.2" stroke="#a3202a" stroke-width="0.9"/>
<line x1="468.4" y1="805.2" x2="476.1" y2="805.2" stroke="#a3202a" stroke-width="0.9"/>
<line x1="468.4" y1="841.2" x2="476.1" y2="841.2" stroke="#a3202a" stroke-width="0.9"/>
<rect x="490" y="797.5" width="13.2" height="53.1" fill="#fff" stroke="#1a1a1a" stroke-width="1.25"/>
<line x1="496.6" y1="787.4" x2="496.6" y2="807.3" stroke="#1a1a1a" stroke-width="0.9"/>
<line x1="492.8" y1="787.4" x2="500.4" y2="787.4" stroke="#1a1a1a" stroke-width="0.9"/>
<line x1="492.8" y1="807.3" x2="500.4" y2="807.3" stroke="#1a1a1a" stroke-width="0.9"/>
<rect x="514.1" y="814.7" width="13.6" height="35.9" fill="#fff" stroke="#e8322a" stroke-width="1.25"/>
<line x1="521" y1="799.4" x2="521" y2="827.1" stroke="#e8322a" stroke-width="0.9"/>
<line x1="517.2" y1="799.4" x2="524.8" y2="799.4" stroke="#e8322a" stroke-width="0.9"/>
<line x1="517.2" y1="827.1" x2="524.8" y2="827.1" stroke="#e8322a" stroke-width="0.9"/>
<circle cx="448.5" cy="764.1" r="1.9" fill="#1a1a1a"/>
<circle cx="448.5" cy="787.1" r="1.9" fill="#1a1a1a"/>
<circle cx="447.4" cy="791.5" r="1.9" fill="#1a1a1a"/>
<circle cx="451.8" cy="794.8" r="1.9" fill="#1a1a1a"/>
<circle cx="444.1" cy="794.8" r="1.9" fill="#1a1a1a"/>
<circle cx="450.7" cy="801.3" r="1.9" fill="#1a1a1a"/>
<circle cx="448.5" cy="808.6" r="1.9" fill="#1a1a1a"/>
<circle cx="472.6" cy="787.8" r="1.9" fill="#a3202a"/>
<circle cx="466" cy="809.7" r="1.9" fill="#a3202a"/>
<circle cx="472.6" cy="807.9" r="1.9" fill="#a3202a"/>
<circle cx="479.2" cy="810.8" r="1.9" fill="#a3202a"/>
<circle cx="466" cy="832" r="1.9" fill="#a3202a"/>
<circle cx="470.4" cy="833.1" r="1.9" fill="#a3202a"/>
<circle cx="474.8" cy="833.1" r="1.9" fill="#a3202a"/>
<circle cx="479.2" cy="836.4" r="1.9" fill="#a3202a"/>
<circle cx="466" cy="840.3" r="1.9" fill="#a3202a"/>
<circle cx="479.2" cy="840.3" r="1.9" fill="#a3202a"/>
<circle cx="496.7" cy="779.4" r="1.9" fill="#1a1a1a"/>
<circle cx="493.4" cy="788.2" r="1.9" fill="#1a1a1a"/>
<circle cx="498.9" cy="788.6" r="1.9" fill="#1a1a1a"/>
<circle cx="492.3" cy="791.9" r="1.9" fill="#1a1a1a"/>
<circle cx="496.7" cy="793.7" r="1.9" fill="#1a1a1a"/>
<circle cx="500" cy="794.8" r="1.9" fill="#1a1a1a"/>
<circle cx="493.4" cy="798.1" r="1.9" fill="#1a1a1a"/>
<circle cx="498.9" cy="799.2" r="1.9" fill="#1a1a1a"/>
<circle cx="494.5" cy="806.8" r="1.9" fill="#1a1a1a"/>
<circle cx="500" cy="806.8" r="1.9" fill="#1a1a1a"/>
<circle cx="520.8" cy="794.8" r="1.9" fill="#e8322a"/>
<circle cx="516.4" cy="797" r="1.9" fill="#e8322a"/>
<circle cx="524" cy="797" r="1.9" fill="#e8322a"/>
<circle cx="514.2" cy="810.5" r="1.9" fill="#e8322a"/>
<circle cx="527.3" cy="810.5" r="1.9" fill="#e8322a"/>
<circle cx="520.8" cy="812.3" r="1.9" fill="#e8322a"/>
<circle cx="518.6" cy="818.9" r="1.9" fill="#e8322a"/>
<circle cx="520.8" cy="834.2" r="1.9" fill="#e8322a"/>
<circle cx="520.8" cy="838.1" r="1.9" fill="#e8322a"/>
<text x="472.6" y="781.6" font-size="12.5" text-anchor="middle" font-weight="bold" fill="#1a1a1a">**</text>
<text x="520.8" y="787.5" font-size="12.5" text-anchor="middle" font-weight="bold" fill="#1a1a1a">*</text>
<line x1="581" y1="746" x2="581" y2="850.2" stroke="#1a1a1a" stroke-width="1.2"/>
<line x1="576.5" y1="850.2" x2="581" y2="850.2" stroke="#1a1a1a" stroke-width="1.05"/>
<text x="576.6" y="853.2" font-size="8.4" text-anchor="end" fill="#1a1a1a" stroke="#1a1a1a" stroke-width="0.16">0.0</text>
<line x1="576.5" y1="815.6" x2="581" y2="815.6" stroke="#1a1a1a" stroke-width="1.05"/>
<text x="576.6" y="818.6" font-size="8.4" text-anchor="end" fill="#1a1a1a" stroke="#1a1a1a" stroke-width="0.16">0.5</text>
<line x1="576.5" y1="781" x2="581" y2="781" stroke="#1a1a1a" stroke-width="1.05"/>
<text x="576.6" y="784" font-size="8.4" text-anchor="end" fill="#1a1a1a" stroke="#1a1a1a" stroke-width="0.16">1.0</text>
<line x1="576.5" y1="746.4" x2="581" y2="746.4" stroke="#1a1a1a" stroke-width="1.05"/>
<text x="576.6" y="749.4" font-size="8.4" text-anchor="end" fill="#1a1a1a" stroke="#1a1a1a" stroke-width="0.16">1.5</text>
<line x1="581" y1="850.2" x2="685" y2="850.2" stroke="#1a1a1a" stroke-width="1.2"/>
<text x="0" y="0" font-size="8.43" text-anchor="middle" fill="#1a1a1a" stroke="#1a1a1a" stroke-width="0.16" transform="translate(550 794.8) rotate(-90)">Insulin secretion</text>
<text x="0" y="0" font-size="8.43" text-anchor="middle" fill="#1a1a1a" stroke="#1a1a1a" stroke-width="0.16" transform="translate(560.4 794.8) rotate(-90)">(relative values)</text>
<line x1="597.4" y1="850.2" x2="597.4" y2="854.6" stroke="#1a1a1a" stroke-width="1.05"/>
<text x="0" y="0" font-size="8.6" text-anchor="end" fill="#1a1a1a" stroke="#1a1a1a" stroke-width="0.16" transform="translate(598.7 859.4) rotate(-45)">Control</text>
<line x1="621.5" y1="850.2" x2="621.5" y2="854.6" stroke="#1a1a1a" stroke-width="1.05"/>
<text x="0" y="0" font-size="8.6" text-anchor="end" fill="#1a1a1a" stroke="#1a1a1a" stroke-width="0.16" transform="translate(622.8 859.4) rotate(-45)">KU60019</text>
<line x1="645.1" y1="850.2" x2="645.1" y2="854.6" stroke="#1a1a1a" stroke-width="1.05"/>
<text x="0" y="0" font-size="8.6" text-anchor="end" fill="#1a1a1a" stroke="#1a1a1a" stroke-width="0.16" transform="translate(646.4 859.4) rotate(-45)">shCtl</text>
<line x1="669" y1="850.2" x2="669" y2="854.6" stroke="#1a1a1a" stroke-width="1.05"/>
<text x="0" y="0" font-size="8.6" text-anchor="end" fill="#1a1a1a" stroke="#1a1a1a" stroke-width="0.16" transform="translate(670.3 859.4) rotate(-45)">shATM</text>
<rect x="590.8" y="782.7" width="13.1" height="67.5" fill="#fff" stroke="#1a1a1a" stroke-width="1.25"/>
<line x1="597.4" y1="775.5" x2="597.4" y2="787.9" stroke="#1a1a1a" stroke-width="0.9"/>
<line x1="593.6" y1="775.5" x2="601.2" y2="775.5" stroke="#1a1a1a" stroke-width="0.9"/>
<line x1="593.6" y1="787.9" x2="601.2" y2="787.9" stroke="#1a1a1a" stroke-width="0.9"/>
<rect x="614.9" y="820" width="13.2" height="30.2" fill="#fff" stroke="#a3202a" stroke-width="1.25"/>
<line x1="621.5" y1="799.7" x2="621.5" y2="839.1" stroke="#a3202a" stroke-width="0.9"/>
<line x1="617.7" y1="799.7" x2="625.3" y2="799.7" stroke="#a3202a" stroke-width="0.9"/>
<line x1="617.7" y1="839.1" x2="625.3" y2="839.1" stroke="#a3202a" stroke-width="0.9"/>
<rect x="638.5" y="782.7" width="13.6" height="67.5" fill="#fff" stroke="#1a1a1a" stroke-width="1.25"/>
<line x1="645.3" y1="776.2" x2="645.3" y2="787.2" stroke="#1a1a1a" stroke-width="0.9"/>
<line x1="641.5" y1="776.2" x2="649.1" y2="776.2" stroke="#1a1a1a" stroke-width="0.9"/>
<line x1="641.5" y1="787.2" x2="649.1" y2="787.2" stroke="#1a1a1a" stroke-width="0.9"/>
<rect x="662.2" y="810" width="13.4" height="40.2" fill="#fff" stroke="#e8322a" stroke-width="1.25"/>
<line x1="668.9" y1="796.2" x2="668.9" y2="821.8" stroke="#e8322a" stroke-width="0.9"/>
<line x1="665.1" y1="796.2" x2="672.7" y2="796.2" stroke="#e8322a" stroke-width="0.9"/>
<line x1="665.1" y1="821.8" x2="672.7" y2="821.8" stroke="#e8322a" stroke-width="0.9"/>
<circle cx="594.1" cy="774" r="1.9" fill="#1a1a1a"/>
<circle cx="600.7" cy="775.5" r="1.9" fill="#1a1a1a"/>
<circle cx="597.4" cy="781.6" r="1.9" fill="#1a1a1a"/>
<circle cx="601.8" cy="783.4" r="1.9" fill="#1a1a1a"/>
<circle cx="594.1" cy="785.6" r="1.9" fill="#1a1a1a"/>
<circle cx="598.5" cy="788.2" r="1.9" fill="#1a1a1a"/>
<circle cx="621.5" cy="787.1" r="1.9" fill="#a3202a"/>
<circle cx="621.5" cy="807.3" r="1.9" fill="#a3202a"/>
<circle cx="618.2" cy="822.1" r="1.9" fill="#a3202a"/>
<circle cx="624.8" cy="823.2" r="1.9" fill="#a3202a"/>
<circle cx="618.2" cy="839" r="1.9" fill="#a3202a"/>
<circle cx="624.8" cy="839" r="1.9" fill="#a3202a"/>
<circle cx="644.8" cy="775.5" r="1.9" fill="#1a1a1a"/>
<circle cx="645.9" cy="776.2" r="1.9" fill="#1a1a1a"/>
<circle cx="649.5" cy="776.8" r="1.9" fill="#1a1a1a"/>
<circle cx="645" cy="778.2" r="1.9" fill="#1a1a1a"/>
<circle cx="645.4" cy="779.6" r="1.9" fill="#1a1a1a"/>
<circle cx="646.2" cy="781" r="1.9" fill="#1a1a1a"/>
<circle cx="642.1" cy="782.4" r="1.9" fill="#1a1a1a"/>
<circle cx="645.4" cy="783.8" r="1.9" fill="#1a1a1a"/>
<circle cx="646.6" cy="785.2" r="1.9" fill="#1a1a1a"/>
<circle cx="648.2" cy="786.5" r="1.9" fill="#1a1a1a"/>
<circle cx="669" cy="783.4" r="1.9" fill="#e8322a"/>
<circle cx="663.7" cy="805.7" r="1.9" fill="#e8322a"/>
<circle cx="670.8" cy="807.5" r="1.9" fill="#e8322a"/>
<circle cx="675.1" cy="807.9" r="1.9" fill="#e8322a"/>
<circle cx="665.9" cy="812.3" r="1.9" fill="#e8322a"/>
<circle cx="676.2" cy="812.3" r="1.9" fill="#e8322a"/>
<circle cx="669" cy="814.5" r="1.9" fill="#e8322a"/>
<circle cx="671.8" cy="817.8" r="1.9" fill="#e8322a"/>
<circle cx="666.4" cy="820" r="1.9" fill="#e8322a"/>
<circle cx="669" cy="822.1" r="1.9" fill="#e8322a"/>
<text x="621.5" y="779.9" font-size="12.5" text-anchor="middle" font-weight="bold" fill="#1a1a1a">****</text>
<text x="669" y="779.9" font-size="12.5" text-anchor="middle" font-weight="bold" fill="#1a1a1a">****</text>
</svg>
</body></html>
